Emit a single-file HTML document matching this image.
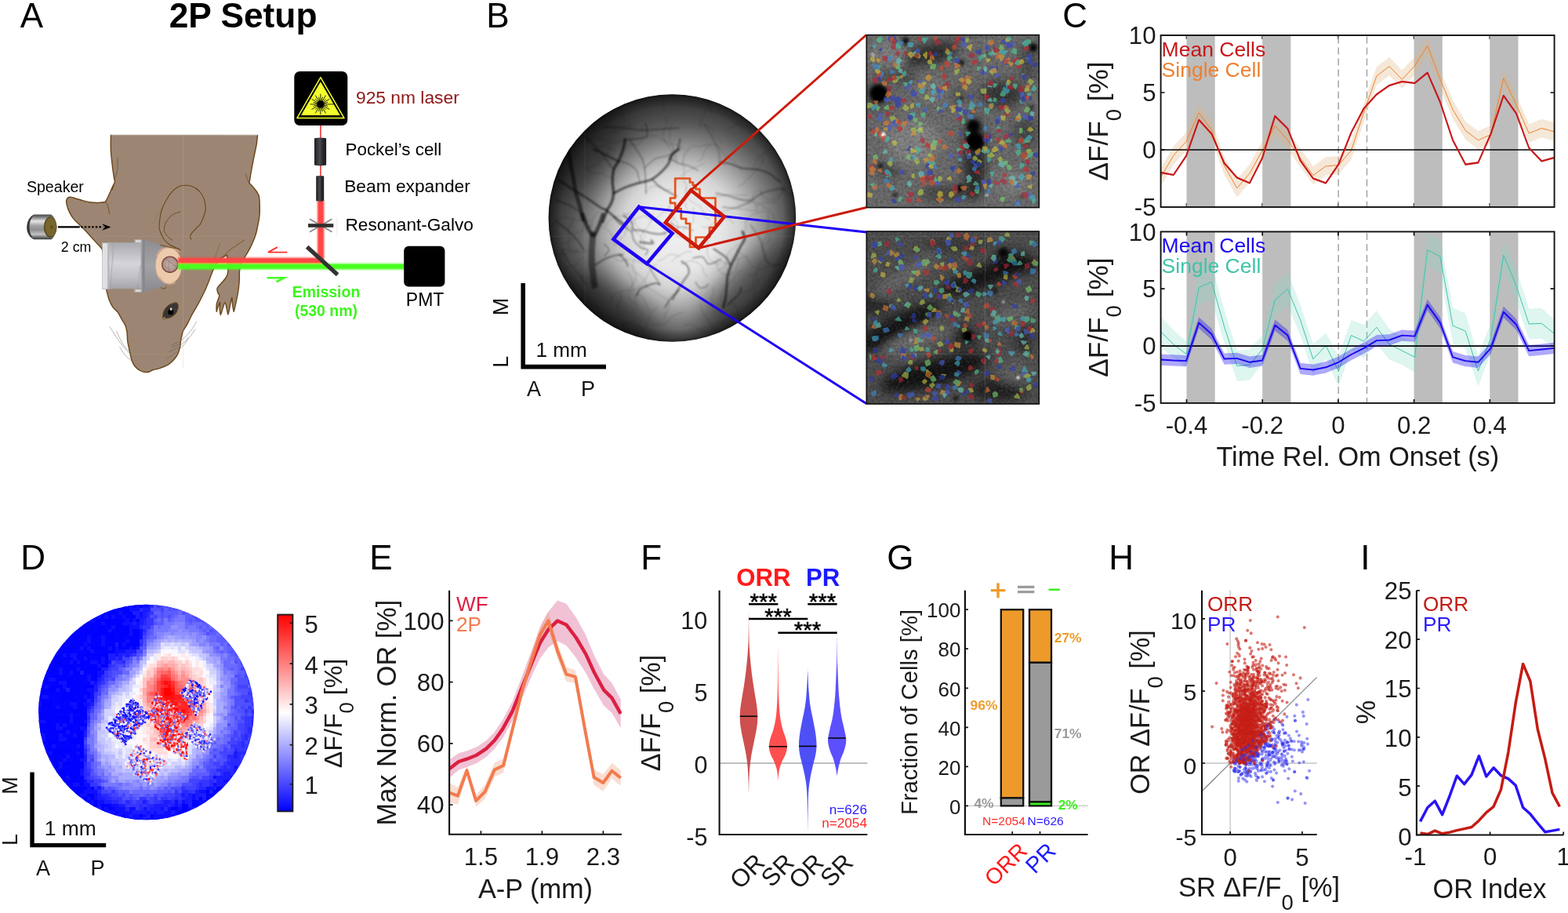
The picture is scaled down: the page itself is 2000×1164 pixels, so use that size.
<!DOCTYPE html>
<html lang="en"><head><meta charset="utf-8"><title>Figure</title>
<style>html,body{margin:0;padding:0;background:#fff}body{width:2000px;height:1164px;overflow:hidden}svg{display:block}text{white-space:pre}</style>
</head><body>
<svg width="2000" height="1164" viewBox="0 0 2000 1164" font-family='"Liberation Sans", sans-serif'>
<defs>
<linearGradient id="gObj" x1="0" y1="0" x2="0" y2="1"><stop offset="0" stop-color="#a9a9ae"/><stop offset="0.45" stop-color="#d4d4da"/><stop offset="0.75" stop-color="#c0c0c6"/><stop offset="1" stop-color="#a4a4a9"/></linearGradient>
<linearGradient id="gObj2" x1="0" y1="0" x2="0" y2="1"><stop offset="0" stop-color="#8e8e92"/><stop offset="0.5" stop-color="#a2a2a7"/><stop offset="1" stop-color="#8a8a8e"/></linearGradient>
<linearGradient id="gCell" x1="0" y1="0" x2="1" y2="0"><stop offset="0" stop-color="#1c1c20"/><stop offset="0.45" stop-color="#4a4a50"/><stop offset="0.7" stop-color="#2a2a2e"/><stop offset="1" stop-color="#18181b"/></linearGradient>
<linearGradient id="gSpk" x1="0" y1="0" x2="0" y2="1"><stop offset="0" stop-color="#444"/><stop offset="0.1" stop-color="#7a7a7a"/><stop offset="0.27" stop-color="#e6e6e6"/><stop offset="0.45" stop-color="#a2a2a2"/><stop offset="0.62" stop-color="#8e8e8e"/><stop offset="0.8" stop-color="#c4c4c4"/><stop offset="0.92" stop-color="#6a6a6a"/><stop offset="1" stop-color="#3a3a3a"/></linearGradient>
<filter id="bl1" x="-20%" y="-20%" width="140%" height="140%"><feGaussianBlur stdDeviation="0.8"/></filter>
<radialGradient id="gBrain" cx="0.5" cy="0.5" r="0.5"><stop offset="0" stop-color="#c2ada5"/><stop offset="0.75" stop-color="#b09890"/><stop offset="1" stop-color="#947870"/></radialGradient>
<clipPath id="cpWF"><circle cx="857.4" cy="278" r="157.8"/></clipPath>
<radialGradient id="gWF" gradientUnits="userSpaceOnUse" cx="868" cy="294" r="176"><stop offset="0" stop-color="#f0f0f0"/><stop offset="0.28" stop-color="#e8e8e8"/><stop offset="0.42" stop-color="#d4d4d4"/><stop offset="0.54" stop-color="#acacac"/><stop offset="0.66" stop-color="#7e7e7e"/><stop offset="0.78" stop-color="#565656"/><stop offset="0.9" stop-color="#3c3c3c"/><stop offset="1" stop-color="#2c2c2c"/></radialGradient>
<radialGradient id="gWFrim" gradientUnits="userSpaceOnUse" cx="857.4" cy="278" r="157.8"><stop offset="0.9" stop-color="#000" stop-opacity="0"/><stop offset="0.975" stop-color="#000" stop-opacity="0.3"/><stop offset="1" stop-color="#000" stop-opacity="0.6"/></radialGradient>
<filter id="blV" x="-10%" y="-10%" width="120%" height="120%"><feGaussianBlur stdDeviation="1.0"/></filter>
<filter id="blBig" x="-60%" y="-60%" width="220%" height="220%"><feGaussianBlur stdDeviation="16"/></filter>
<filter id="nzWF" x="0" y="0" width="100%" height="100%"><feTurbulence type="fractalNoise" baseFrequency="0.11" numOctaves="3" seed="4"/><feColorMatrix type="matrix" values="0 0 0 0 0  0 0 0 0 0  0 0 0 0 0  1.2 0 0 0 -0.42"/></filter>
<filter id="nz2p" x="0" y="0" width="100%" height="100%"><feTurbulence type="fractalNoise" baseFrequency="0.35" numOctaves="2" seed="7"/><feColorMatrix type="matrix" values="0 0 0 0 1  0 0 0 0 1  0 0 0 0 1  1.6 0 0 0 -0.62"/></filter>
<filter id="nz2pd" x="0" y="0" width="100%" height="100%"><feTurbulence type="fractalNoise" baseFrequency="0.3" numOctaves="2" seed="11"/><feColorMatrix type="matrix" values="0 0 0 0 0  0 0 0 0 0  0 0 0 0 0  1.6 0 0 0 -0.62"/></filter>
<filter id="blD" x="-50%" y="-50%" width="200%" height="200%"><feGaussianBlur stdDeviation="2.2"/></filter>
<filter id="blD2" x="-50%" y="-50%" width="200%" height="200%"><feGaussianBlur stdDeviation="7"/></filter>
<clipPath id="cp2p0"><rect x="1105.3" y="44.6" width="220" height="220"/></clipPath>
<clipPath id="cp2p1"><rect x="1105.3" y="295" width="220" height="220"/></clipPath>
<clipPath id="cpC0"><rect x="1480.6" y="45.0" width="502.0" height="219.0"/></clipPath>
<clipPath id="cpC1"><rect x="1480.6" y="295.4" width="502.0" height="218.5"/></clipPath>
<clipPath id="cpD"><circle cx="186.4" cy="908" r="137.3"/></clipPath>
<linearGradient id="gCB" x1="0" y1="1" x2="0" y2="0"><stop offset="0" stop-color="#0000ff"/><stop offset="0.5" stop-color="#ffffff"/><stop offset="1" stop-color="#ff0000"/></linearGradient>
<clipPath id="cpE"><rect x="573.1" y="747.8" width="219.89999999999998" height="316.0"/></clipPath>
</defs>
<text x="25.7" y="35.2" font-size="44" fill="#000">A</text>
<text x="310.1" y="35.1" font-size="44.3" fill="#000" text-anchor="middle" font-weight="bold">2P Setup</text>
<path d="M141.4 172.2 L328.5 172.4L328.5 172.4C328.3 174.3 328 179.1 327.2 184.1C326.3 189 324.7 196.5 323.5 202.1C322.4 207.7 321.5 212.5 320.5 217.7C319.6 223 318.4 230.8 318 233.4L318 233.4C319.1 234.5 322.5 237.8 324.5 240.4C326.5 243 328.9 245.4 330 249C331.2 252.7 331.1 257.8 331.2 262.3C331.4 266.7 331.3 271.3 330.9 275.5C330.5 279.7 329.5 283.9 328.8 287.5C328.1 291.1 327.6 294 326.7 297.2C325.8 300.4 324.6 303.7 323.3 306.8C322 309.9 320.7 312.8 319.1 315.9C317.5 319 315.5 322.2 313.7 325.5C311.8 328.8 309.3 332.4 307.9 335.7C306.5 339 305.9 341.7 305.5 345.3C305.1 348.9 305.5 353.4 305.3 357.4C305 361.4 304.6 365.4 304.1 369.4C303.5 373.4 302.7 377.6 301.9 381.4C301.1 385.2 300.1 389.6 299.5 392.3C298.9 394.9 298.4 396.5 298.2 397.3L298.2 397.3C297.9 395.9 297 391.6 296.6 388.6C296.2 385.7 296.3 380 295.9 379.6C295.5 379.2 294.7 383.5 294.1 386.2C293.5 388.9 292.8 393.4 292.3 395.9C291.7 398.3 291.1 400.1 290.8 400.9L290.8 400.9C290.5 399.5 289.5 394.8 288.9 392.3C288.3 389.7 287.7 385.6 287 385.6C286.2 385.6 285.1 390.2 284.3 392.3C283.6 394.4 283.2 396.7 282.6 398.3C282.1 399.8 281.4 400.9 281.2 401.4L281.2 401.4C281 400.1 280.3 396.1 280.2 393.5C280.2 390.8 281.1 386 280.7 385.6C280.4 385.2 279 389.1 278.2 391.1C277.4 393 276.5 396.3 276.2 397.3L276.2 397.3C276.2 395.7 275.8 390.8 276.4 387.4C277 384.1 279.5 379.6 279.8 377.2C280 374.9 278.3 374.9 277.8 373.2C277.4 371.6 276.6 369.4 277.1 367.6C277.7 365.7 279.4 364.4 281.2 362.2C283 359.9 286.6 356.6 288.2 354C289.8 351.4 290.5 349.6 290.8 346.5C291.2 343.5 290.5 339.3 290.3 335.7C290.1 332.1 289.7 326.9 289.6 325.1L289.6 325.1C288.2 326 283.6 328.1 281.2 330.3C278.8 332.5 276.8 335.7 275.2 338.1C273.6 340.5 273 341.5 271.6 344.7C270.2 347.9 268.6 352.9 266.8 357.4C265 361.9 263 367 260.8 371.8C258.5 376.6 256.1 381.4 253.5 386.2C250.9 391.1 247.6 396.1 245.1 400.7C242.6 405.3 240.4 410.4 238.5 413.9C236.6 417.4 234.9 418.6 233.7 421.7C232.4 424.8 231.6 429.1 230.9 432.6C230.2 436 230.2 439.1 229.6 442.2C229 445.2 228.3 448.2 227.1 450.8C225.8 453.5 224.3 455.8 222.3 458.1C220.3 460.3 218 462.7 215 464.6C212 466.4 207.6 468.2 204.2 469.4C200.8 470.6 196.8 471 194.6 471.8C192.4 472.5 192.6 473.4 191 473.8C189.4 474.3 187.2 474.9 185 474.5C182.8 474.2 179.9 473.1 177.7 471.8C175.5 470.4 173.3 468.6 171.7 466.5C170.1 464.4 169.2 462.5 168.1 459.3C167 456.1 166.1 451.2 165.2 447.2C164.4 443.2 163.3 439 162.8 435.2C162.3 431.4 162.5 427.6 162.1 424.4C161.7 421.2 161.5 419 160.3 416C159.1 412.9 156.6 409.3 154.9 406.3C153.2 403.3 151.9 400.3 150.1 397.9C148.3 395.5 145.9 394.5 144.1 391.9C142.3 389.3 140.6 385.9 139.2 382.3C137.9 378.7 136.6 373.2 135.9 370.2C135.2 367.3 135.2 365.5 135 364.6L135 364.6C134.9 360.5 134.8 347.9 134 340C133.2 332.1 130.9 321.1 130.3 317.4L130.3 317.4C129.3 316.3 126.5 313.3 124.1 310.8C121.8 308.3 119 305.1 116.4 302.3C113.8 299.4 111.2 296.5 108.7 293.8C106.1 291.1 103.4 288.5 100.9 286C98.5 283.6 96 281.7 94 279.1C91.9 276.5 90 273.4 88.6 270.6C87.1 267.7 86.1 264.5 85.5 262.1C84.8 259.6 84.5 257.5 84.7 255.9C84.9 254.2 85.6 252.9 86.6 252.2C87.7 251.4 89.1 251.2 90.9 251.4C92.6 251.6 94.5 252.4 97.1 253.2C99.6 253.9 103.3 255.1 106.3 255.9C109.4 256.7 112.4 257.6 115.6 258C118.9 258.5 122.6 258.4 125.7 258.4C128.8 258.3 132.8 257.7 134.2 257.6L134.2 257.6C134.7 256.7 136.1 254.4 137.3 252C138.4 249.7 139.9 246.3 141.2 243.5C142.4 240.7 144.7 235.3 145 235C145.3 234.7 142.6 242.5 142.9 241.8C143.1 241.1 146.1 232.8 146.7 231L146.7 231C146.5 230.4 146.2 231 145.6 227.4C145 223.8 143.8 215.3 143.1 209.3C142.4 203.3 141.7 197.5 141.4 191.3C141.1 185.1 141.4 175.3 141.4 172.2Z" fill="#9c8673"/>
<path d="M328.5 172.4C328.3 174.3 328 179.1 327.2 184.1C326.3 189 324.7 196.5 323.5 202.1C322.4 207.7 321.5 212.5 320.5 217.7C319.6 223 318.4 230.8 318 233.4L318 233.4C319.1 234.5 322.5 237.8 324.5 240.4C326.5 243 328.9 245.4 330 249C331.2 252.7 331.1 257.8 331.2 262.3C331.4 266.7 331.3 271.3 330.9 275.5C330.5 279.7 329.5 283.9 328.8 287.5C328.1 291.1 327.6 294 326.7 297.2C325.8 300.4 324.6 303.7 323.3 306.8C322 309.9 320.7 312.8 319.1 315.9C317.5 319 315.5 322.2 313.7 325.5C311.8 328.8 309.3 332.4 307.9 335.7C306.5 339 305.9 341.7 305.5 345.3C305.1 348.9 305.5 353.4 305.3 357.4C305 361.4 304.6 365.4 304.1 369.4C303.5 373.4 302.7 377.6 301.9 381.4C301.1 385.2 300.1 389.6 299.5 392.3C298.9 394.9 298.4 396.5 298.2 397.3L298.2 397.3C297.9 395.9 297 391.6 296.6 388.6C296.2 385.7 296.3 380 295.9 379.6C295.5 379.2 294.7 383.5 294.1 386.2C293.5 388.9 292.8 393.4 292.3 395.9C291.7 398.3 291.1 400.1 290.8 400.9L290.8 400.9C290.5 399.5 289.5 394.8 288.9 392.3C288.3 389.7 287.7 385.6 287 385.6C286.2 385.6 285.1 390.2 284.3 392.3C283.6 394.4 283.2 396.7 282.6 398.3C282.1 399.8 281.4 400.9 281.2 401.4L281.2 401.4C281 400.1 280.3 396.1 280.2 393.5C280.2 390.8 281.1 386 280.7 385.6C280.4 385.2 279 389.1 278.2 391.1C277.4 393 276.5 396.3 276.2 397.3L276.2 397.3C276.2 395.7 275.8 390.8 276.4 387.4C277 384.1 279.5 379.6 279.8 377.2C280 374.9 278.3 374.9 277.8 373.2C277.4 371.6 276.6 369.4 277.1 367.6C277.7 365.7 279.4 364.4 281.2 362.2C283 359.9 286.6 356.6 288.2 354C289.8 351.4 290.5 349.6 290.8 346.5C291.2 343.5 290.5 339.3 290.3 335.7C290.1 332.1 289.7 326.9 289.6 325.1L289.6 325.1C288.2 326 283.6 328.1 281.2 330.3C278.8 332.5 276.8 335.7 275.2 338.1C273.6 340.5 273 341.5 271.6 344.7C270.2 347.9 268.6 352.9 266.8 357.4C265 361.9 263 367 260.8 371.8C258.5 376.6 256.1 381.4 253.5 386.2C250.9 391.1 247.6 396.1 245.1 400.7C242.6 405.3 240.4 410.4 238.5 413.9C236.6 417.4 234.9 418.6 233.7 421.7C232.4 424.8 231.6 429.1 230.9 432.6C230.2 436 230.2 439.1 229.6 442.2C229 445.2 228.3 448.2 227.1 450.8C225.8 453.5 224.3 455.8 222.3 458.1C220.3 460.3 218 462.7 215 464.6C212 466.4 207.6 468.2 204.2 469.4C200.8 470.6 196.8 471 194.6 471.8C192.4 472.5 192.6 473.4 191 473.8C189.4 474.3 187.2 474.9 185 474.5C182.8 474.2 179.9 473.1 177.7 471.8C175.5 470.4 173.3 468.6 171.7 466.5C170.1 464.4 169.2 462.5 168.1 459.3C167 456.1 166.1 451.2 165.2 447.2C164.4 443.2 163.3 439 162.8 435.2C162.3 431.4 162.5 427.6 162.1 424.4C161.7 421.2 161.5 419 160.3 416C159.1 412.9 156.6 409.3 154.9 406.3C153.2 403.3 151.9 400.3 150.1 397.9C148.3 395.5 145.9 394.5 144.1 391.9C142.3 389.3 140.6 385.9 139.2 382.3C137.9 378.7 136.6 373.2 135.9 370.2C135.2 367.3 135.2 365.5 135 364.6L135 364.6C134.9 360.5 134.8 347.9 134 340C133.2 332.1 130.9 321.1 130.3 317.4L130.3 317.4C129.3 316.3 126.5 313.3 124.1 310.8C121.8 308.3 119 305.1 116.4 302.3C113.8 299.4 111.2 296.5 108.7 293.8C106.1 291.1 103.4 288.5 100.9 286C98.5 283.6 96 281.7 94 279.1C91.9 276.5 90 273.4 88.6 270.6C87.1 267.7 86.1 264.5 85.5 262.1C84.8 259.6 84.5 257.5 84.7 255.9C84.9 254.2 85.6 252.9 86.6 252.2C87.7 251.4 89.1 251.2 90.9 251.4C92.6 251.6 94.5 252.4 97.1 253.2C99.6 253.9 103.3 255.1 106.3 255.9C109.4 256.7 112.4 257.6 115.6 258C118.9 258.5 122.6 258.4 125.7 258.4C128.8 258.3 132.8 257.7 134.2 257.6L134.2 257.6C134.7 256.7 136.1 254.4 137.3 252C138.4 249.7 139.9 246.3 141.2 243.5C142.4 240.7 144.7 235.3 145 235C145.3 234.7 142.6 242.5 142.9 241.8C143.1 241.1 146.1 232.8 146.7 231L146.7 231C146.5 230.4 146.2 231 145.6 227.4C145 223.8 143.8 215.3 143.1 209.3C142.4 203.3 141.7 197.5 141.4 191.3C141.1 185.1 141.4 175.3 141.4 172.2" fill="none" stroke="#6b4619" stroke-width="1.45" stroke-linejoin="round" stroke-linecap="round"/>
<path d="M141.4 172.2H328.5" stroke="#a8937f" stroke-width="0.8"/>
<path d="M243.9 305C243.7 304.4 242.3 302.8 242.5 301.4C242.7 300 243.5 298.7 245.1 296.6C246.8 294.5 250.5 290.7 252.3 288.8C254.1 286.9 254.3 288.5 255.9 285.1C257.5 281.7 261.2 273.5 262 268.3C262.7 263.1 261.7 258 260.3 253.8C258.9 249.6 256.1 245.7 253.5 243C251 240.3 248.1 238.8 245.1 237.7C242.1 236.6 238.5 236.2 235.5 236.3C232.5 236.4 229.9 236.7 227.1 238.2C224.3 239.7 221.3 242.4 218.6 245.4C216 248.4 213.5 252.4 211.4 256.2C209.3 260.1 207.4 264.3 206.1 268.3C204.9 272.3 204.3 276.7 203.7 280.3C203.2 283.9 202.9 287.5 203 289.9C203.1 292.3 203.2 292.3 204.2 294.8C205.2 297.3 207 302.2 209 305C211 307.8 213.6 309.8 216.2 311.7C218.8 313.5 222.5 314.8 224.7 315.9C226.9 317 228.7 317.9 229.5 318.3" fill="none" stroke="#6b4619" stroke-width="1.1" stroke-linecap="round"/>
<path d="M230.1 270.1C228.8 270.5 224.8 271.1 222.3 272.5C219.7 273.9 217 276.2 215 278.5C213.1 280.8 211.4 283.8 210.5 286.3C209.5 288.8 209.3 291.7 209.4 293.5C209.4 295.4 209.9 295.7 210.8 297.2C211.8 298.7 213.6 301.1 215 302.6C216.5 304.1 218.8 305.6 219.6 306.2" fill="none" stroke="#6b4619" stroke-width="0.9" stroke-linecap="round"/>
<path d="M215 251.4C213.2 254.2 207.5 262.7 204.2 268.3C200.9 273.9 196.7 282.3 195.2 285.1" fill="none" stroke="#8a6a48" stroke-width="0.45"/>
<path d="M134.2 257.6C134.5 257.9 135.5 258.2 136.1 259.4C136.8 260.5 137.5 262.1 138.1 264.4C138.6 266.6 139.3 271.5 139.6 272.9" fill="none" stroke="#6b4619" stroke-width="0.9"/>
<path d="M150.1 200.9C150 203.7 150.3 213.1 149.6 217.7C148.9 222.4 146.6 226.8 146 228.6" fill="none" stroke="#6b4619" stroke-width="0.7"/>
<path d="M313.4 221.6C313.8 222.8 314.7 226.6 315.5 228.6C316.3 230.5 317.6 232.6 318 233.4" fill="none" stroke="#6b4619" stroke-width="0.7"/>
<path d="M312.5 305.6C309.5 307.7 299.6 313.8 294.4 317.9C289.2 322 283.4 328.2 281.2 330.3" fill="none" stroke="#6b4619" stroke-width="0.8"/>
<path d="M281.2 309.2C280.4 311.3 277.8 317.8 276.6 321.3C275.4 324.7 274.4 328.5 274 329.9" fill="none" stroke="#7a5a38" stroke-width="0.6"/>
<path d="M165.1 450.6C163.2 448.4 157.9 443.1 153.7 437.4C149.5 431.7 142.2 419.8 139.8 416.3" fill="none" stroke="#77746c" stroke-width="0.55"/>
<path d="M164.8 448.2C163.3 446.4 158.8 441.8 156.1 437.4C153.3 433 149.6 424.3 148.3 421.7" fill="none" stroke="#77746c" stroke-width="0.55"/>
<path d="M168.1 460.2C166.7 459 162.3 456 159.7 453C157.1 450 153.7 444 152.5 442.2" fill="none" stroke="#77746c" stroke-width="0.55"/>
<path d="M230.1 435C232 433.2 238 428.3 241.5 424.1C245 419.9 249.5 412.1 251.1 409.7" fill="none" stroke="#77746c" stroke-width="0.55"/>
<path d="M230.7 439.8C232.5 438.2 238.4 433.6 241.5 430.2C244.6 426.7 248 421.1 249.3 419.3" fill="none" stroke="#77746c" stroke-width="0.55"/>
<path d="M229.5 444.6C230.5 443.6 233.7 441 235.5 438.6C237.3 436.2 239.5 431.6 240.3 430.2" fill="none" stroke="#77746c" stroke-width="0.55"/>
<path d="M218 440.4 L228.9 435.6" fill="none" stroke="#6a675f" stroke-width="0.7"/>
<path d="M218.6 442.8 L228.3 439.2" fill="none" stroke="#6a675f" stroke-width="0.7"/>
<path d="M215 448.8 L227.7 442.8" fill="none" stroke="#6a675f" stroke-width="0.7"/>
<path d="M212.6 457.2 L225.9 448.8" fill="none" stroke="#6a675f" stroke-width="0.7"/>
<path d="M207.8 406.1C207.3 404.7 207.5 400.3 208.4 397.7C209.3 395.1 211.1 392.4 213.2 390.5C215.3 388.5 218.8 386.8 221.1 386.2C223.3 385.6 225.5 385.7 226.5 386.8C227.5 387.9 227.5 390.7 227.1 392.9C226.7 395.1 225.7 398.1 224.1 400.1C222.5 402.1 219.5 403.9 217.4 404.9C215.3 405.9 213 405.9 211.4 406.1C209.8 406.3 208.3 407.5 207.8 406.1Z" fill="#3b3634" stroke="#7a5218" stroke-width="0.9"/>
<circle cx="217.7" cy="397.9" r="3.6" fill="#000"/>
<ellipse cx="218.2" cy="394.1" rx="1.2" ry="1.9" fill="#e8e8e8"/>
<path d="M207.8 406.1 L209.6 404.3 L211.4 406.1Z" fill="#b8a898"/>
<path d="M233.7 173V470" stroke="#c9b9a6" stroke-width="0.5" opacity="0.6"/>
<path d="M116 301.3H327" stroke="#c9b9a6" stroke-width="0.5" opacity="0.35"/>
<path d="M160 451.3H232" stroke="#c9b9a6" stroke-width="0.5" opacity="0.35"/>
<path d="M183.8 306 L192.2 307.8 L201.8 311.4 L210.2 315.9 L204.2 326.1 L200.8 338.1 L203 350.2 L212.6 362.2 L204.2 366 L194.6 369.4 L183.8 372.2Z" fill="url(#gObj2)"/>
<rect x="144.1" y="309.2" width="35.8" height="58.9" fill="url(#gObj)"/>
<rect x="130.6" y="309.8" width="7" height="58.9" fill="#e0e0e3" stroke="#b0b0b4" stroke-width="0.6"/>
<rect x="137.6" y="309.2" width="6.7" height="59.2" fill="url(#gObj)"/>
<rect x="137.6" y="309.2" width="1.7" height="59.2" fill="#b8b8bd"/>
<rect x="171.1" y="305.6" width="9.6" height="3.6" fill="#d4d4d8"/>
<rect x="171.1" y="368.8" width="9.6" height="3.6" fill="#d4d4d8"/>
<rect x="171.1" y="305.6" width="1.8" height="3.6" fill="#a8a8ac"/>
<rect x="171.1" y="368.8" width="1.8" height="3.6" fill="#a8a8ac"/>
<rect x="179.9" y="305.6" width="4.7" height="66.8" fill="#87878c"/>
<rect x="179.9" y="305.6" width="1.4" height="66.8" fill="#a6a6ab"/>
<line x1="145" y1="310.5" x2="140.5" y2="367.6" stroke="#98989c" stroke-width="0.6"/>
<line x1="179.2" y1="338.1" x2="175.6" y2="367.6" stroke="#98989c" stroke-width="0.6"/>
<ellipse cx="215" cy="338.7" rx="16.8" ry="23.2" fill="#ebcbab" stroke="#c9a184" stroke-width="0.9"/>
<path d="M199.4 326.1C200.2 324.9 202 320.6 204.2 318.9C206.4 317.2 209.6 316.2 212.6 315.9C215.6 315.5 219.4 315.8 222.3 316.7C225.1 317.6 228.3 320.5 229.5 321.3" fill="none" stroke="#d8a890" stroke-width="1.4"/>
<path d="M203 352.6C204 353.8 206.8 358.2 209 359.8C211.2 361.4 213.8 362.1 216.2 362.2C218.6 362.3 222.3 360.7 223.5 360.4" fill="none" stroke="#d8a890" stroke-width="1.4"/>
<circle cx="216.8" cy="337.2" r="10.2" fill="url(#gBrain)" stroke="#7a3c30" stroke-width="1.1"/>
<path d="M211.4 329.7C212.2 330.3 214.6 332 216.2 333.3C217.8 334.6 219.4 336.3 221.1 337.5C222.7 338.7 225.1 340 225.9 340.5" fill="none" stroke="#6a4a40" stroke-width="0.5"/>
<path d="M216.2 333.3C216 334.5 215 338.3 215 340.5C215 342.7 216 345.5 216.2 346.5" fill="none" stroke="#7a5a50" stroke-width="0.4"/>
<path d="M209 338.1C209.6 338.7 211.6 341.3 212.6 341.7C213.6 342.1 214.6 340.7 215 340.5" fill="none" stroke="#8a6a60" stroke-width="0.35"/>
<path d="M204.2 312.3C205.4 312.6 208.8 313.5 211.4 314.1C214 314.7 217 315.3 219.8 315.9C222.7 316.4 226.6 316.7 228.3 317.4C230 318.1 229.8 319.6 230.1 320.1" fill="none" stroke="#6b4619" stroke-width="1.0"/>
<path d="M204.8 366.4C205.5 366.7 207.7 368.3 209 368.2C210.3 368.1 212 366.2 212.6 365.8" fill="none" stroke="#6b4619" stroke-width="0.9"/>
<g filter="url(#bl1)">
<rect x="405" y="256" width="8.2" height="76" fill="#ff4040"/>
<rect x="227" y="328.6" width="186" height="7.2" fill="#ff4040"/>
<rect x="227" y="336.2" width="289" height="7.2" fill="#44ff1c"/>
</g>
<rect x="406.2" y="256" width="5.8" height="74" fill="#ff4646"/>
<rect x="228" y="329.8" width="182" height="4.8" fill="#ff4646"/>
<rect x="228" y="337.2" width="288" height="5.2" fill="#48ff20"/>
<rect x="408.1" y="158" width="1.6" height="100" fill="#f03838"/>
<rect x="375.3" y="91" width="68" height="69" rx="7" fill="#000"/>
<path d="M408.9 98.6L439 150.6H378.8Z" fill="none" stroke="#f2ff2e" stroke-width="1.5" stroke-linejoin="round"/>
<path d="M408.9 104.2L433.8 147H384Z" fill="#f2ff2e"/>
<path d="M408.9 132.9L425.9 132.9M408.9 132.9L418.1 130.4M408.9 132.9L420.3 126.3M408.9 132.9L415.6 126.2M408.9 132.9L415.5 121.5M408.9 132.9L411.4 123.7M408.9 132.9L408.9 119.7M408.9 132.9L406.4 123.7M408.9 132.9L402.3 121.5M408.9 132.9L402.2 126.2M408.9 132.9L397.5 126.3M408.9 132.9L399.7 130.4M408.9 132.9L395.7 132.9M408.9 132.9L399.7 135.4M408.9 132.9L397.5 139.5M408.9 132.9L402.2 139.6M408.9 132.9L402.3 144.3M408.9 132.9L406.4 142.1M408.9 132.9L408.9 146.1M408.9 132.9L411.4 142.1M408.9 132.9L415.5 144.3M408.9 132.9L415.6 139.6M408.9 132.9L420.3 139.5M408.9 132.9L418.1 135.4" stroke="#111" stroke-width="0.9"/>
<circle cx="408.9" cy="132.9" r="4.6" fill="#000"/>
<text x="454" y="132.2" font-size="22.8" fill="#8f1616">925 nm laser</text>
<path d="M401 176.2Q408.5 174.8 416.1 176.2V210.6Q408.5 212.2 401 210.6Z" fill="url(#gCell)"/>
<text x="440.5" y="198.3" font-size="22.4" fill="#000">Pockel’s cell</text>
<path d="M403.2 224.4Q408.2 223.4 413.2 224.4V256.2Q408.2 257 403.2 256.2Z" fill="url(#gCell)"/>
<text x="439.2" y="245" font-size="22.75" fill="#000">Beam expander</text>
<path d="M395 279.2L423.5 295.8M395 295.8L423.5 279.2" stroke="#8a8a8a" stroke-width="1.9"/>
<rect x="393" y="285.2" width="32.3" height="4.6" fill="#2e2e2e"/>
<path d="M429.8 277V301" stroke="#ddd" stroke-width="0.6"/>
<text x="440.5" y="294" font-size="22.6" fill="#000">Resonant-Galvo</text>
<path d="M391.6 314.8L430.6 350.2" stroke="#333" stroke-width="5.2"/>
<rect x="515.2" y="313.8" width="52.2" height="51.8" rx="6" fill="#000"/>
<text x="542.1" y="390.1" font-size="23" fill="#000" text-anchor="middle">PMT</text>
<path d="M366.3 321.6H342L353.8 315.2" fill="none" stroke="#ff3030" stroke-width="1.9"/>
<path d="M340.5 353H367.5L353.4 360.4L351.8 358L357.5 355.4H340.5Z" fill="#40ff20"/>
<text x="416" y="379.2" font-size="19.5" fill="#3df51d" text-anchor="middle" font-weight="bold">Emission</text>
<text x="416" y="402.9" font-size="19.5" fill="#3df51d" text-anchor="middle" font-weight="bold">(530 nm)</text>
<path d="M43.1 273.4L65.3 273.4Q71.8 277.6 72.5 289.4Q71.8 301.2 65.3 305.2L43.1 305.2Q34.2 300.3 34.2 289.4Q34.2 278.6 43.1 273.4Z" fill="url(#gSpk)"/>
<path d="M43.1 273.4Q34.2 278.6 34.2 289.4Q34.2 300.3 43.1 305.2Q37.5 298.4 37.5 289.4Q37.5 280.5 43.1 273.4Z" fill="#1c1c1c" opacity="0.8"/>
<ellipse cx="64.2" cy="289.4" rx="8.3" ry="13.2" fill="#4e431c"/>
<ellipse cx="64.7" cy="289.4" rx="7.3" ry="12.2" fill="#76652c"/>
<ellipse cx="65.8" cy="289.4" rx="1.1" ry="1.9" fill="#3a2c0e"/>
<ellipse cx="66" cy="289.4" rx="0.45" ry="0.8" fill="#c08a30"/>
<text x="33.9" y="245" font-size="19.6" fill="#000">Speaker</text>
<text x="77.8" y="321" font-size="17.8" fill="#000">2 cm</text>
<path d="M73.9 289.4H101.8" stroke="#000" stroke-width="2.3"/>
<path d="M103.2 289.4H131.5" stroke="#000" stroke-width="2.4" stroke-dasharray="2.5 2.15"/>
<path d="M141.6 289.4L130.2 285.2L134 289.4L130.2 293.8Z" fill="#000"/>
<text x="620.2" y="35.2" font-size="44" fill="#000">B</text>
<circle cx="857.4" cy="278" r="157.8" fill="url(#gWF)"/>
<g clip-path="url(#cpWF)">
<g filter="url(#blBig)">
<ellipse cx="968" cy="380" rx="85" ry="50" transform="rotate(-42 968 380)" fill="#000" opacity="0.45"/>
<ellipse cx="740" cy="190" rx="70" ry="45" transform="rotate(-45 740 190)" fill="#000" opacity="0.3"/>
<ellipse cx="775" cy="405" rx="75" ry="40" transform="rotate(38 775 405)" fill="#000" opacity="0.5"/>
</g>
<path d="M920.8 385.1C920.5 383.9 918.8 380.2 919 377.9C919.3 375.5 921.2 373.4 922.2 371.1C923.3 368.8 923.6 366 925.2 364.2C926.8 362.4 929.9 362.2 931.7 360.5C933.5 358.9 934.6 356.4 936.1 354.4C937.5 352.4 938.8 350 940.6 348.4C942.5 346.8 946.1 345.3 947.1 344.7M1001.6 290.8C1000.4 290.9 996.5 290.6 994.1 291.1C991.7 291.7 989.3 292.8 987.3 294.2C985.2 295.5 983 297.3 982 299.5C980.9 301.6 982 304.8 980.9 306.9C979.8 309 976.3 311.1 975.3 311.9M847.4 138.1C847.2 136.9 846.4 133.2 845.9 130.8C845.5 128.3 844.9 125.8 844.8 123.4C844.8 120.9 845.2 118.3 845.8 115.9C846.3 113.5 847.8 110 848.2 108.8M878.5 269.3C877.8 268.3 875.1 265.3 874.4 263C873.7 260.8 874.6 258 874.5 255.5C874.5 253 874.2 250.6 874.2 248.1C874.2 245.6 874.3 241.8 874.4 240.6M799.9 365.1C800.4 366.2 802.5 369.5 803.1 371.9C803.6 374.3 802.3 377.1 803 379.4C803.7 381.7 805.4 383.9 807.1 385.6C808.9 387.3 812.4 388.9 813.5 389.6M795.5 158.8C795.6 157.5 796.8 153.7 796.3 151.3C795.8 149 793.8 147 792.7 144.7C791.7 142.5 790.7 140.2 789.8 137.8C788.9 135.5 788.3 133 787.3 130.7C786.4 128.5 785.2 126.2 783.8 124.1C782.5 122 781 119.8 779 118.4C777 117 774.3 116.7 772 115.7C769.7 114.7 766.3 113.2 765.1 112.6M819.2 419.4C818.3 418.6 815.5 416 813.5 414.6C811.5 413.1 809.4 411.2 807.1 410.7C804.7 410.2 801.8 410.6 799.6 411.6C797.4 412.5 795.9 415.1 793.8 416.3C791.7 417.6 789.2 419.1 786.9 419.1C784.5 419.2 780.9 417.3 779.7 416.9M752.3 280.6C751.1 280.7 747.3 281.2 744.9 281.2C742.4 281.2 739.9 280.9 737.4 280.6C734.9 280.3 732.4 280 730 279.4C727.6 278.8 725.3 277.2 722.9 276.9C720.5 276.7 717.7 277 715.4 277.8C713.1 278.6 711.1 280.3 709.1 281.9C707.2 283.5 706 286.1 703.9 287.2C701.8 288.4 697.7 288.4 696.5 288.7M791.3 373.2C791.4 374.4 792.6 378.3 792.1 380.6C791.7 383 789.2 384.9 788.6 387.2C788 389.6 788.4 392.2 788.4 394.7C788.5 397.2 788.9 401 789 402.2M872.8 302.2C871.6 302.2 867.5 303.1 865.3 302.3C863.1 301.5 860.7 299.6 859.5 297.6C858.2 295.6 858.1 292.8 857.6 290.3C857.2 287.9 856.4 285.2 856.7 282.9C857.1 280.5 859.3 277.1 859.8 276M765.7 283.2C766.3 284.3 767.5 288.2 769.2 289.9C770.9 291.5 774 291.7 775.9 293.3C777.8 294.9 779.4 297 780.5 299.2C781.6 301.4 781.9 304 782.6 306.4C783.3 308.8 784.5 312.4 784.9 313.6M875.2 248.7C875.9 249.8 877.7 253.2 879.4 254.9C881.2 256.7 883.4 258 885.6 259.3C887.7 260.6 890.4 261.1 892.2 262.7C894 264.3 895.2 266.7 896.4 268.9C897.5 271.1 897.7 273.9 899.1 275.9C900.6 277.9 903.9 279.9 904.9 280.7M931.8 382.1C932.5 383.1 934.8 386.1 936.2 388.2C937.6 390.3 939.3 392.2 940.3 394.5C941.3 396.7 940.9 399.7 942.2 401.7C943.6 403.7 946 405.2 948.2 406.2C950.4 407.3 954.3 407.7 955.5 408M927.8 164.4C929 163.9 932.5 162.6 934.8 161.7C937.1 160.8 939.4 159.1 941.8 158.9C944.1 158.6 946.7 159.8 949.1 160.2C951.6 160.6 954.2 161.6 956.6 161.3C959 161 961.2 159.4 963.6 158.7C966 157.9 968.7 158.1 970.9 156.9C973 155.8 974.4 153.2 976.4 151.9C978.5 150.5 982.1 149.2 983.2 148.7M818.1 313.8C818 312.6 817.4 308.8 817.5 306.4C817.5 303.9 817.5 301.2 818.3 298.9C819.2 296.6 821.1 294.7 822.6 292.8C824.2 290.8 826.3 289.2 827.6 287.2C828.9 285.1 829.7 282.6 830.4 280.2C831.2 277.8 832 274.2 832.3 273M995.3 241.4C996.2 242.2 998.9 245.1 1001 246.2C1003.2 247.3 1006 247.2 1008.3 248.1C1010.6 249 1013.1 249.9 1015 251.4C1017 252.9 1019.1 256.1 1020 257.1M903.9 300.6C903.6 301.8 902.4 305.4 902.1 307.8C901.8 310.3 902 312.8 902 315.3C902 317.8 901.6 320.4 902.1 322.8C902.6 325.2 903.5 327.8 905 329.8C906.4 331.7 908.5 333.5 910.7 334.6C912.8 335.8 916.7 336.3 917.9 336.6M766.5 365.7C765.4 365.2 762 363.5 759.8 362.4C757.6 361.3 755.1 360.5 753.1 359C751.1 357.6 750 354.7 747.9 353.6C745.8 352.4 741.8 352.4 740.6 352.2M941.6 237.8C942.8 237.3 946.4 235.9 948.3 234.4C950.1 232.8 951 230.1 952.7 228.3C954.5 226.6 957.1 225.6 958.8 223.8C960.4 222 961.3 219.4 962.9 217.6C964.5 215.7 966.9 214.5 968.6 212.7C970.2 210.8 972.1 208.8 972.8 206.5C973.4 204.2 972.5 200.2 972.5 199M793.5 331.6C794.8 331.4 798.5 330.2 800.9 330.3C803.4 330.4 805.8 331.5 808.2 332.1C810.6 332.7 813.1 333.1 815.5 333.8C817.9 334.5 820.2 335.4 822.6 336.3C824.9 337.2 827.1 339 829.5 339.2C831.9 339.4 835.6 337.8 836.8 337.5M786.8 230.1C785.6 229.7 782.1 228.3 779.8 227.3C777.5 226.3 775.2 225.4 773 224.3C770.7 223.1 768.7 221.1 766.4 220.6C764.1 220.2 761.4 221.7 758.9 221.4C756.5 221.1 753.7 220.4 751.9 218.9C750 217.5 748.5 213.7 747.8 212.6M805.5 344.7C806.6 345.3 810.1 346.8 812.2 348.1C814.2 349.5 816.2 351.2 818 352.9C819.8 354.6 821.7 356.4 822.9 358.6C824 360.7 824.6 364.6 824.9 365.8M962.9 263C964 262.5 967.5 261.1 969.9 260.2C972.2 259.4 974.5 257.9 976.9 257.6C979.3 257.4 981.9 259.2 984.3 258.9C986.6 258.6 989.4 257.4 991.1 255.8C992.8 254.1 993.1 251.2 994.5 249.1C995.9 247 998.5 245.6 999.4 243.4C1000.2 241.2 999.7 237.1 999.8 235.9M839 391.6C838 392.4 834.7 394.4 833.1 396.2C831.4 398.1 830.3 400.4 829.2 402.6C828.1 404.9 827.3 407.3 826.4 409.6C825.5 411.9 824.9 414.4 823.8 416.6C822.7 418.9 821.7 421.5 819.9 423C818.1 424.6 814.8 424.3 812.9 425.8C811 427.3 809.3 430.9 808.6 431.9M753.1 291.4C753.3 290.1 753.8 286.4 754.5 284C755.2 281.6 755.9 279.1 757.2 277C758.4 274.9 760.3 273 762.1 271.4C764 269.7 766 267.9 768.3 267.1C770.5 266.2 774.5 266.4 775.7 266.3M818.4 160.4C818.6 161.6 819.5 165.3 819.8 167.8C820.1 170.3 820.5 172.9 820 175.3C819.5 177.7 818.5 180.4 816.9 182.1C815.3 183.8 812.6 185.3 810.3 185.7C808 186 805.3 183.9 803 184.3C800.6 184.6 798.4 186.4 796.4 187.9C794.4 189.3 791.9 192.2 791 193.1M821.9 364.8C823.1 365.4 826.4 367 828.7 368.1C830.9 369.3 833.2 370.3 835.3 371.7C837.4 373 839.1 374.9 841.2 376.2C843.3 377.6 845.9 378.2 847.8 379.7C849.8 381.2 852 383.1 852.9 385.2C853.9 387.4 854.1 390.5 853.5 392.7C852.8 395 850 396.6 849.1 398.8C848.2 401.1 848.2 405 848 406.3M744.6 328.3C743.5 328.9 740.1 330.6 738.2 332.2C736.3 333.8 735.5 336.7 733.5 338C731.5 339.3 728.5 339 726.2 339.9C723.9 340.8 721.5 341.9 719.6 343.5C717.7 345 716.6 347.7 714.6 349.1C712.7 350.5 709.6 350.4 707.6 351.8C705.6 353.1 704.5 355.8 702.7 357.4C700.8 359 697.5 360.9 696.5 361.6M893.3 388.2C893.7 389.4 894.6 393.1 895.6 395.4C896.5 397.7 897.6 399.9 898.9 402.1C900.1 404.3 901.6 406.3 903.1 408.3C904.6 410.3 906.4 412.1 907.6 414.3C908.9 416.4 910 418.8 910.7 421.1C911.4 423.5 911.9 426 912 428.5C912.2 431 911.7 434.7 911.6 436M823.4 245.4C824.2 244.4 826.5 241.3 828.6 239.9C830.6 238.6 833.2 237.4 835.5 237.2C837.9 237 840.5 238 842.8 238.9C845.1 239.9 847 242.2 849.3 242.7C851.7 243.1 855.5 241.7 856.7 241.5M827.7 277.8C826.5 277.4 822.9 275.4 820.6 275.5C818.2 275.5 815.9 277.4 813.6 278.2C811.2 279.1 808.4 279.2 806.4 280.5C804.5 281.9 803 284.2 801.7 286.3C800.4 288.4 799.5 290.8 798.6 293.1C797.6 295.5 797.4 298.2 796 300.2C794.5 302.1 791 304 790 304.8M819.7 318.1C820.1 316.9 822 313.4 821.9 311C821.9 308.6 820.8 306 819.5 303.9C818.2 301.8 816.2 300.1 814.3 298.5C812.5 296.8 810.3 295.4 808.4 293.8C806.5 292.2 805 290 802.9 288.7C800.8 287.5 797.9 287.4 795.9 286.1C793.8 284.8 791.4 281.7 790.6 280.8M937.3 158C938.4 157.4 942.2 156.1 943.9 154.3C945.5 152.6 946.2 149.9 947.2 147.6C948.2 145.3 948.6 142.6 950 140.6C951.3 138.6 954.6 136.5 955.5 135.6M978.7 269.7C978.9 270.9 979.8 274.6 980 277.1C980.3 279.6 980.4 282.1 980.2 284.6C980.1 287.1 979.4 289.5 979.1 292C978.8 294.5 979.1 297.1 978.4 299.5C977.6 301.8 975.6 303.7 974.6 306C973.6 308.2 972.8 310.7 972.4 313.1C972.1 315.6 972.6 319.4 972.6 320.6M808 343.2C807.4 342.2 805.8 338.6 804.2 336.8C802.5 335 800.2 333.3 798 332.6C795.7 331.9 792.8 333 790.5 332.4C788.1 331.7 785 329.4 783.9 328.8M800.6 346.5C801.3 347.6 803.5 350.6 804.6 352.9C805.6 355.1 806.3 357.6 806.8 360C807.3 362.4 806.7 365.2 807.5 367.5C808.3 369.8 809.8 372.2 811.6 373.8C813.4 375.4 816.6 375.4 818.3 377C820.1 378.6 820.9 381.3 822.1 383.5C823.3 385.7 824.2 388.1 825.4 390.2C826.7 392.4 829 395.4 829.7 396.4M811 158.8C809.7 159 805.8 158.8 803.5 159.5C801.1 160.2 799.1 161.9 796.9 163C794.6 164.2 792.6 165.7 790.2 166.5C787.9 167.3 784 167.5 782.8 167.7M763.9 203.9C763.5 202.7 762.1 199.3 761.1 196.9C760.2 194.6 759.7 192 758.3 190C756.9 188 754 187.1 752.6 185.1C751.2 183.2 750.3 179.3 749.9 178.1M907.2 144.3C907 143 906 139.4 905.8 136.9C905.6 134.4 905.7 131.9 905.9 129.4C906.2 126.9 906.6 124.4 907.3 122C907.9 119.6 909.5 117.3 909.7 114.9C909.8 112.5 908.3 108.8 908 107.6M831.9 341.8C831.2 342.8 828.6 345.6 827.3 347.7C826 349.9 825.3 352.3 824 354.5C822.8 356.6 821.3 358.7 819.7 360.6C818.1 362.6 816.5 364.6 814.5 366.1C812.6 367.5 810.1 368.5 807.8 369.3C805.5 370.2 801.7 370.8 800.5 371.1M933.8 400.8C932.5 401.1 928.7 402.6 926.4 402.2C924.1 401.8 922 399.8 919.9 398.5C917.7 397.2 915.4 396.1 913.6 394.3C911.9 392.6 910.5 390.3 909.4 388.1C908.4 385.9 907.5 383.3 907.5 380.9C907.5 378.4 909.1 376.1 909.6 373.6C910 371.2 910.1 367.4 910.2 366.2M940.2 325.5C940.5 326.7 941.9 330.4 941.8 332.8C941.7 335.2 940.4 337.6 939.6 340C938.7 342.3 938.2 345.1 936.6 346.9C935 348.6 932.3 349.8 929.9 350.3C927.6 350.7 924.6 350.5 922.5 349.5C920.3 348.5 918.4 346.4 916.9 344.5C915.4 342.5 913.8 340.1 913.5 337.8C913.2 335.4 914.8 331.7 915 330.4M849.3 149.1C849.6 150.4 851 154.1 850.9 156.5C850.7 158.9 849.2 161.2 848.3 163.5C847.4 165.9 845.8 168.1 845.6 170.5C845.3 172.9 845.9 175.6 846.7 177.9C847.6 180.2 849.1 182.3 850.5 184.4C851.8 186.5 853.6 188.4 854.9 190.5C856.1 192.7 857.4 194.9 858 197.3C858.6 199.7 858.3 203.6 858.4 204.8M858.4 157.1C857.9 158.2 855.7 161.4 855 163.7C854.3 166.1 854.5 168.7 854.4 171.2C854.2 173.7 853.3 176.4 853.9 178.7C854.6 181 857.3 182.7 858.1 184.9C858.9 187.2 858 190.1 858.7 192.4C859.4 194.8 861.6 196.7 862.3 199C863 201.3 862.9 205.2 863 206.5M806.2 363.3C805.4 364.3 803.6 368 801.6 369.2C799.7 370.5 796.7 370.2 794.3 371C792 371.7 789.7 372.8 787.4 373.9C785.2 375 782.5 376 781.1 377.8C779.6 379.7 779.1 383.8 778.7 384.9M798.8 179.8C797.6 179.8 793.7 179.1 791.3 179.4C788.9 179.8 786.6 181.4 784.2 181.8C781.8 182.2 779.1 182.3 776.7 181.8C774.3 181.3 772.2 179.7 769.9 178.6C767.6 177.6 765.4 175.8 763.1 175.6C760.7 175.4 758.1 176.4 755.7 177.1C753.3 177.9 749.9 179.5 748.8 180M906.3 184C905.1 184.2 901.4 184.7 898.9 185.1C896.5 185.6 894.1 186.6 891.6 186.8C889.1 187 886.5 185.7 884.1 186.2C881.8 186.8 879.5 188.4 877.6 190C875.7 191.5 873.8 193.5 872.8 195.7C871.7 197.9 872.2 200.7 871.6 203.1C871 205.5 869.3 208.9 868.9 210.1M847.4 177C848.1 177.9 850.2 181.1 851.9 182.9C853.7 184.7 856.3 185.7 857.7 187.7C859.2 189.6 860.1 192.2 860.6 194.6C861.2 197 860.5 199.7 861 202.1C861.6 204.5 863.5 207.8 864 209M946.4 372.7C947.7 372.5 951.5 372.3 953.9 371.5C956.2 370.8 958.7 369.8 960.6 368.4C962.6 366.9 964.5 364.9 965.7 362.8C966.9 360.7 967.7 356.9 968.1 355.7M730.8 279.9C730.4 281.1 729 284.6 728 286.9C727 289.2 725.1 291.4 724.9 293.7C724.8 296.1 726.8 298.5 726.9 301C727 303.4 725.5 305.8 725.3 308.3C725.2 310.8 725.4 313.4 726 315.8C726.6 318.1 728.6 321.5 729.1 322.6M874.1 245.2C874.4 243.9 876.2 240.2 876 237.9C875.8 235.5 873.6 233.4 873 231C872.4 228.6 872.3 226.1 872.2 223.6C872.1 221.1 872.5 218.6 872.5 216.1C872.5 213.6 872.2 211.1 872.1 208.6C872 206.1 871.1 203.4 871.8 201.1C872.4 198.8 874.8 197.1 876 194.9C877.2 192.7 878.6 189.2 879.1 188.1M779 187.7C778.3 188.8 776.2 191.8 774.9 194C773.6 196.1 772.6 198.5 771.2 200.5C769.8 202.5 768.2 204.6 766.3 206.2C764.4 207.8 762.1 208.9 759.9 210.1C757.7 211.2 755.3 212 753 213.2C750.8 214.3 747.6 216.2 746.5 216.8M872.6 415.6C873.8 415.2 877.5 413.6 879.9 413.6C882.3 413.7 884.8 414.8 887 415.9C889.2 417 890.8 419.2 893 420.4C895.1 421.7 897.4 423.1 899.8 423.6C902.2 424.1 906 423.3 907.3 423.3M935.2 284.6C934.3 283.7 932.1 280.3 930 279.2C927.9 278 925.1 277.7 922.6 277.8C920.2 277.9 917.5 278.6 915.4 279.8C913.3 281 911.8 283.4 909.9 284.9C907.9 286.4 905.9 288.2 903.6 289C901.3 289.8 897.4 289.5 896.1 289.6M866.5 327.3C865.3 326.8 861.9 324.7 859.6 324.4C857.2 324.1 854.4 324.4 852.1 325.4C849.9 326.3 848.3 328.7 846.2 330C844 331.2 840.4 332.3 839.2 332.7M862.6 297.4C863 296.2 864.9 292.7 865 290.3C865.1 287.9 864.3 285.2 863.3 283C862.2 280.8 860.1 279.1 858.7 277.1C857.3 275 855.6 273 854.8 270.7C854 268.3 854.2 264.4 854.1 263.2M736.3 262.4C737.2 263.2 740.5 265.3 742 267.2C743.5 269.1 744.5 271.6 745.2 274C746 276.4 746.8 279 746.6 281.4C746.4 283.8 744.7 286 743.9 288.4C743.2 290.8 742.9 293.3 742.1 295.7C741.4 298.1 740 301.5 739.5 302.7M948.7 305.4C948.6 304.1 947.5 300.3 948 297.9C948.5 295.6 951.1 293.7 951.6 291.4C952.1 289 950.5 286.2 951 283.9C951.6 281.6 953.4 279.3 955.1 277.6C956.8 275.8 959 274.3 961.2 273.2C963.4 272.1 965.9 271.7 968.3 271C970.7 270.3 974.4 269.3 975.6 269M902.4 353C901.6 352.1 898.8 349.5 897.6 347.3C896.5 345.1 896.9 342 895.6 340.1C894.3 338.1 891.9 336.6 889.7 335.4C887.6 334.2 885.1 332.9 882.7 332.7C880.4 332.5 877.7 333.4 875.4 334.1C873 334.9 869.8 336.8 868.6 337.4M892.1 152.6C893 153.5 895.4 156.4 897.4 157.9C899.4 159.3 902 159.9 904.1 161.2C906.2 162.6 908.5 164.1 909.8 166.1C911.1 168.1 910.6 171.4 911.9 173.3C913.3 175.3 916.2 176 917.9 177.8C919.6 179.6 921.3 183.1 922 184.1M907.6 183.1C908.8 183.4 912.7 183.9 914.8 185.1C916.9 186.4 918.6 188.5 920 190.6C921.4 192.6 921.6 195.6 923.2 197.3C924.8 199 927.7 199.5 929.8 200.9C931.9 202.2 933.9 203.8 935.7 205.5C937.5 207.2 939 209.2 940.8 211C942.6 212.7 945.5 215.1 946.4 216M860 257.7C859 258.4 855.6 260.3 854 262.1C852.4 263.9 851.9 266.9 850.2 268.6C848.5 270.3 845.7 270.9 843.7 272.3C841.7 273.8 840.2 276 838.2 277.4C836.2 278.9 832.8 280.5 831.7 281.2M872.2 398C871 398.3 867.3 399.2 864.9 400C862.6 400.9 860.2 401.9 858.2 403.3C856.1 404.7 854.7 406.8 852.7 408.4C850.8 410 848.9 411.9 846.6 412.8C844.4 413.7 841.7 413.9 839.2 414C836.8 414 833 413.3 831.8 413.2M772.1 288.7C772.8 287.7 774.6 284.3 776.3 282.5C778 280.7 780.2 279.2 782.4 278.1C784.6 276.9 787 275.9 789.4 275.5C791.8 275 794.7 276 796.9 275.3C799.2 274.5 802 271.7 803.1 270.9M976 323.6C975.8 324.9 975.9 328.9 974.8 331C973.6 333.1 970.6 334 969.2 336C967.8 338 967.2 340.6 966.5 343C965.7 345.4 965.5 348 964.8 350.3C964 352.7 962.4 354.8 961.8 357.2C961.2 359.6 961 362.2 961.2 364.7C961.4 367.2 962.9 369.5 963 372C963.1 374.4 961.9 378.1 961.7 379.4M759.1 194C760 193.2 762.4 190.1 764.5 188.8C766.6 187.5 769.3 186.4 771.6 186.5C774 186.5 776.3 188.2 778.6 189.1C781 189.9 784.5 191.2 785.7 191.7M825.2 175.5C826.4 175 829.8 173 832.2 172.8C834.6 172.7 837.3 173.6 839.5 174.6C841.7 175.6 843.6 177.5 845.6 179C847.6 180.4 849.4 182.7 851.6 183.5C853.9 184.2 856.7 183.2 859.1 183.6C861.6 184 864.1 184.7 866.3 185.9C868.4 187 871.2 189.7 872.2 190.5M882.6 321.1C881.3 321.1 877.4 320.4 875.1 321C872.7 321.5 870.7 323.5 868.6 324.7C866.4 325.9 864 326.8 862 328.3C860 329.8 857.6 332.8 856.7 333.6M738.1 320.1C736.9 320 733.1 319.8 730.7 319.5C728.2 319.2 725.7 318.3 723.3 318.3C720.8 318.2 717.9 318.2 715.8 319.4C713.8 320.5 712.4 323 710.8 324.9C709.3 326.9 708.3 329.4 706.6 331.1C704.8 332.8 702.5 334.4 700.2 335.1C697.9 335.8 693.9 335.2 692.7 335.3M718.4 310.7C719.6 310.3 723.5 309.9 725.6 308.7C727.7 307.5 729.4 305.4 731 303.5C732.6 301.6 733.3 298.7 735.1 297.2C737 295.7 739.9 295.6 742.1 294.5C744.3 293.3 746.2 291.5 748.4 290.3C750.5 289.2 754.1 287.9 755.3 287.4M890.4 206.1C891.4 205.3 894.9 203.2 896.1 201.2C897.4 199.2 896.8 196.1 897.8 193.9C898.8 191.7 900.5 189.6 902.2 187.9C904 186.1 907.1 184 908.1 183.2M826.6 277.1C827.8 277.5 831.4 278.4 833.8 279.2C836.2 280 838.8 280.5 840.8 281.9C842.8 283.2 844.7 285.3 845.8 287.5C846.9 289.7 847.2 292.3 847.5 294.8C847.9 297.3 847.3 300 848 302.3C848.7 304.6 851.2 307.7 851.8 308.8M860.6 231.3C861.6 230.6 865 228.8 866.9 227.2C868.8 225.7 870.1 223.3 872 221.8C874 220.3 876.5 219.6 878.6 218.2C880.7 216.8 882.4 214.7 884.6 213.6C886.8 212.5 889.5 212.7 891.8 211.8C894.1 210.9 897.2 208.6 898.3 208M884.7 264.7C884.7 265.9 884.4 269.7 884.5 272.2C884.5 274.7 885.4 277.3 884.9 279.7C884.4 282 883.2 284.8 881.5 286.4C879.8 288 876.5 287.8 874.6 289.4C872.8 290.9 871.2 294.6 870.6 295.7M997.5 246.3C996.5 247.1 993.8 249.6 991.7 251C989.7 252.4 987.5 254.3 985.2 254.8C982.9 255.2 980 254.6 977.8 253.6C975.6 252.6 973.3 250.9 972 248.9C970.6 246.9 970.1 242.9 969.7 241.7M966.6 342.3C965.4 341.9 961.5 341.1 959.6 339.7C957.7 338.2 956.4 335.8 955.1 333.7C953.8 331.6 953.4 328.6 951.7 327C949.9 325.4 946.8 325.4 944.8 324C942.7 322.7 940.3 319.6 939.5 318.7M965.3 269.8C965.3 268.5 966 264.5 965.3 262.3C964.6 260 961.7 258.4 961 256.1C960.4 253.8 960.4 250.8 961.2 248.6C962 246.4 965.1 243.7 965.9 242.7M751.6 319.4C750.4 319.8 747 321.6 744.6 321.9C742.1 322.3 739.6 321.6 737.1 321.5C734.6 321.4 732 320.9 729.6 321.2C727.1 321.5 724.8 322.8 722.4 323.4C720 324 717.5 324.6 715 324.9C712.6 325.1 709.8 325.7 707.5 324.9C705.3 324.1 703.8 321.5 701.6 320.3C699.4 319.1 695.8 318 694.6 317.5M908.1 253C909.3 252.5 912.6 250.5 914.9 249.9C917.3 249.3 920 249.8 922.4 249.5C924.9 249.2 927.3 248 929.8 248C932.2 247.9 934.7 248.9 937.2 249C939.7 249.1 942.2 248.7 944.7 248.6C947.2 248.5 950.9 248.4 952.2 248.4M959.3 214.6C960.1 213.6 962.7 210.8 963.9 208.6C965.1 206.4 965.1 203.6 966.5 201.6C967.8 199.5 970 198 972 196.5C974 195 976.4 194 978.5 192.8C980.7 191.5 982.6 189.7 984.9 188.8C987.2 187.9 989.8 187.6 992.2 187.4C994.7 187.3 998.5 187.9 999.7 188M810.4 385.9C810.2 384.6 810.2 380.8 809.4 378.4C808.6 376.1 806.2 374.3 805.7 371.9C805.1 369.6 805.2 366.7 805.9 364.4C806.6 362.1 809.1 360.4 809.9 358.1C810.7 355.8 811.2 353.1 811 350.6C810.8 348.2 809.4 345.9 808.7 343.5C808 341.1 806.7 338.6 806.8 336.2C807 333.8 809.2 330.4 809.7 329.3M931.2 403.5C931.8 404.6 933.7 407.9 934.9 410.1C936.1 412.3 936.8 414.8 938.2 416.8C939.7 418.8 941.7 420.6 943.7 421.9C945.8 423.3 948.7 423.5 950.6 425C952.5 426.5 953.8 428.8 955.1 431C956.4 433.1 957.4 435.4 958.3 437.7C959.1 440.1 959.9 443.8 960.2 445M918 332C919.1 332.5 922.3 334.9 924.6 335.5C927 336.1 929.9 336.4 932.1 335.7C934.4 335 935.9 332.2 938.1 331.1C940.3 330 942.9 329.8 945.3 329.1C947.7 328.4 951.3 327.4 952.5 327.1M893 163.8C893 162.5 892.4 158.6 893 156.3C893.6 153.9 895.6 151.9 896.6 149.7C897.6 147.4 898.1 144.9 899.2 142.6C900.2 140.3 902.1 138.4 902.8 136.1C903.5 133.7 903.7 131 903.3 128.6C903 126.2 901.2 124 900.7 121.6C900.1 119.2 900.2 115.3 900.1 114.1M952.4 258.9C953.7 258.8 957.4 258.3 959.9 258.4C962.4 258.4 965.1 258.3 967.3 259.2C969.6 260 971.4 262 973.5 263.4C975.6 264.8 977.7 266.1 979.7 267.6C981.7 269.2 984.1 270.5 985.4 272.6C986.7 274.6 987.3 278.5 987.6 279.7M941.4 311C940.5 311.9 937.7 314.5 935.9 316.2C934 317.8 931.8 319.2 930.3 321.2C928.8 323.1 927.3 325.4 926.6 327.7C926 330 927.1 332.9 926.4 335.2C925.6 337.5 924 339.8 922.2 341.4C920.4 343.1 916.7 344.3 915.5 344.9M954.1 351.3C955.3 351.1 959.2 350.8 961.4 349.8C963.6 348.8 965.3 346.6 967.3 345.2C969.4 343.8 971.5 342.3 973.8 341.4C976.1 340.5 978.6 340 981.1 339.7C983.6 339.5 987.3 339.9 988.6 339.9M983.9 352.2C985 351.6 988.2 349.7 990.5 348.6C992.7 347.5 995.4 347.1 997.4 345.7C999.3 344.2 1000.3 341.2 1002.3 340C1004.4 338.9 1007.3 339.2 1009.7 338.5C1012 337.8 1014.5 337 1016.6 335.8C1018.8 334.6 1020.4 332.3 1022.6 331.2C1024.8 330.2 1028.7 329.7 1029.9 329.4M914.3 271.3C915.5 271.1 919.2 270.5 921.7 269.9C924.1 269.3 926.5 268.7 928.9 267.9C931.2 267 933.4 265.1 935.8 264.9C938.1 264.7 940.6 266.4 943.1 266.7C945.5 267 948.1 266.5 950.5 266.9C953 267.2 955.3 268.7 957.8 268.8C960.2 269 964 267.9 965.2 267.7M794.1 272.4C795.4 272.5 799.4 272 801.6 272.9C803.8 273.8 805.8 275.9 807.2 277.8C808.7 279.8 809.1 282.5 810.4 284.7C811.6 286.8 813.3 288.7 814.9 290.6C816.6 292.5 818.8 293.9 820.3 295.8C821.8 297.8 823.2 301.4 823.7 302.5" fill="none" stroke="#000" stroke-width="0.9" opacity="0.22" stroke-linecap="round" filter="url(#blV)"/>
<g filter="url(#blV)" fill="none" stroke="#050505" stroke-linecap="round" stroke-linejoin="round">
<path d="M724.9 190.9C725.4 193.4 726.3 199.2 727.4 205.6C728.5 211.9 730.3 222.1 731.5 228.9C732.7 235.7 733.5 241.1 734.7 246.4C736 251.8 737.6 255.5 739.1 261C740.6 266.6 742.8 276.9 743.5 280" stroke-width="4.8" opacity="0.52"/>
<path d="M797.2 177.8C796.8 180 796 186.3 794.6 190.9C793.2 195.6 790.7 201.4 788.8 205.6C786.8 209.7 784.2 211.4 782.9 215.8C781.7 220.2 781.2 226.7 781.2 231.8C781.1 237 782.8 242.1 782.6 246.4C782.4 250.8 781.4 254.5 780 258.1C778.6 261.8 776 264.2 774.2 268.4C772.3 272.5 769.7 280.5 768.8 283" stroke-width="3.6" opacity="0.57"/>
<path d="M782.6 246.4C785.1 245.2 791.9 241.3 797.2 239.1C802.6 237 809.2 235 814.8 233.3C820.4 231.6 826.2 231.1 830.8 228.9C835.5 226.7 838.9 223.6 842.5 220.2C846.2 216.7 850.3 212.4 852.7 208.5C855.2 204.6 854.9 199.8 857.1 196.8C859.3 193.7 864.4 191.3 865.9 190.2" stroke-width="3.1" opacity="0.52"/>
<path d="M714 230.4C716.9 232.3 725.4 238.2 731.5 242.1C737.6 246 744.9 250.1 750.5 253.7C756.1 257.4 761.2 261.5 765.1 264C769 266.4 770.9 266.4 773.9 268.4C776.8 270.3 779 272.7 782.6 275.7C786.3 278.6 793.6 284.2 795.8 285.9" stroke-width="3" opacity="0.47"/>
<path d="M757.8 190.2C760 191.3 765.8 194.2 770.9 196.8C776.1 199.3 785.6 204.1 788.5 205.6" stroke-width="2.8" opacity="0.44"/>
<path d="M770.9 161.7C775.3 162 789 162.5 797.2 163.2C805.5 163.9 813.3 165.9 820.6 166.1C827.9 166.4 833.5 165.1 841 164.7C848.6 164.2 861.7 163.4 865.9 163.2" stroke-width="1.9" opacity="0.32"/>
<path d="M823.5 157.4C823.8 158.8 825.3 163.2 825.3 166.1C825.3 169 827.2 172.9 823.5 174.9C819.8 176.8 807.5 177.3 803.1 177.8C798.7 178.3 798.2 177.8 797.2 177.8" stroke-width="1.9" opacity="0.32"/>
<path d="M832.3 228.9C833.7 230.4 837.2 234.8 841 237.7C844.9 240.6 852 244.4 855.7 246.4C859.3 248.5 861.7 249.5 863 250.1" stroke-width="2.2" opacity="0.36"/>
<path d="M803.1 177.8C804.5 180 809.2 186.8 811.8 190.9C814.5 195.1 817.4 198.7 819.1 202.6C820.8 206.5 821.3 209.4 822.1 214.3C822.8 219.2 823.2 226.5 823.5 231.8C823.8 237.2 823.8 244 823.8 246.4" stroke-width="1.6" opacity="0.32"/>
<path d="M746.1 173.4C747.8 175.1 752.7 179.7 756.3 183.6C760 187.5 764.6 192.6 768 196.8C771.4 200.9 774.4 205.3 776.8 208.5C779.2 211.6 781.7 214.6 782.6 215.8" stroke-width="1.8" opacity="0.32"/>
<path d="M709.6 255.2C712 256.2 719.3 258.6 724.2 261C729.1 263.5 734.9 265.8 738.8 269.8C742.7 273.8 746.1 282.5 747.6 285" stroke-width="2" opacity="0.32"/>
<path d="M822.1 214.3C824.3 212.4 831.1 205.1 835.2 202.6C839.3 200.2 843.5 200.7 846.9 199.7C850.3 198.7 854.2 197.3 855.7 196.8" stroke-width="1.6" opacity="0.28"/>
<path d="M788.5 205.6C790.4 206 796.3 206.5 800.2 208.5C804.1 210.4 809.2 213.1 811.8 217.2C814.5 221.4 815.5 230.6 816.2 233.3" stroke-width="1.6" opacity="0.28"/>
<path d="M743.2 273.5C744 275.7 745.9 282.3 747.9 286.7C749.9 291.1 754 297.9 755.2 300.1" stroke-width="5" opacity="0.57"/>
<path d="M768.8 273.5C768 276 765.7 283.7 763.9 288.1C762.2 292.6 759.1 298.1 758.1 300.1" stroke-width="4.8" opacity="0.57"/>
<path d="M756.3 299.1C756.1 302.4 755.1 312.6 754.9 318.8C754.6 325 754.6 331 754.9 336.3C755.2 341.7 756.1 346.3 756.6 350.9C757.2 355.6 757.8 361.9 758.1 364.1" stroke-width="8" opacity="0.47"/>
<path d="M709.6 282.3C712 284.2 719.6 289.8 724.2 294C728.8 298.1 733.9 303 737.4 307.1C740.8 311.3 743.4 316.9 744.7 318.8" stroke-width="2.1" opacity="0.32"/>
<path d="M759.3 337.8C761.2 336.6 767.1 332.4 770.9 330.5C774.8 328.6 778.7 327.1 782.6 326.1C786.5 325.1 792.4 324.9 794.3 324.7" stroke-width="2.5" opacity="0.36"/>
<path d="M800.9 339.3C800.3 338 799.3 334.4 797.5 332C795.7 329.5 791.4 325.9 790.2 324.7" stroke-width="2.1" opacity="0.36"/>
<path d="M795.8 275C797.5 276.5 804.1 280.8 806 283.8C807.9 286.7 805.3 290.8 807.5 292.5C809.6 294.2 815.5 293.3 819.1 294C822.8 294.7 825.7 296.2 829.4 296.9C833 297.6 837.6 298.4 841 298.4C844.5 298.4 848.4 297.2 849.8 296.9" stroke-width="2.4" opacity="0.36"/>
<path d="M816.2 308.6C817.9 308.8 823.6 309.8 826.4 310.1C829.2 310.3 832.3 310.7 833 310.1C833.7 309.4 831.2 307 830.8 306.4" stroke-width="2.8" opacity="0.40"/>
<path d="M806 295.4C806.5 297.4 807 303.7 808.9 307.1C810.9 310.5 814.8 313.9 817.7 315.9C820.6 317.8 825.5 317.4 826.4 318.8C827.4 320.3 824 323.7 823.5 324.7" stroke-width="2" opacity="0.32"/>
<path d="M811.8 377.2C812.6 375.8 814.1 370.7 816.5 368.5C818.9 366.3 823.3 365.3 826.4 364.1C829.6 362.9 832.7 361.4 835.2 361.2C837.8 360.9 840.7 362.4 841.8 362.6" stroke-width="2.4" opacity="0.36"/>
<path d="M848.4 391.8C849.6 389.9 852.7 383.8 855.7 380.2C858.6 376.5 864.2 371.6 865.9 369.9" stroke-width="2.2" opacity="0.32"/>
<path d="M770.9 311.5C771.9 312.7 776.8 316.4 776.8 318.8C776.8 321.2 771.9 324.9 770.9 326.1" stroke-width="1.8" opacity="0.28"/>
<path d="M782.6 275C783.6 276.5 786 281.3 788.5 283.8C790.9 286.2 794.3 287.7 797.2 289.6C800.2 291.6 804.5 294.5 806 295.4" stroke-width="1.9" opacity="0.32"/>
<path d="M716.9 318.8C718.6 321.7 723.5 331 727.1 336.3C730.8 341.7 735.4 346.6 738.8 350.9C742.2 355.3 746.1 360.7 747.6 362.6" stroke-width="1.9" opacity="0.24"/>
<path d="M826.4 336.3C827.4 338.3 830.3 344.6 832.3 348C834.2 351.4 836.7 354.4 838.1 356.8C839.6 359.2 840.6 361.7 841 362.6" stroke-width="1.8" opacity="0.28"/>
<path d="M917.8 207C920 207.3 926.3 207.3 930.9 208.5C935.6 209.7 940.2 213.1 945.6 214.3C950.9 215.5 957.5 214.8 963.1 215.8C968.7 216.7 973.8 217.5 979.1 220.2C984.5 222.8 992.5 229.9 995.2 231.8" stroke-width="2" opacity="0.40"/>
<path d="M867.4 177.8C866.9 180 865.6 187.8 864.1 190.9C862.5 194.1 859.7 194.8 857.9 196.8C856.2 198.7 854.3 201.7 853.5 202.6" stroke-width="2.5" opacity="0.36"/>
<path d="M913.4 246.4C915.9 246.9 923.2 248.1 928 249.4C932.9 250.6 937.8 252.8 942.6 253.7C947.5 254.7 952.4 256.4 957.2 255.2C962.1 254 965.8 248.9 971.8 246.4C977.9 244 988.8 241.3 993.7 240.6C998.7 239.9 1000.4 241.8 1001.8 242.1" stroke-width="1.9" opacity="0.32"/>
<path d="M855 202.6C856.9 203.6 862.8 207 866.7 208.5C870.6 209.9 874.5 209.9 878.4 211.4C882.3 212.9 888.1 216.3 890.1 217.2" stroke-width="1.8" opacity="0.28"/>
<path d="M922.2 264C924.6 264.2 932.4 265.9 936.8 265.4C941.2 264.9 944.6 262.8 948.5 261C952.4 259.3 958.2 256.2 960.2 255.2" stroke-width="1.8" opacity="0.28"/>
<path d="M898.8 158.8C900.3 161.2 904.7 168.1 907.6 173.4C910.5 178.8 914.6 185.3 916.3 190.9C918 196.5 917.6 204.3 917.8 207" stroke-width="1.5" opacity="0.24"/>
<path d="M947 295.4C947.5 296.9 950.4 301 949.9 304.2C949.5 307.4 946.3 310.8 944.4 314.4C942.5 318.1 940.5 322.2 938.5 326.1C936.6 330 934.4 333.7 932.7 337.8C931 341.9 929.3 346.3 928.3 350.9C927.3 355.6 927.3 360.7 926.9 365.6C926.4 370.4 926.1 375.8 925.4 380.2C924.7 384.5 923 389.9 922.5 391.8" stroke-width="3.2" opacity="0.52"/>
<path d="M910.5 317.4C912 318.3 916.5 321.2 919.3 323.2C922 325.1 924.9 326.6 926.9 329C928.9 331.5 930.5 336.3 931.2 337.8" stroke-width="2.4" opacity="0.40"/>
<path d="M945.6 367C945.1 368.2 944.8 371.6 942.9 374.3C941 377 936.6 380.6 934.2 383.1C931.7 385.5 929.3 387.9 928.3 388.9" stroke-width="2.2" opacity="0.36"/>
<path d="M869.6 333.4C870.8 334.4 875.4 336.8 876.9 339.3C878.4 341.7 879.3 345.1 878.7 348C878 350.9 875 353.4 872.8 356.8C870.6 360.2 868 364.3 865.5 368.5C863 372.6 859.2 379.4 857.9 381.6" stroke-width="2.5" opacity="0.36"/>
<path d="M884.2 329C886.2 328.8 892.7 326.4 895.9 327.6C899.1 328.8 900.7 335.1 903.2 336.3C905.7 337.6 908.1 335.9 910.8 334.9C913.5 333.9 917.8 331.2 919.3 330.5" stroke-width="1.9" opacity="0.32"/>
<path d="M887.1 359.7C888.1 360.9 890.8 366 893 367C895.2 368 898.6 366.3 900.3 365.6C902 364.8 902.7 363.1 903.2 362.6" stroke-width="1.8" opacity="0.28"/>
<path d="M957.2 286.7C959.2 289.6 966 298.1 968.9 304.2C971.8 310.3 972.8 317.8 974.8 323.2C976.7 328.6 977.2 333.9 980.6 336.3C984 338.8 992.8 337.6 995.2 337.8" stroke-width="1.6" opacity="0.28"/>
<path d="M855 283.8C856.5 284.7 860.8 288.6 863.8 289.6C866.7 290.6 869.1 288.9 872.5 289.6C875.9 290.3 882.3 293.3 884.2 294" stroke-width="1.8" opacity="0.24"/>
</g>
<circle cx="857.4" cy="278" r="157.8" fill="url(#gWFrim)"/>
<path d="M700 301.2H1015M746 120V436" stroke="#fff" stroke-width="0.5" opacity="0.12"/>
</g>
<path d="M861.2 227.5 L880 227.5 L880 232.5 L883.8 232.5 L883.8 236.2 L887.5 236.2 L887.5 241.2 L892.5 241.2 L892.5 252.5 L912.5 252.5 L912.5 290 L905 290 L905 302.5 L887.5 302.5 L887.5 315 L880 315 L880 285 L875 285 L875 278.8 L868.8 278.8 L868.8 266.2 L861.2 266.2 L861.2 258.8 L855 258.8 L855 252.5 L861.2 252.5Z" fill="none" stroke="#e4521c" stroke-width="2.7" stroke-linejoin="round"/>
<path d="M815 263.8 L857.5 297.5 L825 336.2 L782.5 305Z" fill="none" stroke="#1f00f5" stroke-width="4.6" stroke-linejoin="miter"/>
<path d="M815 263.8L1105 296M825 336.2L1105 514.5" fill="none" stroke="#1f00f5" stroke-width="3.0"/>
<path d="M881.2 242.5 L923.8 276.2 L891.2 316.2 L848.8 283.8Z" fill="none" stroke="#cc1b0c" stroke-width="4.6" stroke-linejoin="miter"/>
<path d="M881.2 242.5L1105 44.5M891.2 316.2L1105 264.5" fill="none" stroke="#cc1b0c" stroke-width="3.0"/>
<path d="M667.2 361V467.6H773" fill="none" stroke="#000" stroke-width="5.6"/>
<text x="716.2" y="455" font-size="26.2" fill="#111" text-anchor="middle">1 mm</text>
<text x="648" y="391" font-size="27" fill="#111" text-anchor="middle" transform="rotate(-90 648 391)">M</text>
<text x="648" y="461.2" font-size="27" fill="#111" text-anchor="middle" transform="rotate(-90 648 461.2)">L</text>
<text x="681" y="505" font-size="27" fill="#111" text-anchor="middle">A</text>
<text x="750" y="505" font-size="27" fill="#111" text-anchor="middle">P</text>
<rect x="1105.3" y="44.6" width="220" height="220" fill="#6a6a6a"/>
<g clip-path="url(#cp2p0)">
<g filter="url(#blD2)">
<ellipse cx="1187.4" cy="68.7" rx="36.5" ry="12.9" transform="rotate(-14 1187.4 68.7)" fill="#000" opacity="0.6"/>
<ellipse cx="1277.6" cy="120.2" rx="27.9" ry="17.2" transform="rotate(0 1277.6 120.2)" fill="#000" opacity="0.5"/>
<ellipse cx="1243.2" cy="201.8" rx="15" ry="53.7" transform="rotate(0 1243.2 201.8)" fill="#000" opacity="0.62"/>
<ellipse cx="1144.4" cy="94.4" rx="27.9" ry="9.7" transform="rotate(20 1144.4 94.4)" fill="#000" opacity="0.35"/>
<ellipse cx="1307.7" cy="169.6" rx="15" ry="21.5" transform="rotate(0 1307.7 169.6)" fill="#000" opacity="0.35"/>
<ellipse cx="1208.9" cy="246.9" rx="36.5" ry="9.7" transform="rotate(0 1208.9 246.9)" fill="#000" opacity="0.4"/>
<ellipse cx="1133.7" cy="216.9" rx="15" ry="9.7" transform="rotate(0 1133.7 216.9)" fill="#000" opacity="0.35"/>
<ellipse cx="1312" cy="79.4" rx="12.9" ry="25.8" transform="rotate(0 1312 79.4)" fill="#000" opacity="0.3"/>
<ellipse cx="1116.5" cy="122.4" rx="19.3" ry="19.3" transform="rotate(0 1116.5 122.4)" fill="#000" opacity="0.3"/>
<ellipse cx="1217.5" cy="120.2" rx="19.3" ry="8.6" transform="rotate(10 1217.5 120.2)" fill="#000" opacity="0.25"/>
<ellipse cx="1165.9" cy="180.3" rx="34.4" ry="27.9" transform="rotate(0 1165.9 180.3)" fill="#fff" opacity="0.16"/>
<ellipse cx="1131.5" cy="68.7" rx="19.3" ry="15" transform="rotate(0 1131.5 68.7)" fill="#fff" opacity="0.14"/>
<ellipse cx="1290.5" cy="234" rx="21.5" ry="17.2" transform="rotate(0 1290.5 234)" fill="#fff" opacity="0.12"/>
<ellipse cx="1191.7" cy="115.9" rx="21.5" ry="12.9" transform="rotate(0 1191.7 115.9)" fill="#fff" opacity="0.1"/>
</g>
<rect x="1105.3" y="44.6" width="220" height="220" filter="url(#nz2p)" opacity="0.13"/>
<rect x="1105.3" y="44.6" width="220" height="220" filter="url(#nz2pd)" opacity="0.3"/>
<g filter="url(#blD)">
<circle cx="1120.8" cy="119.1" r="11.6" fill="#000" opacity="1.0"/>
<circle cx="1155.2" cy="52.1" r="4.5" fill="#000" opacity="0.9"/>
<circle cx="1318" cy="60.5" r="5.2" fill="#000" opacity="0.95"/>
<circle cx="1241.5" cy="161" r="8.2" fill="#000" opacity="0.95"/>
<circle cx="1243.7" cy="180.3" r="11.2" fill="#000" opacity="1.0"/>
<circle cx="1226.5" cy="79.8" r="3.4" fill="#000" opacity="0.9"/>
<circle cx="1224.3" cy="240.1" r="4.5" fill="#000" opacity="0.9"/>
<circle cx="1123" cy="211.5" r="3.2" fill="#000" opacity="0.8"/>
<circle cx="1141.6" cy="248.4" r="2.8" fill="#000" opacity="0.8"/>
<circle cx="1315.2" cy="137.4" r="3.2" fill="#000" opacity="0.7"/>
<circle cx="1225.6" cy="125.6" r="2.4" fill="#000" opacity="0.8"/>
<circle cx="1180.9" cy="115.5" r="1.5" fill="#000" opacity="0.8"/>
<circle cx="1302.3" cy="251.2" r="1.9" fill="#000" opacity="0.7"/>
<circle cx="1260.4" cy="68.7" r="1.9" fill="#000" opacity="0.6"/>
<circle cx="1111.1" cy="165.3" r="1.7" fill="#000" opacity="0.7"/>
</g>
<circle cx="1126.2" cy="171.8" r="3.4" fill="#fff" opacity="0.9" filter="url(#bl1)"/>
<circle cx="1224.3" cy="135.7" r="1.7" fill="#fff" opacity="0.9" filter="url(#bl1)"/>
<circle cx="1173.9" cy="164.2" r="2.1" fill="#fff" opacity="0.5" filter="url(#bl1)"/>
<circle cx="1258.7" cy="249.1" r="2.1" fill="#fff" opacity="0.6" filter="url(#bl1)"/>
<circle cx="1113.3" cy="69.7" r="2.6" fill="#fff" opacity="0.4" filter="url(#bl1)"/>
</g>
<g clip-path="url(#cp2p0)" stroke-linejoin="round" stroke-width="2.2" opacity="0.64">
<path d="M1289.1 215.7L1285.7 215.5L1285.3 211.8L1286.8 211L1289.2 212.4ZM1301.1 164.2L1303.4 164.2L1303.6 168.4L1300.8 169.2ZM1309.4 136.8L1313.3 138.3L1310.5 142.7L1306.9 141.4ZM1284.7 206.2L1284.2 209.1L1280.5 209.9L1281 206.2ZM1114.4 199.5L1117.8 197.6L1118.8 202.2L1115.3 203.5ZM1307.8 202.1L1306.6 200.6L1307.3 198.1L1310.8 198.7L1310.2 202.4ZM1280.9 252.2L1280.8 253.8L1279.1 256.6L1276.4 254.8L1277 252.5ZM1165.1 153.4L1167.1 151.1L1169.7 151.9L1167.8 155.3ZM1309.6 181L1308.3 179.7L1308.9 176.8L1312.3 175.7L1313.1 180.1ZM1175.5 157.7L1173.4 160.6L1171.8 158.3L1173.2 155.8ZM1197.9 141.4L1195.5 139.5L1196.3 136.6L1200.5 138.9ZM1119.5 140.4L1117.7 136.3L1121.5 136.7ZM1223.8 144.4L1224.2 139.8L1227 140.5L1226.5 146.1ZM1157.9 197.4L1160.6 199.9L1159.4 203.2L1156.6 201.3ZM1278.4 63.1L1274.9 62.5L1276.1 58.7L1278.3 58.6L1279.7 61.8ZM1189.9 182.8L1190.7 179.7L1194.5 180.4L1192.3 184.3ZM1261.3 175.9L1264.8 178.3L1262.5 181L1259.6 178.3ZM1133.3 138.4L1130.6 139.2L1128.5 137.1L1131.2 135.3L1132.2 135.2ZM1191.9 86.9L1187.6 87.1L1187 84.3L1190.2 82.3L1193.2 82.7ZM1205.8 98.6L1203 100.4L1201.6 97.4L1204.2 95.9ZM1146.6 87.2L1143.5 87.1L1143.1 84L1147 83.7ZM1194.6 183.3L1191.1 187.6L1187.5 184Z" fill="#78d070" stroke="#78d070"/>
<path d="M1234.1 201.7L1233.8 197.3L1237.1 195.5L1238.3 201.1ZM1287.8 55.3L1293.9 54.5L1291.2 58.7ZM1304.9 118.1L1306.1 121.6L1304.3 124.1L1301.9 123L1302.1 118.7ZM1307.7 146.3L1310.3 150.7L1308.1 152L1304.6 148.2ZM1195.4 123.4L1198.2 120.8L1199.1 124.8ZM1301.8 145L1301.9 149.5L1298.4 150.7L1297.4 145.6ZM1125.8 97.6L1122.9 99.1L1121.6 96.5L1125 95.4ZM1179 141.5L1178.4 138.4L1180.6 137.8L1181.9 141.6ZM1225.3 148.1L1223.5 150.1L1220.8 150L1221.3 148L1223.2 145.8ZM1297.9 239L1294.8 236.7L1295.3 233.3L1299.2 236.3ZM1254.7 230.1L1256 232.7L1253.3 234.1L1252.7 230.5ZM1167 66.3L1170.9 62.2L1172.9 67ZM1174 108.1L1172 104.2L1176.1 103.3ZM1270.1 97L1270.7 93.9L1274.4 94.8L1272.4 98.4ZM1245.8 197.5L1244.1 194.4L1247.9 191.9L1249.5 196.4ZM1119.2 151.7L1119.9 150L1124.4 149.1L1124.7 151.4L1123.5 154ZM1299.4 261L1296.7 259.5L1296.4 257.2L1298.5 256.2L1301 257.6ZM1312.5 251.2L1310.9 246.4L1314.8 247.6L1315.5 250.3ZM1246.6 212.7L1243.6 213.3L1243.2 209.7L1246.2 209.5L1247.2 211.2ZM1142 160.7L1138.9 159.3L1138.9 156.9L1142.1 155.9L1143.8 158ZM1228.3 59.7L1226.7 54.8L1230.1 54.6L1232.6 58.6ZM1222.1 198.1L1221.1 194.1L1223.9 194.4L1225.6 198ZM1122.4 149.2L1121 145L1125.1 145ZM1211.9 196L1215 198.6L1212.7 201.7L1210.6 199.2ZM1192.7 231.9L1196.4 229.7L1199 232.8L1196.6 236ZM1130.7 162.3L1132 160.1L1137 161.1L1136.6 164.2L1132.8 165.2ZM1180.8 222L1176 221.8L1179 218.4ZM1128.2 128.6L1128.6 124.4L1133.6 126.4L1131.4 128.9ZM1160.8 109.2L1159.5 112.7L1155.5 113.3L1155.6 109.8L1157.1 107.8ZM1274.6 153.1L1270.7 150L1276.8 148.9Z" fill="#4860d4" stroke="#4860d4"/>
<path d="M1264.7 138L1262.6 136.6L1262.4 133.2L1266.3 132.2L1266.6 134.8ZM1305.5 209.2L1305.6 211.8L1301.7 213.5L1301.6 208.9ZM1154.9 91.4L1155.1 95.5L1152 96.9L1151.4 92.8ZM1177.9 116.9L1175.7 118.9L1173 116.1L1173.8 114.4L1176.7 114ZM1307 178.4L1307 181.6L1303.5 182.2L1302.1 179ZM1136.2 224L1131 225L1130.3 221.9L1135.4 220.9ZM1313.4 121.6L1310.7 122L1311.2 119.3L1314.3 119.3ZM1260.2 205.8L1260.4 201L1263.9 203.7ZM1263.9 56.2L1260 55.2L1262.1 51.6ZM1320.3 256.7L1318 259.1L1316.7 255.9L1320 253.9ZM1191.3 231.3L1188.1 231.3L1189.3 229.1L1190.2 227.2L1192.5 230.1ZM1257.4 143.2L1255.8 138.8L1261.5 138.7L1260.3 144.7ZM1240 139.2L1236.2 138.6L1238.5 133.7L1241.8 136.2ZM1237.1 169.1L1233.5 172.6L1232.4 168.5ZM1173 189.7L1173.6 191.8L1170.2 195.1L1168.4 192.2L1168.9 188ZM1261.7 193.4L1259.3 195.3L1256.4 191.2L1260.2 190.3ZM1274.8 64.8L1278.1 64.9L1280.9 67.7L1277.9 70.9L1274.8 69.3ZM1179.5 54.2L1175.7 49.4L1182.4 48.6ZM1263.3 66.9L1264.7 70.1L1260.8 69.1ZM1147.4 57.5L1148.7 61.2L1144 60.7L1144.1 55.5ZM1132.7 179.2L1129.5 179.3L1129.1 174.8L1134.4 175.4ZM1172.1 168.6L1169.3 166.6L1173.3 163.5L1174.2 166.8ZM1284.4 48.8L1288.1 47.2L1289.2 49.7L1286.8 51ZM1267.4 220.2L1265.5 224.5L1263.8 219.9ZM1301.1 128.7L1304.4 127L1305.5 129.7L1302.7 131.4ZM1250.3 76.5L1248.7 73.3L1251.8 73.2ZM1311.9 54L1310.2 58.1L1307.4 58.5L1304.3 55L1308.8 51.7ZM1316.5 114.1L1318.9 109.7L1321.1 112.3L1319.4 115.6ZM1272.1 163.5L1273.1 161.3L1275.4 163.3L1274.4 166.3ZM1164.4 150.1L1161.1 148.6L1161.3 145L1166.5 144.3L1167.3 146.6ZM1151 159.3L1151.3 163L1147.4 161.8Z" fill="#48c0ac" stroke="#48c0ac"/>
<path d="M1286 143.2L1287.6 145.9L1283.4 147.1L1282.5 143.5ZM1181.9 182.2L1185.5 184.5L1185.3 188.1L1180.6 186.8ZM1242.6 247L1239.9 249.6L1237.7 246.9L1239.2 244.8ZM1114.3 215.4L1109.1 215.5L1110.1 212L1114.1 211.9ZM1173.8 52.2L1171.3 48.6L1175.1 48.2ZM1299 78.2L1294.2 80.5L1292.6 76.4L1298.4 74.7ZM1243.4 219.6L1248.1 218L1248.5 221.1ZM1111.4 149.3L1109 150.2L1107.9 148.5L1109.1 145.9L1110.3 146.8ZM1309.5 183.6L1309.9 187.3L1306.1 187.2ZM1245 76.8L1245.9 78.5L1243.9 81L1240.9 81.3L1240.9 77.7ZM1204.3 94L1206.7 97.3L1204.3 100.7L1201.6 97.9ZM1134 219.5L1133.6 223.4L1129.8 223L1128.2 219.4ZM1271.4 177L1273.7 176.1L1275.5 178.6L1272.9 180.7ZM1162.1 253.9L1160.5 257.7L1156.1 254.7ZM1299.9 86.2L1296.4 85.2L1299.6 81.3L1301.9 84ZM1228.7 179.3L1233.6 181.7L1229.4 184.5ZM1308.7 59.9L1312 60.8L1309.3 63.8L1306.7 62.3ZM1153.3 139.9L1153.2 136.9L1157 135.2L1157.1 139.5ZM1280.6 224.9L1279.9 222.4L1281.9 221.2L1283.2 223.7ZM1110.5 214.5L1109.9 210.6L1112.5 211.9ZM1112.8 134.8L1117.6 135.7L1113.6 137.7ZM1225.1 186.6L1228.1 186.9L1229.7 190.4L1225.7 190.6ZM1306.2 216.1L1307.4 213.4L1310.7 214.4L1311.5 217.2L1309.8 218.8ZM1135.3 137.2L1137.2 135.4L1140.1 137.6L1136.9 140.1ZM1221 46.9L1224.8 47.8L1224.1 51.1L1221.5 51.1L1218.9 49.8ZM1274.3 233.6L1270.5 235.1L1268.7 231.2ZM1187.7 70.8L1184.7 69.2L1186 65.9L1188.4 68.1ZM1147.4 161.6L1149.1 161.6L1150.8 164.4L1147.4 167.1L1144.8 163.7Z" fill="#c82a2e" stroke="#c82a2e"/>
<path d="M1292.7 107.9L1296.8 108.2L1295.1 112.5L1292.6 110.4ZM1226.2 191.3L1224.6 194.3L1222.8 194.5L1221.1 191.1L1222.6 189.3ZM1147.6 252.1L1150 252.8L1148.3 256.1L1146.1 255.2ZM1116.8 85.1L1122.4 84.7L1119 90ZM1280.5 122.2L1276.3 121.1L1278.5 116.5L1282.6 118.7ZM1256.9 71.7L1253.6 73.5L1252.1 71.1L1256.5 69.2ZM1193 226.6L1194.8 229.7L1193.1 231.6L1189.5 229.6ZM1174.9 145.9L1178.6 144.1L1179.7 145.3L1179 148.8L1176.8 148.5ZM1146.3 100.3L1143.5 102.4L1141.7 98.8L1145.1 97.7ZM1247.5 235.1L1242.4 235.1L1244.3 232ZM1233.9 232.3L1235.5 228.7L1238.3 230.4ZM1222.4 76.1L1219.6 77.5L1220.4 73.4ZM1154.9 109.3L1152.9 105.8L1157 105.9ZM1267.1 106.8L1271.3 107.6L1268.3 111ZM1314 51.6L1313.9 54.7L1311 54.8L1310.8 50.7ZM1298.9 196.3L1297.4 192L1301.1 192L1301.7 194.9ZM1187.9 205.9L1189.7 205.2L1192.5 208.5L1189.5 210.6L1187.4 209.6ZM1188.8 222.6L1184.9 222.6L1187.2 218.3ZM1295.8 68.4L1290.1 66.5L1292.8 62.4L1296.1 63.2ZM1299.6 82.4L1295.1 81.3L1296.5 79.1L1298.3 76.8L1301.2 79.8ZM1270.4 128.9L1267.4 128.6L1268.1 125.2L1270.2 126.2ZM1125.6 49.8L1123.6 51.8L1120.9 50.2L1120.1 48.3L1123.8 47.7ZM1227.1 154.2L1228.8 151.9L1230.4 155.9L1227.8 157.2ZM1247.3 89.2L1247.3 85.9L1250.4 86ZM1209.5 76.9L1208.4 74.2L1211.3 71.1L1213.9 73.5ZM1245 241.4L1248.2 241.2L1247.6 245.8L1245.3 245.8L1243.7 243ZM1120.2 48.7L1123.2 50.6L1123.7 53.5L1120.7 53.3L1118.6 51.3ZM1289.2 180.5L1283 180.7L1285.4 175.8ZM1114.5 233.6L1114.6 237.3L1111.1 235.6ZM1311.8 198L1314.4 192.8L1317.2 195.4L1314.6 200.1ZM1299.6 192.8L1300.8 195.6L1298.3 197.4L1296.2 193.7Z" fill="#54c894" stroke="#54c894"/>
<path d="M1116.2 134.1L1116.4 137.9L1112.9 139.6L1111.9 134.9ZM1134.3 205.7L1136 200.8L1138.5 205.1ZM1173.2 135.1L1171.2 135.7L1169.4 134.3L1168.9 132.6L1172.8 132.5ZM1313.6 253L1314.1 250.1L1317.1 249.3L1319.2 250.1L1318.7 254.1ZM1229.4 253.4L1227.4 252.7L1228.4 249.4L1231.6 250.7ZM1192.5 115.1L1193.5 117.9L1189.3 119.7L1188.7 116.5ZM1158.4 54.8L1163.8 55.1L1163 59.4L1159.3 58.9ZM1162.7 103L1162.3 106.7L1159.3 105.1ZM1183.7 205.2L1185.7 204.5L1187.5 206.5L1187.7 208.2L1184.3 208.2ZM1283.7 106.7L1286.1 106.6L1288 109L1287.1 111.6L1284.4 111ZM1223.5 132.5L1221.8 129.4L1223.9 127.4L1225.2 128.7L1226.2 131.6ZM1285.1 118.2L1280 116.6L1280.4 112.1L1286.9 114.5ZM1298.6 189.4L1296.2 184.7L1300.2 183.6L1301.6 189.2ZM1133.5 222.1L1130.7 221.7L1129.2 217.9L1131.6 217.1L1133.8 218.4ZM1179.8 114.5L1175.8 115.3L1175.9 111.3L1179.1 112ZM1113.5 58.2L1116.2 57.5L1115.7 61.5ZM1243.2 134.8L1239.7 135.6L1237.5 133.3L1239.6 129.7ZM1169.3 202.6L1165.9 203.6L1164.5 198.7L1167.3 199.2ZM1118.9 133.5L1118 137.1L1115.1 136.7L1114.9 134.5ZM1309.4 176.1L1312.8 172.7L1315.8 175.1L1311.8 178.8ZM1280.7 68.9L1278.5 65.3L1284.9 65.2ZM1223.2 202.3L1225.6 202.3L1226.5 203.8L1225.3 205.1L1223 203.7ZM1302.9 222.6L1306.6 225.4L1302.6 229L1300 226.7ZM1136.1 236.7L1138.1 236.9L1140.6 240L1136.5 242.2L1135.4 239.5Z" fill="#44b4cc" stroke="#44b4cc"/>
<path d="M1244.9 239.7L1245.8 237.4L1247.7 237.8L1248.5 239.5L1247.1 241.4ZM1243.6 217.5L1240.7 216.1L1241.6 213.9L1244.7 215ZM1239.1 146.2L1241.5 150.6L1236.6 151L1235 147.3ZM1133.5 72.9L1137.4 72.3L1136.5 75.9L1133.5 76.6ZM1127 93.9L1124.6 97.1L1121.3 95.3L1120.9 91.6L1124.7 91.5ZM1295 261.1L1298.8 257.5L1300.2 261.3ZM1121 86.1L1117.4 87.9L1114.9 86.7L1114.2 82.7L1119.1 82.6ZM1210.2 69.8L1210.6 67L1214.1 67L1212.5 70.3ZM1147.6 52.6L1151.7 54L1149.6 56.5L1147.7 55.8ZM1202.6 116.2L1203 119.5L1200.8 119.3L1199 117.4L1200.5 115ZM1259.3 246.5L1259.8 241.3L1262.7 244.6ZM1213.7 79.2L1210.2 80.9L1211.1 77.8ZM1313.9 72.6L1312 75.2L1309.4 73.7L1312.8 71ZM1128 230.3L1130.4 228L1133.9 231L1130.4 232.8ZM1203.8 136.4L1203 134L1205.5 131.6L1208.1 133.4L1207.5 136ZM1137.9 90L1140.6 92.3L1137 93.4L1135.8 91ZM1255.9 161L1259.4 162.6L1257.9 166.3L1255 165ZM1247.9 132.1L1250.8 131.2L1253.3 133.5L1249.8 135.1ZM1194.7 214.4L1189.5 213.4L1193.4 210.6Z" fill="#3c8cd4" stroke="#3c8cd4"/>
<path d="M1242.3 208.7L1239.8 207.8L1239.2 205.7L1241 204.2L1243.6 204.3ZM1223.3 169.7L1225.8 169.1L1225.1 172.2ZM1139 46.8L1137.7 51.1L1135.3 51.6L1133.3 49.7L1135.8 46.3ZM1162.1 116.5L1166.4 116.1L1169.2 119.8L1167.9 122.1L1163 122.2ZM1257.4 57.6L1260.7 59.4L1261.6 62.7L1257.3 62.3ZM1236.5 125L1236.5 121.9L1240.9 121.6L1240.1 125.6ZM1276.5 191.9L1274.7 188L1279.2 188.7ZM1265.7 84.7L1266.7 88.3L1263.6 86.2ZM1315.4 70L1314.2 73.3L1310.7 72.9L1312.7 69.7ZM1222.1 79.2L1219.5 80.4L1218 77.4L1219.1 75L1222.3 74.9ZM1200.3 117.5L1196.5 117.1L1196.2 112.7L1198.7 112.6L1201.1 114.2ZM1229.2 140.5L1234.4 140.6L1232.6 145.6L1228.4 143.3ZM1115.5 162L1117.7 162.5L1117.5 165.3L1115.4 164.9ZM1224.2 253L1224.6 256.3L1221.7 257L1219.8 254.7L1220.9 252ZM1255.5 88.8L1257.6 93.1L1253.3 94.5L1251.4 92.5ZM1277.7 126.6L1280.5 126.2L1281.3 129.9L1277.1 130.2ZM1278.4 52.6L1281.6 51.3L1283.9 52.9L1283.3 54.6L1280.7 54.9ZM1184.4 223.4L1183.2 219.4L1186.6 220.7ZM1282.9 75.3L1284.9 77.8L1284.5 82.1L1281.3 80.7L1278.9 76.9ZM1152.8 218L1151.4 220.7L1149.7 221.4L1147.9 218.7L1150 217.4ZM1134.9 125.5L1139.4 121.8L1141.1 127.5L1137.9 127.7ZM1316.3 79.1L1314.3 82L1311.8 79L1313.3 75.7L1315.6 75.7ZM1257.8 180.4L1258.1 177.1L1259.4 175.8L1262.6 178.7L1261.3 181.5ZM1141.2 156L1140.5 152.6L1144.4 151.4L1144.5 155ZM1290.1 59.1L1285.5 60.6L1283.9 56.1L1288.3 55ZM1199.1 139.5L1201.7 142.3L1198 142.8Z" fill="#3846c8" stroke="#3846c8"/>
<path d="M1173.8 225.2L1172.3 220.8L1174.3 219L1177.4 220.6L1177.6 224.7ZM1257.1 90.6L1254.9 87.3L1256.8 86L1258.6 88ZM1315.6 146.7L1314.6 144.2L1316 142.7L1318.1 144.2L1317.9 147ZM1199.1 257.8L1198.9 253.9L1202.8 255.2ZM1261.2 107.3L1264.8 110.2L1260.8 110ZM1233.2 195.6L1232.6 193.9L1235.2 191.7L1237.1 193.9L1237.3 197.3ZM1291.7 230.8L1287.8 226L1292.1 224.5L1294.1 227.3ZM1233.1 183.4L1235.9 186L1234.5 188.6L1231.1 187.7L1229.2 184.6ZM1299.8 78.4L1304.3 77.1L1302.9 81.3ZM1131.4 194.6L1127 194.6L1129.4 191.4ZM1160.2 237.1L1157.7 234.4L1160 231.3L1162.3 234.6ZM1267.8 69.7L1265.6 66.9L1266.1 65L1269.2 64L1270.8 67.4ZM1150 88.9L1149.7 92.5L1146.5 90.8L1148 88.1ZM1291.5 234L1292 230.8L1297.2 232L1294.8 235.7ZM1253.8 189.9L1256.3 189.8L1257.6 192.2L1255.7 194.6L1252.6 192.9ZM1301.7 152L1299.5 154.6L1297.2 152.2L1298.9 150.2ZM1117.4 169.4L1118 172.4L1115.8 172.9L1114.4 168.9ZM1277 205.6L1280.8 207.7L1279.4 212.8L1274.2 210.3ZM1304.4 95L1307.9 97.1L1305.1 99.3ZM1190.7 107.2L1192.6 109.9L1191.3 112.9L1188.6 111.7L1188.1 108.9ZM1168.3 69.8L1164.6 70.8L1165 67.3L1167.8 66.5ZM1234.9 229.2L1233.4 225.8L1236 223.8L1238.8 227.3ZM1186.3 126.8L1187.8 125.2L1191.2 125.1L1191.4 127.4L1188.9 129.5ZM1143.3 79L1146 74.6L1149.4 76.7L1146.4 82.2ZM1261.5 235.8L1265.6 235.5L1263.8 238.6ZM1260.1 126.2L1263.4 125.5L1264.6 128.5L1261.5 128.4Z" fill="#68d0c4" stroke="#68d0c4"/>
<path d="M1109.4 216L1112.4 212.7L1116.5 216.1L1114 218ZM1275.8 69.2L1277.2 72.2L1273.8 73.8L1270.8 73.5L1272.5 68.4ZM1156.8 155.1L1153.5 161.3L1151.4 156.9ZM1117.6 208.9L1113.3 206.1L1116.7 203ZM1125.3 105.2L1127.7 104.2L1130.1 105.1L1130.2 108.6L1127.2 108.5ZM1119.9 217.2L1123.6 215.6L1123.8 219.1ZM1282.8 188L1280.4 186.8L1280.9 183.6L1282.7 184.1L1284.4 186.8ZM1219.2 86.8L1218.5 81.1L1224.6 83.8ZM1232.9 101.4L1233.4 96.9L1238.2 99.2ZM1292.4 232.9L1291 235.1L1288.4 230.7L1290.6 229.7ZM1308.9 111L1309.7 109L1313.5 109.1L1311.5 112.5ZM1285.7 137.2L1284.7 139.9L1281.4 139.2L1280.3 136.6L1282.7 134.7ZM1260.8 54.5L1265.2 51.5L1267.5 54.3L1263.8 56.8ZM1210.9 249.5L1211.7 246L1214.8 246.6L1215.3 249.9ZM1188.3 205.7L1185.6 202.1L1190.5 198.1L1191.7 202ZM1296.2 149L1300.3 149.4L1299.9 152.3L1296.1 153.2ZM1140.6 84.3L1140.4 81L1144.1 82.3ZM1117.3 240.7L1113.1 239.5L1117.3 236.5ZM1120.3 165.8L1118.7 167.6L1117.3 165.2L1117.6 162.6L1119.7 163.6ZM1243.1 143L1239.9 142.7L1241.2 140ZM1222.9 220.3L1220.5 218.5L1223.2 215.5L1226 217.9ZM1179.1 229.2L1175.6 229.9L1174.3 226.9L1177.4 224.6L1181.6 226.1ZM1129.9 121.3L1133.2 115.9L1136.3 119.4L1132.3 123.5ZM1186.8 74.7L1187.3 71.9L1190 71.4L1191.2 75.4ZM1111 218L1114.3 219.1L1113.9 222.7L1110.3 221.7ZM1199.5 257.5L1194.6 254L1198.9 252.2L1202 253.9ZM1211.1 65.9L1207.9 66.9L1206.6 64.3L1208.2 62.3ZM1117.7 132.6L1115.4 129.3L1119.1 129.3ZM1205.9 189.2L1202.6 188.7L1202.8 185.5L1205.4 185.1L1207.2 187.6ZM1127.5 157.1L1130.3 154.4L1133.1 156.4L1131.9 159.2L1129.5 159.3ZM1283.6 80.2L1282.4 76.3L1287.5 74.5L1287.2 79.8ZM1131.4 234.8L1134.5 234.4L1136 238L1132.4 238.5ZM1231.3 241.6L1228.9 241.9L1225.9 238.9L1228.3 238.1L1232.5 238.7ZM1143.1 155.8L1143.7 151.5L1147.5 156ZM1232.2 100.3L1234.5 102.7L1232.5 104.6L1229.9 102.2Z" fill="#e07a30" stroke="#e07a30"/>
<path d="M1180.6 126.4L1179.9 124.4L1181.6 121.1L1183.8 122.5L1184.6 125.2ZM1257.2 118.3L1252.8 118.4L1251.4 114.4L1257.3 113.9ZM1185.4 196.1L1187.5 197L1186.6 199.9L1183.7 198.5ZM1234.3 53L1229.8 52.2L1231.4 49.1L1235.1 50.1ZM1175.2 167.4L1170.5 165.5L1175.6 163ZM1109.7 131.8L1112.7 133.5L1110.9 136.2L1106.7 137L1106.8 132.6ZM1283.9 49.1L1286.8 51.7L1283.2 52.7ZM1247.2 206.9L1248.6 204.1L1251.4 205.9L1248.9 208.7ZM1163.3 166.5L1162.9 164.5L1166.5 163.6L1168.2 165.9L1166.5 168.3ZM1140.3 99.2L1143.7 101.4L1144.2 103.8L1140.2 105L1138.7 103.1ZM1139 148.7L1141.8 151L1137.3 153.4L1135.9 149.9ZM1259.8 198.6L1264.4 195L1267.7 198.6L1264.5 200.4ZM1282.2 140.6L1283.7 138.5L1288.1 141.7L1285.1 144.1ZM1176.8 242.6L1177.1 246.4L1173 248.6L1171.2 247.1L1173.4 241.9ZM1209.2 64.7L1211.1 67L1209.4 69.4L1206.4 66.8ZM1151.9 138.1L1154.5 134.2L1158.9 138.1L1155.8 140.5ZM1318 104L1314.8 107.1L1311.9 104.3L1313.6 101.4ZM1163.9 225.9L1163.3 223.7L1165.5 221.8L1166.3 226.1ZM1311 194.6L1310 192.4L1311.8 190.9L1314.7 191.4L1313.4 194.1ZM1132.7 209L1132.9 207.1L1136.9 206L1137.5 209.3L1135.8 211ZM1192.7 190.1L1188.6 190.5L1187.8 186.6L1192.2 185.7ZM1303.9 78.1L1303.8 80.6L1301 80.4L1301.3 78.1ZM1170 70.6L1171.4 68.9L1173.4 71L1173 73.4L1169.6 72.8ZM1201.4 227.7L1199.2 230.8L1197.1 229.5L1198.1 225.3L1199.7 226.1ZM1243.4 199.3L1245.8 201.8L1246.2 203.5L1243.1 203.6L1241.3 201.9ZM1177 165.6L1176.5 168.1L1172.7 168.1L1172.7 165L1173.6 164.1ZM1169.3 208.9L1166.9 205.2L1169.6 202.2L1172.2 206.6ZM1273.8 202.6L1276.3 200.4L1278.3 203.5L1275 205.2ZM1218.4 90.4L1222.9 88.7L1222.4 91.9L1218.7 94.2ZM1266 89.1L1266.1 94.1L1262.6 91.2Z" fill="#b0c84c" stroke="#b0c84c"/>
<path d="M1319.3 84.9L1318.7 82.3L1322.5 80.8L1322 83.3ZM1139 257.9L1137.8 255.2L1140.7 254.4L1142.8 258.1ZM1145.6 130.2L1142 129.9L1142.2 124.9L1147 124.1L1149.1 126.8ZM1271.5 89.5L1268.6 86.3L1271.7 85.2ZM1312.1 148.7L1316.8 149.2L1316.6 152.1L1312.5 153.6ZM1161.9 147.4L1163.7 149.6L1161 153L1158.1 150.5L1159.6 147.3ZM1224 135.9L1226.7 138.4L1225 141.7L1220.3 141.1L1220.8 137.6ZM1322.9 199.4L1319 198.8L1318.8 196.3L1323.2 195.1ZM1245.9 67.4L1246.1 65.3L1250 63.9L1250.3 66.3L1249 68.6ZM1314.7 123.4L1314.6 126.6L1312.5 126.8L1311.2 124.2ZM1194.8 70.3L1192.1 70.6L1192.3 67.7L1194.7 67.3ZM1306.3 128.6L1304 129.4L1303.6 125.9L1306.1 123.4L1308.7 126.3ZM1117.1 100L1121.6 98.1L1122.7 103.3ZM1217.9 212.1L1215.3 218L1212.2 214ZM1184.3 218.1L1187 216.8L1189.8 221.6L1185.8 222.3ZM1317.9 223L1315.9 222.6L1315.9 219.5L1318.2 219.1L1320.1 221.6ZM1305.5 100.8L1304.2 96.5L1307.9 95.9L1308.3 99.5ZM1273.3 152.5L1275 155.5L1272.4 157.5L1270.8 156.4L1270.2 153.5ZM1160.4 186.6L1162.2 191.5L1157.3 191.5ZM1229.8 52.7L1225.5 49.5L1230.5 49ZM1257.7 175.5L1259.3 179.1L1257.2 179.8L1254.8 179.6L1254.4 176.1ZM1259.7 176.2L1260.1 172.8L1263.2 171.7L1263.3 176.3ZM1286.5 170.7L1291.4 171.4L1287 174.4ZM1121.8 63.5L1124.1 61.7L1123.9 64.8ZM1250.6 209.2L1248.6 211.8L1246.1 208.4L1247.9 207.2ZM1143.1 135.8L1142.9 131.1L1147.4 128.5L1148.7 133.3L1145.7 135.9ZM1262.9 229.7L1263.5 233.3L1262.4 234.8L1258.9 234.6L1259.6 229.8ZM1143.4 52.6L1139.4 51.4L1140.4 46.5ZM1181.2 212.5L1183.6 209.2L1186.2 211.9L1183.7 214.6Z" fill="#2c3cb4" stroke="#2c3cb4"/>
<path d="M1186.1 235.4L1185.9 231.3L1188 229.6L1192.1 232.4L1189.4 235.7ZM1308.7 124.8L1310.5 122.3L1312.1 124.1L1310.5 125.9ZM1128.3 173.8L1128.3 176.3L1126.6 179L1125 177.5L1124.3 174.6ZM1211.7 81L1209.7 84.9L1206.3 84.1L1205 79.6L1208.6 78.4ZM1180.4 233L1179.8 235.7L1177.1 235.7L1177.2 233.3ZM1171 252.7L1174.3 256.1L1169.2 256ZM1119.6 169.7L1121.2 167.4L1124.2 170L1122.1 173.6ZM1282.3 76.7L1285.6 77.1L1284.2 80L1281.1 80.1ZM1303.8 196L1309.1 195.4L1309.2 199.3L1306.7 201.7L1303.6 200.9ZM1145.5 158.5L1146.2 154L1148.7 154.8L1148.8 158.3ZM1216 169.4L1214 173.3L1209.8 170.7L1210.9 167.8ZM1140.5 96.2L1142.9 100.3L1138.8 101.4L1138 97.6ZM1192.8 51.2L1191.1 50.6L1192.2 46.4L1195.3 48.9ZM1299.6 180.9L1301 176.7L1304.4 176.6L1304.4 181.6ZM1174.3 227.5L1177.9 227L1179.4 229.8L1175 230.9ZM1136.8 52L1135.9 48.9L1139.3 47.4L1139.3 49.9ZM1199.7 89.6L1199.4 86.1L1202 84.4L1202.6 87.3ZM1113.1 164.9L1115.8 166L1114.6 170.8L1111 168.9ZM1218.6 57.8L1219.4 61.2L1216.2 62.8L1214.7 59ZM1269.1 63.1L1271.8 62.2L1272.5 66.4L1270 66.8L1267.2 64.9ZM1171.6 70.8L1170.1 72.7L1166.8 72L1168.9 68.6ZM1228.2 108.9L1227.9 106.8L1229.8 105.3L1232.5 106.5L1230.8 109.1ZM1118.3 92.7L1122 91.7L1123.7 94.8L1120.2 97.1ZM1198.1 182.2L1197.9 179.2L1199.9 178.4L1201.1 180L1200 182.1ZM1220.8 241.5L1218.5 246.9L1216.1 241.1ZM1201.7 113.4L1198.8 113.3L1198.6 110.9L1201.1 110.3Z" fill="#d44830" stroke="#d44830"/>
<path d="M1268.6 60.9L1274.4 64L1268.9 65.5ZM1186.2 228.1L1188.6 224.8L1191.3 223.8L1190.7 228.3L1188.4 228.9ZM1132 102.7L1133.5 98.8L1138 102.1ZM1290.6 109.1L1291.5 112.2L1289.4 113.3L1285.7 112.2L1286.4 109.8ZM1179.9 226.6L1183.5 223.8L1186.7 228.2L1181.9 230.3ZM1141.7 51L1141.3 55.6L1138.2 54.9L1138.1 51.7ZM1119.4 101.6L1118.2 104.9L1114.1 104.3L1113.9 100.8L1118.2 98.8ZM1281.4 234L1276.6 230.9L1279 227.8L1283.3 231.3ZM1126.6 71.8L1131.6 73.2L1130 77.7L1126.5 76.1ZM1204.5 108.5L1208.1 104.7L1210.8 108.4L1208.2 111.3ZM1260.2 107.7L1263 103.5L1266.7 106L1264.2 108.4ZM1304.1 116.2L1299.1 115.5L1301.8 110.9L1305.1 111.1ZM1261.2 125.3L1258.3 125.6L1256.7 124.9L1256.7 121.6L1260.8 121.9ZM1227 195.1L1224.5 197.1L1222.9 194L1225.7 192.3ZM1237.3 67.6L1242.8 70L1241.3 72.5L1236.6 72.6ZM1155.2 129.3L1151.2 129.9L1150.3 127.1L1154.6 126.2ZM1159.5 245.2L1164.3 246.5L1164 249.7L1160.5 250.9L1158.9 247.2ZM1289.1 100.7L1289.6 98.1L1292.5 100.1L1290.8 102.2ZM1276 165.5L1276.4 167.7L1273.3 168.2L1271.7 167.5L1273.2 165ZM1233.2 192.4L1236.7 191.3L1237.1 194.4L1233.9 195.7ZM1256.5 172.9L1260.5 172.4L1260.5 175.6L1256.5 176.1ZM1215.8 238.8L1217.4 236.1L1221 238.7L1220.5 241.5L1217.6 241.8ZM1176 176.1L1178.6 177.7L1176.9 181.7L1173.9 178.8ZM1308.7 252.6L1304.9 250L1304.2 246.5L1308.4 246.2L1311.1 248.5ZM1132.6 115.2L1132.2 112.1L1135.8 110.9L1134.8 115.7ZM1141.1 57.9L1141.3 62.2L1137 61L1137.7 58.2ZM1143.5 69.6L1144.7 65.5L1146.7 68.7ZM1281.9 176.3L1280.2 173.6L1282.4 171.9L1286.1 172.2L1285 176.7ZM1226.1 153.6L1220.5 152.1L1225.3 148.3ZM1155.6 70.6L1154.1 66L1158.6 69ZM1132 148.2L1129.9 146.7L1131.3 143.5L1134.7 143.8ZM1220.3 56.1L1217.6 55.1L1219.4 51.9L1221.4 52.8ZM1199.1 55.2L1195.4 56.3L1193.1 52.4L1197.1 51.9ZM1278.6 138.8L1275.4 139.7L1274.8 134.8L1280.1 135.1ZM1310.7 208.8L1308.8 207L1308.4 204.8L1311.2 203.6L1312.7 207.4Z" fill="#b42636" stroke="#b42636"/>
<path d="M1120.1 78.8L1118.8 76.6L1119.2 75L1121.9 75.8L1122.5 77.2ZM1128 165.8L1127.9 163.5L1131 163L1131.2 165.1ZM1212.2 136.4L1217.8 134.8L1214.8 139.3ZM1258 234.7L1256.7 240.2L1254.5 235.7ZM1184.4 102.4L1180.8 99.7L1183.9 96L1187.8 98.2ZM1288.9 83.8L1287.5 79.9L1291.4 81.4ZM1150.2 99.3L1146.9 98.3L1150.4 96.8ZM1276.7 77.1L1275 71.1L1279.8 71.2L1279.1 75.6ZM1172.5 106.7L1175.6 108.1L1171.8 110.2ZM1268 92.1L1265.4 89.1L1269.6 87.3L1270.7 91.9ZM1233.5 110.9L1232.6 114.1L1229.7 112.7L1228 110.7L1231.1 108.9ZM1203 112.3L1206.7 110L1206.9 114.9ZM1225.7 103.5L1224.1 101.7L1226.7 99.9L1228.2 100.6L1228.1 104ZM1177.7 110.9L1175.7 112.8L1172.9 110.8L1174.4 107.4ZM1245.5 196.2L1244.8 192.9L1249.4 189.9L1249.8 193.4ZM1182.2 202.1L1184.1 203.8L1180.7 206.1L1178.7 203.2ZM1311.2 228.2L1309.1 224.3L1312.1 223.5L1315.2 223.6L1313.7 227ZM1165.6 166.8L1168.4 171.5L1162.7 171.7ZM1265.2 133.8L1266 135.5L1264.6 137.7L1262.3 135.6L1262.9 133.4Z" fill="#dca038" stroke="#dca038"/>
<path d="M1311.8 238L1315.6 236.3L1314.9 239.9ZM1279.3 184.1L1274.8 182.3L1278.5 179.2L1280.9 181.8ZM1258.1 187.7L1258.9 191.5L1255.4 191.1L1254.1 187.7ZM1286 102.2L1288.1 103.8L1286.9 107.2L1284.9 107L1285 104ZM1176.8 105.6L1180.3 105.4L1178.6 108.8ZM1314.8 166.9L1311.3 165.5L1313.8 162.8L1317.3 165.4ZM1238.5 104.1L1235.8 106.8L1233.3 105.4L1233.9 101.5L1237 102.3ZM1312.2 115L1307.9 116.2L1308 112.9L1310.7 111.7ZM1115 75.9L1114.1 78L1110.8 75.8L1111.3 73.6L1114.2 73.3ZM1220.1 121.4L1220 118.8L1224.2 118.9L1223.8 121.3ZM1262.6 76.3L1259.7 78.9L1258.3 75.5ZM1301.2 80.1L1301.6 77.3L1304.3 76.3L1305.2 79.6ZM1143.3 182.1L1142.1 184.6L1139.8 183.9L1138.6 180.9L1142 180.1ZM1162.5 137.6L1161.5 134.4L1164.6 132.5L1164.9 135.9ZM1122 91.3L1119.6 93.2L1116.8 89.8L1120.1 89.1ZM1168.8 192.2L1163 194.2L1161.9 189.5ZM1272.6 190.3L1269.4 192.8L1265.3 192.4L1268.9 187.4ZM1158.6 68.6L1161.5 66.6L1165 69.8L1162 73.1ZM1212.7 251.1L1211.3 249.2L1211.5 245.7L1214.7 244.9L1216.1 247.7ZM1181.9 66.8L1181.4 74L1178 70.1ZM1196.4 248.3L1197.7 244.6L1201.4 245.3L1201.8 249.3L1197.8 251.1ZM1277.7 151.7L1277.3 148.4L1281.6 148.7L1280.6 152.9ZM1212.1 225.8L1212.9 229.2L1208.7 227.4ZM1239.3 57.2L1237.5 63.8L1234 59.7ZM1188.3 210L1189.5 213.6L1186.9 214.2L1185.2 211.8ZM1110.7 250.6L1106.1 250.7L1107.6 246L1112.1 248.3ZM1214.6 143.4L1214.7 138L1218.2 140.4ZM1300.2 145.5L1301.6 150.1L1297.2 149.2ZM1185 76.9L1187.6 77.3L1188 80.7L1185.5 81.2L1183.8 79.4Z" fill="#d0c43c" stroke="#d0c43c"/>
</g>
<path d="M1256.6 44.6v220" stroke="#fff" stroke-width="0.5" opacity="0.25"/>
<rect x="1105.3" y="44.6" width="220" height="220" fill="none" stroke="#0c0c0c" stroke-width="1.6"/>
<rect x="1105.3" y="295" width="220" height="220" fill="#4c4c4c"/>
<g clip-path="url(#cp2p1)">
<g filter="url(#blD2)">
<ellipse cx="1144.4" cy="417.5" rx="62.3" ry="15" transform="rotate(-28 1144.4 417.5)" fill="#000" opacity="0.75"/>
<ellipse cx="1256.1" cy="353" rx="62.3" ry="14" transform="rotate(-20 1256.1 353)" fill="#000" opacity="0.75"/>
<ellipse cx="1191.7" cy="475.4" rx="70.9" ry="17.2" transform="rotate(-15 1191.7 475.4)" fill="#000" opacity="0.78"/>
<ellipse cx="1294.8" cy="333.7" rx="30.1" ry="12.9" transform="rotate(10 1294.8 333.7)" fill="#000" opacity="0.6"/>
<ellipse cx="1273.3" cy="496.9" rx="36.5" ry="15" transform="rotate(0 1273.3 496.9)" fill="#000" opacity="0.6"/>
<ellipse cx="1116.5" cy="387.4" rx="21.5" ry="12.9" transform="rotate(0 1116.5 387.4)" fill="#000" opacity="0.5"/>
<ellipse cx="1305.5" cy="430.3" rx="10.7" ry="25.8" transform="rotate(0 1305.5 430.3)" fill="#000" opacity="0.4"/>
<ellipse cx="1230.3" cy="430.3" rx="19.3" ry="15" transform="rotate(0 1230.3 430.3)" fill="#000" opacity="0.45"/>
<ellipse cx="1219.6" cy="312.2" rx="43" ry="8.6" transform="rotate(0 1219.6 312.2)" fill="#000" opacity="0.3"/>
<ellipse cx="1170.2" cy="434.6" rx="43" ry="8.6" transform="rotate(-22 1170.2 434.6)" fill="#fff" opacity="0.2"/>
<ellipse cx="1155.2" cy="350.9" rx="43" ry="9.7" transform="rotate(-30 1155.2 350.9)" fill="#fff" opacity="0.16"/>
<ellipse cx="1290.5" cy="400.3" rx="27.9" ry="10.7" transform="rotate(-20 1290.5 400.3)" fill="#fff" opacity="0.14"/>
<ellipse cx="1294.8" cy="473.3" rx="19.3" ry="15" transform="rotate(0 1294.8 473.3)" fill="#fff" opacity="0.1"/>
</g>
<rect x="1105.3" y="295" width="220" height="220" filter="url(#nz2p)" opacity="0.13"/>
<rect x="1105.3" y="295" width="220" height="220" filter="url(#nz2pd)" opacity="0.3"/>
<g filter="url(#blD)">
<circle cx="1234.2" cy="428.2" r="6.7" fill="#000" opacity="1.0"/>
<circle cx="1279.7" cy="321.9" r="6.4" fill="#000" opacity="0.85"/>
<circle cx="1219.2" cy="507.7" r="3.2" fill="#000" opacity="0.8"/>
<circle cx="1269" cy="371.3" r="3.2" fill="#000" opacity="0.7"/>
<circle cx="1142.3" cy="344.4" r="1.7" fill="#000" opacity="0.7"/>
<circle cx="1165.9" cy="319.7" r="1.5" fill="#000" opacity="0.7"/>
<circle cx="1112.2" cy="397.1" r="1.9" fill="#000" opacity="0.6"/>
</g>
<circle cx="1298.6" cy="481.5" r="2.1" fill="#fff" opacity="0.9" filter="url(#bl1)"/>
<circle cx="1279.7" cy="384.8" r="2.1" fill="#fff" opacity="0.5" filter="url(#bl1)"/>
<circle cx="1161.6" cy="433.6" r="2.1" fill="#fff" opacity="0.4" filter="url(#bl1)"/>
<circle cx="1176.6" cy="434.6" r="1.7" fill="#fff" opacity="0.4" filter="url(#bl1)"/>
</g>
<g clip-path="url(#cp2p1)" stroke-linejoin="round" stroke-width="2.2" opacity="0.6">
<path d="M1185.3 499.5L1180.7 498L1182.7 494.2L1187.1 496.3ZM1183.9 455.5L1182.3 450.9L1185 449.2L1187.1 453.6ZM1263.7 432.6L1264.5 435.5L1260.3 433.7ZM1230.1 412.9L1233.6 415.6L1229.9 417.4ZM1270.9 481.2L1274.1 483.1L1272.9 485.6L1270.2 483.8ZM1303.6 496.6L1305.5 498L1303.5 501.2L1300.8 498.9ZM1188.5 431.4L1192.5 429.9L1191 434.5ZM1202.9 339L1204.2 343.6L1198.4 342.9L1198.5 338.5ZM1245.3 302L1244 307.6L1239.4 304.7ZM1255.6 463.2L1252.2 460.4L1257 458.7ZM1239.1 402L1236.2 405.9L1234.1 402.7L1236.8 399.7ZM1205.5 401.6L1210.4 401.8L1208.6 404.9ZM1298 351.5L1295.5 355L1292.2 352L1296.5 348.5ZM1260.3 387.2L1261 392L1255.8 392.1L1257 387.5ZM1273.9 363.9L1271.8 362.3L1274.3 360L1276.1 362.8ZM1234.5 328.8L1233 332.4L1227.7 329.1L1230.1 325.9L1234.6 326ZM1254.8 414.2L1252.7 413L1253.5 410.9L1255.7 410.9L1257 412.1Z" fill="#d44830" stroke="#d44830"/>
<path d="M1223.7 490.6L1220.2 491.6L1220.3 488.2L1222.4 485.7L1225.1 487.4ZM1118.1 332.6L1115.5 336.4L1113 332.8L1115.2 330.5ZM1260 308.2L1260.5 303.9L1263.5 303.2L1265.6 306.6ZM1184.6 504.6L1182.4 508.9L1180.6 505.6ZM1199.9 501.8L1201.1 498L1206.1 499.6L1203.8 502ZM1211.6 335.6L1214.2 336.8L1213.5 339.8L1211.6 341.8L1209.9 337.8ZM1221 349.7L1224.2 348.6L1225 353L1222.7 353.4ZM1201 357.1L1199.9 351.2L1203.6 353.8ZM1192.1 339.7L1194 337L1196.9 339.7L1194.9 342.4ZM1218.3 440.7L1218.2 437.1L1224.3 437.9L1223.7 443.1ZM1292.7 331.1L1290.3 330.9L1289.9 328.5L1292.1 327.9L1293.9 329.4ZM1207.5 379.8L1204 380L1201.7 379.2L1203.4 376L1206.4 376.1ZM1169.4 507.9L1172.6 508.3L1170.2 510.7ZM1270.2 408.5L1269.9 404.3L1272.6 405ZM1319.6 331.4L1321.4 335L1319.9 336.9L1316.7 335.4ZM1146.9 503.9L1150.3 503.5L1150.9 507.9L1147.9 509.3ZM1264.3 478.8L1268.1 479.4L1267.7 483.5L1264.4 482.6ZM1143.8 322.5L1147 323.9L1142.9 327.6L1140.9 324.9ZM1173 348.6L1170.2 351.6L1167.9 348.5L1171.8 345ZM1235.1 405.3L1235 408.8L1231.5 407.7L1231.5 404.2ZM1167.2 438L1167.2 433L1169.9 430.9L1170.9 436.5ZM1136.5 325L1134.2 322.6L1136.9 319.5L1139.9 322.8ZM1110.7 377.5L1111.3 374.4L1114 375.2L1114.9 376.7L1113.8 379.7ZM1183.9 371.9L1179.4 369.3L1184.6 368.5Z" fill="#dca038" stroke="#dca038"/>
<path d="M1133 374.2L1131.4 371.8L1134.1 368.2L1136.8 372.9ZM1265.4 397.4L1262.5 394.3L1266.1 391.6L1268.3 395ZM1199.7 447.2L1196.7 450.5L1194.9 448.9L1197.1 445.2ZM1147.5 487.1L1147.7 481.5L1150.1 481.6L1151.2 484.9ZM1134 309.1L1133 314.2L1130.3 313.1L1128.4 309.5L1131.3 308.4ZM1213.5 404.6L1216.9 406.2L1215.8 410.2L1212.4 407.8ZM1308.6 342.5L1307.8 337.4L1311.6 336.3L1312.5 339.3ZM1179.1 509.7L1175.1 506.6L1181.1 506.8ZM1251.7 459.1L1253.4 457.5L1256.3 458.9L1254.1 461.1ZM1230.3 354.6L1234.6 357.6L1231.7 360.6L1229.3 359.9ZM1235.9 506L1237.9 503.5L1241.5 505.5L1241.1 507.8L1238.6 508.1ZM1236.8 490.6L1239.5 489.2L1241.7 491.1L1239.2 494ZM1282.2 341.7L1281.2 337.7L1284.3 336.8L1286.3 338.4ZM1125.5 453.7L1127.9 455.3L1125.1 458.4L1123.1 456.5ZM1291.9 428L1287.8 426.6L1288.1 423.1L1292.7 423.4ZM1250.6 413.8L1250.4 416.3L1247.3 416.3L1245.9 413.4L1248.8 412.5ZM1234.1 333.3L1238.3 330.7L1239.5 336.7L1235.6 337.9ZM1272.7 453.6L1271.7 451.1L1273.6 450.7L1275.8 452.4ZM1199 379.3L1195.9 379.6L1195.8 375.7L1197.8 375.3ZM1237.7 311.6L1242.1 310.9L1241.3 315.7ZM1208.1 363.8L1211.1 365L1210.7 367.9L1208.3 367.2ZM1225.1 298.5L1222.5 301.4L1220.1 301.2L1220.5 297.5ZM1256.6 321L1254.2 322.5L1251 319.6L1251.7 317.1L1255.9 318.1ZM1268.3 343.6L1270.4 341.5L1272.3 343.8L1269.1 345.4ZM1239.6 431.2L1240.5 426.4L1243 427.9L1241.9 432.3ZM1230.7 314.3L1233.9 314.4L1235 317.6L1230.9 317.4Z" fill="#b42636" stroke="#b42636"/>
<path d="M1205.6 478.2L1204.3 480.9L1201.5 481.3L1201.4 477.7ZM1254.5 444.8L1258 446.1L1257.3 448.4L1253.8 446.8ZM1306.8 473.5L1309.2 473.3L1309.5 476.1L1307.3 477.4L1305.5 476.6ZM1177.5 487.6L1177.3 486L1179.5 484L1181.7 485.9L1179.9 488.4ZM1187.7 476.3L1181.4 478.5L1182.2 471.8ZM1191.1 393.3L1193.5 394L1193.5 396.4L1189.2 396.8ZM1240.7 499L1236 499.9L1235.6 495.9L1239.4 495.6ZM1241.7 315.4L1240.7 317.8L1237.3 317.2L1238.9 314.2ZM1127.6 352.7L1124.2 351.9L1124.4 347.7L1127.8 348.5L1128.6 351.3ZM1214.3 439.7L1213.2 444L1210.9 440.8ZM1183.3 335L1181 338.4L1176.8 334.5L1178.4 331.6ZM1177.7 410.4L1180.6 407.8L1183.5 409.3L1179.8 412.8ZM1130.6 338.5L1131.5 334.9L1134.5 336L1133 338.8ZM1217.7 340.8L1219 342.8L1216.9 345.3L1215 342.6ZM1165.5 317.8L1167.6 315L1169.8 315.1L1169.5 318.1L1168.3 320ZM1317.2 419L1319.6 421.5L1317 425.6L1314.1 423L1314.9 420.6ZM1215.3 447.3L1212.6 447.6L1211.8 445.4L1215.2 443.7ZM1291 330.1L1286.3 330.8L1287.3 327.7ZM1214.4 380.7L1216.6 382.9L1214.9 386.3L1212.2 384.6ZM1207.6 305.5L1209.6 302.3L1212.6 304.4L1209.2 307.9ZM1280.9 354.7L1281.4 350.9L1284.5 351.3L1283.9 355.5Z" fill="#d0c43c" stroke="#d0c43c"/>
<path d="M1234.7 435.9L1232 437.8L1231.8 434.7ZM1155.2 420L1156.5 417.1L1158.7 419.7ZM1117.2 341.9L1118.9 344.2L1117 346.6L1114.5 345ZM1161.4 445.4L1164.6 445.1L1165.2 447.3L1162.2 448ZM1181.8 443.6L1184.7 443.8L1184.8 447.4L1181.3 447.3ZM1290.5 330.8L1295.2 331.4L1296 333.9L1292.5 336L1290 333.8ZM1148.7 408.6L1143 407.6L1146 404.5ZM1271.3 445.9L1274.4 444.3L1273.8 449.4ZM1200 327.4L1198.6 329.2L1194.4 326.7L1198 324.1ZM1222.9 414.7L1223.1 417.1L1220 415.5ZM1146.4 304.9L1143.8 307.2L1142.6 303.4ZM1287.8 333.6L1285 331.4L1288.4 327.9L1290.5 332.3ZM1233.3 347.5L1239 348L1238.7 351.8L1236.5 354.5L1233.1 352.7ZM1162.4 443.4L1165.2 446.5L1163.3 447.5L1160.9 445.1ZM1165.5 420L1168.9 420.8L1169.3 424L1166.5 423.6ZM1278.5 302.5L1281.3 305.1L1278 308.3L1275.2 305.8L1275.2 302.6Z" fill="#48c0ac" stroke="#48c0ac"/>
<path d="M1246.7 471.8L1247.9 474.3L1244.5 476.6L1243.7 474ZM1313.8 311.3L1314.5 307.4L1318.3 308.4L1317.4 311.1ZM1300.7 333.1L1303.3 336.5L1297.5 337.5ZM1305.1 406.6L1311.2 404.1L1312.5 407.5L1308.6 410.8ZM1295.6 414.6L1299.1 416.8L1298.2 418.3L1295.3 418.6ZM1307.3 452.3L1312.1 448.7L1311.3 454.5ZM1316.1 406.1L1319.9 408.5L1319 410.7L1315.4 410.2ZM1179.4 334.7L1178.1 338.1L1174.7 336L1176.1 333.5ZM1109.7 452.7L1112.8 455.4L1110.6 457.8ZM1192.2 361.7L1192.1 358.5L1195.8 358.3L1197.5 360.3L1194.9 362.3ZM1247.1 428.4L1250.6 428.9L1248.7 431.8ZM1291.8 326.6L1289.2 327.7L1287 324.7L1290.7 323.9ZM1174.1 433.5L1172.1 435.7L1170 433.3L1171.3 430.9ZM1124.3 312.2L1120.3 313.3L1117.9 310.1L1122.8 308.8ZM1214.7 365.7L1213.8 362.9L1216.9 359.8L1219.7 365.7ZM1255.5 425.2L1258 425.9L1258.3 428.4L1255.9 429.2ZM1272.7 457.5L1276.1 455.7L1278.6 460.1L1277.1 461.6L1272.7 462ZM1287.5 332.5L1287.7 329.6L1289.4 329.4L1290.7 332.5ZM1245.4 376L1245.8 372.6L1251.2 374.5L1248.8 377.9ZM1271.3 403.9L1274.4 403L1276 406.1L1274.2 409.8L1270.9 407.1ZM1222.1 403.6L1219.7 401.5L1221.4 399.6L1224.7 401.5ZM1203.5 371.5L1200.9 373.1L1198.4 371.5L1199.4 368.8L1202.6 367.7Z" fill="#54c894" stroke="#54c894"/>
<path d="M1216.1 340.6L1214.4 336.4L1219 335.2L1220 340ZM1154.9 450.6L1154.3 453.9L1150.2 456.2L1150.2 450.6ZM1231.7 302.2L1229.7 300.1L1232.8 297.5L1235.5 301.1ZM1189.7 305.4L1191.5 307.7L1190.8 309.9L1187.7 309.7L1187.7 306.7ZM1197.4 401.2L1194.4 397.3L1198.2 396.2L1199.7 398L1200.6 400.8ZM1274.2 436.7L1276.3 439.8L1273 439.8ZM1186.6 475.7L1185.5 481.3L1182.3 479.3L1182.3 476.1ZM1259.2 494.2L1261.9 497.9L1258.2 499.8ZM1131.4 395.7L1126.7 393.9L1128.3 389.7L1132.6 391.8ZM1112.7 417.5L1113.6 414.3L1117.2 414.1L1116.7 418.1ZM1318.1 454.5L1316.3 457.3L1314.4 452.7ZM1290.9 412.4L1293.4 409.3L1297 411.5L1295 414.4ZM1258.9 415L1260 417.8L1257.7 419.5L1256.7 416.3ZM1231.1 300.9L1235 302.5L1233.5 305.5L1230.7 304.3ZM1234.7 393.8L1235.8 399L1231.6 398.4Z" fill="#e07a30" stroke="#e07a30"/>
<path d="M1303.1 412.1L1304.8 409.8L1306.9 412.4L1305.6 415.2L1303 415.4ZM1192.7 311.3L1189.1 313.5L1186.9 310.1L1189.1 306.7ZM1319 382L1317.9 386.1L1315.4 385.8L1317 381.7ZM1178.9 345.7L1180.9 344.7L1184.3 346L1183.3 349.8L1179.6 349.3ZM1212.4 444.3L1209.7 441.4L1212.9 438.4L1216.7 442.1ZM1112.5 458.5L1112.7 452.7L1118.3 456.6ZM1237.2 471.4L1235.8 470.4L1236.5 466.7L1239.5 467.5L1240.5 470.1ZM1275 444L1276 449.3L1271.2 448.3ZM1154 508L1150.7 507.9L1150.4 505.6L1154 506.1ZM1236.9 446L1240.6 445.5L1240.3 449.2L1236.4 449.4ZM1179.1 416.3L1182.7 417L1180.6 421.2L1177.8 419.6ZM1167.9 469.1L1169.8 467.7L1170.5 470.5L1168.4 471ZM1310.3 421.9L1311.9 417.3L1315.1 417L1313.2 422.2ZM1298.5 361.6L1296.2 365L1294.5 363.4L1294.2 360.3L1296.3 360.1ZM1161.1 455.6L1163.6 452.1L1166.7 455.2L1164 458.1ZM1208.5 341.2L1207.2 343.6L1203.5 342.5L1204.3 339.2L1207 339.7ZM1118.1 473.7L1122.3 472.6L1124.4 475.9L1119.2 477.6ZM1272.6 462.3L1268.9 460.3L1272.3 457.6Z" fill="#c82a2e" stroke="#c82a2e"/>
<path d="M1144.6 479.6L1139.1 483L1136.8 479.7L1139.9 477.1L1142.4 476.2ZM1317.9 428.8L1318.6 430.8L1316.1 431.1L1314.4 429L1316.7 427.5ZM1235.5 370.4L1241 368.8L1239.4 374.2ZM1318.2 424.6L1318.1 430.2L1314.1 426.4ZM1271.6 334.7L1267.1 335L1268.4 330.8L1271.7 331.9ZM1167.6 404.1L1162.9 405.2L1164.2 400.7L1166.8 400.1ZM1235.6 327.4L1233.1 327.1L1233.7 324.8L1234.7 323.8L1237.3 326.8ZM1199 482.6L1198.4 479.8L1201.4 478.8L1204.7 480L1202.3 483ZM1108.8 482.2L1113.9 480.9L1113.4 484.2L1110.9 485.9ZM1213.3 385.8L1213.1 382.5L1215.5 381.7L1216.2 384.2ZM1148.5 448.8L1149.7 443.5L1155.2 445L1154.1 449.9ZM1272 467.6L1275.3 465.6L1277 468.3L1275.6 470.1ZM1214.1 334.7L1210.4 333.7L1212.5 329.6L1215.5 332ZM1148.6 323.7L1153.4 326.4L1147.4 328.4ZM1254.9 475.9L1258.3 473.5L1261.4 474.5L1259.2 478.9ZM1196 370.8L1191.6 372.8L1191.6 367.8ZM1116.1 409L1112.9 406L1116.5 405.8ZM1169.4 369.2L1166 369.3L1165.8 366.2L1170.2 365ZM1144.3 505.7L1140.7 503.8L1143.8 502L1146.4 503.8ZM1294.5 471.9L1290.3 472.5L1289.2 470L1292.7 467.2ZM1299 351.6L1295.1 350.1L1298.2 348.3ZM1164.3 409.4L1165.1 406L1168.5 410.1ZM1296.1 392.3L1292.1 391.9L1292 388.8L1296.7 389.2ZM1118.3 446.6L1117.4 449L1114.5 447.8L1114.7 444.4L1117.1 444.8ZM1230.6 502.6L1228.8 504.3L1227 501.9L1228.8 500.7ZM1124.9 459.4L1122.8 463.1L1118 461L1121.2 457ZM1323.2 492.1L1319.7 492.3L1319 489.3L1321.8 488.4ZM1158.5 365.2L1162.1 362.2L1161 368.2ZM1213.5 405.3L1212.3 403.1L1213.9 401.6L1215.6 403.4Z" fill="#2c3cb4" stroke="#2c3cb4"/>
<path d="M1154.4 474.8L1158 476.8L1157.2 481.9L1151 479ZM1223.8 371.6L1219.8 371.2L1221.4 366.4L1224 367.6ZM1159.8 359.1L1161.8 354.3L1165 355.6L1163 359.6ZM1249.1 335.6L1251.2 340.3L1246.4 338.8ZM1200.9 421.1L1199.3 418.6L1200.7 416.1L1202.8 416.7L1202.9 419.5ZM1232.5 421.1L1228.4 422.8L1227.9 419.4L1231.5 418.6ZM1311.9 444.4L1307.5 444L1310 440.2ZM1252.4 307.2L1251.6 310.3L1249.3 310L1248.4 307.6L1249.6 306.7ZM1180.8 509.4L1179.1 510.1L1177.6 508.5L1179.3 506.5ZM1123.3 335.3L1120.6 332.2L1124.8 331.3ZM1175 387.9L1173.6 386.1L1175.9 383L1178.3 383.3L1178.7 386.1ZM1117.1 397.6L1120.8 396.3L1119.8 400.3ZM1203.3 335L1202.6 339L1200 336.3ZM1314.3 490.8L1314.7 495.7L1310.9 497L1309.9 493.3ZM1206.7 376.6L1211.5 374.5L1212.9 378.3L1210 379.5ZM1186.4 490.8L1189.5 488.9L1191.8 490.7L1188.4 493.9ZM1308.4 476.2L1313.8 478.6L1310.7 482L1305.9 479.4ZM1198.2 441.3L1196.3 437.7L1199.4 435.9L1202.5 439.5ZM1146.2 380.9L1148.3 383.3L1144.5 383.6ZM1159.1 461.9L1160.4 460L1162.7 459.9L1163.2 463.3L1160.1 463.7ZM1112.9 323.7L1116.3 323.7L1116.8 326.7L1111.8 328.5ZM1172.1 443.9L1176.7 443.4L1178 446L1174.3 447ZM1284.8 297.4L1286.8 298.4L1286.4 300.6L1282.3 299.8ZM1216.9 319.4L1213.7 316L1218.7 315.1L1220.3 318.5ZM1297.6 502.3L1300.1 507.5L1294.3 506.4Z" fill="#b0c84c" stroke="#b0c84c"/>
<path d="M1188.2 484.5L1187.3 481.5L1190.3 479.3L1193.5 484.4L1190.3 486.4ZM1194.8 450.9L1191.6 449L1195 446.6ZM1285.1 405.7L1290.6 403.7L1291 406.8L1287.1 409ZM1217.1 397.4L1218.9 397.5L1221.6 400.7L1218.3 402L1216.2 400.4ZM1315.3 370.2L1311.2 372.1L1309 368.2L1313.3 365.1ZM1322.4 338.1L1318.6 337.5L1317.9 335.1L1320.7 333.3L1323.6 334.9ZM1186.6 395.1L1183.3 392.6L1186.5 389.1L1188.9 392ZM1172.3 319.4L1169.3 320.7L1167.2 317.5L1171.4 317ZM1150.6 333.1L1149 335.5L1146.1 334L1147.2 331.2ZM1168.9 345.8L1166.2 349.1L1163.3 346.3ZM1182 335.5L1180 335.1L1180.6 331.8L1183.7 331.4L1185 334.4ZM1301 495.9L1303.9 495.4L1302.6 499.3ZM1184.6 398.9L1186 401.2L1184 402.7L1181.7 401.8L1181.4 400ZM1135.9 391.8L1135 389.5L1137.4 388.1L1140.3 390.6L1138 392.4ZM1180.4 460.9L1185 459.3L1186.5 463.7L1181.9 466.2ZM1267.8 505.8L1266.8 501.8L1269 499.8L1271.8 501.5L1271.8 504.5ZM1168.4 447.3L1166.4 442.5L1170.9 440.2L1171.8 445.6ZM1161.1 387.9L1158.5 392.3L1156.2 388.6L1158.7 386.1ZM1147.3 336.9L1147.7 334.4L1150.5 334.1L1151.7 337.4L1149.8 337.9ZM1223 486L1221.4 490.9L1216.8 487.7L1219.1 484.4Z" fill="#78d070" stroke="#78d070"/>
<path d="M1261.6 508.9L1264.7 509.6L1263.7 513.2L1259.6 510.8ZM1285.9 424.4L1281.9 421L1286.9 417.6ZM1136.4 392.2L1138 388.8L1142.4 391.6L1141 394.9ZM1196 489.9L1199.7 490.6L1198.1 494.5L1194.2 493.2ZM1146.5 341.3L1149.1 337.9L1153.2 339.1L1151.1 344.5ZM1297.4 417.3L1300.9 417.7L1299.2 421.7L1296.4 421.4ZM1211.5 312L1207.9 312.5L1206.5 306.8L1212.1 306.3ZM1190.8 499.4L1195.1 500.3L1193.5 503.4L1190.5 502.4ZM1174.3 336.2L1174.1 339L1171.5 341L1168.7 337.5L1172.6 333.9ZM1297.2 359.2L1299.2 356.5L1302.1 357.5L1302 361.6ZM1224 477L1221.3 475.8L1221.8 472.9L1225.3 475.1ZM1175.5 426.3L1178.3 425.6L1179.6 428.2L1177.2 429.8ZM1306.9 419.9L1312.4 423.2L1307.7 425.8ZM1201.9 465.2L1198.3 462.8L1200.4 460.7L1203.5 460.1L1203.7 462.9ZM1162.3 502.8L1162.6 505.3L1158.5 506.3L1157.6 502.3L1159.4 501.1ZM1243.9 304.5L1242 308.6L1238.7 309.1L1238.9 303.4ZM1130 324.6L1133.6 319.7L1134.4 324.4ZM1230.2 390.5L1229.4 387.3L1233.5 385.4L1235.7 389.9ZM1226.2 370.4L1222.4 369.9L1224 366.6ZM1216.4 366.7L1213 364.2L1214.1 362.5L1216.4 361.2L1217.9 363.9ZM1163.6 499.9L1166.2 502.7L1162.5 505.4L1161.9 502ZM1186.7 403.6L1183.4 402.9L1183.7 399.5L1187.6 399ZM1211.2 500.3L1208.8 502.8L1206.1 501.4L1207.3 498L1209.8 498.4ZM1186.2 424.7L1187.3 429L1182.8 429.9L1182.1 425.9ZM1198.4 398.9L1199.7 403.7L1196.3 406L1194.6 403.3L1195.1 398.4ZM1215.4 301.2L1211.8 302.6L1211.7 298.4L1214.5 298.5ZM1304.2 473.3L1307.3 471.3L1308.8 475.4L1304.6 478Z" fill="#4860d4" stroke="#4860d4"/>
<path d="M1199.3 318.5L1199.9 322.1L1195.6 321.9L1197.1 317.1ZM1216.3 411.5L1219 411.6L1220.9 413.9L1219.7 415.4L1216.3 415.1ZM1133.7 421.8L1128.3 423.2L1127 419.5L1132.2 418.4ZM1319.7 308.8L1322.2 311.7L1319.2 314.1L1316.8 310.5ZM1119.7 428.6L1120 432.3L1117.3 434L1114 430.8ZM1261 371.5L1265.7 372.6L1264.4 377L1260.3 374.3ZM1255.6 425.2L1260.8 426.5L1259.8 431.3L1256.9 430.4ZM1283.7 346.9L1285.2 348L1282.3 349.7L1280.8 348.9L1280.6 346.2ZM1213.8 381.1L1211.6 383.6L1208.8 381.7L1210.7 378.3ZM1223.3 459L1219.3 457.7L1221.5 454.3L1225.6 456.4ZM1117.1 502.3L1115.8 503.6L1112.8 503.9L1112.4 500.7L1116 498.3ZM1296.1 336.7L1293.4 337.7L1292.6 334.4L1295.4 333.9ZM1226.8 382.7L1226.6 385.7L1223.5 383.9L1224.6 381.5ZM1294.6 317.8L1296.4 321L1292.4 323.3L1290.8 319.4ZM1145.6 426.4L1151.1 426.4L1147.9 429.6ZM1294.6 426.5L1296.3 424.7L1299.4 426.4L1296.1 428.2ZM1320.4 344L1319.5 348L1314.9 348.3L1315.4 343.2ZM1220.6 493.7L1218 496.1L1215.3 494.5L1217.5 492.2Z" fill="#3c8cd4" stroke="#3c8cd4"/>
<path d="M1303.4 322.3L1305.9 321.4L1306.2 324.9L1303 325.4ZM1261.3 457L1258.7 454.3L1262.5 454.2ZM1266.9 396.1L1270 397.5L1267.8 403.1L1264.7 401.3ZM1222.3 496L1225.1 494.7L1228.3 495.8L1227.2 499.8L1223.8 498.8ZM1309 382.6L1307.4 379.6L1308.8 377.8L1311.4 378.9L1310.5 382.1ZM1303 425.1L1305.1 428.5L1302.3 430.4L1301 427.9ZM1118.7 417.3L1118.2 413.9L1121.4 411.9L1122.9 416.2ZM1145.9 343.8L1142.2 340.4L1145.5 340ZM1305.6 451.8L1308.9 447.9L1310.4 451.9L1308.4 453.3ZM1308.8 436L1305.9 438.7L1303 435ZM1316.3 474.7L1321.5 475L1318.1 478.2ZM1175.8 368L1173.1 370.1L1171.3 367.6L1173.7 365.5L1176.5 365.6ZM1205.4 502.4L1206.8 503.5L1204.7 506.3L1203.1 503.9L1203.4 502.2ZM1154.1 389.3L1157.6 385.4L1157.2 390.6ZM1231 378.2L1229.2 374.4L1232.6 372.7L1235.9 375.1ZM1265.9 364L1263.2 367.7L1261 364.1ZM1258.4 435.6L1256.7 433.1L1259.9 432.1L1260.7 435.8ZM1230.2 393.8L1229.4 397.6L1226 396.8L1227.4 393.3ZM1268 332.4L1264.8 329.5L1266.2 325.5L1269.3 325.9L1269.9 329.3ZM1272.9 446.5L1274.1 448.3L1271.7 450.3L1270.8 447.4Z" fill="#68d0c4" stroke="#68d0c4"/>
<path d="M1287.1 448.8L1293.7 448.8L1290.3 452.8ZM1134.6 448.1L1135.4 444.5L1139.1 446.4ZM1231.7 345.4L1233.2 349.2L1230.1 350L1229.5 346.8ZM1306.6 468.3L1309.4 472.6L1304.2 472.9ZM1180.2 471L1178.8 472.8L1175.6 471.9L1175 468.9L1179 468.4ZM1220.5 348.1L1216.4 346.9L1218.5 344.3L1221.1 346ZM1242 360L1239.7 357.9L1241.6 355.8L1244.2 357.5L1243.4 360.6ZM1276.9 408.7L1276.4 405.8L1282.2 404.6L1281 409.5ZM1218.8 475.4L1222.5 476.8L1221.7 479.4L1219.4 478.9L1217.8 477.6ZM1272.3 411.2L1268.3 412.9L1267.2 410.3L1269.7 407.5ZM1188.6 377.1L1187.3 378.8L1185.2 377.1L1187.4 374.2ZM1165.4 450.8L1168.3 452.7L1167.7 455L1165.8 454.8L1164.8 453.2ZM1229.3 325.1L1227.1 322.4L1232.2 321.4L1232.1 324.8ZM1114.1 434L1112.8 430.3L1115.6 429L1118.3 431L1116.1 434.1ZM1128.7 467.2L1125.8 465.7L1126.7 463.3L1128.8 464L1130.9 466.1ZM1157.2 365.5L1155.3 363.4L1158.1 362.2ZM1273.5 426.3L1275.1 423.3L1277.4 427.1ZM1222.3 465.8L1218.4 463.1L1221.3 460.7L1223.6 462.4ZM1310.1 485.6L1310.5 482.2L1314.2 482.1L1314.6 484.2L1312.9 486.7ZM1270.3 418.7L1267.8 420.3L1267.5 417.3ZM1117.5 409.1L1118.6 412.4L1115.6 414.8L1115 411.8ZM1158.2 474.4L1156.3 471.9L1159.6 468.9L1161.5 471.7ZM1267.9 312.3L1268 308.8L1271.3 308.8ZM1303.8 407.8L1302.4 405.7L1304.4 404.1L1307.3 404.6L1306.5 408ZM1254 376.8L1254.8 372.8L1258.1 375Z" fill="#44b4cc" stroke="#44b4cc"/>
<path d="M1232.8 500.2L1234.4 497.2L1236.4 499.8ZM1276.1 308L1276.3 310.2L1274.3 311.3L1272.5 308.5ZM1115.1 308.7L1119.1 311L1116.7 314.7L1113.8 315.1L1112.6 312ZM1150.6 458.9L1151.3 453.8L1155.4 457.5ZM1279.4 357.8L1283.2 361L1279 363ZM1189.4 507.8L1194.4 505.5L1196.2 509.6L1192.6 510.1ZM1166.1 326.5L1169.4 327.3L1167.6 330.5ZM1205.6 437.2L1207.6 433.1L1210.5 434.9L1210 437.4ZM1162.9 456.2L1163 453.4L1165.5 451.6L1166.8 455ZM1196.6 378.5L1197.6 376L1201.4 377.3L1200.6 379.9ZM1142.8 328.6L1147.1 329.5L1144.3 332.1ZM1147.7 308.5L1151.3 313.1L1146.2 312.4ZM1181.8 375L1183 378.8L1180.2 379.5L1177.8 375.2ZM1125.5 328.7L1125.9 331.9L1123.5 332.8L1121.4 330.7L1123.6 328.6ZM1204.6 360.1L1209.9 357.4L1210 361.7L1207.8 363.1ZM1197.5 323L1194.1 318L1199.1 320ZM1212 493.6L1207.2 495.6L1207.4 491.2L1209.6 490.6Z" fill="#3846c8" stroke="#3846c8"/>
</g>
<path d="M1256.6 295v220" stroke="#fff" stroke-width="0.5" opacity="0.25"/>
<path d="M1105.3 301.3h220M1105.3 451.3h220" stroke="#fff" stroke-width="0.5" opacity="0.18"/>
<rect x="1105.3" y="295" width="220" height="220" fill="none" stroke="#0c0c0c" stroke-width="1.6"/>
<text x="1355.2" y="35.2" font-size="44" fill="#000">C</text>
<path d="M1480.6 118h5M1982.6 118h-5M1480.6 191h5M1982.6 191h-5M1513.5 264.0v-5M1513.5 45.0v5M1610.2 264.0v-5M1610.2 45.0v5M1706.9 264.0v-5M1706.9 45.0v5M1803.6 264.0v-5M1803.6 45.0v5M1900.3 264.0v-5M1900.3 45.0v5" stroke="#111" stroke-width="1.7"/>
<rect x="1513.5" y="45.0" width="36.2" height="219" fill="#bdbdbd"/>
<rect x="1610.2" y="45.0" width="36.2" height="219" fill="#bdbdbd"/>
<rect x="1803.6" y="45.0" width="36.2" height="219" fill="#bdbdbd"/>
<rect x="1900.3" y="45.0" width="36.2" height="219" fill="#bdbdbd"/>
<path d="M1707.2 45.0V264.0" stroke="#a4a4a4" stroke-width="1.5" stroke-dasharray="9 5" stroke-dashoffset="-1.5"/>
<path d="M1743.5 45.0V264.0" stroke="#a4a4a4" stroke-width="1.5" stroke-dasharray="9 5" stroke-dashoffset="-1.5"/>
<g clip-path="url(#cpC0)">
<path d="M1480.6 214.2 L1496.8 186.6 L1513 168.7 L1529.2 132 L1545.4 154.1 L1561.6 199.6 L1577.8 228.2 L1594 209.3 L1610.1 180.1 L1626.3 148.5 L1642.5 167.1 L1658.7 189.8 L1674.9 211.9 L1691.1 200.2 L1707.3 198.9 L1723.5 180.1 L1739.7 131.3 L1755.9 85.2 L1772.1 72.8 L1788.3 89.7 L1804.5 72.2 L1820.7 46.8 L1836.9 89.1 L1853.1 128.1 L1869.2 154.7 L1885.4 167.1 L1901.6 159.9 L1917.8 87.8 L1934 121.6 L1950.2 158.3 L1966.4 151.8 L1982.6 156.3 L1982.6 179.7 L1966.4 175.2 L1950.2 181.7 L1934 145 L1917.8 111.2 L1901.6 183.3 L1885.4 190.5 L1869.2 178.1 L1853.1 151.5 L1836.9 112.5 L1820.7 70.2 L1804.5 95.6 L1788.3 113.1 L1772.1 96.2 L1755.9 108.6 L1739.7 154.7 L1723.5 203.5 L1707.3 222.3 L1691.1 223.6 L1674.9 235.3 L1658.7 213.2 L1642.5 190.5 L1626.3 171.9 L1610.1 203.5 L1594 232.7 L1577.8 251.6 L1561.6 223 L1545.4 177.5 L1529.2 155.4 L1513 192.1 L1496.8 210 L1480.6 237.6Z" fill="#deb27d" opacity="0.3"/>
<path d="M1480.6 225.9 L1496.8 198.3 L1513 180.4 L1529.2 143.7 L1545.4 165.8 L1561.6 211.3 L1577.8 239.9 L1594 221 L1610.1 191.8 L1626.3 160.2 L1642.5 178.8 L1658.7 201.5 L1674.9 223.6 L1691.1 211.9 L1707.3 210.6 L1723.5 191.8 L1739.7 143 L1755.9 96.9 L1772.1 84.5 L1788.3 101.4 L1804.5 83.9 L1820.7 58.5 L1836.9 100.8 L1853.1 139.8 L1869.2 166.4 L1885.4 178.8 L1901.6 171.6 L1917.8 99.5 L1934 133.3 L1950.2 170 L1966.4 163.5 L1982.6 168" fill="none" stroke="#ee8030" stroke-width="1.0" stroke-linejoin="round"/>
<path d="M1480.6 191H1982.6" stroke="#000" stroke-width="1.6"/>
<path d="M1480.6 218.7 L1496.8 221.7 L1513 197.6 L1529.2 151.5 L1545.4 169.3 L1561.6 206.7 L1577.8 225.2 L1594 232.1 L1610.1 200.2 L1626.3 146.6 L1642.5 162.8 L1658.7 203.5 L1674.9 226.2 L1691.1 232.1 L1707.3 208.3 L1723.5 167.7 L1739.7 136.8 L1755.9 119 L1772.1 107.6 L1788.3 102.7 L1804.5 104.7 L1820.7 91.3 L1836.9 128.7 L1853.1 177.5 L1869.2 208.3 L1885.4 206.1 L1901.6 169.3 L1917.8 120.6 L1934 143.3 L1950.2 187.2 L1966.4 204.1 L1982.6 199.6 L1982.6 202.2 L1966.4 206.7 L1950.2 189.8 L1934 145.9 L1917.8 123.2 L1901.6 171.9 L1885.4 208.7 L1869.2 210.9 L1853.1 180.1 L1836.9 131.3 L1820.7 93.9 L1804.5 107.3 L1788.3 105.3 L1772.1 110.2 L1755.9 121.6 L1739.7 139.4 L1723.5 170.3 L1707.3 210.9 L1691.1 234.7 L1674.9 228.8 L1658.7 206.1 L1642.5 165.4 L1626.3 149.2 L1610.1 202.8 L1594 234.7 L1577.8 227.8 L1561.6 209.3 L1545.4 171.9 L1529.2 154.1 L1513 200.2 L1496.8 224.3 L1480.6 221.3Z" fill="#c8161a" opacity="0.35"/>
<path d="M1480.6 220 L1496.8 223 L1513 198.9 L1529.2 152.8 L1545.4 170.6 L1561.6 208 L1577.8 226.5 L1594 233.4 L1610.1 201.5 L1626.3 147.9 L1642.5 164.1 L1658.7 204.8 L1674.9 227.5 L1691.1 233.4 L1707.3 209.6 L1723.5 169 L1739.7 138.1 L1755.9 120.3 L1772.1 108.9 L1788.3 104 L1804.5 106 L1820.7 92.6 L1836.9 130 L1853.1 178.8 L1869.2 209.6 L1885.4 207.4 L1901.6 170.6 L1917.8 121.9 L1934 144.6 L1950.2 188.5 L1966.4 205.4 L1982.6 200.9" fill="none" stroke="#c8161a" stroke-width="2.1" stroke-linejoin="round"/>
</g>
<rect x="1480.6" y="45.0" width="502" height="219" fill="none" stroke="#111" stroke-width="1.9"/>
<text x="1474.5" y="56.2" font-size="31.2" fill="#1a1a1a" text-anchor="end">10</text>
<text x="1474.5" y="129.2" font-size="31.2" fill="#1a1a1a" text-anchor="end">5</text>
<text x="1474.5" y="202.2" font-size="31.2" fill="#1a1a1a" text-anchor="end">0</text>
<text x="1474.5" y="275.2" font-size="31.2" fill="#1a1a1a" text-anchor="end">-5</text>
<text transform="translate(1412.6 154.5) rotate(-90)" font-size="35.2" text-anchor="middle" fill="#1a1a1a">ΔF/F<tspan font-size="27.5" dy="17">0</tspan><tspan dy="-17"> [%]</tspan></text>
<text x="1481.6" y="71.6" font-size="26.5" fill="#c8161a">Mean Cells</text>
<text x="1481.6" y="97.8" font-size="26.5" fill="#ee8030">Single Cell</text>
<rect x="1513.5" y="295.4" width="36.2" height="218.5" fill="#bdbdbd"/>
<rect x="1610.2" y="295.4" width="36.2" height="218.5" fill="#bdbdbd"/>
<rect x="1803.6" y="295.4" width="36.2" height="218.5" fill="#bdbdbd"/>
<rect x="1900.3" y="295.4" width="36.2" height="218.5" fill="#bdbdbd"/>
<path d="M1707.2 295.4V513.9" stroke="#a4a4a4" stroke-width="1.5" stroke-dasharray="9 5" stroke-dashoffset="-1.5"/>
<path d="M1743.5 295.4V513.9" stroke="#a4a4a4" stroke-width="1.5" stroke-dasharray="9 5" stroke-dashoffset="-1.5"/>
<g clip-path="url(#cpC1)">
<path d="M1480.6 403.3 L1496.8 421.1 L1513 435.1 L1529.2 343.8 L1545.4 336.6 L1561.6 395.1 L1577.8 447.1 L1594 445.5 L1610.1 427.6 L1626.3 361 L1642.5 347.4 L1658.7 388.6 L1674.9 438.4 L1691.1 424.4 L1707.3 453.6 L1723.5 408.1 L1739.7 414 L1755.9 396.1 L1772.1 419.5 L1788.3 429.3 L1804.5 435.8 L1820.7 297.6 L1836.9 305.8 L1853.1 392.5 L1869.2 399.4 L1885.4 453.6 L1901.6 411.4 L1917.8 305.8 L1934 343.1 L1950.2 393.5 L1966.4 392.9 L1982.6 407.5 L1982.6 443.2 L1966.4 431.9 L1950.2 432.5 L1934 385.4 L1917.8 344.8 L1901.6 450.4 L1885.4 492.6 L1869.2 444.9 L1853.1 438 L1836.9 348 L1820.7 339.9 L1804.5 474.8 L1788.3 465 L1772.1 458.5 L1755.9 438.4 L1739.7 456.2 L1723.5 447.1 L1707.3 492.6 L1691.1 456.9 L1674.9 477.4 L1658.7 427.6 L1642.5 389.6 L1626.3 403.3 L1610.1 463.4 L1594 484.5 L1577.8 486.1 L1561.6 437.4 L1545.4 382.1 L1529.2 389.3 L1513 467.6 L1496.8 456.9 L1480.6 442.3Z" fill="#7fd8c6" opacity="0.26"/>
<path d="M1480.6 422.8 L1496.8 439 L1513 451.4 L1529.2 366.5 L1545.4 359.4 L1561.6 416.3 L1577.8 466.6 L1594 465 L1610.1 445.5 L1626.3 382.1 L1642.5 368.5 L1658.7 408.1 L1674.9 457.9 L1691.1 440.6 L1707.3 473.1 L1723.5 427.6 L1739.7 435.1 L1755.9 417.2 L1772.1 439 L1788.3 447.1 L1804.5 455.3 L1820.7 318.8 L1836.9 326.9 L1853.1 415.3 L1869.2 422.1 L1885.4 473.1 L1901.6 430.9 L1917.8 325.3 L1934 364.3 L1950.2 413 L1966.4 412.4 L1982.6 425.4" fill="none" stroke="#3fc4a8" stroke-width="1.0" stroke-linejoin="round"/>
<path d="M1480.6 441.1H1982.6" stroke="#000" stroke-width="1.6"/>
<path d="M1480.6 451.4 L1496.8 452.3 L1513 453 L1529.2 404.2 L1545.4 418.9 L1561.6 450.4 L1577.8 449.7 L1594 454.6 L1610.1 452.3 L1626.3 407.5 L1642.5 420.5 L1658.7 462.7 L1674.9 464.4 L1691.1 461.1 L1707.3 454.6 L1723.5 444.9 L1739.7 436.7 L1755.9 427 L1772.1 426.3 L1788.3 420.5 L1804.5 421.5 L1820.7 381.5 L1836.9 404.2 L1853.1 448.1 L1869.2 453 L1885.4 454.6 L1901.6 436.7 L1917.8 390.6 L1934 406.5 L1950.2 440 L1966.4 438.4 L1982.6 436.7 L1982.6 451 L1966.4 452.7 L1950.2 454.3 L1934 420.8 L1917.8 404.9 L1901.6 451 L1885.4 468.9 L1869.2 467.3 L1853.1 462.4 L1836.9 418.5 L1820.7 395.8 L1804.5 435.8 L1788.3 434.8 L1772.1 440.6 L1755.9 441.3 L1739.7 451 L1723.5 459.2 L1707.3 468.9 L1691.1 475.4 L1674.9 478.7 L1658.7 477 L1642.5 434.8 L1626.3 421.8 L1610.1 466.6 L1594 468.9 L1577.8 464 L1561.6 464.7 L1545.4 433.2 L1529.2 418.5 L1513 467.3 L1496.8 466.6 L1480.6 465.7Z" fill="#1a08f0" opacity="0.35"/>
<path d="M1480.6 458.5 L1496.8 459.5 L1513 460.1 L1529.2 411.4 L1545.4 426 L1561.6 457.5 L1577.8 456.9 L1594 461.8 L1610.1 459.5 L1626.3 414.6 L1642.5 427.6 L1658.7 469.9 L1674.9 471.5 L1691.1 468.3 L1707.3 461.8 L1723.5 452 L1739.7 443.9 L1755.9 434.1 L1772.1 433.5 L1788.3 427.6 L1804.5 428.6 L1820.7 388.6 L1836.9 411.4 L1853.1 455.3 L1869.2 460.1 L1885.4 461.8 L1901.6 443.9 L1917.8 397.7 L1934 413.7 L1950.2 447.1 L1966.4 445.5 L1982.6 443.9" fill="none" stroke="#1a08f0" stroke-width="1.9" stroke-linejoin="round"/>
</g>
<rect x="1480.6" y="295.4" width="502" height="218.5" fill="none" stroke="#111" stroke-width="1.9"/>
<path d="M1480.6 368.2h5M1982.6 368.2h-5M1480.6 441.1h5M1982.6 441.1h-5M1513.5 513.9v-5M1513.5 295.4v5M1610.2 513.9v-5M1610.2 295.4v5M1706.9 513.9v-5M1706.9 295.4v5M1803.6 513.9v-5M1803.6 295.4v5M1900.3 513.9v-5M1900.3 295.4v5" stroke="#111" stroke-width="1.7"/>
<text x="1474.5" y="306.6" font-size="31.2" fill="#1a1a1a" text-anchor="end">10</text>
<text x="1474.5" y="379.4" font-size="31.2" fill="#1a1a1a" text-anchor="end">5</text>
<text x="1474.5" y="452.3" font-size="31.2" fill="#1a1a1a" text-anchor="end">0</text>
<text x="1474.5" y="525.1" font-size="31.2" fill="#1a1a1a" text-anchor="end">-5</text>
<text transform="translate(1412.6 404.6) rotate(-90)" font-size="35.2" text-anchor="middle" fill="#1a1a1a">ΔF/F<tspan font-size="27.5" dy="17">0</tspan><tspan dy="-17"> [%]</tspan></text>
<text x="1481.6" y="322" font-size="26.5" fill="#1a08f0">Mean Cells</text>
<text x="1481.6" y="348.2" font-size="26.5" fill="#3fc4a8">Single Cell</text>
<text x="1513.5" y="552.8" font-size="31.2" fill="#1a1a1a" text-anchor="middle">-0.4</text>
<text x="1610.2" y="552.8" font-size="31.2" fill="#1a1a1a" text-anchor="middle">-0.2</text>
<text x="1706.9" y="552.8" font-size="31.2" fill="#1a1a1a" text-anchor="middle">0</text>
<text x="1803.6" y="552.8" font-size="31.2" fill="#1a1a1a" text-anchor="middle">0.2</text>
<text x="1900.3" y="552.8" font-size="31.2" fill="#1a1a1a" text-anchor="middle">0.4</text>
<text x="1731.8" y="593.6" font-size="34.3" fill="#1a1a1a" text-anchor="middle">Time Rel. Om Onset (s)</text>
<text x="26.2" y="726" font-size="44" fill="#000">D</text>
<circle cx="186.4" cy="908" r="137.3" fill="#0000ff"/>
<g clip-path="url(#cpD)" shape-rendering="crispEdges">
<path d="M48.5 770.3h4.8v4.8h-4.8zM66.3 770.3h9.2v4.8h-9.2zM79.7 770.3h13.7v4.8h-13.7zM97.6 770.3h9.2v4.8h-9.2zM110.9 770.3h4.8v4.8h-4.8zM133.2 770.3h18.1v4.8h-18.1zM155.5 770.3h9.2v4.8h-9.2zM168.9 770.3h4.8v4.8h-4.8zM177.8 770.3h4.8v4.8h-4.8zM53 774.8h9.2v4.8h-9.2zM75.3 774.8h4.8v4.8h-4.8zM84.2 774.8h4.8v4.8h-4.8zM97.6 774.8h22.6v4.8h-22.6zM137.7 774.8h27.1v4.8h-27.1zM48.5 779.2h9.2v4.8h-9.2zM66.3 779.2h4.8v4.8h-4.8zM88.6 779.2h4.8v4.8h-4.8zM102 779.2h18.1v4.8h-18.1zM128.8 779.2h13.7v4.8h-13.7zM146.6 779.2h4.8v4.8h-4.8zM155.5 779.2h13.7v4.8h-13.7zM53 783.7h13.7v4.8h-13.7zM79.7 783.7h18.1v4.8h-18.1zM106.5 783.7h9.2v4.8h-9.2zM146.6 783.7h9.2v4.8h-9.2zM160 783.7h13.7v4.8h-13.7zM48.5 788.1h9.2v4.8h-9.2zM75.3 788.1h22.6v4.8h-22.6zM102 788.1h9.2v4.8h-9.2zM119.9 788.1h4.8v4.8h-4.8zM128.8 788.1h4.8v4.8h-4.8zM142.2 788.1h4.8v4.8h-4.8zM151.1 788.1h4.8v4.8h-4.8zM164.5 788.1h4.8v4.8h-4.8zM173.4 788.1h4.8v4.8h-4.8zM57.4 792.6h18.1v4.8h-18.1zM79.7 792.6h4.8v4.8h-4.8zM88.6 792.6h4.8v4.8h-4.8zM97.6 792.6h9.2v4.8h-9.2zM115.4 792.6h13.7v4.8h-13.7zM133.2 792.6h4.8v4.8h-4.8zM146.6 792.6h4.8v4.8h-4.8zM48.5 797.1h9.2v4.8h-9.2zM79.7 797.1h4.8v4.8h-4.8zM88.6 797.1h9.2v4.8h-9.2zM106.5 797.1h9.2v4.8h-9.2zM119.9 797.1h4.8v4.8h-4.8zM133.2 797.1h9.2v4.8h-9.2zM155.5 797.1h9.2v4.8h-9.2zM70.8 801.5h4.8v4.8h-4.8zM84.2 801.5h4.8v4.8h-4.8zM93.1 801.5h4.8v4.8h-4.8zM102 801.5h9.2v4.8h-9.2zM119.9 801.5h4.8v4.8h-4.8zM133.2 801.5h4.8v4.8h-4.8zM142.2 801.5h4.8v4.8h-4.8zM151.1 801.5h9.2v4.8h-9.2zM168.9 801.5h9.2v4.8h-9.2zM48.5 806h4.8v4.8h-4.8zM61.9 806h4.8v4.8h-4.8zM70.8 806h4.8v4.8h-4.8zM79.7 806h27.1v4.8h-27.1zM110.9 806h9.2v4.8h-9.2zM137.7 806h4.8v4.8h-4.8zM146.6 806h4.8v4.8h-4.8zM168.9 806h9.2v4.8h-9.2zM53 810.4h4.8v4.8h-4.8zM61.9 810.4h22.6v4.8h-22.6zM88.6 810.4h4.8v4.8h-4.8zM102 810.4h9.2v4.8h-9.2zM115.4 810.4h4.8v4.8h-4.8zM124.3 810.4h4.8v4.8h-4.8zM133.2 810.4h4.8v4.8h-4.8zM146.6 810.4h4.8v4.8h-4.8zM155.5 810.4h18.1v4.8h-18.1zM48.5 814.9h13.7v4.8h-13.7zM66.3 814.9h9.2v4.8h-9.2zM84.2 814.9h27.1v4.8h-27.1zM115.4 814.9h13.7v4.8h-13.7zM133.2 814.9h9.2v4.8h-9.2zM146.6 814.9h9.2v4.8h-9.2zM164.5 814.9h13.7v4.8h-13.7zM53 819.4h4.8v4.8h-4.8zM75.3 819.4h22.6v4.8h-22.6zM102 819.4h4.8v4.8h-4.8zM110.9 819.4h18.1v4.8h-18.1zM133.2 819.4h13.7v4.8h-13.7zM151.1 819.4h4.8v4.8h-4.8zM164.5 819.4h4.8v4.8h-4.8zM173.4 819.4h4.8v4.8h-4.8zM48.5 823.8h4.8v4.8h-4.8zM66.3 823.8h36v4.8h-36zM133.2 823.8h4.8v4.8h-4.8zM151.1 823.8h9.2v4.8h-9.2zM168.9 823.8h4.8v4.8h-4.8zM61.9 828.3h27.1v4.8h-27.1zM93.1 828.3h18.1v4.8h-18.1zM119.9 828.3h27.1v4.8h-27.1zM53 832.7h9.2v4.8h-9.2zM66.3 832.7h9.2v4.8h-9.2zM102 832.7h9.2v4.8h-9.2zM124.3 832.7h4.8v4.8h-4.8zM70.8 837.2h13.7v4.8h-13.7zM88.6 837.2h4.8v4.8h-4.8zM97.6 837.2h9.2v4.8h-9.2zM110.9 837.2h13.7v4.8h-13.7zM133.2 837.2h4.8v4.8h-4.8zM48.5 841.7h4.8v4.8h-4.8zM66.3 841.7h4.8v4.8h-4.8zM79.7 841.7h9.2v4.8h-9.2zM106.5 841.7h4.8v4.8h-4.8zM124.3 841.7h4.8v4.8h-4.8zM133.2 841.7h4.8v4.8h-4.8zM48.5 846.1h31.5v4.8h-31.5zM93.1 846.1h9.2v4.8h-9.2zM106.5 846.1h4.8v4.8h-4.8zM115.4 846.1h4.8v4.8h-4.8zM128.8 846.1h9.2v4.8h-9.2zM48.5 850.6h9.2v4.8h-9.2zM61.9 850.6h4.8v4.8h-4.8zM70.8 850.6h4.8v4.8h-4.8zM79.7 850.6h4.8v4.8h-4.8zM88.6 850.6h4.8v4.8h-4.8zM102 850.6h9.2v4.8h-9.2zM119.9 850.6h4.8v4.8h-4.8zM48.5 855h9.2v4.8h-9.2zM66.3 855h9.2v4.8h-9.2zM79.7 855h4.8v4.8h-4.8zM110.9 855h9.2v4.8h-9.2zM48.5 859.5h4.8v4.8h-4.8zM57.4 859.5h9.2v4.8h-9.2zM75.3 859.5h4.8v4.8h-4.8zM84.2 859.5h27.1v4.8h-27.1zM115.4 859.5h4.8v4.8h-4.8zM53 864h9.2v4.8h-9.2zM70.8 864h4.8v4.8h-4.8zM79.7 864h4.8v4.8h-4.8zM93.1 864h4.8v4.8h-4.8zM102 864h9.2v4.8h-9.2zM115.4 864h9.2v4.8h-9.2zM53 868.4h18.1v4.8h-18.1zM97.6 868.4h13.7v4.8h-13.7zM53 872.9h4.8v4.8h-4.8zM61.9 872.9h9.2v4.8h-9.2zM84.2 872.9h22.6v4.8h-22.6zM115.4 872.9h4.8v4.8h-4.8zM48.5 877.3h13.7v4.8h-13.7zM75.3 877.3h9.2v4.8h-9.2zM88.6 877.3h22.6v4.8h-22.6zM53 881.8h18.1v4.8h-18.1zM75.3 881.8h4.8v4.8h-4.8zM84.2 881.8h4.8v4.8h-4.8zM93.1 881.8h4.8v4.8h-4.8zM102 881.8h4.8v4.8h-4.8zM110.9 881.8h4.8v4.8h-4.8zM48.5 886.3h4.8v4.8h-4.8zM61.9 886.3h13.7v4.8h-13.7zM93.1 886.3h13.7v4.8h-13.7zM110.9 886.3h4.8v4.8h-4.8zM53 890.7h9.2v4.8h-9.2zM66.3 890.7h9.2v4.8h-9.2zM79.7 890.7h9.2v4.8h-9.2zM97.6 890.7h13.7v4.8h-13.7zM66.3 895.2h22.6v4.8h-22.6zM97.6 895.2h4.8v4.8h-4.8zM48.5 899.6h4.8v4.8h-4.8zM57.4 899.6h4.8v4.8h-4.8zM66.3 899.6h4.8v4.8h-4.8zM75.3 899.6h9.2v4.8h-9.2zM88.6 899.6h4.8v4.8h-4.8zM97.6 899.6h4.8v4.8h-4.8zM106.5 899.6h4.8v4.8h-4.8zM48.5 904.1h13.7v4.8h-13.7zM84.2 904.1h4.8v4.8h-4.8zM106.5 904.1h4.8v4.8h-4.8zM53 908.6h4.8v4.8h-4.8zM61.9 908.6h18.1v4.8h-18.1zM84.2 908.6h4.8v4.8h-4.8zM93.1 908.6h9.2v4.8h-9.2zM106.5 908.6h4.8v4.8h-4.8zM53 913h18.1v4.8h-18.1zM106.5 913h4.8v4.8h-4.8zM57.4 917.5h13.7v4.8h-13.7zM75.3 917.5h4.8v4.8h-4.8zM97.6 917.5h9.2v4.8h-9.2zM53 921.9h9.2v4.8h-9.2zM66.3 921.9h4.8v4.8h-4.8zM84.2 921.9h4.8v4.8h-4.8zM93.1 921.9h18.1v4.8h-18.1zM48.5 926.4h18.1v4.8h-18.1zM84.2 926.4h13.7v4.8h-13.7zM48.5 930.9h22.6v4.8h-22.6zM79.7 930.9h4.8v4.8h-4.8zM88.6 930.9h13.7v4.8h-13.7zM48.5 935.3h4.8v4.8h-4.8zM57.4 935.3h4.8v4.8h-4.8zM66.3 935.3h9.2v4.8h-9.2zM79.7 935.3h13.7v4.8h-13.7zM102 935.3h4.8v4.8h-4.8zM48.5 939.8h4.8v4.8h-4.8zM57.4 939.8h13.7v4.8h-13.7zM88.6 939.8h4.8v4.8h-4.8zM48.5 944.2h13.7v4.8h-13.7zM70.8 944.2h9.2v4.8h-9.2zM84.2 944.2h4.8v4.8h-4.8zM97.6 944.2h9.2v4.8h-9.2zM61.9 948.7h4.8v4.8h-4.8zM70.8 948.7h27.1v4.8h-27.1zM102 948.7h4.8v4.8h-4.8zM53 953.2h22.6v4.8h-22.6zM88.6 953.2h9.2v4.8h-9.2zM57.4 957.6h4.8v4.8h-4.8zM79.7 957.6h18.1v4.8h-18.1zM53 962.1h18.1v4.8h-18.1zM75.3 962.1h4.8v4.8h-4.8zM88.6 962.1h4.8v4.8h-4.8zM97.6 962.1h4.8v4.8h-4.8zM48.5 966.5h4.8v4.8h-4.8zM57.4 966.5h9.2v4.8h-9.2zM75.3 966.5h4.8v4.8h-4.8zM84.2 966.5h18.1v4.8h-18.1zM57.4 971h4.8v4.8h-4.8zM66.3 971h4.8v4.8h-4.8zM93.1 971h4.8v4.8h-4.8zM102 971h4.8v4.8h-4.8zM48.5 975.5h13.7v4.8h-13.7zM66.3 975.5h4.8v4.8h-4.8zM79.7 975.5h27.1v4.8h-27.1zM48.5 979.9h9.2v4.8h-9.2zM75.3 979.9h4.8v4.8h-4.8zM93.1 979.9h4.8v4.8h-4.8zM53 984.4h9.2v4.8h-9.2zM70.8 984.4h4.8v4.8h-4.8zM84.2 984.4h4.8v4.8h-4.8zM93.1 984.4h9.2v4.8h-9.2zM57.4 988.8h18.1v4.8h-18.1zM79.7 988.8h4.8v4.8h-4.8zM88.6 988.8h4.8v4.8h-4.8zM97.6 988.8h9.2v4.8h-9.2zM57.4 993.3h18.1v4.8h-18.1zM79.7 993.3h27.1v4.8h-27.1zM302.7 993.3h4.8v4.8h-4.8zM311.6 993.3h9.2v4.8h-9.2zM48.5 997.8h4.8v4.8h-4.8zM61.9 997.8h9.2v4.8h-9.2zM75.3 997.8h4.8v4.8h-4.8zM84.2 997.8h9.2v4.8h-9.2zM293.8 997.8h4.8v4.8h-4.8zM302.7 997.8h13.7v4.8h-13.7zM320.6 997.8h4.8v4.8h-4.8zM57.4 1002.2h4.8v4.8h-4.8zM66.3 1002.2h13.7v4.8h-13.7zM88.6 1002.2h18.1v4.8h-18.1zM115.4 1002.2h4.8v4.8h-4.8zM276 1002.2h9.2v4.8h-9.2zM289.3 1002.2h4.8v4.8h-4.8zM298.3 1002.2h9.2v4.8h-9.2zM311.6 1002.2h4.8v4.8h-4.8zM320.6 1002.2h9.2v4.8h-9.2zM53 1006.7h22.6v4.8h-22.6zM79.7 1006.7h4.8v4.8h-4.8zM88.6 1006.7h13.7v4.8h-13.7zM262.6 1006.7h4.8v4.8h-4.8zM271.5 1006.7h4.8v4.8h-4.8zM280.4 1006.7h9.2v4.8h-9.2zM293.8 1006.7h4.8v4.8h-4.8zM302.7 1006.7h4.8v4.8h-4.8zM311.6 1006.7h4.8v4.8h-4.8zM48.5 1011.1h27.1v4.8h-27.1zM93.1 1011.1h9.2v4.8h-9.2zM110.9 1011.1h4.8v4.8h-4.8zM262.6 1011.1h13.7v4.8h-13.7zM284.9 1011.1h9.2v4.8h-9.2zM298.3 1011.1h4.8v4.8h-4.8zM307.2 1011.1h18.1v4.8h-18.1zM48.5 1015.6h4.8v4.8h-4.8zM61.9 1015.6h4.8v4.8h-4.8zM75.3 1015.6h4.8v4.8h-4.8zM97.6 1015.6h4.8v4.8h-4.8zM115.4 1015.6h4.8v4.8h-4.8zM253.7 1015.6h4.8v4.8h-4.8zM271.5 1015.6h4.8v4.8h-4.8zM280.4 1015.6h13.7v4.8h-13.7zM298.3 1015.6h22.6v4.8h-22.6zM325 1015.6h4.8v4.8h-4.8zM66.3 1020.1h9.2v4.8h-9.2zM79.7 1020.1h18.1v4.8h-18.1zM102 1020.1h9.2v4.8h-9.2zM119.9 1020.1h4.8v4.8h-4.8zM244.7 1020.1h9.2v4.8h-9.2zM267 1020.1h4.8v4.8h-4.8zM276 1020.1h18.1v4.8h-18.1zM302.7 1020.1h13.7v4.8h-13.7zM320.6 1020.1h9.2v4.8h-9.2zM61.9 1024.5h9.2v4.8h-9.2zM84.2 1024.5h4.8v4.8h-4.8zM93.1 1024.5h4.8v4.8h-4.8zM110.9 1024.5h13.7v4.8h-13.7zM133.2 1024.5h9.2v4.8h-9.2zM231.4 1024.5h9.2v4.8h-9.2zM249.2 1024.5h4.8v4.8h-4.8zM258.1 1024.5h4.8v4.8h-4.8zM267 1024.5h9.2v4.8h-9.2zM302.7 1024.5h9.2v4.8h-9.2zM57.4 1029h9.2v4.8h-9.2zM70.8 1029h18.1v4.8h-18.1zM106.5 1029h13.7v4.8h-13.7zM128.8 1029h4.8v4.8h-4.8zM218 1029h9.2v4.8h-9.2zM231.4 1029h9.2v4.8h-9.2zM249.2 1029h9.2v4.8h-9.2zM262.6 1029h9.2v4.8h-9.2zM293.8 1029h9.2v4.8h-9.2zM316.1 1029h4.8v4.8h-4.8zM325 1029h4.8v4.8h-4.8zM48.5 1033.4h13.7v4.8h-13.7zM66.3 1033.4h49.4v4.8h-49.4zM124.3 1033.4h4.8v4.8h-4.8zM133.2 1033.4h4.8v4.8h-4.8zM146.6 1033.4h4.8v4.8h-4.8zM226.9 1033.4h18.1v4.8h-18.1zM249.2 1033.4h4.8v4.8h-4.8zM262.6 1033.4h4.8v4.8h-4.8zM276 1033.4h4.8v4.8h-4.8zM302.7 1033.4h18.1v4.8h-18.1zM53 1037.9h18.1v4.8h-18.1zM75.3 1037.9h4.8v4.8h-4.8zM93.1 1037.9h4.8v4.8h-4.8zM102 1037.9h4.8v4.8h-4.8zM115.4 1037.9h9.2v4.8h-9.2zM142.2 1037.9h4.8v4.8h-4.8zM155.5 1037.9h4.8v4.8h-4.8zM177.8 1037.9h4.8v4.8h-4.8zM191.2 1037.9h4.8v4.8h-4.8zM231.4 1037.9h18.1v4.8h-18.1zM258.1 1037.9h9.2v4.8h-9.2zM280.4 1037.9h18.1v4.8h-18.1zM311.6 1037.9h9.2v4.8h-9.2zM66.3 1042.4h22.6v4.8h-22.6zM97.6 1042.4h4.8v4.8h-4.8zM115.4 1042.4h4.8v4.8h-4.8zM124.3 1042.4h4.8v4.8h-4.8zM142.2 1042.4h9.2v4.8h-9.2zM155.5 1042.4h4.8v4.8h-4.8zM164.5 1042.4h4.8v4.8h-4.8zM173.4 1042.4h4.8v4.8h-4.8zM191.2 1042.4h18.1v4.8h-18.1zM213.5 1042.4h13.7v4.8h-13.7zM235.8 1042.4h9.2v4.8h-9.2zM253.7 1042.4h4.8v4.8h-4.8zM284.9 1042.4h9.2v4.8h-9.2zM307.2 1042.4h13.7v4.8h-13.7zM325 1042.4h4.8v4.8h-4.8zM48.5 1046.8h4.8v4.8h-4.8zM57.4 1046.8h13.7v4.8h-13.7zM75.3 1046.8h4.8v4.8h-4.8zM84.2 1046.8h4.8v4.8h-4.8zM93.1 1046.8h9.2v4.8h-9.2zM119.9 1046.8h13.7v4.8h-13.7zM142.2 1046.8h22.6v4.8h-22.6zM204.6 1046.8h4.8v4.8h-4.8zM218 1046.8h4.8v4.8h-4.8zM231.4 1046.8h9.2v4.8h-9.2zM244.7 1046.8h9.2v4.8h-9.2zM258.1 1046.8h4.8v4.8h-4.8zM267 1046.8h22.6v4.8h-22.6zM293.8 1046.8h4.8v4.8h-4.8zM302.7 1046.8h4.8v4.8h-4.8zM311.6 1046.8h4.8v4.8h-4.8z" fill="#0202ff"/>
<path d="M53 770.3h4.8v4.8h-4.8zM61.9 770.3h4.8v4.8h-4.8zM75.3 770.3h4.8v4.8h-4.8zM93.1 770.3h4.8v4.8h-4.8zM164.5 770.3h4.8v4.8h-4.8zM173.4 770.3h4.8v4.8h-4.8zM182.3 770.3h9.2v4.8h-9.2zM61.9 774.8h4.8v4.8h-4.8zM70.8 774.8h4.8v4.8h-4.8zM93.1 774.8h4.8v4.8h-4.8zM124.3 774.8h4.8v4.8h-4.8zM164.5 774.8h13.7v4.8h-13.7zM70.8 779.2h4.8v4.8h-4.8zM97.6 779.2h4.8v4.8h-4.8zM151.1 779.2h4.8v4.8h-4.8zM177.8 779.2h4.8v4.8h-4.8zM48.5 783.7h4.8v4.8h-4.8zM115.4 783.7h4.8v4.8h-4.8zM124.3 783.7h4.8v4.8h-4.8zM133.2 783.7h4.8v4.8h-4.8zM142.2 783.7h4.8v4.8h-4.8zM155.5 783.7h4.8v4.8h-4.8zM177.8 783.7h4.8v4.8h-4.8zM61.9 788.1h4.8v4.8h-4.8zM115.4 788.1h4.8v4.8h-4.8zM160 788.1h4.8v4.8h-4.8zM168.9 788.1h4.8v4.8h-4.8zM53 792.6h4.8v4.8h-4.8zM128.8 792.6h4.8v4.8h-4.8zM155.5 792.6h13.7v4.8h-13.7zM173.4 792.6h4.8v4.8h-4.8zM61.9 797.1h9.2v4.8h-9.2zM142.2 797.1h4.8v4.8h-4.8zM164.5 797.1h13.7v4.8h-13.7zM57.4 801.5h4.8v4.8h-4.8zM75.3 801.5h9.2v4.8h-9.2zM137.7 801.5h4.8v4.8h-4.8zM164.5 801.5h4.8v4.8h-4.8zM177.8 801.5h4.8v4.8h-4.8zM164.5 806h4.8v4.8h-4.8zM177.8 806h4.8v4.8h-4.8zM84.2 810.4h4.8v4.8h-4.8zM110.9 810.4h4.8v4.8h-4.8zM128.8 810.4h4.8v4.8h-4.8zM177.8 810.4h4.8v4.8h-4.8zM110.9 814.9h4.8v4.8h-4.8zM128.8 814.9h4.8v4.8h-4.8zM160 814.9h4.8v4.8h-4.8zM61.9 819.4h4.8v4.8h-4.8zM106.5 819.4h4.8v4.8h-4.8zM128.8 819.4h4.8v4.8h-4.8zM155.5 819.4h4.8v4.8h-4.8zM102 823.8h4.8v4.8h-4.8zM110.9 823.8h4.8v4.8h-4.8zM137.7 823.8h4.8v4.8h-4.8zM146.6 823.8h4.8v4.8h-4.8zM164.5 823.8h4.8v4.8h-4.8zM173.4 823.8h4.8v4.8h-4.8zM48.5 828.3h9.2v4.8h-9.2zM115.4 828.3h4.8v4.8h-4.8zM146.6 828.3h13.7v4.8h-13.7zM79.7 832.7h4.8v4.8h-4.8zM88.6 832.7h9.2v4.8h-9.2zM146.6 832.7h4.8v4.8h-4.8zM48.5 837.2h9.2v4.8h-9.2zM93.1 837.2h4.8v4.8h-4.8zM106.5 837.2h4.8v4.8h-4.8zM128.8 837.2h4.8v4.8h-4.8zM88.6 841.7h4.8v4.8h-4.8zM97.6 841.7h4.8v4.8h-4.8zM115.4 841.7h9.2v4.8h-9.2zM128.8 841.7h4.8v4.8h-4.8zM137.7 841.7h4.8v4.8h-4.8zM124.3 846.1h4.8v4.8h-4.8zM75.3 850.6h4.8v4.8h-4.8zM97.6 850.6h4.8v4.8h-4.8zM75.3 855h4.8v4.8h-4.8zM88.6 855h4.8v4.8h-4.8zM124.3 855h9.2v4.8h-9.2zM53 859.5h4.8v4.8h-4.8zM110.9 859.5h4.8v4.8h-4.8zM124.3 859.5h4.8v4.8h-4.8zM61.9 864h9.2v4.8h-9.2zM110.9 864h4.8v4.8h-4.8zM75.3 868.4h9.2v4.8h-9.2zM119.9 868.4h4.8v4.8h-4.8zM48.5 872.9h4.8v4.8h-4.8zM57.4 872.9h4.8v4.8h-4.8zM79.7 872.9h4.8v4.8h-4.8zM70.8 877.3h4.8v4.8h-4.8zM110.9 877.3h9.2v4.8h-9.2zM115.4 881.8h4.8v4.8h-4.8zM53 886.3h9.2v4.8h-9.2zM106.5 886.3h4.8v4.8h-4.8zM115.4 886.3h4.8v4.8h-4.8zM115.4 890.7h4.8v4.8h-4.8zM48.5 895.2h4.8v4.8h-4.8zM88.6 895.2h9.2v4.8h-9.2zM106.5 895.2h9.2v4.8h-9.2zM70.8 899.6h4.8v4.8h-4.8zM93.1 899.6h4.8v4.8h-4.8zM88.6 908.6h4.8v4.8h-4.8zM88.6 913h4.8v4.8h-4.8zM48.5 917.5h9.2v4.8h-9.2zM88.6 917.5h4.8v4.8h-4.8zM106.5 917.5h4.8v4.8h-4.8zM70.8 921.9h4.8v4.8h-4.8zM79.7 921.9h4.8v4.8h-4.8zM70.8 926.4h9.2v4.8h-9.2zM102 926.4h9.2v4.8h-9.2zM84.2 930.9h4.8v4.8h-4.8zM53 935.3h4.8v4.8h-4.8zM75.3 935.3h4.8v4.8h-4.8zM93.1 935.3h4.8v4.8h-4.8zM53 939.8h4.8v4.8h-4.8zM75.3 939.8h9.2v4.8h-9.2zM53 948.7h4.8v4.8h-4.8zM66.3 948.7h4.8v4.8h-4.8zM97.6 948.7h4.8v4.8h-4.8zM48.5 953.2h4.8v4.8h-4.8zM61.9 957.6h4.8v4.8h-4.8zM97.6 957.6h4.8v4.8h-4.8zM48.5 962.1h4.8v4.8h-4.8zM84.2 962.1h4.8v4.8h-4.8zM79.7 966.5h4.8v4.8h-4.8zM102 966.5h4.8v4.8h-4.8zM48.5 971h4.8v4.8h-4.8zM75.3 971h4.8v4.8h-4.8zM320.6 971h4.8v4.8h-4.8zM75.3 975.5h4.8v4.8h-4.8zM298.3 975.5h4.8v4.8h-4.8zM307.2 975.5h4.8v4.8h-4.8zM66.3 979.9h4.8v4.8h-4.8zM102 979.9h4.8v4.8h-4.8zM307.2 979.9h4.8v4.8h-4.8zM325 979.9h4.8v4.8h-4.8zM48.5 984.4h4.8v4.8h-4.8zM66.3 984.4h4.8v4.8h-4.8zM102 984.4h4.8v4.8h-4.8zM307.2 984.4h4.8v4.8h-4.8zM316.1 984.4h4.8v4.8h-4.8zM325 984.4h4.8v4.8h-4.8zM53 988.8h4.8v4.8h-4.8zM84.2 988.8h4.8v4.8h-4.8zM271.5 988.8h4.8v4.8h-4.8zM293.8 988.8h4.8v4.8h-4.8zM307.2 988.8h9.2v4.8h-9.2zM325 988.8h4.8v4.8h-4.8zM106.5 993.3h4.8v4.8h-4.8zM284.9 993.3h18.1v4.8h-18.1zM307.2 993.3h4.8v4.8h-4.8zM320.6 993.3h9.2v4.8h-9.2zM53 997.8h9.2v4.8h-9.2zM93.1 997.8h9.2v4.8h-9.2zM106.5 997.8h9.2v4.8h-9.2zM271.5 997.8h4.8v4.8h-4.8zM289.3 997.8h4.8v4.8h-4.8zM316.1 997.8h4.8v4.8h-4.8zM325 997.8h4.8v4.8h-4.8zM53 1002.2h4.8v4.8h-4.8zM84.2 1002.2h4.8v4.8h-4.8zM110.9 1002.2h4.8v4.8h-4.8zM262.6 1002.2h9.2v4.8h-9.2zM284.9 1002.2h4.8v4.8h-4.8zM316.1 1002.2h4.8v4.8h-4.8zM75.3 1006.7h4.8v4.8h-4.8zM106.5 1006.7h18.1v4.8h-18.1zM253.7 1006.7h9.2v4.8h-9.2zM307.2 1006.7h4.8v4.8h-4.8zM325 1006.7h4.8v4.8h-4.8zM79.7 1011.1h4.8v4.8h-4.8zM88.6 1011.1h4.8v4.8h-4.8zM102 1011.1h9.2v4.8h-9.2zM119.9 1011.1h4.8v4.8h-4.8zM244.7 1011.1h4.8v4.8h-4.8zM276 1011.1h9.2v4.8h-9.2zM293.8 1011.1h4.8v4.8h-4.8zM53 1015.6h9.2v4.8h-9.2zM70.8 1015.6h4.8v4.8h-4.8zM84.2 1015.6h4.8v4.8h-4.8zM110.9 1015.6h4.8v4.8h-4.8zM119.9 1015.6h4.8v4.8h-4.8zM244.7 1015.6h4.8v4.8h-4.8zM267 1015.6h4.8v4.8h-4.8zM57.4 1020.1h4.8v4.8h-4.8zM97.6 1020.1h4.8v4.8h-4.8zM115.4 1020.1h4.8v4.8h-4.8zM124.3 1020.1h9.2v4.8h-9.2zM222.4 1020.1h4.8v4.8h-4.8zM231.4 1020.1h4.8v4.8h-4.8zM253.7 1020.1h9.2v4.8h-9.2zM271.5 1020.1h4.8v4.8h-4.8zM70.8 1024.5h9.2v4.8h-9.2zM124.3 1024.5h4.8v4.8h-4.8zM142.2 1024.5h9.2v4.8h-9.2zM222.4 1024.5h4.8v4.8h-4.8zM253.7 1024.5h4.8v4.8h-4.8zM316.1 1024.5h9.2v4.8h-9.2zM53 1029h4.8v4.8h-4.8zM97.6 1029h4.8v4.8h-4.8zM133.2 1029h4.8v4.8h-4.8zM146.6 1029h13.7v4.8h-13.7zM164.5 1029h9.2v4.8h-9.2zM182.3 1029h4.8v4.8h-4.8zM204.6 1029h4.8v4.8h-4.8zM213.5 1029h4.8v4.8h-4.8zM226.9 1029h4.8v4.8h-4.8zM240.3 1029h4.8v4.8h-4.8zM307.2 1029h4.8v4.8h-4.8zM61.9 1033.4h4.8v4.8h-4.8zM115.4 1033.4h9.2v4.8h-9.2zM128.8 1033.4h4.8v4.8h-4.8zM137.7 1033.4h9.2v4.8h-9.2zM151.1 1033.4h18.1v4.8h-18.1zM186.8 1033.4h4.8v4.8h-4.8zM195.7 1033.4h4.8v4.8h-4.8zM209.1 1033.4h9.2v4.8h-9.2zM222.4 1033.4h4.8v4.8h-4.8zM258.1 1033.4h4.8v4.8h-4.8zM289.3 1033.4h4.8v4.8h-4.8zM325 1033.4h4.8v4.8h-4.8zM48.5 1037.9h4.8v4.8h-4.8zM128.8 1037.9h4.8v4.8h-4.8zM146.6 1037.9h9.2v4.8h-9.2zM160 1037.9h4.8v4.8h-4.8zM168.9 1037.9h9.2v4.8h-9.2zM182.3 1037.9h4.8v4.8h-4.8zM195.7 1037.9h27.1v4.8h-27.1zM226.9 1037.9h4.8v4.8h-4.8zM249.2 1037.9h4.8v4.8h-4.8zM276 1037.9h4.8v4.8h-4.8zM302.7 1037.9h4.8v4.8h-4.8zM48.5 1042.4h13.7v4.8h-13.7zM102 1042.4h4.8v4.8h-4.8zM151.1 1042.4h4.8v4.8h-4.8zM168.9 1042.4h4.8v4.8h-4.8zM177.8 1042.4h4.8v4.8h-4.8zM186.8 1042.4h4.8v4.8h-4.8zM231.4 1042.4h4.8v4.8h-4.8zM244.7 1042.4h9.2v4.8h-9.2zM267 1042.4h4.8v4.8h-4.8zM298.3 1042.4h4.8v4.8h-4.8zM320.6 1042.4h4.8v4.8h-4.8zM53 1046.8h4.8v4.8h-4.8zM88.6 1046.8h4.8v4.8h-4.8zM168.9 1046.8h9.2v4.8h-9.2zM182.3 1046.8h9.2v4.8h-9.2zM195.7 1046.8h9.2v4.8h-9.2zM213.5 1046.8h4.8v4.8h-4.8zM253.7 1046.8h4.8v4.8h-4.8zM262.6 1046.8h4.8v4.8h-4.8zM316.1 1046.8h4.8v4.8h-4.8zM325 1046.8h4.8v4.8h-4.8z" fill="#0f0fff"/>
<path d="M191.2 770.3h4.8v4.8h-4.8zM262.6 770.3h13.7v4.8h-13.7zM289.3 770.3h9.2v4.8h-9.2zM311.6 770.3h13.7v4.8h-13.7zM177.8 774.8h4.8v4.8h-4.8zM276 774.8h4.8v4.8h-4.8zM293.8 774.8h36v4.8h-36zM186.8 779.2h4.8v4.8h-4.8zM289.3 779.2h4.8v4.8h-4.8zM186.8 783.7h4.8v4.8h-4.8zM182.3 788.1h4.8v4.8h-4.8zM182.3 792.6h4.8v4.8h-4.8zM280.4 792.6h4.8v4.8h-4.8zM177.8 797.1h4.8v4.8h-4.8zM182.3 801.5h4.8v4.8h-4.8zM320.6 801.5h4.8v4.8h-4.8zM320.6 806h4.8v4.8h-4.8zM177.8 819.4h4.8v4.8h-4.8zM316.1 828.3h4.8v4.8h-4.8zM155.5 832.7h4.8v4.8h-4.8zM164.5 832.7h4.8v4.8h-4.8zM146.6 837.2h4.8v4.8h-4.8zM155.5 841.7h4.8v4.8h-4.8zM137.7 846.1h4.8v4.8h-4.8zM128.8 859.5h4.8v4.8h-4.8zM128.8 864h4.8v4.8h-4.8zM124.3 868.4h4.8v4.8h-4.8zM110.9 904.1h4.8v4.8h-4.8zM320.6 904.1h9.2v4.8h-9.2zM110.9 913h4.8v4.8h-4.8zM320.6 913h4.8v4.8h-4.8zM320.6 921.9h9.2v4.8h-9.2zM316.1 926.4h4.8v4.8h-4.8zM325 926.4h4.8v4.8h-4.8zM316.1 930.9h13.7v4.8h-13.7zM311.6 935.3h4.8v4.8h-4.8zM320.6 935.3h9.2v4.8h-9.2zM311.6 939.8h4.8v4.8h-4.8zM307.2 944.2h4.8v4.8h-4.8zM325 944.2h4.8v4.8h-4.8zM307.2 948.7h4.8v4.8h-4.8zM320.6 948.7h4.8v4.8h-4.8zM106.5 953.2h4.8v4.8h-4.8zM298.3 953.2h4.8v4.8h-4.8zM316.1 953.2h4.8v4.8h-4.8zM325 953.2h4.8v4.8h-4.8zM106.5 957.6h4.8v4.8h-4.8zM302.7 957.6h13.7v4.8h-13.7zM289.3 962.1h9.2v4.8h-9.2zM302.7 962.1h4.8v4.8h-4.8zM320.6 962.1h9.2v4.8h-9.2zM293.8 966.5h13.7v4.8h-13.7zM106.5 971h4.8v4.8h-4.8zM289.3 971h22.6v4.8h-22.6zM106.5 975.5h4.8v4.8h-4.8zM284.9 975.5h4.8v4.8h-4.8zM293.8 975.5h4.8v4.8h-4.8zM302.7 975.5h4.8v4.8h-4.8zM320.6 975.5h4.8v4.8h-4.8zM106.5 979.9h4.8v4.8h-4.8zM276 979.9h22.6v4.8h-22.6zM316.1 979.9h4.8v4.8h-4.8zM106.5 984.4h9.2v4.8h-9.2zM280.4 984.4h4.8v4.8h-4.8zM293.8 984.4h4.8v4.8h-4.8zM320.6 984.4h4.8v4.8h-4.8zM106.5 988.8h4.8v4.8h-4.8zM110.9 993.3h9.2v4.8h-9.2zM267 993.3h4.8v4.8h-4.8zM253.7 997.8h4.8v4.8h-4.8zM267 997.8h4.8v4.8h-4.8zM119.9 1002.2h4.8v4.8h-4.8zM253.7 1002.2h9.2v4.8h-9.2zM124.3 1006.7h4.8v4.8h-4.8zM231.4 1006.7h9.2v4.8h-9.2zM128.8 1011.1h9.2v4.8h-9.2zM235.8 1011.1h4.8v4.8h-4.8zM133.2 1015.6h9.2v4.8h-9.2zM222.4 1015.6h4.8v4.8h-4.8zM231.4 1015.6h4.8v4.8h-4.8zM142.2 1020.1h9.2v4.8h-9.2zM160 1020.1h4.8v4.8h-4.8zM204.6 1020.1h4.8v4.8h-4.8zM218 1020.1h4.8v4.8h-4.8zM226.9 1020.1h4.8v4.8h-4.8zM177.8 1024.5h4.8v4.8h-4.8zM186.8 1024.5h9.2v4.8h-9.2zM213.5 1024.5h4.8v4.8h-4.8zM160 1029h4.8v4.8h-4.8zM177.8 1029h4.8v4.8h-4.8zM186.8 1029h4.8v4.8h-4.8zM209.1 1029h4.8v4.8h-4.8z" fill="#2929ff"/>
<path d="M195.7 770.3h4.8v4.8h-4.8zM204.6 770.3h13.7v4.8h-13.7zM231.4 770.3h9.2v4.8h-9.2zM258.1 770.3h4.8v4.8h-4.8zM191.2 774.8h13.7v4.8h-13.7zM213.5 774.8h13.7v4.8h-13.7zM235.8 774.8h4.8v4.8h-4.8zM244.7 774.8h4.8v4.8h-4.8zM253.7 774.8h9.2v4.8h-9.2zM204.6 779.2h4.8v4.8h-4.8zM231.4 779.2h4.8v4.8h-4.8zM244.7 779.2h4.8v4.8h-4.8zM253.7 779.2h4.8v4.8h-4.8zM262.6 779.2h4.8v4.8h-4.8zM307.2 779.2h4.8v4.8h-4.8zM191.2 783.7h4.8v4.8h-4.8zM204.6 783.7h4.8v4.8h-4.8zM213.5 783.7h4.8v4.8h-4.8zM244.7 783.7h4.8v4.8h-4.8zM258.1 783.7h9.2v4.8h-9.2zM271.5 783.7h4.8v4.8h-4.8zM311.6 783.7h4.8v4.8h-4.8zM240.3 788.1h4.8v4.8h-4.8zM249.2 788.1h9.2v4.8h-9.2zM267 788.1h9.2v4.8h-9.2zM307.2 788.1h4.8v4.8h-4.8zM195.7 792.6h4.8v4.8h-4.8zM267 792.6h9.2v4.8h-9.2zM289.3 792.6h4.8v4.8h-4.8zM191.2 797.1h4.8v4.8h-4.8zM276 797.1h4.8v4.8h-4.8zM293.8 797.1h13.7v4.8h-13.7zM186.8 801.5h4.8v4.8h-4.8zM267 801.5h4.8v4.8h-4.8zM276 801.5h4.8v4.8h-4.8zM284.9 801.5h13.7v4.8h-13.7zM186.8 806h4.8v4.8h-4.8zM262.6 806h4.8v4.8h-4.8zM280.4 806h13.7v4.8h-13.7zM298.3 806h4.8v4.8h-4.8zM284.9 810.4h18.1v4.8h-18.1zM182.3 814.9h4.8v4.8h-4.8zM293.8 814.9h4.8v4.8h-4.8zM302.7 814.9h4.8v4.8h-4.8zM320.6 814.9h4.8v4.8h-4.8zM182.3 819.4h4.8v4.8h-4.8zM289.3 819.4h18.1v4.8h-18.1zM316.1 819.4h9.2v4.8h-9.2zM177.8 823.8h4.8v4.8h-4.8zM298.3 823.8h4.8v4.8h-4.8zM320.6 823.8h4.8v4.8h-4.8zM293.8 828.3h4.8v4.8h-4.8zM302.7 828.3h9.2v4.8h-9.2zM173.4 832.7h4.8v4.8h-4.8zM298.3 832.7h22.6v4.8h-22.6zM325 832.7h4.8v4.8h-4.8zM164.5 837.2h4.8v4.8h-4.8zM307.2 837.2h9.2v4.8h-9.2zM325 837.2h4.8v4.8h-4.8zM160 841.7h4.8v4.8h-4.8zM298.3 841.7h4.8v4.8h-4.8zM320.6 841.7h9.2v4.8h-9.2zM151.1 846.1h4.8v4.8h-4.8zM307.2 846.1h4.8v4.8h-4.8zM316.1 846.1h4.8v4.8h-4.8zM325 846.1h4.8v4.8h-4.8zM311.6 850.6h4.8v4.8h-4.8zM142.2 855h13.7v4.8h-13.7zM311.6 855h4.8v4.8h-4.8zM320.6 855h9.2v4.8h-9.2zM142.2 859.5h4.8v4.8h-4.8zM298.3 859.5h9.2v4.8h-9.2zM137.7 864h4.8v4.8h-4.8zM302.7 864h13.7v4.8h-13.7zM133.2 868.4h4.8v4.8h-4.8zM302.7 868.4h13.7v4.8h-13.7zM128.8 872.9h4.8v4.8h-4.8zM302.7 877.3h13.7v4.8h-13.7zM307.2 881.8h9.2v4.8h-9.2zM298.3 886.3h9.2v4.8h-9.2zM298.3 890.7h13.7v4.8h-13.7zM320.6 890.7h4.8v4.8h-4.8zM119.9 895.2h4.8v4.8h-4.8zM298.3 895.2h22.6v4.8h-22.6zM298.3 899.6h4.8v4.8h-4.8zM311.6 899.6h4.8v4.8h-4.8zM320.6 899.6h4.8v4.8h-4.8zM302.7 904.1h9.2v4.8h-9.2zM307.2 908.6h4.8v4.8h-4.8zM316.1 908.6h4.8v4.8h-4.8zM298.3 913h4.8v4.8h-4.8zM302.7 917.5h9.2v4.8h-9.2zM289.3 921.9h4.8v4.8h-4.8zM110.9 930.9h4.8v4.8h-4.8zM302.7 930.9h4.8v4.8h-4.8zM293.8 935.3h4.8v4.8h-4.8zM302.7 935.3h4.8v4.8h-4.8zM298.3 939.8h4.8v4.8h-4.8zM284.9 948.7h4.8v4.8h-4.8zM110.9 953.2h4.8v4.8h-4.8zM271.5 953.2h4.8v4.8h-4.8zM289.3 953.2h4.8v4.8h-4.8zM110.9 962.1h9.2v4.8h-9.2zM280.4 962.1h4.8v4.8h-4.8zM267 966.5h4.8v4.8h-4.8zM276 966.5h13.7v4.8h-13.7zM267 971h4.8v4.8h-4.8zM280.4 971h4.8v4.8h-4.8zM262.6 975.5h13.7v4.8h-13.7zM115.4 979.9h4.8v4.8h-4.8zM262.6 979.9h4.8v4.8h-4.8zM115.4 984.4h4.8v4.8h-4.8zM119.9 988.8h4.8v4.8h-4.8zM244.7 988.8h9.2v4.8h-9.2zM128.8 993.3h4.8v4.8h-4.8zM124.3 997.8h4.8v4.8h-4.8zM231.4 997.8h13.7v4.8h-13.7zM137.7 1002.2h4.8v4.8h-4.8zM218 1002.2h13.7v4.8h-13.7zM137.7 1006.7h4.8v4.8h-4.8zM146.6 1006.7h4.8v4.8h-4.8zM213.5 1006.7h4.8v4.8h-4.8zM226.9 1006.7h4.8v4.8h-4.8zM151.1 1011.1h4.8v4.8h-4.8zM164.5 1011.1h4.8v4.8h-4.8zM186.8 1011.1h4.8v4.8h-4.8zM200.1 1011.1h9.2v4.8h-9.2zM155.5 1015.6h9.2v4.8h-9.2zM168.9 1015.6h4.8v4.8h-4.8zM186.8 1015.6h4.8v4.8h-4.8zM200.1 1015.6h4.8v4.8h-4.8z" fill="#5050ff"/>
<path d="M200.1 770.3h4.8v4.8h-4.8zM253.7 770.3h4.8v4.8h-4.8zM307.2 770.3h4.8v4.8h-4.8zM325 770.3h4.8v4.8h-4.8zM267 774.8h9.2v4.8h-9.2zM280.4 774.8h4.8v4.8h-4.8zM289.3 774.8h4.8v4.8h-4.8zM191.2 779.2h4.8v4.8h-4.8zM276 779.2h9.2v4.8h-9.2zM293.8 779.2h13.7v4.8h-13.7zM311.6 779.2h4.8v4.8h-4.8zM276 783.7h4.8v4.8h-4.8zM284.9 783.7h27.1v4.8h-27.1zM316.1 783.7h4.8v4.8h-4.8zM186.8 788.1h9.2v4.8h-9.2zM284.9 788.1h4.8v4.8h-4.8zM302.7 788.1h4.8v4.8h-4.8zM311.6 788.1h4.8v4.8h-4.8zM325 788.1h4.8v4.8h-4.8zM186.8 792.6h9.2v4.8h-9.2zM293.8 792.6h4.8v4.8h-4.8zM302.7 792.6h27.1v4.8h-27.1zM182.3 797.1h9.2v4.8h-9.2zM311.6 797.1h4.8v4.8h-4.8zM320.6 797.1h4.8v4.8h-4.8zM307.2 801.5h4.8v4.8h-4.8zM182.3 806h4.8v4.8h-4.8zM311.6 806h4.8v4.8h-4.8zM307.2 810.4h4.8v4.8h-4.8zM316.1 810.4h4.8v4.8h-4.8zM325 810.4h4.8v4.8h-4.8zM177.8 814.9h4.8v4.8h-4.8zM325 814.9h4.8v4.8h-4.8zM316.1 823.8h4.8v4.8h-4.8zM320.6 828.3h4.8v4.8h-4.8zM168.9 832.7h4.8v4.8h-4.8zM146.6 841.7h9.2v4.8h-9.2zM142.2 846.1h4.8v4.8h-4.8zM137.7 850.6h4.8v4.8h-4.8zM133.2 855h4.8v4.8h-4.8zM133.2 859.5h4.8v4.8h-4.8zM325 859.5h4.8v4.8h-4.8zM316.1 864h13.7v4.8h-13.7zM128.8 868.4h4.8v4.8h-4.8zM124.3 872.9h4.8v4.8h-4.8zM325 872.9h4.8v4.8h-4.8zM119.9 881.8h4.8v4.8h-4.8zM316.1 881.8h4.8v4.8h-4.8zM119.9 886.3h4.8v4.8h-4.8zM320.6 886.3h4.8v4.8h-4.8zM311.6 890.7h4.8v4.8h-4.8zM320.6 895.2h9.2v4.8h-9.2zM115.4 899.6h4.8v4.8h-4.8zM316.1 899.6h4.8v4.8h-4.8zM311.6 904.1h4.8v4.8h-4.8zM110.9 908.6h4.8v4.8h-4.8zM320.6 908.6h4.8v4.8h-4.8zM311.6 913h9.2v4.8h-9.2zM325 913h4.8v4.8h-4.8zM110.9 917.5h4.8v4.8h-4.8zM311.6 917.5h9.2v4.8h-9.2zM311.6 921.9h9.2v4.8h-9.2zM311.6 926.4h4.8v4.8h-4.8zM320.6 926.4h4.8v4.8h-4.8zM311.6 930.9h4.8v4.8h-4.8zM307.2 935.3h4.8v4.8h-4.8zM316.1 935.3h4.8v4.8h-4.8zM106.5 939.8h4.8v4.8h-4.8zM307.2 939.8h4.8v4.8h-4.8zM320.6 939.8h4.8v4.8h-4.8zM302.7 944.2h4.8v4.8h-4.8zM316.1 944.2h9.2v4.8h-9.2zM106.5 948.7h4.8v4.8h-4.8zM293.8 948.7h13.7v4.8h-13.7zM311.6 948.7h4.8v4.8h-4.8zM325 948.7h4.8v4.8h-4.8zM302.7 953.2h13.7v4.8h-13.7zM320.6 953.2h4.8v4.8h-4.8zM320.6 957.6h9.2v4.8h-9.2zM307.2 962.1h4.8v4.8h-4.8zM289.3 966.5h4.8v4.8h-4.8zM307.2 966.5h4.8v4.8h-4.8zM316.1 966.5h4.8v4.8h-4.8zM284.9 971h4.8v4.8h-4.8zM280.4 975.5h4.8v4.8h-4.8zM289.3 975.5h4.8v4.8h-4.8zM110.9 979.9h4.8v4.8h-4.8zM271.5 984.4h4.8v4.8h-4.8zM110.9 988.8h4.8v4.8h-4.8zM267 988.8h4.8v4.8h-4.8zM253.7 993.3h13.7v4.8h-13.7zM271.5 993.3h4.8v4.8h-4.8zM115.4 997.8h9.2v4.8h-9.2zM249.2 997.8h4.8v4.8h-4.8zM258.1 997.8h9.2v4.8h-9.2zM128.8 1002.2h4.8v4.8h-4.8zM231.4 1002.2h4.8v4.8h-4.8zM249.2 1002.2h4.8v4.8h-4.8zM142.2 1006.7h4.8v4.8h-4.8zM222.4 1006.7h4.8v4.8h-4.8zM240.3 1006.7h9.2v4.8h-9.2zM137.7 1011.1h4.8v4.8h-4.8zM222.4 1011.1h9.2v4.8h-9.2zM142.2 1015.6h13.7v4.8h-13.7zM177.8 1015.6h9.2v4.8h-9.2zM195.7 1015.6h4.8v4.8h-4.8zM204.6 1015.6h9.2v4.8h-9.2zM218 1015.6h4.8v4.8h-4.8zM226.9 1015.6h4.8v4.8h-4.8zM151.1 1020.1h4.8v4.8h-4.8zM164.5 1020.1h4.8v4.8h-4.8zM173.4 1020.1h9.2v4.8h-9.2zM186.8 1020.1h4.8v4.8h-4.8zM195.7 1020.1h9.2v4.8h-9.2zM160 1024.5h18.1v4.8h-18.1zM182.3 1024.5h4.8v4.8h-4.8zM173.4 1029h4.8v4.8h-4.8z" fill="#3636ff"/>
<path d="M218 770.3h13.7v4.8h-13.7zM209.1 774.8h4.8v4.8h-4.8zM226.9 774.8h4.8v4.8h-4.8zM195.7 779.2h9.2v4.8h-9.2zM209.1 779.2h18.1v4.8h-18.1zM235.8 779.2h9.2v4.8h-9.2zM200.1 783.7h4.8v4.8h-4.8zM209.1 783.7h4.8v4.8h-4.8zM218 783.7h4.8v4.8h-4.8zM235.8 783.7h9.2v4.8h-9.2zM195.7 788.1h4.8v4.8h-4.8zM204.6 788.1h4.8v4.8h-4.8zM213.5 788.1h4.8v4.8h-4.8zM235.8 788.1h4.8v4.8h-4.8zM244.7 788.1h4.8v4.8h-4.8zM262.6 788.1h4.8v4.8h-4.8zM200.1 792.6h9.2v4.8h-9.2zM240.3 792.6h4.8v4.8h-4.8zM258.1 792.6h9.2v4.8h-9.2zM253.7 797.1h4.8v4.8h-4.8zM262.6 797.1h4.8v4.8h-4.8zM271.5 797.1h4.8v4.8h-4.8zM191.2 801.5h4.8v4.8h-4.8zM258.1 801.5h4.8v4.8h-4.8zM271.5 801.5h4.8v4.8h-4.8zM280.4 801.5h4.8v4.8h-4.8zM191.2 806h4.8v4.8h-4.8zM267 806h9.2v4.8h-9.2zM186.8 810.4h4.8v4.8h-4.8zM276 810.4h9.2v4.8h-9.2zM276 814.9h18.1v4.8h-18.1zM280.4 819.4h4.8v4.8h-4.8zM182.3 823.8h4.8v4.8h-4.8zM276 823.8h4.8v4.8h-4.8zM289.3 823.8h9.2v4.8h-9.2zM302.7 823.8h4.8v4.8h-4.8zM280.4 828.3h4.8v4.8h-4.8zM289.3 828.3h4.8v4.8h-4.8zM298.3 828.3h4.8v4.8h-4.8zM177.8 832.7h4.8v4.8h-4.8zM293.8 832.7h4.8v4.8h-4.8zM320.6 832.7h4.8v4.8h-4.8zM173.4 837.2h4.8v4.8h-4.8zM298.3 837.2h9.2v4.8h-9.2zM320.6 837.2h4.8v4.8h-4.8zM164.5 841.7h4.8v4.8h-4.8zM302.7 841.7h4.8v4.8h-4.8zM160 846.1h4.8v4.8h-4.8zM302.7 846.1h4.8v4.8h-4.8zM311.6 846.1h4.8v4.8h-4.8zM151.1 850.6h4.8v4.8h-4.8zM293.8 850.6h4.8v4.8h-4.8zM302.7 850.6h4.8v4.8h-4.8zM302.7 855h9.2v4.8h-9.2zM146.6 859.5h4.8v4.8h-4.8zM307.2 859.5h4.8v4.8h-4.8zM298.3 868.4h4.8v4.8h-4.8zM133.2 872.9h4.8v4.8h-4.8zM298.3 872.9h4.8v4.8h-4.8zM316.1 872.9h4.8v4.8h-4.8zM128.8 877.3h4.8v4.8h-4.8zM298.3 877.3h4.8v4.8h-4.8zM302.7 881.8h4.8v4.8h-4.8zM124.3 886.3h4.8v4.8h-4.8zM293.8 886.3h4.8v4.8h-4.8zM124.3 890.7h4.8v4.8h-4.8zM119.9 899.6h4.8v4.8h-4.8zM293.8 899.6h4.8v4.8h-4.8zM302.7 899.6h4.8v4.8h-4.8zM298.3 904.1h4.8v4.8h-4.8zM115.4 908.6h4.8v4.8h-4.8zM293.8 908.6h13.7v4.8h-13.7zM115.4 913h4.8v4.8h-4.8zM302.7 913h4.8v4.8h-4.8zM298.3 917.5h4.8v4.8h-4.8zM298.3 921.9h4.8v4.8h-4.8zM110.9 926.4h4.8v4.8h-4.8zM293.8 926.4h9.2v4.8h-9.2zM293.8 930.9h4.8v4.8h-4.8zM110.9 935.3h4.8v4.8h-4.8zM289.3 935.3h4.8v4.8h-4.8zM271.5 944.2h4.8v4.8h-4.8zM110.9 948.7h4.8v4.8h-4.8zM280.4 948.7h4.8v4.8h-4.8zM289.3 948.7h4.8v4.8h-4.8zM276 953.2h9.2v4.8h-9.2zM110.9 957.6h4.8v4.8h-4.8zM267 957.6h13.7v4.8h-13.7zM276 962.1h4.8v4.8h-4.8zM110.9 966.5h4.8v4.8h-4.8zM115.4 971h4.8v4.8h-4.8zM258.1 971h9.2v4.8h-9.2zM115.4 975.5h4.8v4.8h-4.8zM249.2 975.5h4.8v4.8h-4.8zM258.1 975.5h4.8v4.8h-4.8zM119.9 984.4h4.8v4.8h-4.8zM249.2 984.4h18.1v4.8h-18.1zM124.3 988.8h4.8v4.8h-4.8zM240.3 988.8h4.8v4.8h-4.8zM253.7 988.8h4.8v4.8h-4.8zM133.2 993.3h4.8v4.8h-4.8zM133.2 1002.2h4.8v4.8h-4.8zM142.2 1002.2h4.8v4.8h-4.8zM209.1 1002.2h4.8v4.8h-4.8zM151.1 1006.7h13.7v4.8h-13.7zM200.1 1006.7h13.7v4.8h-13.7zM218 1006.7h4.8v4.8h-4.8zM160 1011.1h4.8v4.8h-4.8zM168.9 1011.1h9.2v4.8h-9.2zM182.3 1011.1h4.8v4.8h-4.8zM191.2 1011.1h4.8v4.8h-4.8zM173.4 1015.6h4.8v4.8h-4.8z" fill="#5d5dff"/>
<path d="M240.3 770.3h13.7v4.8h-13.7zM280.4 770.3h4.8v4.8h-4.8zM298.3 770.3h4.8v4.8h-4.8zM204.6 774.8h4.8v4.8h-4.8zM240.3 774.8h4.8v4.8h-4.8zM249.2 774.8h4.8v4.8h-4.8zM262.6 774.8h4.8v4.8h-4.8zM284.9 774.8h4.8v4.8h-4.8zM249.2 779.2h4.8v4.8h-4.8zM258.1 779.2h4.8v4.8h-4.8zM267 779.2h9.2v4.8h-9.2zM284.9 779.2h4.8v4.8h-4.8zM316.1 779.2h4.8v4.8h-4.8zM195.7 783.7h4.8v4.8h-4.8zM249.2 783.7h9.2v4.8h-9.2zM267 783.7h4.8v4.8h-4.8zM280.4 783.7h4.8v4.8h-4.8zM320.6 783.7h9.2v4.8h-9.2zM258.1 788.1h4.8v4.8h-4.8zM276 788.1h9.2v4.8h-9.2zM289.3 788.1h13.7v4.8h-13.7zM316.1 788.1h9.2v4.8h-9.2zM276 792.6h4.8v4.8h-4.8zM284.9 792.6h4.8v4.8h-4.8zM298.3 792.6h4.8v4.8h-4.8zM280.4 797.1h13.7v4.8h-13.7zM307.2 797.1h4.8v4.8h-4.8zM316.1 797.1h4.8v4.8h-4.8zM325 797.1h4.8v4.8h-4.8zM298.3 801.5h9.2v4.8h-9.2zM311.6 801.5h9.2v4.8h-9.2zM325 801.5h4.8v4.8h-4.8zM293.8 806h4.8v4.8h-4.8zM302.7 806h9.2v4.8h-9.2zM316.1 806h4.8v4.8h-4.8zM325 806h4.8v4.8h-4.8zM182.3 810.4h4.8v4.8h-4.8zM302.7 810.4h4.8v4.8h-4.8zM311.6 810.4h4.8v4.8h-4.8zM320.6 810.4h4.8v4.8h-4.8zM298.3 814.9h4.8v4.8h-4.8zM307.2 814.9h13.7v4.8h-13.7zM307.2 819.4h9.2v4.8h-9.2zM325 819.4h4.8v4.8h-4.8zM307.2 823.8h9.2v4.8h-9.2zM325 823.8h4.8v4.8h-4.8zM173.4 828.3h9.2v4.8h-9.2zM311.6 828.3h4.8v4.8h-4.8zM325 828.3h4.8v4.8h-4.8zM155.5 837.2h9.2v4.8h-9.2zM316.1 837.2h4.8v4.8h-4.8zM142.2 841.7h4.8v4.8h-4.8zM307.2 841.7h13.7v4.8h-13.7zM146.6 846.1h4.8v4.8h-4.8zM155.5 846.1h4.8v4.8h-4.8zM320.6 846.1h4.8v4.8h-4.8zM142.2 850.6h9.2v4.8h-9.2zM307.2 850.6h4.8v4.8h-4.8zM316.1 850.6h13.7v4.8h-13.7zM137.7 855h4.8v4.8h-4.8zM316.1 855h4.8v4.8h-4.8zM137.7 859.5h4.8v4.8h-4.8zM311.6 859.5h13.7v4.8h-13.7zM133.2 864h4.8v4.8h-4.8zM142.2 864h4.8v4.8h-4.8zM316.1 868.4h13.7v4.8h-13.7zM302.7 872.9h13.7v4.8h-13.7zM320.6 872.9h4.8v4.8h-4.8zM124.3 877.3h4.8v4.8h-4.8zM316.1 877.3h13.7v4.8h-13.7zM124.3 881.8h4.8v4.8h-4.8zM320.6 881.8h9.2v4.8h-9.2zM307.2 886.3h13.7v4.8h-13.7zM325 886.3h4.8v4.8h-4.8zM119.9 890.7h4.8v4.8h-4.8zM316.1 890.7h4.8v4.8h-4.8zM325 890.7h4.8v4.8h-4.8zM307.2 899.6h4.8v4.8h-4.8zM325 899.6h4.8v4.8h-4.8zM115.4 904.1h4.8v4.8h-4.8zM316.1 904.1h4.8v4.8h-4.8zM311.6 908.6h4.8v4.8h-4.8zM325 908.6h4.8v4.8h-4.8zM307.2 913h4.8v4.8h-4.8zM325 917.5h4.8v4.8h-4.8zM110.9 921.9h4.8v4.8h-4.8zM302.7 921.9h9.2v4.8h-9.2zM302.7 926.4h9.2v4.8h-9.2zM298.3 930.9h4.8v4.8h-4.8zM307.2 930.9h4.8v4.8h-4.8zM298.3 935.3h4.8v4.8h-4.8zM293.8 939.8h4.8v4.8h-4.8zM302.7 939.8h4.8v4.8h-4.8zM316.1 939.8h4.8v4.8h-4.8zM325 939.8h4.8v4.8h-4.8zM106.5 944.2h4.8v4.8h-4.8zM289.3 944.2h13.7v4.8h-13.7zM311.6 944.2h4.8v4.8h-4.8zM316.1 948.7h4.8v4.8h-4.8zM284.9 953.2h4.8v4.8h-4.8zM293.8 953.2h4.8v4.8h-4.8zM280.4 957.6h18.1v4.8h-18.1zM271.5 962.1h4.8v4.8h-4.8zM284.9 962.1h4.8v4.8h-4.8zM115.4 966.5h4.8v4.8h-4.8zM110.9 971h4.8v4.8h-4.8zM271.5 971h9.2v4.8h-9.2zM110.9 975.5h4.8v4.8h-4.8zM276 975.5h4.8v4.8h-4.8zM267 979.9h9.2v4.8h-9.2zM267 984.4h4.8v4.8h-4.8zM276 984.4h4.8v4.8h-4.8zM115.4 988.8h4.8v4.8h-4.8zM258.1 988.8h9.2v4.8h-9.2zM119.9 993.3h9.2v4.8h-9.2zM240.3 993.3h13.7v4.8h-13.7zM244.7 997.8h4.8v4.8h-4.8zM235.8 1002.2h13.7v4.8h-13.7zM128.8 1006.7h9.2v4.8h-9.2zM142.2 1011.1h9.2v4.8h-9.2zM155.5 1011.1h4.8v4.8h-4.8zM195.7 1011.1h4.8v4.8h-4.8zM209.1 1011.1h13.7v4.8h-13.7zM164.5 1015.6h4.8v4.8h-4.8zM191.2 1015.6h4.8v4.8h-4.8zM213.5 1015.6h4.8v4.8h-4.8zM155.5 1020.1h4.8v4.8h-4.8zM168.9 1020.1h4.8v4.8h-4.8zM191.2 1020.1h4.8v4.8h-4.8z" fill="#4343ff"/>
<path d="M276 770.3h4.8v4.8h-4.8zM284.9 770.3h4.8v4.8h-4.8zM302.7 770.3h4.8v4.8h-4.8zM182.3 774.8h9.2v4.8h-9.2zM168.9 779.2h9.2v4.8h-9.2zM182.3 779.2h4.8v4.8h-4.8zM320.6 779.2h9.2v4.8h-9.2zM173.4 783.7h4.8v4.8h-4.8zM182.3 783.7h4.8v4.8h-4.8zM177.8 788.1h4.8v4.8h-4.8zM168.9 792.6h4.8v4.8h-4.8zM177.8 792.6h4.8v4.8h-4.8zM70.8 797.1h4.8v4.8h-4.8zM146.6 819.4h4.8v4.8h-4.8zM160 828.3h13.7v4.8h-13.7zM137.7 832.7h9.2v4.8h-9.2zM151.1 832.7h4.8v4.8h-4.8zM160 832.7h4.8v4.8h-4.8zM57.4 837.2h4.8v4.8h-4.8zM137.7 837.2h9.2v4.8h-9.2zM151.1 837.2h4.8v4.8h-4.8zM128.8 850.6h9.2v4.8h-9.2zM102 855h4.8v4.8h-4.8zM124.3 864h4.8v4.8h-4.8zM115.4 868.4h4.8v4.8h-4.8zM119.9 872.9h4.8v4.8h-4.8zM84.2 877.3h4.8v4.8h-4.8zM119.9 877.3h4.8v4.8h-4.8zM110.9 890.7h4.8v4.8h-4.8zM115.4 895.2h4.8v4.8h-4.8zM110.9 899.6h4.8v4.8h-4.8zM320.6 917.5h4.8v4.8h-4.8zM106.5 930.9h4.8v4.8h-4.8zM106.5 935.3h4.8v4.8h-4.8zM298.3 957.6h4.8v4.8h-4.8zM316.1 957.6h4.8v4.8h-4.8zM106.5 962.1h4.8v4.8h-4.8zM298.3 962.1h4.8v4.8h-4.8zM311.6 962.1h9.2v4.8h-9.2zM106.5 966.5h4.8v4.8h-4.8zM311.6 966.5h4.8v4.8h-4.8zM320.6 966.5h9.2v4.8h-9.2zM311.6 971h9.2v4.8h-9.2zM325 971h4.8v4.8h-4.8zM311.6 975.5h9.2v4.8h-9.2zM325 975.5h4.8v4.8h-4.8zM298.3 979.9h9.2v4.8h-9.2zM311.6 979.9h4.8v4.8h-4.8zM320.6 979.9h4.8v4.8h-4.8zM284.9 984.4h9.2v4.8h-9.2zM298.3 984.4h9.2v4.8h-9.2zM311.6 984.4h4.8v4.8h-4.8zM276 988.8h18.1v4.8h-18.1zM298.3 988.8h9.2v4.8h-9.2zM316.1 988.8h9.2v4.8h-9.2zM276 993.3h9.2v4.8h-9.2zM276 997.8h13.7v4.8h-13.7zM298.3 997.8h4.8v4.8h-4.8zM124.3 1002.2h4.8v4.8h-4.8zM271.5 1002.2h4.8v4.8h-4.8zM249.2 1006.7h4.8v4.8h-4.8zM267 1006.7h4.8v4.8h-4.8zM124.3 1011.1h4.8v4.8h-4.8zM231.4 1011.1h4.8v4.8h-4.8zM240.3 1011.1h4.8v4.8h-4.8zM249.2 1011.1h13.7v4.8h-13.7zM124.3 1015.6h9.2v4.8h-9.2zM235.8 1015.6h9.2v4.8h-9.2zM249.2 1015.6h4.8v4.8h-4.8zM258.1 1015.6h4.8v4.8h-4.8zM133.2 1020.1h9.2v4.8h-9.2zM182.3 1020.1h4.8v4.8h-4.8zM209.1 1020.1h9.2v4.8h-9.2zM235.8 1020.1h9.2v4.8h-9.2zM151.1 1024.5h9.2v4.8h-9.2zM195.7 1024.5h18.1v4.8h-18.1zM218 1024.5h4.8v4.8h-4.8zM226.9 1024.5h4.8v4.8h-4.8zM240.3 1024.5h4.8v4.8h-4.8zM124.3 1029h4.8v4.8h-4.8zM191.2 1029h13.7v4.8h-13.7zM244.7 1029h4.8v4.8h-4.8zM302.7 1029h4.8v4.8h-4.8zM168.9 1033.4h18.1v4.8h-18.1zM191.2 1033.4h4.8v4.8h-4.8zM200.1 1033.4h9.2v4.8h-9.2zM218 1033.4h4.8v4.8h-4.8zM164.5 1037.9h4.8v4.8h-4.8zM186.8 1037.9h4.8v4.8h-4.8zM298.3 1037.9h4.8v4.8h-4.8zM182.3 1042.4h4.8v4.8h-4.8zM209.1 1042.4h4.8v4.8h-4.8zM110.9 1046.8h4.8v4.8h-4.8zM191.2 1046.8h4.8v4.8h-4.8z" fill="#1c1cff"/>
<path d="M231.4 774.8h4.8v4.8h-4.8zM226.9 779.2h4.8v4.8h-4.8zM222.4 783.7h4.8v4.8h-4.8zM200.1 788.1h4.8v4.8h-4.8zM218 788.1h4.8v4.8h-4.8zM235.8 792.6h4.8v4.8h-4.8zM244.7 792.6h13.7v4.8h-13.7zM200.1 797.1h4.8v4.8h-4.8zM235.8 797.1h4.8v4.8h-4.8zM249.2 797.1h4.8v4.8h-4.8zM258.1 797.1h4.8v4.8h-4.8zM267 797.1h4.8v4.8h-4.8zM253.7 801.5h4.8v4.8h-4.8zM262.6 801.5h4.8v4.8h-4.8zM258.1 806h4.8v4.8h-4.8zM276 806h4.8v4.8h-4.8zM191.2 810.4h9.2v4.8h-9.2zM267 810.4h9.2v4.8h-9.2zM267 814.9h9.2v4.8h-9.2zM284.9 819.4h4.8v4.8h-4.8zM271.5 823.8h4.8v4.8h-4.8zM284.9 823.8h4.8v4.8h-4.8zM276 828.3h4.8v4.8h-4.8zM284.9 828.3h4.8v4.8h-4.8zM289.3 832.7h4.8v4.8h-4.8zM289.3 837.2h9.2v4.8h-9.2zM284.9 841.7h9.2v4.8h-9.2zM284.9 846.1h18.1v4.8h-18.1zM155.5 850.6h4.8v4.8h-4.8zM289.3 850.6h4.8v4.8h-4.8zM298.3 850.6h4.8v4.8h-4.8zM155.5 855h9.2v4.8h-9.2zM298.3 855h4.8v4.8h-4.8zM293.8 864h9.2v4.8h-9.2zM137.7 868.4h9.2v4.8h-9.2zM293.8 868.4h4.8v4.8h-4.8zM133.2 877.3h4.8v4.8h-4.8zM128.8 881.8h9.2v4.8h-9.2zM298.3 881.8h4.8v4.8h-4.8zM124.3 895.2h4.8v4.8h-4.8zM124.3 899.6h4.8v4.8h-4.8zM119.9 904.1h4.8v4.8h-4.8zM293.8 904.1h4.8v4.8h-4.8zM119.9 908.6h4.8v4.8h-4.8zM289.3 908.6h4.8v4.8h-4.8zM119.9 913h4.8v4.8h-4.8zM293.8 913h4.8v4.8h-4.8zM115.4 917.5h4.8v4.8h-4.8zM293.8 917.5h4.8v4.8h-4.8zM293.8 921.9h4.8v4.8h-4.8zM289.3 926.4h4.8v4.8h-4.8zM284.9 935.3h4.8v4.8h-4.8zM276 939.8h4.8v4.8h-4.8zM284.9 939.8h9.2v4.8h-9.2zM267 944.2h4.8v4.8h-4.8zM284.9 944.2h4.8v4.8h-4.8zM276 948.7h4.8v4.8h-4.8zM267 953.2h4.8v4.8h-4.8zM115.4 957.6h4.8v4.8h-4.8zM267 962.1h4.8v4.8h-4.8zM262.6 966.5h4.8v4.8h-4.8zM271.5 966.5h4.8v4.8h-4.8zM119.9 971h4.8v4.8h-4.8zM119.9 975.5h4.8v4.8h-4.8zM119.9 979.9h4.8v4.8h-4.8zM244.7 979.9h18.1v4.8h-18.1zM128.8 984.4h4.8v4.8h-4.8zM240.3 984.4h9.2v4.8h-9.2zM128.8 988.8h4.8v4.8h-4.8zM235.8 993.3h4.8v4.8h-4.8zM128.8 997.8h4.8v4.8h-4.8zM151.1 997.8h4.8v4.8h-4.8zM213.5 997.8h4.8v4.8h-4.8zM222.4 997.8h9.2v4.8h-9.2zM146.6 1002.2h4.8v4.8h-4.8zM177.8 1002.2h4.8v4.8h-4.8zM200.1 1002.2h4.8v4.8h-4.8zM213.5 1002.2h4.8v4.8h-4.8zM168.9 1006.7h31.5v4.8h-31.5zM177.8 1011.1h4.8v4.8h-4.8z" fill="#6a6aff"/>
<path d="M226.9 783.7h9.2v4.8h-9.2zM209.1 788.1h4.8v4.8h-4.8zM222.4 788.1h13.7v4.8h-13.7zM209.1 792.6h13.7v4.8h-13.7zM195.7 797.1h4.8v4.8h-4.8zM204.6 797.1h13.7v4.8h-13.7zM240.3 797.1h9.2v4.8h-9.2zM195.7 801.5h18.1v4.8h-18.1zM240.3 801.5h13.7v4.8h-13.7zM195.7 806h4.8v4.8h-4.8zM253.7 806h4.8v4.8h-4.8zM262.6 810.4h4.8v4.8h-4.8zM186.8 814.9h9.2v4.8h-9.2zM262.6 814.9h4.8v4.8h-4.8zM267 819.4h13.7v4.8h-13.7zM182.3 828.3h4.8v4.8h-4.8zM271.5 828.3h4.8v4.8h-4.8zM280.4 832.7h4.8v4.8h-4.8zM168.9 837.2h4.8v4.8h-4.8zM280.4 837.2h9.2v4.8h-9.2zM173.4 841.7h4.8v4.8h-4.8zM293.8 841.7h4.8v4.8h-4.8zM164.5 846.1h4.8v4.8h-4.8zM284.9 850.6h4.8v4.8h-4.8zM284.9 855h4.8v4.8h-4.8zM293.8 855h4.8v4.8h-4.8zM151.1 859.5h4.8v4.8h-4.8zM146.6 864h9.2v4.8h-9.2zM137.7 872.9h4.8v4.8h-4.8zM293.8 872.9h4.8v4.8h-4.8zM289.3 877.3h9.2v4.8h-9.2zM289.3 881.8h9.2v4.8h-9.2zM128.8 886.3h4.8v4.8h-4.8zM289.3 886.3h4.8v4.8h-4.8zM293.8 890.7h4.8v4.8h-4.8zM293.8 895.2h4.8v4.8h-4.8zM124.3 904.1h4.8v4.8h-4.8zM284.9 913h9.2v4.8h-9.2zM289.3 917.5h4.8v4.8h-4.8zM115.4 921.9h4.8v4.8h-4.8zM115.4 926.4h4.8v4.8h-4.8zM284.9 926.4h4.8v4.8h-4.8zM280.4 930.9h4.8v4.8h-4.8zM289.3 930.9h4.8v4.8h-4.8zM115.4 935.3h4.8v4.8h-4.8zM110.9 939.8h9.2v4.8h-9.2zM280.4 939.8h4.8v4.8h-4.8zM110.9 944.2h9.2v4.8h-9.2zM276 944.2h9.2v4.8h-9.2zM115.4 948.7h4.8v4.8h-4.8zM267 948.7h9.2v4.8h-9.2zM115.4 953.2h4.8v4.8h-4.8zM119.9 957.6h4.8v4.8h-4.8zM119.9 962.1h4.8v4.8h-4.8zM262.6 962.1h4.8v4.8h-4.8zM119.9 966.5h4.8v4.8h-4.8zM258.1 966.5h4.8v4.8h-4.8zM124.3 971h4.8v4.8h-4.8zM253.7 971h4.8v4.8h-4.8zM124.3 979.9h9.2v4.8h-9.2zM124.3 984.4h4.8v4.8h-4.8zM133.2 988.8h4.8v4.8h-4.8zM231.4 988.8h9.2v4.8h-9.2zM222.4 993.3h13.7v4.8h-13.7zM133.2 997.8h18.1v4.8h-18.1zM160 997.8h4.8v4.8h-4.8zM218 997.8h4.8v4.8h-4.8zM151.1 1002.2h4.8v4.8h-4.8zM186.8 1002.2h4.8v4.8h-4.8zM204.6 1002.2h4.8v4.8h-4.8zM164.5 1006.7h4.8v4.8h-4.8z" fill="#7777ff"/>
<path d="M222.4 792.6h13.7v4.8h-13.7zM226.9 797.1h9.2v4.8h-9.2zM213.5 801.5h13.7v4.8h-13.7zM231.4 801.5h9.2v4.8h-9.2zM200.1 806h9.2v4.8h-9.2zM218 806h4.8v4.8h-4.8zM240.3 806h4.8v4.8h-4.8zM249.2 806h4.8v4.8h-4.8zM200.1 810.4h4.8v4.8h-4.8zM249.2 810.4h9.2v4.8h-9.2zM249.2 814.9h4.8v4.8h-4.8zM258.1 814.9h4.8v4.8h-4.8zM186.8 819.4h4.8v4.8h-4.8zM253.7 819.4h9.2v4.8h-9.2zM280.4 823.8h4.8v4.8h-4.8zM182.3 832.7h4.8v4.8h-4.8zM276 832.7h4.8v4.8h-4.8zM284.9 832.7h4.8v4.8h-4.8zM177.8 837.2h4.8v4.8h-4.8zM168.9 841.7h4.8v4.8h-4.8zM280.4 841.7h4.8v4.8h-4.8zM168.9 846.1h4.8v4.8h-4.8zM160 850.6h9.2v4.8h-9.2zM289.3 855h4.8v4.8h-4.8zM160 859.5h4.8v4.8h-4.8zM289.3 859.5h9.2v4.8h-9.2zM155.5 864h4.8v4.8h-4.8zM289.3 864h4.8v4.8h-4.8zM146.6 868.4h4.8v4.8h-4.8zM146.6 872.9h4.8v4.8h-4.8zM280.4 872.9h4.8v4.8h-4.8zM133.2 886.3h4.8v4.8h-4.8zM128.8 890.7h4.8v4.8h-4.8zM289.3 890.7h4.8v4.8h-4.8zM128.8 895.2h4.8v4.8h-4.8zM289.3 895.2h4.8v4.8h-4.8zM128.8 899.6h4.8v4.8h-4.8zM284.9 899.6h9.2v4.8h-9.2zM289.3 904.1h4.8v4.8h-4.8zM119.9 917.5h4.8v4.8h-4.8zM115.4 930.9h4.8v4.8h-4.8zM284.9 930.9h4.8v4.8h-4.8zM276 935.3h9.2v4.8h-9.2zM119.9 953.2h4.8v4.8h-4.8zM258.1 962.1h4.8v4.8h-4.8zM253.7 966.5h4.8v4.8h-4.8zM124.3 975.5h4.8v4.8h-4.8zM244.7 975.5h4.8v4.8h-4.8zM253.7 975.5h4.8v4.8h-4.8zM137.7 984.4h4.8v4.8h-4.8zM137.7 988.8h4.8v4.8h-4.8zM226.9 988.8h4.8v4.8h-4.8zM137.7 993.3h4.8v4.8h-4.8zM146.6 993.3h4.8v4.8h-4.8zM173.4 993.3h4.8v4.8h-4.8zM213.5 993.3h9.2v4.8h-9.2zM155.5 997.8h4.8v4.8h-4.8zM164.5 997.8h4.8v4.8h-4.8zM177.8 997.8h4.8v4.8h-4.8zM186.8 997.8h9.2v4.8h-9.2zM204.6 997.8h9.2v4.8h-9.2zM155.5 1002.2h22.6v4.8h-22.6zM182.3 1002.2h4.8v4.8h-4.8zM195.7 1002.2h4.8v4.8h-4.8z" fill="#8484ff"/>
<path d="M218 797.1h9.2v4.8h-9.2zM226.9 801.5h4.8v4.8h-4.8zM209.1 806h9.2v4.8h-9.2zM222.4 806h18.1v4.8h-18.1zM244.7 806h4.8v4.8h-4.8zM204.6 810.4h4.8v4.8h-4.8zM231.4 810.4h4.8v4.8h-4.8zM240.3 810.4h9.2v4.8h-9.2zM258.1 810.4h4.8v4.8h-4.8zM195.7 814.9h4.8v4.8h-4.8zM253.7 814.9h4.8v4.8h-4.8zM191.2 819.4h4.8v4.8h-4.8zM262.6 819.4h4.8v4.8h-4.8zM267 823.8h4.8v4.8h-4.8zM262.6 828.3h9.2v4.8h-9.2zM267 832.7h9.2v4.8h-9.2zM173.4 846.1h4.8v4.8h-4.8zM280.4 846.1h4.8v4.8h-4.8zM280.4 850.6h4.8v4.8h-4.8zM155.5 859.5h4.8v4.8h-4.8zM284.9 859.5h4.8v4.8h-4.8zM160 864h4.8v4.8h-4.8zM280.4 864h9.2v4.8h-9.2zM151.1 868.4h4.8v4.8h-4.8zM284.9 868.4h9.2v4.8h-9.2zM142.2 872.9h4.8v4.8h-4.8zM289.3 872.9h4.8v4.8h-4.8zM137.7 877.3h9.2v4.8h-9.2zM284.9 886.3h4.8v4.8h-4.8zM284.9 890.7h4.8v4.8h-4.8zM124.3 908.6h4.8v4.8h-4.8zM280.4 908.6h4.8v4.8h-4.8zM124.3 913h4.8v4.8h-4.8zM124.3 917.5h4.8v4.8h-4.8zM284.9 917.5h4.8v4.8h-4.8zM119.9 921.9h4.8v4.8h-4.8zM276 921.9h13.7v4.8h-13.7zM276 926.4h9.2v4.8h-9.2zM119.9 930.9h4.8v4.8h-4.8zM276 930.9h4.8v4.8h-4.8zM119.9 935.3h4.8v4.8h-4.8zM271.5 935.3h4.8v4.8h-4.8zM119.9 939.8h4.8v4.8h-4.8zM271.5 939.8h4.8v4.8h-4.8zM119.9 944.2h4.8v4.8h-4.8zM262.6 953.2h4.8v4.8h-4.8zM258.1 957.6h9.2v4.8h-9.2zM124.3 962.1h4.8v4.8h-4.8zM249.2 962.1h4.8v4.8h-4.8zM249.2 966.5h4.8v4.8h-4.8zM244.7 971h9.2v4.8h-9.2zM128.8 975.5h4.8v4.8h-4.8zM137.7 975.5h4.8v4.8h-4.8zM133.2 979.9h4.8v4.8h-4.8zM240.3 979.9h4.8v4.8h-4.8zM133.2 984.4h4.8v4.8h-4.8zM226.9 984.4h4.8v4.8h-4.8zM235.8 984.4h4.8v4.8h-4.8zM142.2 988.8h9.2v4.8h-9.2zM182.3 988.8h4.8v4.8h-4.8zM213.5 988.8h13.7v4.8h-13.7zM160 993.3h4.8v4.8h-4.8zM168.9 993.3h4.8v4.8h-4.8zM209.1 993.3h4.8v4.8h-4.8zM168.9 997.8h9.2v4.8h-9.2zM200.1 997.8h4.8v4.8h-4.8zM191.2 1002.2h4.8v4.8h-4.8z" fill="#9191ff"/>
<path d="M209.1 810.4h4.8v4.8h-4.8zM222.4 810.4h9.2v4.8h-9.2zM235.8 810.4h4.8v4.8h-4.8zM200.1 814.9h4.8v4.8h-4.8zM244.7 814.9h4.8v4.8h-4.8zM195.7 819.4h4.8v4.8h-4.8zM244.7 819.4h9.2v4.8h-9.2zM186.8 823.8h9.2v4.8h-9.2zM258.1 823.8h9.2v4.8h-9.2zM258.1 828.3h4.8v4.8h-4.8zM271.5 837.2h9.2v4.8h-9.2zM271.5 841.7h4.8v4.8h-4.8zM276 846.1h4.8v4.8h-4.8zM164.5 855h9.2v4.8h-9.2zM280.4 855h4.8v4.8h-4.8zM164.5 859.5h4.8v4.8h-4.8zM280.4 859.5h4.8v4.8h-4.8zM151.1 872.9h4.8v4.8h-4.8zM284.9 872.9h4.8v4.8h-4.8zM146.6 877.3h4.8v4.8h-4.8zM284.9 877.3h4.8v4.8h-4.8zM137.7 881.8h4.8v4.8h-4.8zM280.4 881.8h9.2v4.8h-9.2zM137.7 886.3h4.8v4.8h-4.8zM280.4 886.3h4.8v4.8h-4.8zM133.2 890.7h4.8v4.8h-4.8zM280.4 890.7h4.8v4.8h-4.8zM284.9 895.2h4.8v4.8h-4.8zM128.8 904.1h4.8v4.8h-4.8zM284.9 904.1h4.8v4.8h-4.8zM276 908.6h4.8v4.8h-4.8zM284.9 908.6h4.8v4.8h-4.8zM128.8 913h4.8v4.8h-4.8zM280.4 913h4.8v4.8h-4.8zM280.4 917.5h4.8v4.8h-4.8zM119.9 926.4h4.8v4.8h-4.8zM267 939.8h4.8v4.8h-4.8zM262.6 944.2h4.8v4.8h-4.8zM119.9 948.7h4.8v4.8h-4.8zM262.6 948.7h4.8v4.8h-4.8zM258.1 953.2h4.8v4.8h-4.8zM124.3 957.6h4.8v4.8h-4.8zM253.7 962.1h4.8v4.8h-4.8zM124.3 966.5h4.8v4.8h-4.8zM244.7 966.5h4.8v4.8h-4.8zM133.2 971h4.8v4.8h-4.8zM133.2 975.5h4.8v4.8h-4.8zM240.3 975.5h4.8v4.8h-4.8zM137.7 979.9h9.2v4.8h-9.2zM231.4 979.9h9.2v4.8h-9.2zM151.1 984.4h4.8v4.8h-4.8zM218 984.4h9.2v4.8h-9.2zM231.4 984.4h4.8v4.8h-4.8zM186.8 988.8h4.8v4.8h-4.8zM204.6 988.8h4.8v4.8h-4.8zM142.2 993.3h4.8v4.8h-4.8zM151.1 993.3h9.2v4.8h-9.2zM164.5 993.3h4.8v4.8h-4.8zM177.8 993.3h13.7v4.8h-13.7zM200.1 993.3h9.2v4.8h-9.2zM182.3 997.8h4.8v4.8h-4.8zM195.7 997.8h4.8v4.8h-4.8z" fill="#9e9eff"/>
<path d="M213.5 810.4h9.2v4.8h-9.2zM204.6 814.9h4.8v4.8h-4.8zM213.5 814.9h4.8v4.8h-4.8zM222.4 814.9h4.8v4.8h-4.8zM231.4 814.9h13.7v4.8h-13.7zM200.1 819.4h4.8v4.8h-4.8zM240.3 819.4h4.8v4.8h-4.8zM195.7 823.8h4.8v4.8h-4.8zM253.7 823.8h4.8v4.8h-4.8zM262.6 837.2h9.2v4.8h-9.2zM267 841.7h4.8v4.8h-4.8zM276 841.7h4.8v4.8h-4.8zM271.5 846.1h4.8v4.8h-4.8zM168.9 850.6h9.2v4.8h-9.2zM276 850.6h4.8v4.8h-4.8zM155.5 868.4h9.2v4.8h-9.2zM280.4 868.4h4.8v4.8h-4.8zM280.4 877.3h4.8v4.8h-4.8zM142.2 881.8h4.8v4.8h-4.8zM137.7 890.7h4.8v4.8h-4.8zM276 890.7h4.8v4.8h-4.8zM133.2 895.2h9.2v4.8h-9.2zM276 895.2h9.2v4.8h-9.2zM133.2 899.6h4.8v4.8h-4.8zM276 899.6h9.2v4.8h-9.2zM276 904.1h9.2v4.8h-9.2zM128.8 908.6h4.8v4.8h-4.8zM276 917.5h4.8v4.8h-4.8zM124.3 926.4h4.8v4.8h-4.8zM271.5 926.4h4.8v4.8h-4.8zM271.5 930.9h4.8v4.8h-4.8zM258.1 944.2h4.8v4.8h-4.8zM124.3 948.7h4.8v4.8h-4.8zM249.2 948.7h9.2v4.8h-9.2zM249.2 953.2h4.8v4.8h-4.8zM249.2 957.6h9.2v4.8h-9.2zM128.8 962.1h9.2v4.8h-9.2zM133.2 966.5h4.8v4.8h-4.8zM128.8 971h4.8v4.8h-4.8zM137.7 971h4.8v4.8h-4.8zM240.3 971h4.8v4.8h-4.8zM142.2 975.5h4.8v4.8h-4.8zM151.1 975.5h4.8v4.8h-4.8zM235.8 975.5h4.8v4.8h-4.8zM226.9 979.9h4.8v4.8h-4.8zM142.2 984.4h9.2v4.8h-9.2zM155.5 984.4h13.7v4.8h-13.7zM213.5 984.4h4.8v4.8h-4.8zM151.1 988.8h31.5v4.8h-31.5zM195.7 988.8h9.2v4.8h-9.2zM209.1 988.8h4.8v4.8h-4.8zM191.2 993.3h9.2v4.8h-9.2z" fill="#ababff"/>
<path d="M209.1 814.9h4.8v4.8h-4.8zM218 814.9h4.8v4.8h-4.8zM226.9 814.9h4.8v4.8h-4.8zM200.1 823.8h4.8v4.8h-4.8zM249.2 823.8h4.8v4.8h-4.8zM186.8 828.3h9.2v4.8h-9.2zM262.6 832.7h4.8v4.8h-4.8zM182.3 837.2h4.8v4.8h-4.8zM177.8 841.7h4.8v4.8h-4.8zM262.6 841.7h4.8v4.8h-4.8zM177.8 846.1h4.8v4.8h-4.8zM173.4 855h4.8v4.8h-4.8zM276 855h4.8v4.8h-4.8zM168.9 859.5h4.8v4.8h-4.8zM276 859.5h4.8v4.8h-4.8zM164.5 864h4.8v4.8h-4.8zM276 864h4.8v4.8h-4.8zM155.5 872.9h4.8v4.8h-4.8zM276 872.9h4.8v4.8h-4.8zM151.1 877.3h9.2v4.8h-9.2zM146.6 881.8h4.8v4.8h-4.8zM276 881.8h4.8v4.8h-4.8zM276 886.3h4.8v4.8h-4.8zM137.7 899.6h4.8v4.8h-4.8zM271.5 908.6h4.8v4.8h-4.8zM276 913h4.8v4.8h-4.8zM128.8 917.5h4.8v4.8h-4.8zM124.3 921.9h4.8v4.8h-4.8zM262.6 935.3h9.2v4.8h-9.2zM124.3 944.2h4.8v4.8h-4.8zM253.7 944.2h4.8v4.8h-4.8zM128.8 948.7h4.8v4.8h-4.8zM258.1 948.7h4.8v4.8h-4.8zM124.3 953.2h9.2v4.8h-9.2zM244.7 953.2h4.8v4.8h-4.8zM253.7 953.2h4.8v4.8h-4.8zM128.8 957.6h4.8v4.8h-4.8zM244.7 957.6h4.8v4.8h-4.8zM137.7 962.1h9.2v4.8h-9.2zM244.7 962.1h4.8v4.8h-4.8zM128.8 966.5h4.8v4.8h-4.8zM137.7 966.5h4.8v4.8h-4.8zM240.3 966.5h4.8v4.8h-4.8zM146.6 971h4.8v4.8h-4.8zM146.6 975.5h4.8v4.8h-4.8zM222.4 975.5h9.2v4.8h-9.2zM146.6 979.9h9.2v4.8h-9.2zM160 979.9h4.8v4.8h-4.8zM177.8 979.9h4.8v4.8h-4.8zM209.1 979.9h4.8v4.8h-4.8zM218 979.9h9.2v4.8h-9.2zM173.4 984.4h4.8v4.8h-4.8zM191.2 984.4h4.8v4.8h-4.8zM204.6 984.4h4.8v4.8h-4.8zM191.2 988.8h4.8v4.8h-4.8z" fill="#b8b8ff"/>
<path d="M204.6 819.4h4.8v4.8h-4.8zM218 819.4h4.8v4.8h-4.8zM204.6 823.8h4.8v4.8h-4.8zM218 823.8h4.8v4.8h-4.8zM226.9 828.3h9.2v4.8h-9.2zM244.7 832.7h9.2v4.8h-9.2zM253.7 837.2h4.8v4.8h-4.8zM182.3 846.1h4.8v4.8h-4.8zM262.6 850.6h4.8v4.8h-4.8zM177.8 855h4.8v4.8h-4.8zM173.4 859.5h4.8v4.8h-4.8zM267 859.5h9.2v4.8h-9.2zM168.9 864h4.8v4.8h-4.8zM271.5 864h4.8v4.8h-4.8zM155.5 881.8h4.8v4.8h-4.8zM151.1 886.3h4.8v4.8h-4.8zM160 886.3h4.8v4.8h-4.8zM151.1 890.7h4.8v4.8h-4.8zM151.1 895.2h4.8v4.8h-4.8zM142.2 899.6h4.8v4.8h-4.8zM271.5 899.6h4.8v4.8h-4.8zM142.2 904.1h4.8v4.8h-4.8zM142.2 913h4.8v4.8h-4.8zM142.2 917.5h4.8v4.8h-4.8zM133.2 921.9h4.8v4.8h-4.8zM142.2 921.9h4.8v4.8h-4.8zM133.2 926.4h4.8v4.8h-4.8zM142.2 926.4h4.8v4.8h-4.8zM267 926.4h4.8v4.8h-4.8zM258.1 930.9h4.8v4.8h-4.8zM258.1 935.3h4.8v4.8h-4.8zM133.2 939.8h4.8v4.8h-4.8zM249.2 939.8h9.2v4.8h-9.2zM142.2 944.2h4.8v4.8h-4.8zM142.2 948.7h4.8v4.8h-4.8zM155.5 948.7h4.8v4.8h-4.8zM240.3 948.7h4.8v4.8h-4.8zM142.2 953.2h9.2v4.8h-9.2zM160 953.2h9.2v4.8h-9.2zM240.3 953.2h4.8v4.8h-4.8zM146.6 957.6h4.8v4.8h-4.8zM160 957.6h9.2v4.8h-9.2zM240.3 957.6h4.8v4.8h-4.8zM146.6 962.1h4.8v4.8h-4.8zM164.5 962.1h4.8v4.8h-4.8zM160 966.5h4.8v4.8h-4.8zM168.9 966.5h4.8v4.8h-4.8zM186.8 966.5h13.7v4.8h-13.7zM213.5 966.5h4.8v4.8h-4.8zM173.4 971h4.8v4.8h-4.8zM186.8 971h4.8v4.8h-4.8zM195.7 971h9.2v4.8h-9.2zM209.1 971h4.8v4.8h-4.8zM231.4 971h4.8v4.8h-4.8zM168.9 975.5h4.8v4.8h-4.8zM195.7 975.5h9.2v4.8h-9.2z" fill="#dfdfff"/>
<path d="M209.1 819.4h9.2v4.8h-9.2zM222.4 819.4h9.2v4.8h-9.2zM235.8 819.4h4.8v4.8h-4.8zM226.9 823.8h4.8v4.8h-4.8zM235.8 823.8h4.8v4.8h-4.8zM200.1 828.3h4.8v4.8h-4.8zM240.3 828.3h4.8v4.8h-4.8zM186.8 832.7h9.2v4.8h-9.2zM186.8 837.2h4.8v4.8h-4.8zM262.6 846.1h9.2v4.8h-9.2zM267 850.6h4.8v4.8h-4.8zM267 855h9.2v4.8h-9.2zM164.5 868.4h9.2v4.8h-9.2zM164.5 872.9h4.8v4.8h-4.8zM271.5 872.9h4.8v4.8h-4.8zM164.5 877.3h4.8v4.8h-4.8zM271.5 877.3h4.8v4.8h-4.8zM160 881.8h4.8v4.8h-4.8zM146.6 886.3h4.8v4.8h-4.8zM142.2 890.7h9.2v4.8h-9.2zM271.5 890.7h4.8v4.8h-4.8zM142.2 895.2h4.8v4.8h-4.8zM271.5 895.2h4.8v4.8h-4.8zM133.2 904.1h9.2v4.8h-9.2zM271.5 904.1h4.8v4.8h-4.8zM133.2 908.6h13.7v4.8h-13.7zM133.2 913h4.8v4.8h-4.8zM271.5 913h4.8v4.8h-4.8zM271.5 917.5h4.8v4.8h-4.8zM128.8 921.9h4.8v4.8h-4.8zM137.7 921.9h4.8v4.8h-4.8zM128.8 926.4h4.8v4.8h-4.8zM133.2 930.9h9.2v4.8h-9.2zM262.6 930.9h4.8v4.8h-4.8zM128.8 935.3h9.2v4.8h-9.2zM137.7 939.8h4.8v4.8h-4.8zM133.2 944.2h9.2v4.8h-9.2zM137.7 948.7h4.8v4.8h-4.8zM244.7 948.7h4.8v4.8h-4.8zM133.2 953.2h9.2v4.8h-9.2zM151.1 953.2h4.8v4.8h-4.8zM142.2 957.6h4.8v4.8h-4.8zM151.1 962.1h4.8v4.8h-4.8zM160 962.1h4.8v4.8h-4.8zM151.1 966.5h9.2v4.8h-9.2zM164.5 966.5h4.8v4.8h-4.8zM226.9 966.5h4.8v4.8h-4.8zM235.8 966.5h4.8v4.8h-4.8zM155.5 971h4.8v4.8h-4.8zM164.5 971h9.2v4.8h-9.2zM177.8 971h4.8v4.8h-4.8zM218 971h13.7v4.8h-13.7zM155.5 975.5h9.2v4.8h-9.2zM177.8 975.5h13.7v4.8h-13.7zM204.6 975.5h18.1v4.8h-18.1zM182.3 979.9h4.8v4.8h-4.8zM191.2 979.9h13.7v4.8h-13.7zM186.8 984.4h4.8v4.8h-4.8z" fill="#d2d2ff"/>
<path d="M231.4 819.4h4.8v4.8h-4.8zM240.3 823.8h9.2v4.8h-9.2zM195.7 828.3h4.8v4.8h-4.8zM244.7 828.3h13.7v4.8h-13.7zM253.7 832.7h9.2v4.8h-9.2zM258.1 837.2h4.8v4.8h-4.8zM182.3 841.7h4.8v4.8h-4.8zM177.8 850.6h4.8v4.8h-4.8zM271.5 850.6h4.8v4.8h-4.8zM276 868.4h4.8v4.8h-4.8zM160 872.9h4.8v4.8h-4.8zM160 877.3h4.8v4.8h-4.8zM276 877.3h4.8v4.8h-4.8zM151.1 881.8h4.8v4.8h-4.8zM271.5 881.8h4.8v4.8h-4.8zM142.2 886.3h4.8v4.8h-4.8zM271.5 886.3h4.8v4.8h-4.8zM133.2 917.5h4.8v4.8h-4.8zM271.5 921.9h4.8v4.8h-4.8zM124.3 930.9h9.2v4.8h-9.2zM267 930.9h4.8v4.8h-4.8zM124.3 935.3h4.8v4.8h-4.8zM124.3 939.8h9.2v4.8h-9.2zM258.1 939.8h9.2v4.8h-9.2zM128.8 944.2h4.8v4.8h-4.8zM244.7 944.2h9.2v4.8h-9.2zM133.2 948.7h4.8v4.8h-4.8zM133.2 957.6h9.2v4.8h-9.2zM151.1 957.6h4.8v4.8h-4.8zM240.3 962.1h4.8v4.8h-4.8zM142.2 966.5h9.2v4.8h-9.2zM142.2 971h4.8v4.8h-4.8zM151.1 971h4.8v4.8h-4.8zM160 971h4.8v4.8h-4.8zM235.8 971h4.8v4.8h-4.8zM164.5 975.5h4.8v4.8h-4.8zM173.4 975.5h4.8v4.8h-4.8zM231.4 975.5h4.8v4.8h-4.8zM155.5 979.9h4.8v4.8h-4.8zM164.5 979.9h13.7v4.8h-13.7zM186.8 979.9h4.8v4.8h-4.8zM204.6 979.9h4.8v4.8h-4.8zM213.5 979.9h4.8v4.8h-4.8zM168.9 984.4h4.8v4.8h-4.8zM177.8 984.4h9.2v4.8h-9.2zM195.7 984.4h9.2v4.8h-9.2zM209.1 984.4h4.8v4.8h-4.8z" fill="#c5c5ff"/>
<path d="M209.1 823.8h9.2v4.8h-9.2zM222.4 823.8h4.8v4.8h-4.8zM231.4 823.8h4.8v4.8h-4.8zM235.8 828.3h4.8v4.8h-4.8zM195.7 832.7h4.8v4.8h-4.8zM240.3 832.7h4.8v4.8h-4.8zM195.7 837.2h4.8v4.8h-4.8zM249.2 837.2h4.8v4.8h-4.8zM258.1 841.7h4.8v4.8h-4.8zM258.1 846.1h4.8v4.8h-4.8zM262.6 859.5h4.8v4.8h-4.8zM267 864h4.8v4.8h-4.8zM267 868.4h9.2v4.8h-9.2zM168.9 872.9h9.2v4.8h-9.2zM164.5 881.8h9.2v4.8h-9.2zM155.5 886.3h4.8v4.8h-4.8zM164.5 886.3h4.8v4.8h-4.8zM155.5 890.7h4.8v4.8h-4.8zM164.5 890.7h4.8v4.8h-4.8zM146.6 895.2h4.8v4.8h-4.8zM160 895.2h9.2v4.8h-9.2zM267 895.2h4.8v4.8h-4.8zM146.6 899.6h9.2v4.8h-9.2zM164.5 899.6h4.8v4.8h-4.8zM137.7 913h4.8v4.8h-4.8zM137.7 917.5h4.8v4.8h-4.8zM146.6 921.9h4.8v4.8h-4.8zM267 921.9h4.8v4.8h-4.8zM137.7 926.4h4.8v4.8h-4.8zM146.6 926.4h9.2v4.8h-9.2zM262.6 926.4h4.8v4.8h-4.8zM142.2 930.9h9.2v4.8h-9.2zM160 930.9h9.2v4.8h-9.2zM142.2 935.3h18.1v4.8h-18.1zM253.7 935.3h4.8v4.8h-4.8zM142.2 939.8h9.2v4.8h-9.2zM160 939.8h4.8v4.8h-4.8zM168.9 939.8h4.8v4.8h-4.8zM244.7 939.8h4.8v4.8h-4.8zM146.6 944.2h13.7v4.8h-13.7zM151.1 948.7h4.8v4.8h-4.8zM160 948.7h9.2v4.8h-9.2zM235.8 948.7h4.8v4.8h-4.8zM155.5 953.2h4.8v4.8h-4.8zM168.9 953.2h4.8v4.8h-4.8zM235.8 953.2h4.8v4.8h-4.8zM155.5 957.6h4.8v4.8h-4.8zM235.8 957.6h4.8v4.8h-4.8zM155.5 962.1h4.8v4.8h-4.8zM168.9 962.1h4.8v4.8h-4.8zM186.8 962.1h4.8v4.8h-4.8zM200.1 962.1h4.8v4.8h-4.8zM226.9 962.1h13.7v4.8h-13.7zM173.4 966.5h4.8v4.8h-4.8zM182.3 966.5h4.8v4.8h-4.8zM200.1 966.5h13.7v4.8h-13.7zM218 966.5h9.2v4.8h-9.2zM231.4 966.5h4.8v4.8h-4.8zM182.3 971h4.8v4.8h-4.8zM191.2 971h4.8v4.8h-4.8zM204.6 971h4.8v4.8h-4.8zM213.5 971h4.8v4.8h-4.8zM191.2 975.5h4.8v4.8h-4.8z" fill="#ececff"/>
<path d="M204.6 828.3h4.8v4.8h-4.8zM204.6 832.7h4.8v4.8h-4.8zM218 832.7h13.7v4.8h-13.7zM235.8 832.7h4.8v4.8h-4.8zM226.9 837.2h9.2v4.8h-9.2zM186.8 841.7h4.8v4.8h-4.8zM253.7 846.1h4.8v4.8h-4.8zM182.3 850.6h4.8v4.8h-4.8zM258.1 855h4.8v4.8h-4.8zM258.1 859.5h4.8v4.8h-4.8zM177.8 864h4.8v4.8h-4.8zM262.6 864h4.8v4.8h-4.8zM173.4 868.4h4.8v4.8h-4.8zM262.6 868.4h4.8v4.8h-4.8zM262.6 872.9h9.2v4.8h-9.2zM173.4 881.8h4.8v4.8h-4.8zM168.9 886.3h4.8v4.8h-4.8zM262.6 886.3h9.2v4.8h-9.2zM267 890.7h4.8v4.8h-4.8zM155.5 895.2h4.8v4.8h-4.8zM168.9 895.2h9.2v4.8h-9.2zM168.9 899.6h9.2v4.8h-9.2zM151.1 904.1h4.8v4.8h-4.8zM160 904.1h4.8v4.8h-4.8zM146.6 908.6h13.7v4.8h-13.7zM164.5 908.6h4.8v4.8h-4.8zM164.5 913h9.2v4.8h-9.2zM262.6 913h4.8v4.8h-4.8zM146.6 917.5h4.8v4.8h-4.8zM177.8 917.5h4.8v4.8h-4.8zM155.5 921.9h4.8v4.8h-4.8zM164.5 921.9h4.8v4.8h-4.8zM173.4 921.9h4.8v4.8h-4.8zM164.5 926.4h13.7v4.8h-13.7zM258.1 926.4h4.8v4.8h-4.8zM173.4 930.9h4.8v4.8h-4.8zM160 935.3h9.2v4.8h-9.2zM151.1 939.8h4.8v4.8h-4.8zM173.4 939.8h9.2v4.8h-9.2zM164.5 944.2h4.8v4.8h-4.8zM177.8 944.2h4.8v4.8h-4.8zM235.8 944.2h4.8v4.8h-4.8zM173.4 948.7h13.7v4.8h-13.7zM222.4 948.7h4.8v4.8h-4.8zM177.8 953.2h9.2v4.8h-9.2zM222.4 953.2h13.7v4.8h-13.7zM186.8 957.6h9.2v4.8h-9.2zM213.5 957.6h4.8v4.8h-4.8zM191.2 962.1h4.8v4.8h-4.8zM204.6 962.1h4.8v4.8h-4.8zM222.4 962.1h4.8v4.8h-4.8z" fill="#fff7f7"/>
<path d="M209.1 828.3h18.1v4.8h-18.1zM191.2 837.2h4.8v4.8h-4.8zM240.3 837.2h9.2v4.8h-9.2zM191.2 841.7h4.8v4.8h-4.8zM244.7 841.7h4.8v4.8h-4.8zM253.7 841.7h4.8v4.8h-4.8zM244.7 846.1h4.8v4.8h-4.8zM258.1 850.6h4.8v4.8h-4.8zM262.6 855h4.8v4.8h-4.8zM177.8 859.5h4.8v4.8h-4.8zM173.4 864h4.8v4.8h-4.8zM168.9 877.3h9.2v4.8h-9.2zM262.6 881.8h9.2v4.8h-9.2zM160 890.7h4.8v4.8h-4.8zM168.9 890.7h4.8v4.8h-4.8zM155.5 899.6h9.2v4.8h-9.2zM146.6 904.1h4.8v4.8h-4.8zM168.9 904.1h4.8v4.8h-4.8zM160 908.6h4.8v4.8h-4.8zM267 908.6h4.8v4.8h-4.8zM146.6 913h18.1v4.8h-18.1zM267 913h4.8v4.8h-4.8zM155.5 917.5h18.1v4.8h-18.1zM262.6 917.5h9.2v4.8h-9.2zM151.1 921.9h4.8v4.8h-4.8zM168.9 921.9h4.8v4.8h-4.8zM258.1 921.9h9.2v4.8h-9.2zM155.5 926.4h9.2v4.8h-9.2zM177.8 926.4h4.8v4.8h-4.8zM151.1 930.9h9.2v4.8h-9.2zM177.8 930.9h4.8v4.8h-4.8zM137.7 935.3h4.8v4.8h-4.8zM173.4 935.3h13.7v4.8h-13.7zM244.7 935.3h9.2v4.8h-9.2zM155.5 939.8h4.8v4.8h-4.8zM164.5 939.8h4.8v4.8h-4.8zM240.3 939.8h4.8v4.8h-4.8zM160 944.2h4.8v4.8h-4.8zM168.9 944.2h9.2v4.8h-9.2zM240.3 944.2h4.8v4.8h-4.8zM146.6 948.7h4.8v4.8h-4.8zM168.9 948.7h4.8v4.8h-4.8zM231.4 948.7h4.8v4.8h-4.8zM173.4 953.2h4.8v4.8h-4.8zM168.9 957.6h13.7v4.8h-13.7zM222.4 957.6h13.7v4.8h-13.7zM173.4 962.1h13.7v4.8h-13.7zM213.5 962.1h9.2v4.8h-9.2zM177.8 966.5h4.8v4.8h-4.8z" fill="#f9f9ff"/>
<path d="M200.1 832.7h4.8v4.8h-4.8zM209.1 832.7h4.8v4.8h-4.8zM231.4 832.7h4.8v4.8h-4.8zM200.1 837.2h4.8v4.8h-4.8zM235.8 837.2h4.8v4.8h-4.8zM195.7 841.7h4.8v4.8h-4.8zM231.4 841.7h4.8v4.8h-4.8zM240.3 841.7h4.8v4.8h-4.8zM249.2 841.7h4.8v4.8h-4.8zM186.8 846.1h4.8v4.8h-4.8zM249.2 846.1h4.8v4.8h-4.8zM253.7 850.6h4.8v4.8h-4.8zM182.3 855h4.8v4.8h-4.8zM249.2 855h4.8v4.8h-4.8zM177.8 868.4h4.8v4.8h-4.8zM177.8 872.9h4.8v4.8h-4.8zM262.6 877.3h9.2v4.8h-9.2zM177.8 881.8h4.8v4.8h-4.8zM173.4 886.3h4.8v4.8h-4.8zM173.4 890.7h9.2v4.8h-9.2zM262.6 890.7h4.8v4.8h-4.8zM177.8 895.2h4.8v4.8h-4.8zM267 899.6h4.8v4.8h-4.8zM155.5 904.1h4.8v4.8h-4.8zM164.5 904.1h4.8v4.8h-4.8zM173.4 904.1h4.8v4.8h-4.8zM267 904.1h4.8v4.8h-4.8zM168.9 908.6h9.2v4.8h-9.2zM262.6 908.6h4.8v4.8h-4.8zM173.4 913h4.8v4.8h-4.8zM182.3 913h4.8v4.8h-4.8zM151.1 917.5h4.8v4.8h-4.8zM173.4 917.5h4.8v4.8h-4.8zM182.3 917.5h9.2v4.8h-9.2zM160 921.9h4.8v4.8h-4.8zM182.3 921.9h4.8v4.8h-4.8zM182.3 926.4h9.2v4.8h-9.2zM168.9 930.9h4.8v4.8h-4.8zM182.3 930.9h4.8v4.8h-4.8zM249.2 930.9h9.2v4.8h-9.2zM168.9 935.3h4.8v4.8h-4.8zM186.8 935.3h4.8v4.8h-4.8zM240.3 935.3h4.8v4.8h-4.8zM186.8 939.8h4.8v4.8h-4.8zM235.8 939.8h4.8v4.8h-4.8zM182.3 944.2h9.2v4.8h-9.2zM226.9 944.2h9.2v4.8h-9.2zM186.8 948.7h4.8v4.8h-4.8zM226.9 948.7h4.8v4.8h-4.8zM186.8 953.2h4.8v4.8h-4.8zM209.1 953.2h13.7v4.8h-13.7zM182.3 957.6h4.8v4.8h-4.8zM195.7 957.6h4.8v4.8h-4.8zM218 957.6h4.8v4.8h-4.8zM195.7 962.1h4.8v4.8h-4.8zM209.1 962.1h4.8v4.8h-4.8z" fill="#ffeaea"/>
<path d="M213.5 832.7h4.8v4.8h-4.8zM213.5 837.2h4.8v4.8h-4.8zM222.4 837.2h4.8v4.8h-4.8zM191.2 846.1h9.2v4.8h-9.2zM240.3 846.1h4.8v4.8h-4.8zM186.8 850.6h4.8v4.8h-4.8zM244.7 850.6h9.2v4.8h-9.2zM244.7 855h4.8v4.8h-4.8zM253.7 855h4.8v4.8h-4.8zM182.3 859.5h4.8v4.8h-4.8zM249.2 859.5h9.2v4.8h-9.2zM258.1 864h4.8v4.8h-4.8zM258.1 868.4h4.8v4.8h-4.8zM258.1 872.9h4.8v4.8h-4.8zM258.1 881.8h4.8v4.8h-4.8zM262.6 895.2h4.8v4.8h-4.8zM177.8 899.6h4.8v4.8h-4.8zM262.6 899.6h4.8v4.8h-4.8zM258.1 913h4.8v4.8h-4.8zM177.8 921.9h4.8v4.8h-4.8zM191.2 921.9h4.8v4.8h-4.8zM253.7 926.4h4.8v4.8h-4.8zM186.8 930.9h9.2v4.8h-9.2zM244.7 930.9h4.8v4.8h-4.8zM235.8 935.3h4.8v4.8h-4.8zM182.3 939.8h4.8v4.8h-4.8zM226.9 939.8h9.2v4.8h-9.2zM191.2 953.2h18.1v4.8h-18.1zM200.1 957.6h13.7v4.8h-13.7z" fill="#ffdddd"/>
<path d="M204.6 837.2h9.2v4.8h-9.2zM218 837.2h4.8v4.8h-4.8zM222.4 841.7h9.2v4.8h-9.2zM235.8 841.7h4.8v4.8h-4.8zM226.9 846.1h4.8v4.8h-4.8zM235.8 846.1h4.8v4.8h-4.8zM191.2 850.6h4.8v4.8h-4.8zM240.3 850.6h4.8v4.8h-4.8zM191.2 855h4.8v4.8h-4.8zM244.7 859.5h4.8v4.8h-4.8zM244.7 864h9.2v4.8h-9.2zM249.2 868.4h9.2v4.8h-9.2zM253.7 872.9h4.8v4.8h-4.8zM177.8 877.3h4.8v4.8h-4.8zM177.8 886.3h4.8v4.8h-4.8zM258.1 886.3h4.8v4.8h-4.8zM258.1 890.7h4.8v4.8h-4.8zM182.3 899.6h4.8v4.8h-4.8zM177.8 904.1h9.2v4.8h-9.2zM262.6 904.1h4.8v4.8h-4.8zM177.8 908.6h9.2v4.8h-9.2zM177.8 913h4.8v4.8h-4.8zM191.2 913h4.8v4.8h-4.8zM258.1 917.5h4.8v4.8h-4.8zM186.8 921.9h4.8v4.8h-4.8zM195.7 921.9h4.8v4.8h-4.8zM253.7 921.9h4.8v4.8h-4.8zM191.2 926.4h4.8v4.8h-4.8zM244.7 926.4h4.8v4.8h-4.8zM240.3 930.9h4.8v4.8h-4.8zM191.2 935.3h13.7v4.8h-13.7zM213.5 939.8h4.8v4.8h-4.8zM222.4 939.8h4.8v4.8h-4.8zM191.2 944.2h27.1v4.8h-27.1zM222.4 944.2h4.8v4.8h-4.8zM191.2 948.7h9.2v4.8h-9.2zM204.6 948.7h13.7v4.8h-13.7z" fill="#ffd0d0"/>
<path d="M200.1 841.7h4.8v4.8h-4.8zM209.1 841.7h4.8v4.8h-4.8zM231.4 846.1h4.8v4.8h-4.8zM226.9 850.6h4.8v4.8h-4.8zM235.8 850.6h4.8v4.8h-4.8zM186.8 855h4.8v4.8h-4.8zM240.3 855h4.8v4.8h-4.8zM186.8 859.5h9.2v4.8h-9.2zM240.3 859.5h4.8v4.8h-4.8zM182.3 864h4.8v4.8h-4.8zM253.7 864h4.8v4.8h-4.8zM182.3 868.4h4.8v4.8h-4.8zM182.3 872.9h4.8v4.8h-4.8zM249.2 872.9h4.8v4.8h-4.8zM253.7 877.3h9.2v4.8h-9.2zM182.3 895.2h4.8v4.8h-4.8zM186.8 908.6h4.8v4.8h-4.8zM258.1 908.6h4.8v4.8h-4.8zM186.8 913h4.8v4.8h-4.8zM191.2 917.5h4.8v4.8h-4.8zM253.7 917.5h4.8v4.8h-4.8zM249.2 921.9h4.8v4.8h-4.8zM195.7 926.4h9.2v4.8h-9.2zM213.5 926.4h4.8v4.8h-4.8zM249.2 926.4h4.8v4.8h-4.8zM195.7 930.9h4.8v4.8h-4.8zM209.1 935.3h4.8v4.8h-4.8zM222.4 935.3h9.2v4.8h-9.2zM191.2 939.8h4.8v4.8h-4.8zM204.6 939.8h9.2v4.8h-9.2zM218 939.8h4.8v4.8h-4.8zM200.1 948.7h4.8v4.8h-4.8zM218 948.7h4.8v4.8h-4.8z" fill="#ffc3c3"/>
<path d="M204.6 841.7h4.8v4.8h-4.8zM213.5 841.7h9.2v4.8h-9.2zM200.1 846.1h4.8v4.8h-4.8zM222.4 846.1h4.8v4.8h-4.8zM195.7 850.6h4.8v4.8h-4.8zM222.4 850.6h4.8v4.8h-4.8zM231.4 850.6h4.8v4.8h-4.8zM226.9 855h4.8v4.8h-4.8zM235.8 855h4.8v4.8h-4.8zM186.8 864h4.8v4.8h-4.8zM240.3 868.4h9.2v4.8h-9.2zM249.2 877.3h4.8v4.8h-4.8zM249.2 881.8h9.2v4.8h-9.2zM182.3 886.3h4.8v4.8h-4.8zM253.7 886.3h4.8v4.8h-4.8zM182.3 890.7h4.8v4.8h-4.8zM258.1 895.2h4.8v4.8h-4.8zM186.8 899.6h4.8v4.8h-4.8zM258.1 899.6h4.8v4.8h-4.8zM186.8 904.1h4.8v4.8h-4.8zM195.7 913h4.8v4.8h-4.8zM253.7 913h4.8v4.8h-4.8zM195.7 917.5h4.8v4.8h-4.8zM200.1 921.9h9.2v4.8h-9.2zM244.7 921.9h4.8v4.8h-4.8zM204.6 926.4h9.2v4.8h-9.2zM200.1 930.9h13.7v4.8h-13.7zM218 930.9h4.8v4.8h-4.8zM231.4 930.9h9.2v4.8h-9.2zM204.6 935.3h4.8v4.8h-4.8zM213.5 935.3h4.8v4.8h-4.8zM231.4 935.3h4.8v4.8h-4.8zM195.7 939.8h9.2v4.8h-9.2zM218 944.2h4.8v4.8h-4.8z" fill="#ffb6b6"/>
<path d="M204.6 846.1h4.8v4.8h-4.8zM213.5 846.1h9.2v4.8h-9.2zM195.7 855h4.8v4.8h-4.8zM226.9 859.5h4.8v4.8h-4.8zM235.8 859.5h4.8v4.8h-4.8zM240.3 864h4.8v4.8h-4.8zM244.7 872.9h4.8v4.8h-4.8zM182.3 877.3h4.8v4.8h-4.8zM182.3 881.8h4.8v4.8h-4.8zM249.2 886.3h4.8v4.8h-4.8zM191.2 899.6h4.8v4.8h-4.8zM253.7 899.6h4.8v4.8h-4.8zM191.2 904.1h4.8v4.8h-4.8zM258.1 904.1h4.8v4.8h-4.8zM191.2 908.6h13.7v4.8h-13.7zM200.1 913h4.8v4.8h-4.8zM249.2 917.5h4.8v4.8h-4.8zM235.8 926.4h9.2v4.8h-9.2zM213.5 930.9h4.8v4.8h-4.8zM222.4 930.9h9.2v4.8h-9.2zM218 935.3h4.8v4.8h-4.8z" fill="#ffa9a9"/>
<path d="M209.1 846.1h4.8v4.8h-4.8zM218 850.6h4.8v4.8h-4.8zM222.4 855h4.8v4.8h-4.8zM231.4 855h4.8v4.8h-4.8zM191.2 864h4.8v4.8h-4.8zM226.9 864h4.8v4.8h-4.8zM191.2 868.4h4.8v4.8h-4.8zM244.7 877.3h4.8v4.8h-4.8zM244.7 881.8h4.8v4.8h-4.8zM249.2 890.7h9.2v4.8h-9.2zM186.8 895.2h9.2v4.8h-9.2zM249.2 895.2h9.2v4.8h-9.2zM195.7 899.6h4.8v4.8h-4.8zM195.7 904.1h4.8v4.8h-4.8zM253.7 908.6h4.8v4.8h-4.8zM200.1 917.5h9.2v4.8h-9.2zM244.7 917.5h4.8v4.8h-4.8zM209.1 921.9h13.7v4.8h-13.7zM240.3 921.9h4.8v4.8h-4.8zM218 926.4h9.2v4.8h-9.2zM231.4 926.4h4.8v4.8h-4.8z" fill="#ff9c9c"/>
<path d="M200.1 850.6h4.8v4.8h-4.8zM209.1 850.6h4.8v4.8h-4.8zM195.7 859.5h4.8v4.8h-4.8zM231.4 859.5h4.8v4.8h-4.8zM231.4 864h9.2v4.8h-9.2zM186.8 868.4h4.8v4.8h-4.8zM235.8 868.4h4.8v4.8h-4.8zM186.8 872.9h4.8v4.8h-4.8zM240.3 872.9h4.8v4.8h-4.8zM186.8 877.3h4.8v4.8h-4.8zM191.2 890.7h4.8v4.8h-4.8zM244.7 890.7h4.8v4.8h-4.8zM249.2 899.6h4.8v4.8h-4.8zM200.1 904.1h4.8v4.8h-4.8zM253.7 904.1h4.8v4.8h-4.8zM204.6 908.6h4.8v4.8h-4.8zM249.2 913h4.8v4.8h-4.8zM209.1 917.5h4.8v4.8h-4.8zM231.4 921.9h4.8v4.8h-4.8zM226.9 926.4h4.8v4.8h-4.8z" fill="#ff8f8f"/>
<path d="M204.6 850.6h4.8v4.8h-4.8zM218 855h4.8v4.8h-4.8zM222.4 859.5h4.8v4.8h-4.8zM195.7 864h4.8v4.8h-4.8zM222.4 864h4.8v4.8h-4.8zM231.4 868.4h4.8v4.8h-4.8zM191.2 872.9h4.8v4.8h-4.8zM235.8 872.9h4.8v4.8h-4.8zM191.2 877.3h4.8v4.8h-4.8zM240.3 877.3h4.8v4.8h-4.8zM186.8 886.3h9.2v4.8h-9.2zM244.7 886.3h4.8v4.8h-4.8zM186.8 890.7h4.8v4.8h-4.8zM195.7 895.2h4.8v4.8h-4.8zM249.2 908.6h4.8v4.8h-4.8zM204.6 913h4.8v4.8h-4.8zM240.3 913h4.8v4.8h-4.8zM213.5 917.5h4.8v4.8h-4.8zM240.3 917.5h4.8v4.8h-4.8zM226.9 921.9h4.8v4.8h-4.8zM235.8 921.9h4.8v4.8h-4.8z" fill="#ff8282"/>
<path d="M213.5 850.6h4.8v4.8h-4.8zM200.1 855h4.8v4.8h-4.8zM200.1 859.5h4.8v4.8h-4.8zM218 859.5h4.8v4.8h-4.8zM195.7 868.4h4.8v4.8h-4.8zM226.9 868.4h4.8v4.8h-4.8zM231.4 872.9h4.8v4.8h-4.8zM235.8 877.3h4.8v4.8h-4.8zM186.8 881.8h4.8v4.8h-4.8zM240.3 881.8h4.8v4.8h-4.8zM240.3 886.3h4.8v4.8h-4.8zM195.7 890.7h4.8v4.8h-4.8zM244.7 895.2h4.8v4.8h-4.8zM200.1 899.6h4.8v4.8h-4.8zM249.2 904.1h4.8v4.8h-4.8zM244.7 908.6h4.8v4.8h-4.8zM209.1 913h9.2v4.8h-9.2zM244.7 913h4.8v4.8h-4.8zM235.8 917.5h4.8v4.8h-4.8zM222.4 921.9h4.8v4.8h-4.8z" fill="#ff7575"/>
<path d="M204.6 855h9.2v4.8h-9.2zM218 864h4.8v4.8h-4.8zM195.7 872.9h4.8v4.8h-4.8zM226.9 872.9h4.8v4.8h-4.8zM195.7 877.3h4.8v4.8h-4.8zM235.8 881.8h4.8v4.8h-4.8zM195.7 886.3h4.8v4.8h-4.8zM200.1 895.2h4.8v4.8h-4.8zM244.7 899.6h4.8v4.8h-4.8zM204.6 904.1h4.8v4.8h-4.8zM244.7 904.1h4.8v4.8h-4.8zM209.1 908.6h9.2v4.8h-9.2zM218 913h9.2v4.8h-9.2zM218 917.5h18.1v4.8h-18.1z" fill="#ff6868"/>
<path d="M213.5 855h4.8v4.8h-4.8zM200.1 864h4.8v4.8h-4.8zM222.4 868.4h4.8v4.8h-4.8zM222.4 872.9h4.8v4.8h-4.8zM226.9 877.3h9.2v4.8h-9.2zM191.2 881.8h4.8v4.8h-4.8zM240.3 890.7h4.8v4.8h-4.8zM240.3 895.2h4.8v4.8h-4.8zM204.6 899.6h4.8v4.8h-4.8zM226.9 913h9.2v4.8h-9.2z" fill="#ff5b5b"/>
<path d="M204.6 859.5h9.2v4.8h-9.2zM200.1 868.4h4.8v4.8h-4.8zM200.1 872.9h4.8v4.8h-4.8zM200.1 877.3h4.8v4.8h-4.8zM222.4 881.8h9.2v4.8h-9.2zM200.1 886.3h4.8v4.8h-4.8zM204.6 890.7h4.8v4.8h-4.8zM235.8 890.7h4.8v4.8h-4.8zM204.6 895.2h4.8v4.8h-4.8zM226.9 895.2h4.8v4.8h-4.8zM209.1 899.6h4.8v4.8h-4.8zM218 899.6h9.2v4.8h-9.2zM240.3 899.6h4.8v4.8h-4.8zM218 904.1h4.8v4.8h-4.8zM240.3 904.1h4.8v4.8h-4.8zM218 908.6h4.8v4.8h-4.8z" fill="#ff4141"/>
<path d="M213.5 859.5h4.8v4.8h-4.8zM222.4 877.3h4.8v4.8h-4.8zM195.7 881.8h4.8v4.8h-4.8zM235.8 886.3h4.8v4.8h-4.8zM200.1 890.7h4.8v4.8h-4.8zM209.1 904.1h9.2v4.8h-9.2zM240.3 908.6h4.8v4.8h-4.8zM235.8 913h4.8v4.8h-4.8z" fill="#ff4e4e"/>
<path d="M204.6 864h13.7v4.8h-13.7zM218 868.4h4.8v4.8h-4.8zM204.6 872.9h4.8v4.8h-4.8zM200.1 881.8h4.8v4.8h-4.8zM231.4 881.8h4.8v4.8h-4.8zM231.4 886.3h4.8v4.8h-4.8zM209.1 895.2h4.8v4.8h-4.8zM222.4 904.1h9.2v4.8h-9.2zM222.4 908.6h4.8v4.8h-4.8zM231.4 908.6h9.2v4.8h-9.2z" fill="#ff3434"/>
<path d="M204.6 868.4h4.8v4.8h-4.8zM209.1 872.9h4.8v4.8h-4.8zM218 872.9h4.8v4.8h-4.8zM222.4 890.7h13.7v4.8h-13.7zM213.5 895.2h9.2v4.8h-9.2zM231.4 895.2h9.2v4.8h-9.2zM213.5 899.6h4.8v4.8h-4.8zM226.9 899.6h13.7v4.8h-13.7zM235.8 904.1h4.8v4.8h-4.8zM226.9 908.6h4.8v4.8h-4.8z" fill="#ff2727"/>
<path d="M209.1 868.4h4.8v4.8h-4.8zM213.5 872.9h4.8v4.8h-4.8zM218 881.8h4.8v4.8h-4.8zM209.1 886.3h13.7v4.8h-13.7zM231.4 904.1h4.8v4.8h-4.8z" fill="#ff0d0d"/>
<path d="M213.5 868.4h4.8v4.8h-4.8zM204.6 877.3h4.8v4.8h-4.8zM218 877.3h4.8v4.8h-4.8zM204.6 881.8h4.8v4.8h-4.8zM204.6 886.3h4.8v4.8h-4.8zM222.4 886.3h9.2v4.8h-9.2zM209.1 890.7h13.7v4.8h-13.7zM222.4 895.2h4.8v4.8h-4.8z" fill="#ff1a1a"/>
<path d="M209.1 877.3h9.2v4.8h-9.2zM209.1 881.8h9.2v4.8h-9.2z" fill="#ff0000"/>
</g>
<g stroke-linecap="round" fill="none" stroke-width="2.8">
<path d="M217.5 899.5h0M232.4 910.2h0M223.6 913h0M225.9 912.6h0M198.2 985.4h0M221.9 904.4h0M252.3 933h0M219.1 914h0M216.5 937.3h0M246.6 940.4h0M246.2 877.5h0M204 901.7h0M270.8 942.1h0M211 940.1h0M245.9 872.9h0M182 956.2h0M183.1 958.9h0M190.9 961.5h0M187.7 989.4h0M191 906.9h0" stroke="#ffabab"/>
<path d="M242.1 869.1h0M236.8 888.7h0M167.1 904.6h0M199.3 967.3h0M257.8 880.1h0M185.4 981.4h0M233.5 939.2h0M268.4 949.3h0M246.5 933.3h0M148.4 918.1h0M199.6 977.3h0M174.1 914.7h0M152.7 911.6h0M179 922.1h0M270.5 946.8h0M169.1 915.6h0M154.2 936h0M236 876.1h0M162.5 918.6h0M256.4 930.2h0M156.9 925.9h0M255.8 954.7h0M238.3 935.8h0M166.2 911.4h0M242.3 937.3h0M172.7 908.3h0M172.9 914.5h0M172.7 924.2h0M259.2 956h0M244.6 925h0M154.2 939.9h0M182.7 980.2h0M138.9 930.8h0M171 905.3h0M179.3 973.4h0M257.6 938.5h0M184.4 912.4h0M165.3 905.4h0M152.4 935.4h0M253.2 895.9h0M168.8 914.1h0M157.9 921.1h0M169.7 976.3h0M148.3 929.5h0M164.5 941.9h0M238.2 963.9h0M243.1 869.8h0M169.3 894.7h0M178.6 905h0M170.9 973.1h0M153.4 923h0M244.3 941.9h0M155.1 919.2h0M181.9 986.2h0M192.2 989.4h0M250.7 891.7h0M175.6 898.2h0M151.2 910.2h0M254.4 881.2h0M169.1 931.5h0M270.7 944.9h0M258.7 935.3h0M185.1 913.8h0M253.3 931.6h0M159.2 906.6h0M185.9 910.5h0M177 921.2h0M189.9 967.3h0M238.8 886.1h0M165.6 903.1h0M235.9 882.8h0M259.9 958.1h0M173.3 907.1h0M264.1 889.9h0M176.4 911.6h0M186.3 908.9h0M239.1 875.5h0M149.3 927.9h0M169.6 927.8h0M175.3 927.6h0M155.7 918.5h0M145.8 924.8h0M252.8 951.1h0" stroke="#2e2eff"/>
<path d="M160.8 945.1h0M177.5 909.4h0M190.4 912.9h0M153.6 940.8h0M239.1 934.5h0M159 944.2h0M179 913.7h0M167 917.3h0M173.3 899h0M177.3 919.3h0M148.7 914.5h0M141.1 932.1h0M245.6 888.7h0M189.8 912.8h0M146.8 921.2h0M154 907.6h0M150.9 931.9h0M150.4 928.9h0M236.3 880.3h0M180.2 990.1h0M167.7 915.5h0M171.7 909h0M166.6 897.6h0M140.9 930.2h0M157.2 936.9h0M154.8 919.5h0M144.5 933h0M173 918.1h0M150.8 940.8h0M146.6 932.8h0" stroke="#0000ff"/>
<path d="M155.7 924.2h0M254.4 890.1h0M193.8 970.3h0M247.8 902.5h0M165.9 973.4h0M264.1 933.4h0M253 945.4h0M155 920.8h0M247.8 890.4h0M177.1 950h0M170 918.2h0M228.9 940h0M217.1 898.6h0M243.5 884.6h0M151.4 917.8h0M183.5 976.4h0M238.8 876.6h0M182 977.6h0M200.4 979h0M223.4 930.7h0M215.2 929.9h0M238.4 879.1h0M168 914.1h0M227.2 938.8h0M183.4 991.5h0M258.6 888.2h0M250.5 951.3h0M226.6 931.9h0M251.4 876.4h0M245.6 938h0M169.9 965.6h0M189.8 912.3h0M227.1 944.5h0M178 979.5h0M159.8 911h0M185.6 995.1h0M213.7 920.2h0M237.1 883.4h0M205.6 932.8h0M245.5 904.4h0M252.3 888.8h0M194 974.5h0M258.5 934h0M147.5 925.7h0M197.4 982.2h0M207.6 907.6h0M206.8 916.3h0M251.5 911.8h0M196.1 914.4h0M261.5 884.1h0M215.1 944.6h0M184.8 978.7h0M193.6 976.2h0M185.5 912.1h0M171.1 918.7h0M177.9 919h0M269.3 939.1h0M217.2 914.8h0M165 905.5h0M193.4 977.2h0M168.2 962.7h0M250 884.4h0M251.1 880.8h0M207.5 930.9h0M144 932.7h0M195.1 901h0M213 951.8h0M199.4 902.1h0M220.7 927.3h0M176.2 972.1h0M191.4 999.2h0M239 955.2h0M242.1 869.6h0M142.8 929.7h0M186.4 990.8h0M204.6 933.5h0M251.8 885.2h0M262 886.7h0M256 891.6h0M238.2 958.8h0M198.9 893.5h0M223.7 932.6h0M191.5 970.6h0M184.4 980.6h0M202.6 968.7h0M225.9 926.6h0M207.5 901.7h0M217.7 909.9h0M205.5 929.7h0M256.3 949h0M237.6 890.9h0M210.9 908.8h0M191.7 905h0M249.2 871.4h0M163.5 978.7h0M201.6 984.9h0M145.2 936.8h0M189.9 990.7h0M218.9 957h0M242.6 867.2h0M195.2 896.8h0M208.5 928.8h0M183 920.7h0M156.5 910.3h0" stroke="#ffffff"/>
<path d="M209.1 899.5h0M205.4 930.9h0M206.2 948.6h0M174 973.5h0M225.3 902.9h0M188.7 913.2h0M207.3 910.9h0M205.5 977.4h0M211.6 972.6h0M203.6 968.3h0M180.7 919.3h0M175 968h0M214.2 937.8h0M196.9 891.7h0M173.7 952.1h0M215.9 917.7h0M229.1 916h0M211 922.6h0M209.6 929.1h0M235.1 959.3h0M192.3 909.3h0M165.8 969.9h0M205.4 935.7h0M231.6 950.5h0M222.4 931.6h0M195.7 901.6h0M218.4 943.9h0M209.3 915.8h0M208.5 904h0M195.3 913.8h0M208.1 903.9h0M221.6 918.7h0M229.2 942h0M191.8 984.9h0M206.9 894.7h0M225.5 921.5h0M172.5 906.6h0M233.9 959.3h0M199.4 904.2h0M213.3 908.5h0M221.2 930.3h0M208.1 893.8h0M210.1 935.5h0M215.1 950.7h0M216.6 921.2h0M216.4 931.4h0M233.7 938.5h0M197.3 915.9h0M216.7 946.2h0M203.3 904.2h0M205.7 936.2h0M200.8 912h0M207.1 896.8h0M226 910.1h0M201.3 886.2h0M209.1 908.8h0M222.1 932.2h0M220.8 916h0M235.5 967.1h0M222.9 930.9h0M209.1 970h0M206.3 904.7h0M155.5 920.2h0M198.2 925.4h0M227 927.1h0M202.9 920.9h0M201.4 928.2h0M205.1 935.6h0M223.1 934.1h0M205.9 947.6h0M251.5 911.1h0M196 901.8h0" stroke="#ff2e2e"/>
<path d="M203.5 974.5h0M245.5 877.1h0M254.9 881.2h0M169.5 931.6h0M164.2 921.2h0M159.9 911.3h0M192.6 980.3h0M149.8 931.3h0M178.3 906.4h0M158 905.9h0M184.7 974.8h0M155.1 920.5h0M249.9 943.2h0M244.1 890.8h0M167.5 940.6h0M204.2 907.5h0M252 950h0M145.7 917.6h0M161.9 913.6h0M233.8 879.3h0M174.6 921.2h0M147.4 922.3h0M259.8 887.5h0M161.1 913.1h0M157.6 918.3h0M161.3 919h0M183.9 911.8h0M155.4 909.6h0M172.5 902.1h0M175.5 973.9h0M167.9 935.4h0M169.7 913.7h0M258.9 896h0M148.5 938.5h0M172.5 901.6h0M170.5 896.2h0M261 945.4h0M158.8 913.7h0M151.3 939.9h0M175.5 897.7h0M163.1 927.9h0M164.1 912h0M172.1 914.2h0M157.3 913.6h0M260.9 887.2h0M190.3 993.2h0M162.8 939.8h0M157.7 912.2h0M168.8 930.2h0M157 944.8h0M141.2 932.8h0M161.6 898.1h0M253.6 884.9h0M252.8 896.2h0M150.3 913.8h0M149.3 937.8h0M244.3 880.5h0M148.2 935.3h0M254.3 873.5h0M168.3 926.1h0M157.8 903.5h0M241.9 868h0M266.7 951.5h0M164.5 917.9h0M159.5 908.7h0M255 930.5h0M160.1 925.5h0M156.7 914h0M262.8 890.9h0M243.4 881.6h0M255.3 878.4h0M154.9 931.4h0M159.1 911.8h0M158.8 930h0M154 914h0M180.3 906.1h0M163.4 921.8h0M238.5 875h0M238.8 891.6h0M267.8 936.6h0" stroke="#0505ff"/>
<path d="M197.2 895.4h0M203.1 938h0M205.9 935.5h0M187.8 912.9h0M203 898.7h0M217 956.3h0M210 911h0M192.2 901.2h0M193.3 974.5h0M194.2 909.3h0M221.1 935.5h0M149.7 934h0M217.5 902.1h0M208.4 925.6h0M193.2 920.4h0M248.6 921.9h0M229.6 936.9h0M220.3 941.6h0M233.6 964.4h0M207.7 933.9h0M238 949.2h0M226.4 936.3h0M203.6 975.3h0M215.7 947.7h0M191.3 914.5h0M216.3 925.6h0M194.1 899.7h0M253 947.7h0M202.4 916.7h0M236.6 875.6h0M197.5 986.7h0M226.4 946.2h0M196.2 970.2h0M199.6 886.2h0" stroke="#ff8282"/>
<path d="M250.2 932.4h0M159.1 913.2h0M158.8 935.9h0M208.4 974.7h0M257.6 876.9h0M244.5 926.8h0M180.5 957.1h0M228.5 938.5h0M253 887.7h0M257.9 898.3h0M257.7 889h0M187.8 983h0M187.5 978.4h0M173.5 978.6h0M189.2 991.2h0M252.2 902.5h0M178 978.1h0M183.5 905.1h0M218.7 945.9h0M229.3 958.3h0M201.3 899.7h0M203.4 928h0M245.2 942.6h0M234.7 885.1h0M233.1 945.6h0M160.4 933.4h0M209 969.6h0M215.2 933.7h0M169.5 902.4h0M192.5 908.7h0M202.6 887.7h0M163.1 932.1h0M189.2 972.7h0M255.4 890.2h0M246.7 939.6h0M159.1 939.6h0M244.7 934.3h0M226.4 941.6h0M195.6 905.1h0M201 895.1h0M173.4 953.6h0M206.9 947.8h0M262.5 883.6h0M259.2 935.2h0M185.2 990.4h0" stroke="#ffd5d5"/>
<path d="M264.6 882.6h0M206 936.1h0M252.5 925.6h0M183.6 984.6h0M251.5 926.7h0M190.4 908h0M269.7 948.6h0M244.8 899.3h0M261 953.1h0M217.8 920.9h0M148.1 931.1h0M251.4 875.8h0M188.9 969.5h0M222.2 933.3h0M181 922h0M230.9 883.9h0M244.7 929h0M140.9 928.3h0M222.1 911.3h0M234.9 951.9h0M200.8 920.9h0M162.3 926.7h0M243 936.2h0M144.7 930.6h0M170.5 926.1h0M228.5 914.1h0M210.5 903.5h0M248.5 947.9h0M175.6 977.8h0M220.5 925.1h0M141.8 929.8h0M237.5 959.5h0M219.1 916.9h0M166.1 916.9h0M176.8 973.6h0M229.5 957.8h0M161.6 943.5h0M257.3 939.6h0M204.8 972.4h0M257 929.3h0M249.1 944.3h0M226.2 958.4h0M245.2 887.5h0M174.8 922.7h0M224.5 958.5h0M229.8 944.1h0M203.2 906.9h0M218.3 936.7h0M196.4 912.3h0M209.3 970.6h0M215.6 936.6h0M167.6 926.2h0M215 948.2h0M252.1 939.5h0M241.5 929.3h0M150.6 916.6h0M147.1 938.5h0M250 941.5h0M244.8 943.6h0M247.8 923h0M214.3 934h0M180.2 981h0M199.2 963.3h0M164.7 965.9h0M241.4 935.2h0" stroke="#8282ff"/>
<path d="M162.8 977h0M212.4 928.4h0M239.3 937.5h0M231.5 935.6h0M217 934.5h0M211.3 932.3h0M191.2 966.6h0M172.2 910.7h0M232.9 916.6h0M222 937.9h0M259.3 932.6h0M201 979h0M178.8 973.9h0M194.4 982.5h0M216.6 935.4h0M165.1 972.5h0M211.4 937.3h0M258.6 954.3h0M214.3 917.1h0M222.9 937.6h0M172.6 961.6h0M169 968.4h0M219.2 939.9h0M172.4 977.5h0M218 941.1h0M209.5 924.1h0M235.8 940.3h0M234.3 919.7h0M208 926.7h0M182.1 985.8h0M210.6 909.3h0M178.9 955.1h0M215.3 929h0M215.8 926.7h0M186.9 969.7h0M196 918.8h0M202 884.5h0" stroke="#ff5858"/>
<path d="M217.8 915.8h0M225.8 904.5h0M231.1 918.5h0M214.9 953.7h0M226.9 919.1h0M196.6 903.3h0M213.9 935.2h0M201.5 923.6h0M196.5 978.1h0M210.9 937.6h0M195.2 908h0M242.8 902h0M237.7 958.6h0M198.7 893.6h0M199.5 918.5h0M212.4 909.7h0M226.7 919.9h0M198.4 927h0M208.1 937.5h0M198.6 919h0M189.8 993.4h0M197.4 917h0M238.1 967.6h0M237.6 915.3h0M218.2 920h0M190.6 912.6h0M200.2 922.2h0M210 923.8h0M198.5 923.8h0M205.9 914.5h0M225.6 906.7h0M184.6 979h0M211.6 903.2h0M211.5 951.9h0M208.8 942.6h0M214.2 924.6h0M212.1 928.5h0M220.5 937.4h0M209.1 930.2h0M219.1 934.4h0M234.8 939.5h0M210.3 900.9h0M198.9 908h0M207.3 900.9h0M197 965.1h0M208.8 907.2h0M213.8 932.9h0M208.4 905.4h0M189.8 907.7h0M215.9 917.9h0M219 906.2h0M218.7 905.8h0M209.2 930.7h0M215.3 896.6h0M195.4 921h0M211.7 893.2h0M194.9 917h0M223.3 936.5h0M224.4 933.6h0M196.1 916.2h0M205.4 929.6h0" stroke="#ff0505"/>
<path d="M237.4 953.9h0M223.4 927h0M204.2 947.7h0M199.1 898.7h0M207.7 933.6h0M234.8 918.7h0M228.6 945.7h0M210.4 943.5h0M232.6 960.2h0M215.3 955.8h0M212.7 924.4h0M218.5 938.8h0M229.5 936.8h0M205.2 943.8h0M203.3 911.8h0M199 915.6h0M201.4 919.2h0M201.7 893h0" stroke="#ff0000"/>
<path d="M226.5 923.3h0M210.6 971.7h0M173.4 954.9h0M169.3 973h0M248.2 938.7h0M265.1 885.9h0M259.2 940.9h0M175 903.3h0M257.7 931h0M207.5 972.2h0M145.3 933.2h0M166.4 973.8h0M221.9 928.9h0M235.8 876.3h0M185 977.8h0M202 973.3h0M235.2 884.9h0M183.8 981.8h0M259.9 931.2h0M192.6 906h0M172 916.3h0M220.2 939.4h0M258.9 880.1h0M204.5 973.1h0M166.8 937.8h0M266.2 952.5h0M147.8 933h0M245 887.4h0M246.8 932.7h0M211.4 907.6h0M189.2 986.9h0M184.8 989.7h0M268.4 943h0M245.7 878.2h0M214.1 947.4h0M208.2 948.9h0M242.3 933.8h0M222.2 903.9h0M181.7 902.5h0M192.7 975.2h0M252.7 884.8h0M259.4 878.2h0M179.1 991.2h0M205.5 933.5h0M190.4 964.5h0M180.8 984.4h0M160.8 916.9h0M197 975.2h0M167.5 970.1h0M180.9 905.4h0M231 934.4h0M261.2 938h0M207.8 974h0M236.5 938.3h0" stroke="#ababff"/>
<path d="M148.5 939.5h0M208 947.8h0M273.4 942.4h0M242 890.1h0M215.8 908h0M167.8 967.5h0M267.3 943.8h0M262.5 880.8h0M163.4 910.9h0M185.5 993.7h0M244.2 933.9h0M214.4 910.2h0M202.1 977.7h0M243.6 940.2h0M173.9 896.6h0M175.6 956.1h0M186.3 994.3h0M249.3 904.5h0M255.7 942.8h0M249.7 922.9h0M241.9 884.6h0M158.1 924.9h0M188.9 972.4h0M170.5 975.7h0M188 991.1h0M250.5 934.7h0M236.3 892.3h0M221.4 908.2h0M199.5 966.4h0M225.6 908.7h0M202.5 909.1h0M233.2 917.4h0M186.4 909.2h0M166.7 907.9h0M194.4 966.6h0M176.9 920.8h0M215 900.3h0M181.7 976.8h0M185.8 969.8h0M209.7 937.8h0M189 973.2h0M201 980.1h0M203.7 973.1h0M179.2 923.2h0M257 932.9h0" stroke="#d5d5ff"/>
<path d="M174 925.9h0M177.2 908.9h0M255.5 939h0M255.6 947h0M212.4 940.6h0M170.9 893.1h0M171.7 905.7h0M153.4 926.4h0M207.4 906.2h0M199.2 890.8h0M218.8 926.3h0M161.2 940.1h0M176.4 898.7h0M184.7 964h0M260.6 940.8h0M162.7 905.7h0M233.5 946h0M180.1 977.5h0M260.4 946.7h0M167.4 972h0M200.4 967.8h0M152.7 941.7h0M196 895.5h0M155.4 945.5h0M252.3 888.6h0M235.5 963.6h0M163.4 909.3h0M231.3 884.4h0M258.4 939.7h0M183.2 955.3h0M177.8 903.3h0M264.2 941.5h0M187.6 983.9h0M261 935h0M178.1 969.3h0M256.9 882.8h0M256.6 933.3h0M218.6 909.6h0M197.6 920h0M153.3 942.2h0M151 913.3h0M199.1 886.5h0M188 976.2h0M170.3 909.9h0M242.8 935h0M270.8 947.4h0M204.2 947.8h0M173.2 986.5h0M215.4 936.4h0M240.3 935.6h0M161.7 918.1h0M261 932.6h0M243.4 869.8h0M186.5 911.1h0M220 939.7h0M169.4 906.2h0M155.5 904.9h0M245.8 897.6h0M191.1 978.3h0M157.9 915.1h0M152.6 911.7h0M163 942.4h0M230.2 908.7h0M177 923.4h0M194.4 985.4h0M252.8 882.1h0M252.1 895h0M211.1 949.2h0M155.7 917.8h0M217.2 897h0M191.5 912.1h0M253.4 954h0" stroke="#5858ff"/>
<path d="M201.1 892.3h0M170.5 957.3h0M225.7 949.3h0M198 907.6h0M237.3 956.4h0M221.2 903.1h0M195.5 900.3h0M215.2 894.1h0M166.7 923.4h0M201.1 907.8h0M232.9 939.4h0M238.9 956.8h0M220.6 910.5h0M188.3 966.6h0M202.5 914.8h0M176.7 972.2h0M222.3 915.3h0M193.3 903.4h0M191.6 995.7h0M267.3 950.5h0M198.8 979.3h0M211.7 907.7h0M204.2 946.9h0M219.6 933h0M232 936.3h0M215.4 906h0M218 920.4h0M229.6 961.3h0M216.2 935h0M218.3 940.5h0M171.8 907.6h0M209.8 942h0M215.3 898.9h0M210.1 938.6h0M203.6 895.7h0M187.1 976.9h0M260.2 959.4h0M213.4 916.9h0M231.2 964h0M204.8 916.5h0M261.9 947.6h0M209.2 974.5h0" stroke="#ff8282"/>
<path d="M146.6 926.1h0M251.3 885.4h0M140.1 929.7h0M169.8 929.9h0M178.3 910.7h0M151.7 915.2h0M256.2 900.2h0M187.7 967.7h0M149.6 940.4h0M251 886.9h0M147.5 931.2h0M185.1 921h0M147.9 925.9h0M259.9 945h0M175.8 921.5h0M216.5 935h0M160.3 907.7h0M157.4 943.4h0M169.6 898.7h0M244.6 868.8h0M174.4 928.9h0M161.5 912h0M167.1 900.3h0M233.2 940.6h0M256.1 929.9h0M165.5 940.4h0M144 930h0M166.2 913.7h0M150.5 934.8h0M254.7 946.2h0M237.3 877.3h0M252.8 903.1h0M164.2 938.9h0M176.8 914.8h0M257.9 896.5h0M138.9 923h0M142.2 928.4h0M162.2 931.9h0M186.5 993.7h0M176.8 908.7h0M182.4 906.6h0M159.9 915.5h0M236.6 878.4h0M184.2 914.1h0M170.7 921.1h0M165 915.7h0M172.1 915h0M192.9 966.3h0M153.6 916.4h0M201.9 921.2h0M189.5 913.4h0M167.1 904h0M190.7 998.2h0M257.1 902.6h0M195.3 991.8h0M261.7 936.6h0M247.7 903.6h0M157.3 933.5h0M147.6 936.6h0M244.1 895.3h0M180.9 913h0M149.5 923.5h0M256.4 952h0M249.7 908.1h0M175.3 959.7h0M161.7 900.6h0M264.2 952.1h0M172.2 929.1h0M148.9 938.5h0" stroke="#2e2eff"/>
<path d="M140.1 932.2h0M166.9 928.4h0M175.6 897h0M161.7 928.9h0M156.6 903.6h0M169.9 904.8h0M240.6 890.8h0M158 912.9h0M167.9 933.7h0M250.6 883.7h0M244.6 883.7h0M153.9 927.3h0M173.5 913.1h0M149.8 932.7h0M165.7 902.5h0M176.7 920.4h0" stroke="#0000ff"/>
<path d="M203.2 973.2h0M238.3 955.6h0M209.9 894.7h0M218.9 918.2h0M217.1 940.9h0M222.6 957.5h0M208.2 927.7h0M201.8 976.8h0M202 929.3h0M233.4 916.3h0M207.5 905.8h0M226.9 916.8h0M199.1 923.5h0M208.7 945h0M197.8 911.3h0M219.9 905.3h0M214 944.7h0M207.5 933.2h0M155.8 917.5h0M213 935.6h0M206.9 938.7h0M202.6 897.8h0M192 915.5h0M211.2 896.3h0M211.7 951.9h0M230.9 920.1h0M224.6 942.3h0M216.3 924.2h0M206.3 910.7h0M219.5 907.4h0M186.8 967.8h0M211.8 927.9h0M262.2 936.9h0M216.7 944.9h0M211.4 941.2h0M241.5 868.4h0M217.1 934h0M196.1 898.8h0M227.9 914.8h0M207.7 937.4h0M207.1 938.2h0M199 965.2h0M197.2 910.8h0M221.9 955h0M201.3 917.4h0M207.7 911.5h0M207 921.8h0M149.3 911.5h0M208.4 936.8h0M221.7 914.5h0M216.2 909.3h0M223.9 928.3h0M204.2 920.5h0M204.4 934.3h0M194.5 981.3h0M204.5 891.9h0M208.6 936.3h0M214.5 916.2h0M167.7 974.3h0M195.7 904.1h0M225.4 932.5h0M193.7 914.9h0M238.2 961.3h0M192.3 981.6h0M230.4 955.9h0M210.5 939.6h0M222 916.4h0M228.9 912.3h0M231.6 941.9h0M208 924.8h0M202 898h0M218.6 927.9h0M205 972.9h0M206.1 910h0M200.1 884.7h0M218.8 939.7h0M174.6 911h0M156.4 943.7h0M209.6 924.4h0M204 890.5h0M222.8 942.2h0M246.8 868.2h0" stroke="#ff2e2e"/>
<path d="M208.2 936.5h0M171.6 929.4h0M201.1 910.1h0M214.5 937.9h0M215.7 922.1h0M250.1 899.4h0M207.5 904.1h0M214.6 944h0M229.3 942h0M232.4 921.1h0M223.1 908.1h0M222.2 905.7h0M206.7 920.9h0M211.9 925.1h0M208.2 892.9h0M196.1 910.5h0M205.4 925.4h0M216.8 937.4h0M201 904.8h0M226 948.4h0M213.6 911.2h0M219.1 918.5h0M247.1 907.5h0M206.4 914.9h0M205.3 932.9h0M211 895.2h0M215.3 928h0M215 913.7h0M213.6 940.1h0M217 930.4h0M230.7 920.5h0M212.9 936.9h0M201.7 901.2h0M208.2 899.6h0M175.7 950.2h0M214.4 900.2h0M201.3 929.4h0M175.9 987.5h0M214 932.1h0M186.3 970.3h0M214.4 916.7h0M199.5 909.8h0M204.9 905.1h0M222.1 936.9h0M208.5 930.6h0M214.7 945.5h0M221.8 934.8h0M214.6 905.9h0M199.7 927.3h0M170.4 978.6h0M188.3 911.5h0M230.8 939.7h0M227.8 907.8h0M214.5 954.2h0M220.6 940.7h0M154.7 917.9h0M222.1 903.4h0M209.3 898.3h0" stroke="#ff0505"/>
<path d="M267.5 947.9h0M206.3 937.6h0M209.5 908h0M188.3 975h0M172.1 968.9h0M207.3 919.7h0M186.5 970.6h0M155.3 921.9h0M240.5 888.1h0M174 930.7h0M201.9 980.9h0M196.3 978.3h0M258.1 931.8h0M207.1 947.7h0M199.4 924.3h0M221.1 924.7h0M222.3 934.8h0M170.3 896.5h0M215.7 900.7h0M240.3 881.7h0M167.1 968.7h0M163.4 975.5h0M205.8 888.6h0M193.3 976.5h0M243.1 891.3h0M201.3 925.9h0M185.6 995.6h0M259.9 890h0M178.1 983.6h0M174.3 971.3h0M246.9 938.7h0M232 957.5h0M169.3 935.7h0M204.9 896.8h0M222.5 918.9h0M200.8 883.6h0M180.5 901.5h0M239.9 882.4h0M242.5 941.4h0M193.7 974.9h0M212.1 918.5h0M173.6 959.9h0M191.4 904.4h0M256.6 942.2h0M209 913.7h0M235.5 914.3h0M246.8 923h0M181.4 966.1h0M217.4 908.3h0" stroke="#ffd5d5"/>
<path d="M177.1 982.4h0M159 907.3h0M208.3 973h0M239.1 956.5h0M254.3 954h0M184.7 971.6h0M230.7 883.5h0M183.1 959.9h0M195.2 990.6h0M217.1 930.6h0M194.8 988.5h0M184.5 965.9h0M246.2 886.4h0M211.4 972.4h0M260.7 948.1h0M246 940.9h0M224.6 918h0M198.1 909.3h0M169.1 938.9h0M182.7 973.4h0M175.1 950.2h0M258.9 947.1h0M202 976h0M260.9 889.1h0M202.3 898h0M170.5 917.8h0M178 904.1h0M209.2 969.5h0M145.7 930.1h0M182.3 919.6h0M254.9 874.3h0M235.8 958.8h0M260 891.7h0M197.9 965.4h0M195.4 978.2h0M181.4 959.1h0M181 969.8h0M187.9 983.8h0M250.6 937.6h0M218.9 909.8h0M175.8 976.1h0M255.6 934.7h0M206.3 950h0M235.1 888.5h0M243.2 883.4h0M244.4 902.4h0M240.1 876.1h0M196.8 915.1h0M175.1 901.1h0M176.2 982.3h0M173.2 984h0M181.4 957.8h0M239.3 951.1h0M266.5 938.6h0M247.9 880.7h0M261.2 941.2h0M150.1 917.8h0M221.5 934.5h0M257.6 938.7h0M176.7 978.5h0M189.4 965h0M192.1 916.9h0" stroke="#d5d5ff"/>
<path d="M175 975.8h0M227.1 931.7h0M166.9 970.8h0M189.6 914.8h0M223.8 951h0M218.4 937.2h0M231.1 922h0M209.4 925.9h0M203.4 920.7h0M198.8 972.2h0M207.8 930.8h0M225.7 923h0M172.9 928.5h0M216 936.8h0M228.8 928h0M259.5 929.3h0M203 939.4h0M211.5 905.8h0M234 934.6h0M230.8 947.4h0M165.8 893.7h0M225.6 959.6h0M211.7 901.9h0M240 941.9h0M219 923.3h0M178.3 901.6h0M201.4 902.3h0" stroke="#ffabab"/>
<path d="M196.2 919.5h0M222.2 925.9h0M222 958.2h0M218.3 938.8h0M168.4 975.8h0M196.5 900.3h0M206.8 931.3h0M204.1 895.6h0M210.8 907.7h0M207.6 945.3h0M232.7 959h0M198.2 925.3h0M197.9 897.6h0M212 917.4h0M238.5 947.5h0M225 928.3h0M216.9 946.6h0M222.3 931.6h0M194.5 895.9h0M211.7 938.4h0" stroke="#ff0000"/>
<path d="M178.8 969.5h0M214 921.2h0M269.6 941.9h0M212.3 933.8h0M251 938.4h0M249.8 939.8h0M252.9 899h0M148.6 930.5h0M255.9 930.7h0M180.9 901.6h0M247.9 936.8h0M155.3 920h0M248.5 894.6h0M182.1 909h0M240.7 885.2h0M222.7 919.5h0M268.3 948.6h0M209.5 923.7h0M172 935.6h0M243.6 890.3h0M259 937.9h0M245.1 886.7h0M170.6 980.5h0M187.7 965.4h0M243.1 890.3h0M248.7 923.4h0M189.3 966.5h0M185.9 913.6h0M241.7 877.2h0M210.5 933.8h0M260.3 879h0M260.3 949.9h0M250.2 937.5h0M246 931.1h0M244.5 937h0M259.4 929.2h0M241.3 870.9h0M263 955.7h0M202.7 973.6h0M270.9 942.5h0M248 869h0M228 955.8h0M256.2 883.9h0M206.2 911.8h0M247.1 945.7h0M186.3 985.5h0M258.8 954.2h0M209 950.9h0M250.6 926h0M191.1 958.6h0M206.7 977.2h0M250 898h0M200.8 972.7h0M176.4 928.4h0M259.9 891.4h0M245.1 872.7h0M226.9 955.2h0M201.5 918.5h0M202.3 947.7h0M238.8 872.3h0M177.9 917.7h0M167.3 972.9h0M262.6 889.9h0M172.5 973.1h0M242.9 939.1h0M267.1 942.1h0M194.2 976.7h0M162.1 917.8h0M215.5 908.1h0M168.9 927.1h0M236.4 877.6h0M265.3 935.9h0" stroke="#8282ff"/>
<path d="M186.6 913h0M265.2 939.9h0M224.6 939.7h0M255.2 936.7h0M249.8 894.5h0M246 904.2h0M207.3 918.3h0M242.1 878.8h0M266.2 937.4h0M170 972h0M174.6 960.2h0M210 917.2h0M258.5 956.1h0M189.2 963.8h0M196.3 919.1h0M205.3 968.7h0M172.6 911.9h0M168.9 983.4h0M221.3 918.3h0M254.5 926.5h0M155.9 906.7h0M203.3 982.5h0M264.9 879h0M248.5 900.9h0M194.9 919.3h0M245.7 937.6h0M244.6 896.1h0M195.4 993.5h0M199.4 987.7h0M261.1 877.6h0M207.1 969.2h0M230.4 962h0M171.7 916.7h0M177.8 985.6h0M229.6 906.2h0M171.4 972h0M267.4 945.5h0M250.4 949.2h0M169.3 891.2h0M217.9 934.9h0M174.5 952.9h0M254 936.6h0M238.1 877.4h0M196.7 893.8h0M250 908.6h0M233.9 888.9h0" stroke="#ababff"/>
<path d="M228.1 925.8h0M212.7 924.6h0M197.5 903.1h0M220.9 936.9h0M231.1 942.1h0M206.2 930.5h0M250.6 928.3h0M195.7 913.5h0M208.4 939.4h0M210.1 901.3h0M227.3 912h0M192.6 917.7h0M202.3 941.3h0M205.5 899.9h0M221.3 916h0M185.2 987.2h0M181 962.2h0M207.1 933h0M226.5 909.9h0M199.9 986h0M200.1 977.7h0M199.5 920.2h0M181.3 987.9h0M206.5 933.4h0M207.6 930.2h0M170.3 903.5h0M216.8 945.3h0M202.6 948.2h0M211.6 927.4h0M251.7 931.4h0M224.6 937.4h0M215.2 935.6h0M205.4 934.5h0M211.7 928.9h0M231.4 948.9h0M180.1 957.9h0M223.4 914.3h0M205.2 897.3h0M172.9 902.8h0M244 931h0M226.7 949.8h0M225.8 954.8h0M234.5 962.8h0M249.5 874.1h0M206.8 936.7h0M238.5 894.4h0M179.6 951.4h0M221.8 947.4h0M188.6 986h0M211.4 924.9h0M210.8 924.1h0M226.3 902.5h0" stroke="#ff5858"/>
<path d="M224.2 950.6h0M251.8 910.8h0M180 910.2h0M254.8 896h0M188 976.7h0M251.9 882h0M177 925.5h0M240.7 897.2h0M258.2 947.8h0M251.6 933.1h0M165.5 932.1h0M251 879.8h0M183.7 988.1h0M236.5 936.1h0M189.6 958.6h0M248.2 946.5h0M230.1 952.9h0M156.9 924.8h0M247.5 938.8h0M257.2 928.1h0M167.5 895.5h0M253.1 937.3h0M202.2 979h0M212.1 925.7h0M263.9 942.4h0M160.4 972.3h0M249.9 906.8h0M186.2 973h0M214.2 894.3h0M163.5 970.4h0M190 970.2h0M249 908.8h0M173.6 962.7h0M208.2 921.4h0M164.6 912.4h0M179.9 967.1h0M194.5 921.5h0M251.8 948.9h0M246.1 891.6h0M266.7 949.5h0M202.3 974.3h0M178.8 986h0M197.5 896.9h0M235.2 883.9h0M239.4 873.5h0M169.9 927.3h0M228.6 924.2h0M192.5 989h0M225.3 933h0M251 943h0M186.5 966.2h0M243.6 885.5h0M179.6 919.9h0M250.5 940.9h0M208.4 907.6h0M263.4 940h0M240.6 935.2h0M241.4 869.2h0M248 921.2h0M183.3 909.7h0M204.3 928.8h0M198.7 978.3h0M214.5 894.9h0M175.5 973.2h0M226.7 943.1h0M210.6 941h0M177.3 950h0M205.5 936.9h0M260 885.9h0M189 977.6h0M265.2 935.3h0M143.7 934.6h0M218 917.4h0M183.6 958.9h0M174.7 926.6h0M165.6 915.8h0M151.3 939.9h0M173.5 927.6h0M266.1 944h0M197.7 963.8h0M203.6 978.2h0M198.7 888.8h0M179.5 975h0M177.5 973h0M175.9 968.6h0M238.4 966.6h0M231.4 919.8h0M220.1 932.2h0M242.6 929.3h0M143.1 930.8h0" stroke="#ffffff"/>
<path d="M227.4 951.9h0M190.5 914.7h0M163.1 918.3h0M232.2 916.2h0M222 925.3h0M219.9 942.3h0M196.2 992.9h0M144.1 923.4h0M218.3 937.5h0M248.9 881.6h0M155.6 915.8h0M171.2 977.6h0M238.1 884.3h0M149.8 939.1h0M210.6 905.8h0M160 940h0M228.9 911.7h0M170.3 980.8h0M171.2 974.7h0M157.7 929.9h0M145.4 916.9h0M243.4 928h0M249.1 891.2h0M185.6 964.7h0M173.8 896.5h0M157.2 943h0M233.8 882.1h0M153.3 910.9h0M266.8 885h0M174.7 984h0M168.7 916.9h0M180.8 984.5h0M157.8 913.6h0M258.7 895.9h0M206.4 928.1h0M265.5 948.3h0M169.8 934.4h0M198.1 892.2h0M167.5 969.3h0M244.9 897.8h0M203.6 923.9h0M172 932.3h0M217.8 940.6h0M247.6 898.2h0M169.3 963.7h0M158.1 917.5h0M266.9 938.4h0M256.8 937.8h0M145.6 936.1h0M252.5 950.3h0M208.8 938.7h0M174.5 977.2h0M254.9 887.2h0M212.6 912.4h0M162.1 924.2h0M254.6 874.5h0M154.2 929.4h0M172 917h0M186.3 957.6h0M166.3 938.6h0M232.8 913.8h0M256.8 931h0M260.6 937.5h0M244.9 878.6h0M265.7 951.9h0M238.1 939h0M172.2 898.2h0M209.1 913.8h0M264.8 944.3h0M157.6 931.6h0M155.9 913.5h0M219.6 941.5h0" stroke="#5858ff"/>
<path d="M164 898.2h0M257.2 948h0M171.2 928.4h0M249.8 911.6h0M170 897h0M177.5 915.5h0M269 949.3h0M157.2 911.8h0M249.9 934.1h0M248.2 885.6h0M145.2 924.6h0M178.8 909.3h0M188.7 913.3h0M173 896h0M142.7 921.3h0M249.7 886.1h0M245.3 873.9h0M161.6 928.1h0M250.3 871h0M160.4 913h0M234.9 881.1h0M166.3 896.1h0M189.3 983.8h0M248.9 890.2h0M242.8 939.4h0M242.3 941.6h0M171.8 974.7h0M251.6 871.7h0M251.5 907h0M160.6 941.6h0M235.2 879.7h0M152.3 931.8h0M172.6 910.6h0M259 885.6h0M165.2 912.7h0M178.4 906.1h0M256.5 899.7h0M242.5 888.1h0M157.4 902.8h0M251.3 887.8h0M187.3 915.6h0M259.3 955.7h0M260 935.4h0M167.6 905h0M140.2 921.9h0M168.1 929.9h0M151 926h0M155.6 926.9h0M155.8 925.4h0M165.8 895.5h0M242.8 886.9h0M238.4 889.5h0M150.5 912.2h0M151.4 927h0M175.5 907.9h0M155.4 910.5h0M171.5 903.4h0M259.2 894.2h0M165.8 901.6h0M236.9 877.3h0M246.8 887.6h0M180.1 905.7h0M176.4 967.4h0" stroke="#0505ff"/>
<path d="M219.9 940.9h0M167.1 962.4h0M218.8 935.3h0M223 950.3h0M213.7 913.6h0M147.5 935h0M208.5 891.3h0M230.4 917.8h0M173.7 966.5h0M212.2 906.1h0M200.8 915.3h0M211.2 947.5h0M223 948h0M217.5 927h0M231.1 952.7h0M228.1 922h0M217.4 944.5h0M200.8 922h0M175.4 967.3h0M172.4 928.6h0M201.5 923.5h0M211.2 938.7h0M235.8 913.4h0M205.2 906.2h0M167.2 905.8h0M208.7 908.5h0M232.5 935.8h0M198.9 896.7h0M206.9 894h0M197.4 913.6h0M205 929.7h0M209.1 945.2h0M207.9 924.7h0M201.7 919.2h0M198.4 906.9h0M218.9 951.8h0M227.7 906.3h0M189.5 983.9h0M215.4 926.4h0M175.3 913.4h0M231.8 920.4h0M177 925.9h0M221.2 940h0M193.7 917.8h0M178.6 910.2h0M202.9 914h0M223.9 932h0M210.8 941.3h0M191.9 910.5h0M193.6 915.7h0M178.3 961.9h0M222.1 912.7h0M213.7 894.9h0M227.6 923.6h0M200.5 918.8h0M208.5 903.5h0M212.7 926.6h0M236 950h0M227 943.9h0M217.7 935.3h0M163.3 973.8h0M193.9 911.9h0M212.3 940.7h0M212.3 925.3h0M235.1 913.6h0M230.3 905.7h0M206.3 924.7h0M213.2 954.7h0M212.8 938.4h0M196.5 911.3h0" stroke="#ff2e2e"/>
<path d="M241.4 885.5h0M207.4 913.8h0M174.4 963.8h0M185.8 974.7h0M217.6 942.7h0M165.5 932.5h0M161.1 927h0M249.1 926.6h0M229.3 958.2h0M202.2 977.2h0M208.7 903h0M217.3 897.6h0M230.9 914.8h0M221.5 906.4h0M205.3 901.2h0M212.6 914.7h0M226.6 957.8h0M249.7 944.6h0M219.5 935.8h0M233.1 943.1h0M196.4 919.3h0M200.2 915.3h0M226.3 922h0M228.3 960h0" stroke="#ffabab"/>
<path d="M182.7 918.7h0M163.5 939.6h0M175.8 901.3h0M167.2 893.1h0M173.8 924h0M144 934.3h0M263.3 891.3h0M165.6 917.2h0M157.9 908.2h0M150.7 939.3h0M250 907.1h0M166.2 895.4h0M181.3 922.5h0M165.1 900.8h0M151.6 935.9h0M189.4 914.2h0M136.1 927.8h0M164.2 916h0M250.2 934.2h0M252.1 874.7h0M247.9 886.3h0M151.3 916.2h0M156.4 942.6h0M166.9 904.7h0M167.2 934.6h0M151.7 936.8h0M172.4 902.5h0M143.7 934.1h0M160.2 948.9h0M176.5 924.1h0M254.1 873.9h0" stroke="#0000ff"/>
<path d="M150.4 937.3h0M182.3 920.7h0M246 880.3h0M169.9 919.8h0M168.8 901.6h0M168.4 896.8h0M183 971.5h0M174.9 966h0M172 908.1h0M268.9 881.9h0M188.8 916.3h0M259.8 882.7h0M242.1 900.4h0M180.5 923h0M166.6 905.7h0M186.8 909.6h0M171.1 924.8h0M171.3 914.9h0M166.8 919h0M239.6 884h0M162.3 938.6h0M147.1 918.9h0M147.4 933.6h0M173.5 918.3h0M186.6 909.6h0M181.6 913.6h0M173.3 907.3h0M210.5 942.2h0M259 885.2h0M154.5 906.9h0M158.6 926.2h0M153.2 922.8h0M175.2 920.2h0M247.1 939.8h0M153.6 907.2h0M185.8 907.9h0M161.3 915.4h0M149.7 934.4h0M170 913.3h0M154 929.6h0M177.4 922.9h0M194.5 966.3h0M250.6 896.2h0M153.3 926.6h0M165.1 909.3h0M257.6 879.7h0M191.4 978h0M237.5 882.2h0M162 898.1h0M143.6 924.6h0M175.4 906.4h0M247.9 892h0M139.8 922.7h0M248.4 897.5h0M149 936.4h0M166.6 902.6h0M158.3 938.9h0M258.9 887h0M240.2 878.2h0M166.5 911.3h0M191.7 959.4h0M242.5 881.9h0M155.4 940.9h0" stroke="#0505ff"/>
<path d="M211.5 949.4h0M218 943.2h0M219 898.9h0M197.8 889.2h0M227.4 943.7h0M200.6 890.8h0M215.8 904.9h0M187.3 968h0M224.4 903.8h0M199.9 892.3h0M214.8 930.2h0M212 937.5h0M183.7 968.3h0M217.4 930.4h0M235.8 947.1h0M206.7 907h0M206.5 896.1h0M214.7 909.7h0M212.1 942.5h0M235.8 950.6h0M217.7 917.5h0M216.4 943.7h0M238.4 948.1h0M221.8 936.8h0M212.5 916.4h0M213.9 915.1h0M192.5 995.1h0M225.7 932.7h0M219.4 950.5h0M221.3 950.9h0M211.9 933.9h0M201.4 947.5h0M201.9 906.1h0M217.8 944.6h0M237.5 951.8h0M217.6 942.8h0M211 900.2h0M237.1 939.3h0M205.7 890.5h0M213.4 914.9h0M221.6 902.4h0M205.7 915.7h0M217.3 920.4h0M238.8 950.1h0M230.9 962.6h0M236.1 916.8h0M208.6 936.5h0M212.7 929.1h0M216.4 930.9h0M213.1 910.2h0M210.3 931.1h0M211.9 939.6h0M227.9 936.2h0M213.8 929.8h0M150.3 935h0M249.4 881.1h0M215.3 933.5h0M212.8 931h0M266.7 885h0M215.3 895.3h0M212 926.9h0M194.5 896.8h0M226.5 903.5h0M218.5 898.9h0M213.9 925.5h0M217.9 927.7h0M216.5 933.4h0M229.8 914.9h0M200.8 919.1h0M188.9 908.5h0M217.9 946.8h0M233.5 952.1h0M201.1 920.4h0M175.3 967.9h0" stroke="#ff0505"/>
<path d="M238.9 938.2h0M154 923.3h0M175.4 981h0M169.5 968.9h0M179.5 967h0M154.2 939.6h0M205.6 935.7h0M217.2 898h0M240.4 941.1h0M263.1 944.2h0M238 881.8h0M231.3 932.5h0M242.5 934.6h0M250.4 905.5h0M236.1 935h0M255.5 927.5h0M229.3 912.5h0M258.8 932.3h0M244 942.8h0M248.6 923h0M233 882.3h0M185.2 972.8h0M198.7 964.4h0M225.5 913.7h0M256.1 881.1h0M187.6 912.3h0M169.3 960.5h0M196.8 968.8h0M181.5 990.3h0M261 959h0M207.3 970.9h0M212.1 953.4h0M157.6 914.5h0M265.2 944.7h0M235 963.1h0M168.8 932.4h0M258.1 943.9h0M184.1 963.7h0M214.2 939.4h0M242 884h0M199 984.2h0" stroke="#ababff"/>
<path d="M181.1 973.7h0M170.9 900.4h0M198 912.8h0M179.4 906.1h0M195.8 963h0M203.9 910.3h0M250.4 905.9h0M206.4 978.3h0M253.8 951.2h0M196.7 978.3h0M224.1 957.4h0M268.5 944.7h0M253.2 878.6h0M203.7 899.8h0M218.9 928h0M238.7 888.2h0M188.9 982.7h0M194.9 979.9h0M250.1 885.1h0M252.3 941.3h0M269.8 945h0M173.6 977.8h0M255.1 934.9h0M208 921.7h0M223.4 934.7h0M206.9 911.8h0M237.9 873.5h0M247.6 927.5h0M195.1 989.3h0M259 881.9h0M219.4 956.7h0M174.2 977.8h0M160.5 920.9h0M196.9 963.5h0M192.9 965.4h0M202.2 979.1h0M217 927.7h0M236 885.1h0M180.6 919.9h0M160.8 974.5h0M192.1 986.6h0M249.1 934.3h0M210.3 894.8h0M255.6 942h0M253.2 935.4h0M150.8 912.5h0M165.4 970.6h0M220.5 929.6h0M179.5 967.5h0M244.8 944.5h0M156 909.2h0M238.1 890.5h0M176.4 968.1h0M248.8 886.4h0M173.8 955.2h0M154.9 928h0M252.7 907.6h0M205.7 975.2h0M205.2 898.7h0M230.4 926h0M171.5 973.6h0M202.1 941.3h0M243.4 934.8h0M253.1 940.1h0M237.2 882.9h0M259.9 897.9h0M154.1 923.4h0M268.9 939.6h0M267 952.4h0M203.7 976.4h0M221.3 900.5h0M249.8 903.6h0M170.1 918.2h0M174.8 909h0M208.8 936.3h0M244.3 887.2h0M259 935.9h0M192.3 994.9h0M196.1 987.2h0M265.3 887h0M240 932.8h0M155.7 905.2h0M216.3 934.7h0M191.7 998.5h0" stroke="#ffffff"/>
<path d="M261.5 937.1h0M232.5 933.2h0M200.8 903h0M177 983.8h0M212.1 921.4h0M221 935.1h0M193.2 915.6h0M211.8 907.6h0M201.2 977.8h0M205.9 916h0M260.6 933.8h0M207.3 907.8h0M257.5 949.7h0M207.8 893.8h0M215.8 953.4h0M233.8 915.3h0M215.8 944.6h0M241.4 891.4h0M192.2 915.3h0M231 945.4h0M176.7 966h0M222.1 922.2h0M200.9 924.3h0M198.4 923.1h0M222.8 930.3h0M200.3 916.5h0M252.9 942.2h0M212.5 941.2h0M263.8 945.2h0M220.1 916h0M267.8 942.5h0M200.5 918.2h0M259.7 898h0M254.2 931.9h0" stroke="#ff8282"/>
<path d="M200 884h0M212.9 952.9h0M212.9 927.7h0M213.8 929.8h0M216 954h0M214.3 942.6h0M216.3 921.5h0M209.2 936.4h0M209.2 920.1h0M220.9 937.1h0M218 899.8h0M219.7 932.3h0M212.7 935.7h0M225.5 956h0M225.3 927.4h0M199 896.1h0M237.5 935.2h0M221.6 931.1h0M206.5 910.7h0M200.1 903.9h0M202.7 897.6h0M209.3 931.4h0M238.4 913.4h0M201.3 897h0M225.7 913.7h0" stroke="#ff0000"/>
<path d="M233.8 887h0M204.9 968.3h0M236 886.3h0M197.3 895.2h0M222.6 940.3h0M240.1 877.5h0M209.7 899.7h0M229.8 924.7h0M201.2 944.8h0M177.8 916h0M178.1 967h0M259.3 957.7h0M154.2 912h0M201.9 967.7h0M189.7 978.2h0M202.2 898.2h0M179.7 954.5h0M263 951.1h0M181.7 960.3h0M196.8 992.2h0M198.1 888.8h0M233.1 965.7h0M204.4 935.4h0M170.7 965h0M178.9 953h0M181.6 914.2h0M202.4 966.5h0M263.5 934.4h0M256.6 941.5h0M171.7 898.9h0M252.8 929.3h0M184.7 965.4h0M214.7 939.6h0M167.9 909.2h0M238 875.7h0M148 931.9h0M247.4 938.5h0M262.8 889.2h0M164.4 977.2h0" stroke="#ffd5d5"/>
<path d="M180.7 916h0M155.3 908.3h0M165.4 968h0M172.7 920.5h0M258.9 948.6h0M260.2 952.4h0M178.3 953.3h0M201.2 920.9h0M232.8 914.1h0M240.7 891.1h0M176 917.3h0M179.2 901.6h0M245.6 904.9h0M178.1 925.1h0M245.3 901.4h0M227.3 930.3h0M186.9 989.3h0M194.4 907.3h0M178.3 912.6h0M270 940.4h0M197.3 905.1h0M227.5 910h0M255.3 936.7h0M217.8 944.7h0M247.5 881.4h0M176.6 919.9h0M214.4 923h0M214.1 922.3h0M252 924.9h0M263.9 878.5h0M168 897.2h0M204.3 914h0M220.4 934h0M167.4 901.1h0M160.9 925.4h0M207.3 912.3h0M249.2 942.6h0M229.8 961.3h0M176 968h0M204.6 893.6h0M170.2 927.1h0M223.5 959.9h0M271.6 946.4h0M248.5 887.1h0M182 909.3h0M252.4 904.7h0M168.8 900.1h0M200.8 892h0M257.8 955.6h0M155 917.6h0M247.2 900.7h0M260.6 948h0M255.1 886.6h0M249.9 885.6h0M206.1 937.5h0M208.7 941.3h0M258.2 947.9h0M211.9 929.3h0M215.8 912.8h0M170.6 978.2h0M155.1 914h0M175.8 928.1h0M182.5 973.7h0M262.3 949.5h0M166.2 896.9h0M152.4 936.3h0" stroke="#8282ff"/>
<path d="M240.8 895.8h0M250.1 948.9h0M172.6 899h0M220 932.2h0M243.1 899.7h0M243.6 895.8h0M249.6 886.1h0M141.9 924h0M206.8 902.6h0M197.9 913.4h0M173.7 968.2h0M217.4 928.7h0M256.2 875.4h0M206.5 896.3h0M252.2 883.2h0M244.5 930.4h0M245.3 946.1h0M247.1 900.8h0M229.5 943.4h0M238.3 936.8h0M221.7 921.7h0M178.3 955.2h0M238 890.1h0M148.3 922.9h0M234.6 914.2h0M209.4 936.3h0M162.3 940.9h0M209 970.3h0M162.2 915.3h0M263.2 947.5h0M234.8 940.4h0M257.5 945h0M254.2 905.4h0M207 919.7h0M184.7 916.2h0M137.1 929.2h0M151.1 923.3h0M177.9 955.3h0M149 919h0M198.6 893.7h0M166.9 971.4h0M240.6 930.4h0M203.7 968h0M179.4 916.9h0M197 909.1h0M246.9 900.6h0M253.6 942.7h0M239.5 883.3h0M179 990.7h0M199.8 906.8h0M251.4 942.9h0M247.5 926.6h0M267.1 946.6h0M184 984.6h0M187 912.9h0M219.1 930.5h0M162.7 917.1h0M164.8 905.9h0M180.9 922.1h0M242.2 880.1h0M163.7 922.5h0M239.2 940.9h0M245.6 932.4h0M174.5 927.6h0M269.6 943.2h0M255.6 882.1h0M164.8 912.8h0M245.2 897.3h0M244.6 893.8h0M169 895.2h0M264.8 953.3h0M212 925.6h0M182.5 913.9h0M227.4 956.5h0M261.1 885.5h0M144.3 928.3h0M140.7 930.5h0M248.6 936h0M193.5 906.1h0M203.9 976.4h0M207.5 919.8h0" stroke="#5858ff"/>
<path d="M157.6 914h0M159.2 940.7h0M232.2 883.1h0M245.8 888.9h0M172.9 922.8h0M166.4 899.1h0M165 906.4h0M249.5 869.8h0M144.7 928.3h0M187 993.6h0M152.7 928.5h0M183.3 970.6h0M183.4 993.1h0M254.5 927.4h0M173.3 920h0M178.8 906.7h0M159 946.7h0M183.2 913.4h0M247.8 895.1h0M183.7 960.3h0M212.6 903.8h0M160.5 916.4h0M157.9 945h0M168.8 906.1h0M174.9 970.1h0M260.5 947.2h0M242.6 867.8h0M198.2 985.4h0M249.2 944h0M233.7 887.4h0M153 917.8h0M168.4 901h0M158.6 928.3h0M238.6 934.3h0M255.7 877.1h0M253 876.2h0M168.9 916.7h0M160.6 925.7h0M165.2 904.7h0M255.5 885.9h0M208.7 898.2h0M180 985.2h0M180.6 978.2h0M177 953.2h0M244.6 888.4h0M244.6 897.8h0M261.9 949.3h0M253.4 936.8h0M179.3 960.8h0M172.5 935.2h0M182.5 919h0M165 933h0M177.6 924.7h0M155.5 928h0M166.1 938.7h0M245.4 872.7h0M173.8 913.7h0M201.8 980.8h0M196.9 977.1h0M251.7 930.9h0M248.8 926.6h0M159.8 937.9h0M154.1 907.1h0" stroke="#2e2eff"/>
<path d="M202.5 920.5h0M204 904.1h0M215.6 909.1h0M246.6 899.9h0M223.4 932.1h0M260.4 876.1h0M176.8 924.5h0M215.8 911.3h0M152.6 919.9h0M149.9 939.9h0M215.1 919.2h0M209 895.2h0M158.5 917.5h0M210.9 931.1h0M181.8 969.2h0M218.2 925.1h0M237 892.1h0M214 903.9h0M226.8 912.3h0M200.9 976.3h0M236.3 951.2h0M171.1 927.3h0M206.3 900.7h0M257.4 888.2h0M216.7 896.1h0M207.9 931.1h0M174.9 910.1h0M175.9 963.6h0M211.8 904.2h0M178.1 952.9h0M216.7 940.5h0M199.3 988h0M185.3 976.7h0M147.6 935.9h0M250.1 898.5h0M166.1 933.2h0M191.5 971.1h0M244.5 897.7h0M214.5 940.7h0M244.5 877.3h0M204 931h0M174.1 921h0M195.4 980.9h0M209.2 970.5h0M204.4 898.9h0M243.3 878.1h0M232.8 920h0M184.7 972.2h0M163.7 926.3h0M185.2 973h0M209.6 938.7h0M220 923.2h0M221.8 933.1h0M205 935.8h0M185.4 984.4h0" stroke="#ff5858"/>
<path d="M149.3 927.5h0M150.8 930.2h0M205.6 970.2h0M262 950h0M262.8 884.6h0M171 963.8h0M257.7 955.3h0M250.1 926.1h0M256.9 932.7h0M256.7 895.1h0M197.9 969.7h0M206.7 972.8h0M245.2 940.2h0M248.2 930.8h0M236.7 913h0M181 963h0M174.4 978.1h0M219.3 946.1h0M252.9 924.1h0M163.6 973.6h0M183.6 987.4h0M234.6 940.9h0M162.2 973.6h0M258.2 885.4h0M222 955.6h0M256.1 880h0M268.4 949.6h0M181.8 992.4h0M215.5 902h0M190 908.1h0M237.9 947.1h0M195.8 900.3h0M258.4 928.2h0M195.2 915.7h0M228.7 916.2h0M167.5 931.3h0M253.9 931.3h0M151.3 930.8h0M254.4 889.9h0M237.6 884.3h0M245.4 888h0M184.9 988.5h0M154.3 944.3h0M196.3 897.7h0M204 975.6h0M184.8 918.2h0M160.4 907.3h0M196.9 988.8h0M244.3 940.5h0M220.6 926.4h0M206.6 970.8h0M198 964.5h0M187.1 911.8h0M196.7 988.1h0M202.7 898h0M200.4 899.3h0M267.2 941.7h0M251.8 898.6h0M239.6 941.1h0M262.2 954.6h0M208.5 908.1h0M250.8 947.8h0M147.8 934.1h0M188 917.1h0M172.3 906h0M257.5 955.2h0M168.3 924.5h0M229 938.4h0M169.3 974.6h0M192.6 985.1h0" stroke="#d5d5ff"/>
</g>
<rect x="354.2" y="783.6" width="19.2" height="250.8" fill="url(#gCB)" stroke="#1c1c1c" stroke-width="1.9"/>
<text x="388.6" y="806.6" font-size="31.2" fill="#1a1a1a">5</text>
<text x="388.6" y="858.5" font-size="31.2" fill="#1a1a1a">4</text>
<text x="388.6" y="910.3" font-size="31.2" fill="#1a1a1a">3</text>
<text x="388.6" y="962" font-size="31.2" fill="#1a1a1a">2</text>
<text x="388.6" y="1012.2" font-size="31.2" fill="#1a1a1a">1</text>
<path d="M373.4 794.2h-3.8M373.4 846.1h-3.8M373.4 897.9h-3.8M373.4 949.6h-3.8M373.4 999.8h-3.8" stroke="#1c1c1c" stroke-width="1.6"/>
<text transform="translate(436 909.5) rotate(-90)" font-size="32.2" text-anchor="middle" fill="#1a1a1a">ΔF/F<tspan font-size="25.5" dy="14.5">0</tspan><tspan dy="-14.5"> [%]</tspan></text>
<path d="M41 984.5V1077.6H135.2" fill="none" stroke="#000" stroke-width="5.4"/>
<text x="89.8" y="1065.2" font-size="26.4" fill="#111" text-anchor="middle">1 mm</text>
<text x="21.8" y="1001.5" font-size="27" fill="#111" text-anchor="middle" transform="rotate(-90 21.8 1001.5)">M</text>
<text x="21.8" y="1070.5" font-size="27" fill="#111" text-anchor="middle" transform="rotate(-90 21.8 1070.5)">L</text>
<text x="55" y="1115.6" font-size="27" fill="#111" text-anchor="middle">A</text>
<text x="124.6" y="1115.6" font-size="27" fill="#111" text-anchor="middle">P</text>
<text x="471.2" y="726" font-size="44" fill="#000">E</text>
<g clip-path="url(#cpE)">
<path d="M573.1 968.5 L585.1 960.2 L595.5 957.3 L608 952.3 L620.4 944 L630.8 933.2 L641.2 917.8 L653.7 894.1 L666.2 861.3 L678.7 827.6 L689 799.3 L699.4 779.8 L711.1 765.6 L722.3 769.8 L734.8 787.3 L747.2 809.7 L757.6 835.1 L770.1 859.6 L780.5 870.8 L791.7 891.6 L791.7 928.2 L780.5 909.1 L770.1 899.5 L757.6 878.3 L747.2 857.9 L734.8 838.8 L722.3 823 L711.1 817.2 L699.4 825.5 L689 839.2 L678.7 860.8 L666.2 889.5 L653.7 919 L641.2 941.1 L630.8 954.8 L620.4 964.8 L608 973.1 L595.5 978.1 L585.1 981.8 L573.1 991.8Z" fill="#d4457f" opacity="0.33"/>
<path d="M573.1 998 L583.9 1003.9 L595.5 976.4 L607.1 1013.4 L618.4 1000.5 L630.8 972.3 L642.1 966.9 L653.7 922 L666.2 872.1 L677.8 833 L689 798.1 L699.4 779.8 L711.1 819.7 L722.3 850.4 L733.9 854.6 L746 922 L757.6 981 L769.3 987.2 L780.5 972.7 L791.7 981.8 L791.7 1001.8 L780.5 992.6 L769.3 1008.8 L757.6 1000.9 L746 936.9 L733.9 871.2 L722.3 868.7 L711.1 839.6 L699.4 803.1 L689 819.7 L677.8 851.3 L666.2 887 L653.7 936.9 L642.1 985.1 L630.8 990.6 L618.4 1018.8 L607.1 1028.4 L595.5 988.1 L583.9 1025.5 L573.1 1023Z" fill="#f0906a" opacity="0.3"/>
<path d="M573.1 980.2 L585.1 971 L595.5 967.7 L608 962.7 L620.4 954.4 L630.8 944 L641.2 929.4 L653.7 906.6 L666.2 875.4 L678.7 844.2 L689 819.3 L699.4 802.6 L711.1 791.4 L722.3 796.4 L734.8 813 L747.2 833.8 L757.6 856.7 L770.1 879.6 L780.5 889.9 L791.7 909.9" fill="none" stroke="#dc1f42" stroke-width="4.4" stroke-linejoin="round"/>
<path d="M573.1 1010.5 L583.9 1014.7 L595.5 982.2 L607.1 1020.9 L618.4 1009.7 L630.8 981.4 L642.1 976 L653.7 929.4 L666.2 879.6 L677.8 842.1 L689 808.9 L699.4 791.4 L711.1 829.7 L722.3 859.6 L733.9 862.9 L746 929.4 L757.6 991 L769.3 998 L780.5 982.7 L791.7 991.8" fill="none" stroke="#f27b4e" stroke-width="4.0" stroke-linejoin="round"/>
</g>
<path d="M573.1 752.8V1063.8H793" fill="none" stroke="#111" stroke-width="2.1"/>
<text x="566.5" y="802.6" font-size="31.2" fill="#1a1a1a" text-anchor="end">100</text>
<text x="566.5" y="880.8" font-size="31.2" fill="#1a1a1a" text-anchor="end">80</text>
<text x="566.5" y="959" font-size="31.2" fill="#1a1a1a" text-anchor="end">60</text>
<text x="566.5" y="1037.2" font-size="31.2" fill="#1a1a1a" text-anchor="end">40</text>
<text x="613.4" y="1103.2" font-size="31.2" fill="#1a1a1a" text-anchor="middle">1.5</text>
<text x="691.4" y="1103.2" font-size="31.2" fill="#1a1a1a" text-anchor="middle">1.9</text>
<text x="769.4" y="1103.2" font-size="31.2" fill="#1a1a1a" text-anchor="middle">2.3</text>
<path d="M573.1 791.4h4.5M573.1 869.6h4.5M573.1 947.8h4.5M573.1 1026h4.5M613.4 1063.8v-4.5M691.4 1063.8v-4.5M769.4 1063.8v-4.5" stroke="#111" stroke-width="1.7"/>
<text x="683" y="1144.5" font-size="34.3" fill="#1a1a1a" text-anchor="middle">A-P (mm)</text>
<text transform="translate(505 908.5) rotate(-90)" font-size="34.3" text-anchor="middle" fill="#1a1a1a">Max Norm. OR [%]</text>
<text x="582" y="779" font-size="26.2" fill="#dc1f42">WF</text>
<text x="582" y="805" font-size="26.2" fill="#f27b4e">2P</text>
<text x="817.2" y="726" font-size="44" fill="#000">F</text>
<path d="M917.6 973H1106.3" stroke="#aaa" stroke-width="1.3"/>
<path d="M955 775.6C955 780.4 954.9 796.4 954.8 804.7C954.6 813 954.6 818.5 954.2 825.5C953.8 832.4 953.2 839.3 952.5 846.3C951.8 853.2 951 860.1 950 867C949.1 874 947.7 881.6 946.7 887.8C945.7 894 944.7 899.6 944.2 904.4C943.7 909.3 943.7 912.8 943.8 916.9C943.9 921.1 944.3 924.5 945.1 929.4C945.8 934.2 947.3 940.5 948.4 946C949.5 951.5 950.8 957.1 951.7 962.6C952.6 968.2 953.3 973.7 953.8 979.3C954.3 984.8 954.4 990.3 954.6 995.9C954.8 1001.4 955 1009.7 955 1012.5C955.1 1015.3 955 1015.3 955 1012.5C955.1 1009.7 955.2 1001.4 955.4 995.9C955.7 990.3 955.8 984.8 956.3 979.3C956.8 973.7 957.5 968.2 958.4 962.6C959.3 957.1 960.6 951.5 961.7 946C962.8 940.5 964.2 934.2 965 929.4C965.8 924.5 966.1 921.1 966.3 916.9C966.4 912.8 966.3 909.3 965.8 904.4C965.4 899.6 964.3 894 963.3 887.8C962.4 881.6 961 874 960 867C959 860.1 958.2 853.2 957.5 846.3C956.8 839.3 956.2 832.4 955.9 825.5C955.5 818.5 955.4 813 955.3 804.7C955.1 796.4 955.1 780.4 955 775.6C955 770.7 955.1 770.7 955 775.6Z" fill="#c83c3c" opacity="0.9"/>
<path d="M943.9 913.2H966.1" stroke="#000" stroke-width="1.5"/>
<path d="M992.4 821.3C992.4 828.2 992.3 851.8 992.1 862.9C992 874 992 879.5 991.6 887.8C991.2 896.1 990.8 905.8 989.9 912.8C989.1 919.7 987.9 924.5 986.6 929.4C985.4 934.2 983.4 938 982.5 941.8C981.5 945.7 980.7 948.8 980.8 952.2C980.9 955.7 982.2 959.5 983.3 962.6C984.4 965.7 986.3 968.2 987.4 970.9C988.6 973.7 989.6 976.5 990.4 979.3C991.1 982 991.5 984.8 991.8 987.6C992.2 990.3 992.3 994.5 992.4 995.9C992.5 997.3 992.3 997.3 992.4 995.9C992.5 994.5 992.7 990.3 993.1 987.6C993.4 984.8 993.8 982 994.5 979.3C995.2 976.5 996.2 973.7 997.4 970.9C998.6 968.2 1000.5 965.7 1001.6 962.6C1002.7 959.5 1003.9 955.7 1004.1 952.2C1004.2 948.8 1003.4 945.7 1002.4 941.8C1001.4 938 999.5 934.2 998.3 929.4C997 924.5 995.8 919.7 994.9 912.8C994.1 905.8 993.6 896.1 993.3 887.8C992.9 879.5 992.9 874 992.7 862.9C992.6 851.8 992.5 828.2 992.4 821.3C992.4 814.4 992.5 814.4 992.4 821.3Z" fill="#ff3c3c" opacity="0.9"/>
<path d="M980.9 951.8H1004" stroke="#000" stroke-width="1.5"/>
<path d="M1030.3 854.6C1030 858.7 1029.6 871.9 1029 879.5C1028.5 887.1 1028 893.4 1026.9 900.3C1025.9 907.2 1024 914.8 1022.8 921.1C1021.6 927.3 1020.5 932.8 1019.9 937.7C1019.2 942.5 1019 946 1019 950.2C1019.1 954.3 1019.4 957.8 1020.3 962.6C1021.2 967.5 1023.2 973.7 1024.4 979.3C1025.7 984.8 1026.9 990.3 1027.8 995.9C1028.6 1001.4 1029.1 1005.6 1029.4 1012.5C1029.8 1019.4 1029.8 1029.1 1030 1037.4C1030.1 1045.8 1030.2 1058.2 1030.3 1062.4C1030.3 1066.5 1030.2 1066.5 1030.3 1062.4C1030.3 1058.2 1030.4 1045.8 1030.5 1037.4C1030.7 1029.1 1030.7 1019.4 1031.1 1012.5C1031.5 1005.6 1031.9 1001.4 1032.8 995.9C1033.6 990.3 1034.8 984.8 1036.1 979.3C1037.3 973.7 1039.3 967.5 1040.2 962.6C1041.1 957.8 1041.4 954.3 1041.5 950.2C1041.5 946 1041.3 942.5 1040.6 937.7C1040 932.8 1038.9 927.3 1037.7 921.1C1036.6 914.8 1034.6 907.2 1033.6 900.3C1032.5 893.4 1032.1 887.1 1031.5 879.5C1031 871.9 1030.5 858.7 1030.3 854.6C1030 850.4 1030.5 850.4 1030.3 854.6Z" fill="#3c3cf5" opacity="0.9"/>
<path d="M1019.2 951.4H1041.4" stroke="#000" stroke-width="1.5"/>
<path d="M1067.7 804.7C1067.6 810.2 1067.5 829.6 1067.4 837.9C1067.2 846.3 1067.2 846.3 1066.8 854.6C1066.5 862.9 1065.9 878.1 1065.2 887.8C1064.4 897.5 1063.4 905.8 1062.3 912.8C1061.2 919.7 1059.6 924.2 1058.5 929.4C1057.5 934.6 1056 939.4 1056 943.9C1056 948.4 1057.4 952.6 1058.5 956.4C1059.6 960.2 1061.4 963 1062.7 966.8C1063.9 970.6 1065.2 975.4 1066 979.3C1066.8 983.1 1067.4 987.9 1067.7 989.6C1067.9 991.4 1067.4 991.4 1067.7 989.6C1067.9 987.9 1068.5 983.1 1069.3 979.3C1070.2 975.4 1071.4 970.6 1072.7 966.8C1073.9 963 1075.7 960.2 1076.8 956.4C1077.9 952.6 1079.3 948.4 1079.3 943.9C1079.3 939.4 1077.8 934.6 1076.8 929.4C1075.8 924.2 1074.2 919.7 1073.1 912.8C1072 905.8 1070.9 897.5 1070.2 887.8C1069.4 878.1 1068.9 862.9 1068.5 854.6C1068.1 846.3 1068.1 846.3 1068 837.9C1067.8 829.6 1067.7 810.2 1067.7 804.7C1067.6 799.1 1067.7 799.1 1067.7 804.7Z" fill="#4a3cff" opacity="0.9"/>
<path d="M1056.5 941H1078.8" stroke="#000" stroke-width="1.5"/>
<path d="M917.6 752.7V1064H1106.3" fill="none" stroke="#111" stroke-width="2.1"/>
<text x="902.4" y="801.5" font-size="30.6" fill="#1a1a1a" text-anchor="end">10</text>
<text x="902.4" y="894" font-size="30.6" fill="#1a1a1a" text-anchor="end">5</text>
<text x="902.4" y="985.9" font-size="30.6" fill="#1a1a1a" text-anchor="end">0</text>
<text x="902.4" y="1078.4" font-size="30.6" fill="#1a1a1a" text-anchor="end">-5</text>
<text transform="translate(842 909) rotate(-90)" font-size="34.3" text-anchor="middle" fill="#1a1a1a">ΔF/F<tspan font-size="27.5" dy="17">0</tspan><tspan dy="-17"> [%]</tspan></text>
<path d="M955 770.2H992.4" stroke="#000" stroke-width="2.5"/>
<text x="973.7" y="776.8" font-size="29.5" fill="#000" text-anchor="middle" stroke="#000" stroke-width="0.5">***</text>
<path d="M1030.3 770.2H1067.7" stroke="#000" stroke-width="2.5"/>
<text x="1049" y="776.8" font-size="29.5" fill="#000" text-anchor="middle" stroke="#000" stroke-width="0.5">***</text>
<path d="M955 788.9H1030.3" stroke="#000" stroke-width="2.5"/>
<text x="992.6" y="795.5" font-size="29.5" fill="#000" text-anchor="middle" stroke="#000" stroke-width="0.5">***</text>
<path d="M992.4 806.8H1067.7" stroke="#000" stroke-width="2.5"/>
<text x="1030" y="813.4" font-size="29.5" fill="#000" text-anchor="middle" stroke="#000" stroke-width="0.5">***</text>
<text x="973.9" y="746.6" font-size="31.2" fill="#ff1a1a" text-anchor="middle" font-weight="bold">ORR</text>
<text x="1049.6" y="746.6" font-size="31.2" fill="#1a1aff" text-anchor="middle" font-weight="bold">PR</text>
<text x="1106" y="1037.5" font-size="17.2" fill="#2a1aff" text-anchor="end">n=626</text>
<text x="1106" y="1054.5" font-size="17.2" fill="#ff2a2a" text-anchor="end">n=2054</text>
<text transform="translate(977.4 1101.6) rotate(-45)" font-size="31.5" text-anchor="end" fill="#1a1a1a">OR</text>
<text transform="translate(1014.8 1101.6) rotate(-45)" font-size="31.5" text-anchor="end" fill="#1a1a1a">SR</text>
<text transform="translate(1052.7 1101.6) rotate(-45)" font-size="31.5" text-anchor="end" fill="#1a1a1a">OR</text>
<text transform="translate(1090.1 1101.6) rotate(-45)" font-size="31.5" text-anchor="end" fill="#1a1a1a">SR</text>
<text x="1131.2" y="726" font-size="44" fill="#000">G</text>
<path d="M1230.9 1027.4H1387.6" stroke="#c8c8c8" stroke-width="1.2"/>
<rect x="1276.8" y="777.2" width="28.4" height="240.2" fill="#ee9a2a" stroke="#111" stroke-width="2.3"/>
<rect x="1276.8" y="1017.4" width="28.4" height="10" fill="#9a9a9a" stroke="#111" stroke-width="2.3"/>
<rect x="1313" y="777.2" width="28" height="67.6" fill="#ee9a2a" stroke="#111" stroke-width="2.3"/>
<rect x="1313" y="844.8" width="28" height="177.6" fill="#9a9a9a" stroke="#111" stroke-width="2.3"/>
<rect x="1313" y="1022.4" width="28" height="5" fill="#3cf020" stroke="#111" stroke-width="2.3"/>
<path d="M1230.9 752.7V1064H1387.6" fill="none" stroke="#111" stroke-width="2.2"/>
<text x="1225.3" y="787.4" font-size="25.9" fill="#1a1a1a" text-anchor="end">100</text>
<text x="1225.3" y="837.4" font-size="25.9" fill="#1a1a1a" text-anchor="end">80</text>
<text x="1225.3" y="887.5" font-size="25.9" fill="#1a1a1a" text-anchor="end">60</text>
<text x="1225.3" y="937.5" font-size="25.9" fill="#1a1a1a" text-anchor="end">40</text>
<text x="1225.3" y="987.6" font-size="25.9" fill="#1a1a1a" text-anchor="end">20</text>
<text x="1225.3" y="1037.6" font-size="25.9" fill="#1a1a1a" text-anchor="end">0</text>
<path d="M1230.9 777.2h4M1230.9 827.2h4M1230.9 877.3h4M1230.9 927.3h4M1230.9 977.4h4M1230.9 1027.4h4M1291.2 1064v-4M1326.5 1064v-4" stroke="#111" stroke-width="1.7"/>
<text transform="translate(1169.8 908) rotate(-90)" font-size="29.3" text-anchor="middle" fill="#1a1a1a">Fraction of Cells [%]</text>
<text x="1273" y="765" font-size="37" fill="#ee9a2a" text-anchor="middle" stroke="#ee9a2a" stroke-width="0.5">+</text>
<text transform="translate(1308.7 751.9) scale(1.02 0.6)" x="0" y="13.5" font-size="40" font-weight="bold" text-anchor="middle" fill="#9a9a9a" stroke="#9a9a9a" stroke-width="0.9">=</text>
<text transform="translate(1344.6 752) scale(1 0.55)" x="0" y="14.4" font-size="58" text-anchor="middle" fill="#3cf020">-</text>
<text x="1362.2" y="818.5" font-size="17.4" fill="#ee9a2a" text-anchor="middle" font-weight="bold">27%</text>
<text x="1255" y="904.6" font-size="17.4" fill="#ee9a2a" text-anchor="middle" font-weight="bold">96%</text>
<text x="1362.2" y="941" font-size="17.4" fill="#9a9a9a" text-anchor="middle" font-weight="bold">71%</text>
<text x="1255" y="1030.2" font-size="17.4" fill="#9a9a9a" text-anchor="middle" font-weight="bold">4%</text>
<text x="1362.2" y="1031.6" font-size="17.4" fill="#3cf020" text-anchor="middle" font-weight="bold">2%</text>
<text x="1280.4" y="1052" font-size="15.5" fill="#ff2a2a" text-anchor="middle">N=2054</text>
<text x="1333.6" y="1052" font-size="15.5" fill="#2a1aff" text-anchor="middle">N=626</text>
<text transform="translate(1312 1086.6) rotate(-45)" font-size="28.3" text-anchor="end" fill="#ff1a1a">ORR</text>
<text transform="translate(1348.5 1086.8) rotate(-45)" font-size="29" text-anchor="end" fill="#1a1aff">PR</text>
<text x="1414.2" y="726" font-size="44" fill="#000">H</text>
<path d="M1569.1 752.7V1064M1533 973.0H1679.7" stroke="#c4c4c4" stroke-width="1.3"/>
<path d="M1533.3 1008.5L1679.7 863.4" stroke="#888" stroke-width="1.3"/>
<g stroke-linecap="round" fill="none" stroke-width="4.1">
<path d="M1608.3 937.1h0M1582.5 988h0M1615.2 950.2h0M1596.1 957.4h0M1628.5 965.2h0M1594 967h0M1623.1 1002.6h0M1589.3 974.6h0M1668 948.6h0M1601.3 963.1h0M1617 972.7h0M1657.3 972.5h0M1603.2 976.9h0M1631.7 968.8h0M1595.1 983.7h0M1626.7 945.2h0M1573.7 966.7h0M1603.6 980.1h0M1629.6 960.5h0M1616 974.3h0M1614 947.1h0M1614.8 948.2h0M1660.4 948.8h0M1610.1 990.4h0M1635.1 968.9h0M1605.1 950.4h0M1592.2 985.7h0M1604.3 976.1h0M1612.7 953.3h0M1579.7 995.8h0M1637.4 953.2h0M1613.6 927.8h0M1594 973.8h0M1599.8 979.1h0M1631.8 966.4h0M1624.8 954.3h0M1593.5 982.7h0M1579.4 984.3h0M1640.2 956.8h0M1614.7 946h0M1625.9 951.7h0M1620.9 950.3h0M1584 955.9h0M1647.8 964.7h0M1617.4 971.2h0M1594 979.7h0M1581.6 968.1h0M1595.7 990h0M1598.1 970.2h0M1589.7 953.5h0M1579.9 992.1h0M1599.5 969.7h0M1631.9 932.4h0M1639 969.4h0M1597.4 979.9h0M1583.6 964.9h0M1595.5 958.8h0M1603 943.2h0M1659.1 956.2h0M1615.8 958.4h0M1656.9 937.6h0M1635.1 970.2h0M1573.6 972.6h0M1641.6 946.4h0M1613.6 952.1h0M1630.9 934.4h0M1650.9 956.2h0M1614 949.1h0M1609.2 973.8h0M1617.1 929.2h0M1574.6 983.4h0M1632.5 956.6h0M1611.2 935.8h0M1606.6 961.3h0M1647.5 955.6h0M1603.8 917.9h0M1619.1 922.2h0M1576.6 971.7h0M1583.4 966.4h0M1639.1 934h0M1628 966.3h0M1595.8 959.1h0M1588.7 972.5h0M1614.4 980.9h0M1577.1 969h0M1616.7 962.8h0M1614.9 963.1h0M1604.9 964.6h0M1643.7 950.6h0M1579.4 976.4h0M1600.2 975h0M1607.9 974.3h0M1603.6 961.4h0M1598.4 961.3h0M1631.8 920.3h0M1591.8 968.2h0M1635.4 923.2h0M1631.6 937.2h0M1575.6 973.7h0M1609.7 956.9h0M1609.7 967.9h0M1605.3 937.9h0M1601.1 959.2h0M1592.7 974.9h0M1635 946.4h0M1598.6 969.3h0M1587.5 983.9h0M1640.1 967.7h0M1621.2 967.2h0M1602.1 954.1h0M1636.2 948h0M1619 951.4h0M1588.8 953.4h0M1625.8 916.5h0M1643.9 937.7h0M1620.2 969.4h0M1590.8 989.5h0M1612.7 955h0M1588.5 982.4h0M1584 962.7h0M1623 959.2h0M1609.7 961.6h0M1670.1 982.8h0M1617.9 970h0M1586.7 981.3h0M1626.6 957.9h0M1597.9 964h0M1584.1 959.6h0M1608.7 939.7h0M1608.5 982.1h0M1636.4 930.3h0M1627.1 917.8h0M1603.7 976.2h0M1601.8 959.2h0M1666.5 991.2h0M1629.8 1023h0M1651.8 1008.5h0M1661 958.4h0" stroke="#2c2cf0" opacity="0.5"/>
<path d="M1613.2 966.3h0M1582.2 964.3h0M1631.2 970.7h0M1580.7 982.7h0M1594.8 953.1h0M1598.9 951.1h0M1611 941.8h0M1623.3 949.6h0M1592 948.3h0M1635.7 948.2h0M1637.9 935.1h0M1602.8 970.5h0M1623.1 964.6h0M1621 975.7h0M1611.9 941.9h0M1662.4 951.7h0M1594.9 972h0M1585.2 992.6h0M1641.3 970.6h0M1651.3 912.7h0M1591.5 968.2h0M1612.8 932.5h0M1611.7 933.6h0M1598 944.2h0M1613.5 948.1h0M1626.9 942h0M1663.4 953.1h0M1574.8 981.8h0M1617.5 948.1h0M1598.7 950.9h0M1588.8 962.3h0M1638.1 973.5h0M1645.8 941.5h0M1573.6 981.9h0M1615.6 977.5h0M1593.9 947.4h0M1622.6 961.6h0M1622.7 942.5h0M1603.3 954.9h0M1641.4 913.9h0M1615.1 949.4h0M1653.8 898.6h0M1601 985.9h0M1579.6 983.5h0M1584.4 986.2h0M1617.2 933.9h0M1611.1 967h0M1600.9 965.2h0M1593.3 972.6h0M1613.9 967h0M1586.2 966.4h0M1616.1 976.1h0M1661.9 907.9h0M1586.3 951.5h0M1588.6 988.7h0M1591.2 965.9h0M1617.2 972.6h0M1614 926.7h0M1587.1 968.5h0M1667.2 941.8h0M1616.7 934.6h0M1574 971.6h0M1624.9 971.5h0M1585.9 969.3h0M1603 995h0M1575 979.6h0M1617.2 966.4h0M1589.9 972.1h0M1618.5 959h0M1597.4 963.1h0M1609.6 976.4h0M1609.8 978.6h0M1604.8 991.2h0M1598.3 965.6h0M1584.8 965.9h0M1631.7 934h0M1582.8 944.4h0M1610 969.4h0M1636.5 974.6h0M1588.7 979h0M1615.2 929.7h0M1617.2 939.1h0M1630.6 967.6h0M1607.3 933.6h0M1612.1 981.8h0M1592.6 962.4h0M1593.7 964.5h0M1608.5 950.9h0M1592.9 934.7h0M1621.8 992h0M1617.3 951.3h0M1590.3 996.6h0M1601.2 973.9h0M1581.6 978h0M1590.4 965.3h0M1626.7 941.8h0M1612.2 945.2h0M1605.8 947.4h0M1601.4 963.9h0M1600.2 954.3h0M1620.2 950.9h0M1602.7 994.3h0M1586.6 957.3h0M1626 974h0M1625.6 964.2h0M1583.1 962.9h0M1593.7 954.2h0M1619.2 962.4h0M1635.1 965.4h0M1660.2 951h0M1588.3 971.7h0M1626.1 950.3h0M1605.2 963.1h0M1597.5 950.6h0M1651.2 984h0M1630.4 940.3h0M1588.5 969.6h0M1598.3 946.1h0M1627.3 961.8h0M1635.5 962.2h0M1626.3 954h0M1644.5 954.9h0M1616 950.1h0M1660.1 945.9h0M1600.1 953.6h0M1642.4 960.7h0M1636.4 924.7h0M1624.1 932.3h0M1637.9 957.8h0M1623.1 932.7h0M1601.4 961h0M1601.2 970.5h0M1609.1 982h0M1668.4 892h0M1667.4 992.1h0M1642.6 1017.6h0M1659.2 1012.1h0" stroke="#2c2cf0" opacity="0.5"/>
<path d="M1589 985.2h0M1630 958.2h0M1597.9 960.1h0M1654 932.6h0M1603.7 963.8h0M1620.9 950.7h0M1586.9 955h0M1638 947.7h0M1588.4 970.5h0M1627.5 955.4h0M1634.7 961.3h0M1624 994.5h0M1592.1 987.9h0M1587.9 994.3h0M1638.8 963.9h0M1610.2 968.9h0M1636.8 976.7h0M1602.3 989.4h0M1590.9 985.2h0M1599.3 951.6h0M1596.2 975.1h0M1576.2 983.6h0M1605.2 947.6h0M1625.1 929.8h0M1607 934h0M1615.3 985.8h0M1594.1 949.5h0M1613 996.3h0M1619.4 949.5h0M1613.9 958.6h0M1589.7 981.1h0M1626.6 972.6h0M1636.3 949.5h0M1592.2 981.7h0M1637.5 947h0M1602.3 954.1h0M1612.1 937.2h0M1595.9 974.7h0M1580.8 983.1h0M1623.4 959h0M1607.5 972.2h0M1643.7 950.8h0M1634.7 975.6h0M1606.1 937.5h0M1590.9 984.5h0M1601.8 952.6h0M1581.5 967.2h0M1638.9 943.5h0M1603.8 943.7h0M1619.2 975.9h0M1629.3 946.6h0M1638.7 982.7h0M1628.1 985.6h0M1602.2 952.3h0M1608.8 952.4h0M1591.7 986.7h0M1617.1 984.1h0M1610 958.5h0M1594.1 988.2h0M1594.8 967.2h0M1597.2 963.3h0M1639 971.3h0M1631.9 942.3h0M1633.6 943.4h0M1605 982.9h0M1656.7 956.4h0M1639.6 950.9h0M1593.1 965.9h0M1596 958h0M1644.4 980.2h0M1619.3 958.4h0M1648.9 970.5h0M1619 979h0M1643.2 992.6h0M1592.7 950.2h0M1605.8 951.7h0M1621.2 943.2h0M1627 948.7h0M1607.7 954.3h0M1602 988.7h0M1595.8 951.9h0M1647.2 944.7h0M1614 938.8h0M1656.2 945.5h0M1607.4 954.9h0M1597.8 953.7h0M1635.7 950h0M1596.7 966.4h0M1604.3 961.1h0M1609.2 946.1h0M1609.6 943.5h0M1580.7 973h0M1650.7 945.3h0M1585.6 963.6h0M1603.1 977.9h0M1662.8 955.1h0M1610.3 939.6h0M1620.9 983.9h0M1612.1 952.5h0M1619 961.2h0M1625.5 981.5h0M1577.4 980.4h0M1616.7 925.4h0M1640.1 934.8h0M1618.8 962.4h0M1583.9 958.7h0M1640.1 969.9h0M1584.8 968.7h0M1643.1 946.2h0M1625.1 934.2h0M1611.4 958.2h0M1580 965.6h0M1617.4 951h0M1663.3 946.9h0M1583 987.6h0M1601.4 968.3h0M1586.1 963.9h0M1604.7 961.8h0M1624.9 964.6h0M1602.9 976.1h0M1622.1 943.9h0M1592.3 988.1h0M1628.5 937.7h0M1652 918.8h0M1588.8 969.6h0M1574.5 982.3h0M1585 972h0M1666.7 923h0M1620.5 943.2h0M1579.9 966.9h0M1641.5 974.3h0M1623.6 926.7h0M1630.3 939h0M1662.8 912.9h0M1664.7 1024h0M1648.1 1019.4h0M1662.8 971.2h0" stroke="#2c2cf0" opacity="0.5"/>
<path d="M1595 893.1h0M1600.9 908.3h0M1587.8 921.8h0M1590.9 858.5h0M1592.7 955.1h0M1590 859.8h0M1576.8 875.9h0M1578 946.9h0M1603.5 952.7h0M1580.1 906.5h0M1578.8 923.3h0M1582.1 933.1h0M1588.4 943.4h0M1595.2 951.2h0M1590 903.9h0M1586.3 902.8h0M1571.7 951.9h0M1599.6 901h0M1586.2 880h0M1576.3 931.2h0M1584.4 966.3h0M1585.1 899.4h0M1575.4 877.9h0M1595.3 913.5h0M1578.6 965.3h0M1611.7 898.3h0M1598.4 946.2h0M1582.6 905.3h0M1588.8 938.3h0M1602 874.8h0M1569.9 911.8h0M1606 937.7h0M1577.7 954.5h0M1567.1 952.3h0M1591.9 898.7h0M1594.1 865.5h0M1587.2 895.9h0M1601.2 958.5h0M1595.3 906.1h0M1598.6 870.8h0M1596.6 928.7h0M1594.1 928.8h0M1576.5 939.2h0M1580.2 921.6h0M1618.9 858.4h0M1621.6 842h0M1586.1 902.9h0M1569.7 903.4h0M1619.9 937.8h0M1587.1 942.2h0M1593.1 941.5h0M1600.7 911.8h0M1593.9 925h0M1579.1 923.3h0M1565.5 902.4h0M1605.6 932.6h0M1586.4 934h0M1581.4 827.5h0M1595.9 916.7h0M1613.5 857.7h0M1591.1 935.5h0M1580.3 882.3h0M1600.7 926.9h0M1591.5 969.9h0M1569.8 869.8h0M1580.3 934.2h0M1586 926.2h0M1574.9 905.1h0M1607.6 904h0M1583.9 959.1h0M1596.1 877.9h0M1585.1 901.9h0M1591.4 854.4h0M1587.6 939.5h0M1583.1 920.4h0M1574.4 963.8h0M1581.7 869.2h0M1583.9 915.8h0M1596.3 923.6h0M1586.2 947.3h0M1597.6 865.2h0M1589.8 898.7h0M1578.9 948.2h0M1593.2 921.9h0M1592.5 934.6h0M1601.3 935.9h0M1583.1 874.9h0M1582.6 911.4h0M1601.8 911.7h0M1639.1 858h0M1612 936.1h0M1589.9 874.5h0M1589 966.9h0M1623 864.7h0M1575.1 895.5h0M1612.1 930.8h0M1606 917.9h0M1599 905.5h0M1615.4 918.4h0M1602.2 913.3h0M1607.3 843.2h0M1565.5 966.4h0M1588.9 974.4h0M1579.8 820h0M1603.5 891.2h0M1591.2 921.1h0M1595.6 922.6h0M1588.7 911.8h0M1585.7 921h0M1588.7 927.5h0M1579 942h0M1589.7 927.9h0M1601.3 905.8h0M1574.2 935.2h0M1587.4 901.8h0M1593.2 911.7h0M1587 931.7h0M1595.5 933.1h0M1583.1 916.3h0M1620.6 928.3h0M1581 973.1h0M1574.8 883.7h0M1577.1 962.6h0M1579.7 942h0M1574 943h0M1598.4 931.8h0M1623.8 893.2h0M1584.7 884.7h0M1579.6 930.8h0M1583.5 916.9h0M1588.7 861.7h0M1587.8 941.1h0M1623.7 837.2h0M1586.4 955.3h0M1588 926.3h0M1601.5 927.5h0M1591.4 922h0M1573 887.9h0M1585.8 970.6h0M1580.9 916.8h0M1589.3 920.1h0M1583 907.2h0M1609.6 936h0M1575.9 932.1h0M1584.5 861h0M1591.8 933.1h0M1590.6 907.1h0M1601.7 842.1h0M1604.3 874.1h0M1620.9 876.6h0M1581.8 873.7h0M1573 911.8h0M1607.6 871.6h0M1628 951h0M1596.9 917.3h0M1589.1 906.8h0M1609.4 903.9h0M1592.1 850.7h0M1581.8 923h0M1587.3 941.6h0M1573.7 861.3h0M1581.1 922.6h0M1603.3 914h0M1605.2 932.6h0M1595 908.9h0M1591.3 872.9h0M1599.8 891.3h0M1563.7 944.9h0M1586.8 922.8h0M1597.1 869.2h0M1573.8 936.3h0M1577.1 938.6h0M1576 932.4h0M1583.8 898.2h0M1592.4 912.2h0M1580.2 889.3h0M1593.2 918.8h0M1579 961.8h0M1587.6 924.4h0M1589.7 899.4h0M1612 945h0M1609 898.1h0M1587.1 935.2h0M1607.8 909.1h0M1568.5 908.2h0M1602.8 904.2h0M1597.8 939.5h0M1586.9 921.3h0M1588.3 907.1h0M1577.4 926.3h0M1571.6 952h0M1601.9 899.5h0M1588.8 928.6h0M1598.6 886h0M1586.3 948.1h0M1596.9 910h0M1578.7 918.2h0M1585.1 967.3h0M1596.3 865.8h0M1613.2 897.9h0M1583.8 941.1h0M1582.8 898.2h0M1582.5 961.6h0M1575.9 944.2h0M1605.4 897.8h0M1615 902.1h0M1584.4 967.9h0M1590.5 915.9h0M1589.7 918.4h0M1586.6 945.6h0M1581.7 860.8h0M1564.7 933.6h0M1575.2 879.5h0M1600.6 886.1h0M1606.5 856h0M1578.8 875.3h0M1582.4 901.8h0M1595 941.3h0M1576.4 916h0M1611.8 931.1h0M1599.4 943.7h0M1598.8 940.5h0M1590.3 919.6h0M1596 934.8h0M1584.6 885h0M1579 949.6h0M1588.1 912.7h0M1614.3 922.4h0M1595.5 916.8h0M1567.6 909.3h0M1597.9 873.7h0M1598.5 844.8h0M1580.9 907.6h0M1587.7 918.9h0M1595.8 910.8h0M1588.4 891.5h0M1604.1 892.5h0M1595 964.6h0M1582.9 876.8h0M1577.8 952.4h0M1574.7 850.7h0M1577.5 935.8h0M1597.4 939.9h0M1583.5 913.5h0M1616.1 863.7h0M1573.9 891.6h0M1609.8 932.9h0M1614.8 899.8h0M1587.9 906.7h0M1575.1 925.7h0M1590.3 854.1h0M1617.4 864.6h0M1588.2 942.4h0M1606.6 897.9h0M1573.7 943.4h0M1599.7 927.8h0M1583.6 921.6h0M1591.9 914.5h0M1607.8 940.8h0M1567.1 895.1h0M1640 873.3h0M1591.2 879.4h0M1587.3 932.4h0M1579.4 875.7h0M1585.5 923.8h0M1578 907.6h0M1572.6 943.1h0M1586.6 941.9h0M1590.9 958.5h0M1582.3 961h0M1612.3 902.5h0M1605.2 884.1h0M1600 946.2h0M1582.1 948.4h0M1580.6 918.7h0M1589.3 934h0M1590.6 880h0M1584 899.8h0M1589.6 956.2h0M1569.5 963h0M1577.6 905.5h0M1634.7 881.1h0M1598.3 848h0M1620 924.9h0M1604.7 917.4h0M1613.3 902.2h0M1607.7 946h0M1573.1 936.1h0M1604.2 864.2h0M1591.3 900.9h0M1604.4 945.1h0M1578.5 949h0M1581.1 919.9h0M1599.7 909.8h0M1590.3 957.3h0M1577.1 890.8h0M1594.2 957.4h0M1593.2 906.5h0M1627.2 841.4h0M1588.1 893.2h0M1575.6 947.9h0M1613 866.4h0M1606.4 946.8h0M1598.3 903.6h0M1604.2 862.6h0M1590.9 953h0M1563 918.1h0M1600 885h0M1573.6 941.3h0M1605.1 946.6h0M1620.1 908.3h0M1599 925.3h0M1589.4 873.9h0M1618.4 933.5h0M1588.8 917.4h0M1610.9 925.3h0M1619.5 934.9h0M1573.6 964.5h0M1597.1 944.7h0M1583.7 907.1h0M1600.3 911.3h0M1580.2 927.4h0M1578.5 931.3h0M1585.6 884.3h0M1575 965.7h0M1581 917h0M1566.1 919h0M1564.1 903.5h0M1578.1 871.9h0M1590.8 929.6h0M1597.2 919.7h0M1595.4 934.8h0M1591.2 898h0M1589 939.5h0M1585.7 906.9h0M1584.1 932.6h0M1589.6 894.3h0M1597.8 882.3h0M1597.6 919.4h0M1605.4 888.7h0M1571.7 843.3h0M1591.8 901.9h0M1594.8 791h0M1589.3 816.5h0" stroke="#c41c14" opacity="0.6"/>
<path d="M1603.6 925.9h0M1610.5 902.7h0M1595.5 907.4h0M1575.2 937.9h0M1615.2 850.1h0M1591.7 956.7h0M1579.2 919.9h0M1586.6 947.9h0M1586.1 915.6h0M1580.8 935.3h0M1574.6 933.3h0M1581.8 930.2h0M1574.9 903.7h0M1608.8 919.2h0M1586.8 969.5h0M1611.8 900.2h0M1603.4 936.9h0M1593.2 879.4h0M1638.9 880.1h0M1608.5 902.6h0M1580.4 925.5h0M1574.9 907.1h0M1569.4 959h0M1587.8 926.1h0M1599.5 906.7h0M1611.6 881.2h0M1581.1 960.2h0M1617.8 877.3h0M1602.5 950.1h0M1599.7 964.2h0M1594.4 904.6h0M1600.8 941.5h0M1595.2 960.1h0M1591.6 937.1h0M1588.5 911.8h0M1578.9 928h0M1578.1 832.7h0M1576.4 862.7h0M1601.2 933.1h0M1571.8 843.2h0M1608 933.1h0M1592.3 937h0M1565.9 907.4h0M1578.6 956.1h0M1605 908.4h0M1576.5 941.2h0M1608 916.1h0M1599.5 893.9h0M1610.4 899.5h0M1575.6 908.4h0M1579.1 951.4h0M1613.6 904.7h0M1590.8 933.8h0M1587.8 879.1h0M1597 917.6h0M1587.6 920.7h0M1578.4 909.2h0M1580.7 905.4h0M1597.4 921.2h0M1582.4 900.7h0M1582.5 917.8h0M1584.1 892.2h0M1597.3 883.5h0M1595 922.1h0M1589.3 912.2h0M1589.6 886.9h0M1586.9 948h0M1588.5 921h0M1592.7 919.4h0M1586.3 901h0M1592.7 897.8h0M1609.7 869.4h0M1589.6 950.1h0M1567.2 912.8h0M1607.4 949.6h0M1576.5 955.1h0M1586.2 919.5h0M1569.6 956.9h0M1597.6 902.9h0M1583 866.2h0M1597.8 952.1h0M1592.1 932.9h0M1582.2 952.4h0M1568.7 961.7h0M1579.5 960.6h0M1573.8 970.9h0M1588.6 944.4h0M1591.4 924.4h0M1608.3 880.4h0M1603.6 924.9h0M1580.1 960h0M1573.2 945.5h0M1570.5 861.3h0M1605 877h0M1582.8 947.7h0M1602.5 910.2h0M1608.2 888.7h0M1593 919.2h0M1605.4 888.8h0M1595.6 885.4h0M1596.5 897.4h0M1585 917.7h0M1597.6 909.4h0M1576.2 963.6h0M1601 942.6h0M1614.8 925.7h0M1597.3 933.4h0M1600.6 911.9h0M1581.6 912.2h0M1585.3 928.1h0M1581.7 922h0M1594 890.6h0M1587.9 935.8h0M1600.4 950h0M1614.7 940.8h0M1620.7 923.9h0M1586 959.5h0M1568.3 908.1h0M1584.1 931h0M1591.6 937.9h0M1588.2 859.1h0M1589.6 973.3h0M1603.1 896.1h0M1576.6 907.4h0M1583 922.6h0M1595.8 929.7h0M1582.2 914.4h0M1584.5 917.2h0M1577.8 940.3h0M1589.9 930h0M1594.1 904h0M1613.5 925.9h0M1597.5 942.5h0M1580.9 933.1h0M1589.2 930.3h0M1615.3 897.2h0M1596.2 942.8h0M1597.1 947.4h0M1592.7 879.9h0M1595.8 932.7h0M1598 884.9h0M1582.6 951.8h0M1595.5 883.1h0M1604.3 869h0M1613.6 929.4h0M1588.8 854.4h0M1585.8 929.3h0M1588.5 934.8h0M1580.3 915.4h0M1587.6 969.8h0M1604 819.2h0M1580.8 836.2h0M1604.2 890.5h0M1595.8 941.7h0M1577.6 942.2h0M1591.8 937.8h0M1591.7 932h0M1598.4 962.3h0M1592.4 910h0M1590 905h0M1606.3 905.4h0M1587.8 905.3h0M1577.6 937h0M1574.9 918.3h0M1591 908.2h0M1597.7 924h0M1592.4 919.7h0M1587.7 885.2h0M1589.1 912.1h0M1598.7 916.6h0M1590.4 872.4h0M1586.2 902.5h0M1589.9 924.5h0M1596.4 944.8h0M1610.2 827.1h0M1578.4 914.3h0M1585.4 944.5h0M1566.2 967h0M1597.2 898.5h0M1579.9 922.9h0M1605.7 857.6h0M1580.7 894.1h0M1583 917.8h0M1582.1 916.9h0M1599 862.6h0M1587 922.5h0M1616.5 942h0M1593.8 904.7h0M1614 867.8h0M1567.6 901.1h0M1602.1 943.7h0M1597.5 888.5h0M1591.2 910.7h0M1594.7 934.5h0M1583.4 881.2h0M1598.7 893.9h0M1571.6 928.4h0M1579 945.6h0M1582.1 933.8h0M1597.8 943.2h0M1599.1 920.8h0M1607.5 936.7h0M1602.9 900.1h0M1601.4 864.1h0M1568.2 970.9h0M1585.8 937.1h0M1593.3 918.8h0M1605.5 948.2h0M1589.4 917.4h0M1597.5 873.6h0M1605.8 917.3h0M1595.9 869.6h0M1585.2 920.3h0M1581 920.1h0M1578.4 880.1h0M1599 904.7h0M1586.9 911h0M1594.1 951.2h0M1592.2 907.5h0M1577.5 921.9h0M1602.1 897.9h0M1598.7 868.4h0M1606.9 887.9h0M1587.8 958h0M1573.7 945.8h0M1605.4 851.6h0M1583.2 931.6h0M1601.9 877.6h0M1568.3 856.7h0M1573.1 920.2h0M1584.7 921.9h0M1610 893.9h0M1602.8 884h0M1599.7 912h0M1579.6 947.8h0M1592.6 917.5h0M1588.3 941.1h0M1586.6 924.6h0M1596.3 886h0M1602.9 908h0M1587.2 945.3h0M1611.7 915.5h0M1594.8 894.6h0M1582.6 923.9h0M1579.2 923.9h0M1594.8 946.8h0M1573.5 897.1h0M1574.7 912.1h0M1583.7 938.8h0M1600.5 916.7h0M1612 906.1h0M1630 902.3h0M1590.6 905.7h0M1599.4 871.1h0M1580.3 866h0M1573.2 910.8h0M1572.2 971.6h0M1594.6 917.2h0M1566.7 960.2h0M1587.8 918.8h0M1582.2 969.9h0M1617.1 925.8h0M1615.9 911.3h0M1605.2 918.7h0M1621.4 902.8h0M1609.2 944.4h0M1595.7 892.7h0M1593.4 907.8h0M1596.5 907h0M1575.4 968.5h0M1586.9 912.4h0M1591.7 931.3h0M1595.5 917.6h0M1587.7 877.1h0M1612.7 938.4h0M1581.4 922.9h0M1580.1 937.9h0M1586.6 917.9h0M1586.3 926.7h0M1598.4 936.9h0M1592.7 882.5h0M1580.2 834.6h0M1604.8 908.8h0M1592.2 898.8h0M1577 885.3h0M1594.9 953.5h0M1590.7 926h0M1593.2 905.7h0M1597.7 924.9h0M1596 871.8h0M1610.6 921.7h0M1591.9 914.2h0M1583.4 906.7h0M1600.3 921.4h0M1588.1 906.5h0M1598.4 902.3h0M1580.9 886.2h0M1595 888.2h0M1605.2 926.8h0M1585.2 910.2h0M1593.6 944.7h0M1582.3 931.9h0M1590.8 913.6h0M1581.9 950.6h0M1611.1 917.8h0M1599.4 887.3h0M1595 937.4h0M1583.3 920h0M1623.7 912.7h0M1587.8 882.8h0M1587.8 922.7h0M1577.9 873.2h0M1598.6 894.4h0M1590.1 905.4h0M1579.9 944.1h0M1636.1 918.6h0M1584.4 938.2h0M1598.2 938.8h0M1587.3 883h0M1637.4 872.8h0M1601 907.2h0M1591.7 906.5h0M1593.6 898.1h0M1590.2 904.8h0M1589.1 922.2h0M1587.4 867.3h0M1615.1 914.6h0M1571.8 923.2h0M1589.5 925.7h0M1571.8 936h0M1590 946.9h0M1579.9 929.3h0M1577.9 969.7h0M1596.9 939.2h0M1578.2 899.9h0M1579 970.3h0M1623.8 867.7h0M1613.8 880.2h0M1587.9 865.7h0M1577.1 870.8h0M1590.8 936h0M1600.3 881.8h0M1591.2 803.7h0M1650 860.2h0" stroke="#c41c14" opacity="0.6"/>
<path d="M1610.1 874.3h0M1601.6 917.8h0M1585.3 896.9h0M1598.2 910.8h0M1587.2 908.6h0M1584.8 892.6h0M1571.9 931h0M1588.6 911.6h0M1591.1 939.6h0M1598.2 903.1h0M1594.6 931.2h0M1584.7 928.6h0M1627.6 861.8h0M1579.2 935h0M1606.4 902.2h0M1595.8 949.3h0M1607.3 910.9h0M1585 930.2h0M1598 887.8h0M1581.4 932.1h0M1588.1 919h0M1578.8 957.9h0M1598.5 951.8h0M1574.9 915h0M1593.4 923.8h0M1580.9 934.8h0M1592.9 969h0M1583.2 942.5h0M1583.7 922.4h0M1594.3 941.7h0M1588.6 913.4h0M1597.8 926.7h0M1586.8 928.1h0M1576.1 940.5h0M1607 947.6h0M1585 875.3h0M1595 934.5h0M1595.7 880.7h0M1591.3 923.7h0M1586.9 953.1h0M1589.8 903.4h0M1593 879.5h0M1576.3 925.7h0M1597.1 890h0M1586.4 934.5h0M1576.1 924.4h0M1609 931.3h0M1608.5 905.3h0M1572.9 884.8h0M1604.7 866.3h0M1600.1 905.9h0M1596.9 935.4h0M1587 915.2h0M1627.4 892.4h0M1597.1 950.7h0M1575.1 931.7h0M1586.9 973.4h0M1599.5 959.7h0M1605.9 846.5h0M1606.4 907.6h0M1574.2 910.9h0M1590.8 926.5h0M1582.4 889.6h0M1582.8 951.6h0M1587.4 879.9h0M1591.2 920.5h0M1603.1 855.2h0M1581 930.3h0M1583.8 896.8h0M1605.1 908.5h0M1575.5 947h0M1572.8 943.8h0M1599.6 971.5h0M1577 942.8h0M1579.7 951h0M1584.7 933.9h0M1574.4 949.7h0M1586.4 967.3h0M1592.6 959.6h0M1594 919.8h0M1582.3 867.7h0M1591.1 923.6h0M1586.1 936.7h0M1593.2 913.9h0M1590.2 918.5h0M1576.8 925.9h0M1600.3 924h0M1605 945.2h0M1618.7 852.2h0M1582.4 927.8h0M1595.4 948.9h0M1587.2 944.9h0M1594 926.5h0M1599.6 936.4h0M1592.3 931h0M1590.4 912.5h0M1587.9 917.8h0M1624.8 857h0M1592.8 892.4h0M1592.4 916.1h0M1576.9 921.5h0M1601.8 926.5h0M1592.7 910.2h0M1597.5 922h0M1594.1 867.5h0M1585.4 930.6h0M1581 924.5h0M1589.5 935.3h0M1591.2 879.5h0M1587.9 917h0M1571.6 928.2h0M1613.6 889.4h0M1602.6 932.4h0M1583.9 907.5h0M1590.9 869.3h0M1629 874.7h0M1592.2 851.9h0M1619.6 822h0M1598.9 933.5h0M1578.6 918.1h0M1608.7 934.1h0M1593.8 940.7h0M1565 948.6h0M1581 936.5h0M1586.5 903.2h0M1596.7 891.2h0M1594.9 896.9h0M1608.8 940.8h0M1588 910.9h0M1582.2 892.5h0M1576.5 941.7h0M1600.2 946.6h0M1580.9 968.7h0M1590.4 934.5h0M1578 967.3h0M1600.8 896.1h0M1593.3 890.9h0M1569.8 876.5h0M1587.7 925.2h0M1605.6 915.3h0M1582.4 930.5h0M1601.2 932.6h0M1586.8 910.2h0M1589.1 943.1h0M1597.8 895.9h0M1578.9 890.3h0M1584.9 952.6h0M1611.1 909.5h0M1573.8 921.9h0M1624.3 905.1h0M1589.6 898h0M1569.4 925.4h0M1579.7 967.1h0M1571.2 848.3h0M1592.5 940.1h0M1579.5 906.8h0M1576.2 955.1h0M1567.1 908.8h0M1596.7 916.8h0M1588.2 909.2h0M1596.1 961.2h0M1588.7 886.2h0M1583 926.8h0M1577.7 939.7h0M1618.1 879.2h0M1603 929.9h0M1621.5 902.5h0M1593.9 954h0M1589.3 957.7h0M1582.7 916.7h0M1582.7 942.8h0M1596.3 912.9h0M1581.2 898.9h0M1588.5 863.7h0M1584.7 891.8h0M1600.4 925.9h0M1588.7 911.3h0M1592.1 870.5h0M1587.6 881.2h0M1602.6 920.7h0M1582.6 962.3h0M1590.2 938.4h0M1595.6 892.4h0M1581.9 933.6h0M1571.4 950.9h0M1596.2 893.8h0M1598.6 931.7h0M1600.5 932h0M1597.8 912h0M1564.2 966.9h0M1590.7 914.3h0M1587.7 930.9h0M1585.6 907.2h0M1566.3 942.9h0M1564.1 948.3h0M1601.5 916.3h0M1582 942.9h0M1606.2 944.7h0M1590.3 925.4h0M1592.6 944.9h0M1594.2 912.8h0M1598 927.5h0M1585.9 890.6h0M1582.1 904.6h0M1583.5 928.8h0M1605.6 945.2h0M1574.9 921.4h0M1591.6 913.3h0M1580.8 903h0M1588.4 919.3h0M1566.8 944.2h0M1615.3 939.5h0M1586.8 912.4h0M1576.1 906h0M1589.2 926.9h0M1618 869.8h0M1595.6 938.1h0M1588 925.8h0M1579.3 912.1h0M1596.6 913.8h0M1573.1 853.7h0M1579.3 864.9h0M1598.9 955.1h0M1592.6 901.8h0M1598.3 928.8h0M1601.3 927.7h0M1583.6 942.5h0M1587.7 937h0M1606.5 850h0M1584.1 907.4h0M1573.9 971.4h0M1600.2 933h0M1597.5 876.6h0M1604.1 903.9h0M1584.2 926.6h0M1577.2 955.2h0M1607.2 924h0M1594.2 936.3h0M1573.2 936.3h0M1588.8 928.4h0M1583.2 920.4h0M1589.7 927.2h0M1592 916.3h0M1602.4 905.7h0M1593.4 935.8h0M1595.5 913.3h0M1622.4 879.8h0M1623.3 906.6h0M1584.1 935.4h0M1591.9 932.1h0M1604.2 939.5h0M1592.7 956.2h0M1588.3 944.1h0M1592.7 903.8h0M1592.7 942.7h0M1594 968.8h0M1602.1 923.1h0M1586 947.3h0M1580.4 946.1h0M1569.3 951.3h0M1599.4 937.5h0M1577.6 880.2h0M1587.8 924h0M1593 906.5h0M1595.4 896.3h0M1582.9 921.6h0M1597.8 935.9h0M1581.5 900.3h0M1593.6 927.9h0M1584.4 916.1h0M1602 918.5h0M1571.8 941.4h0M1616.8 862.4h0M1580.9 877.2h0M1632 889.1h0M1595.9 897.1h0M1581.4 859.2h0M1591 924.6h0M1600.5 930.5h0M1564.3 899.8h0M1601.5 945.6h0M1595.2 921.4h0M1598.4 956.3h0M1615.1 942.7h0M1592.8 958h0M1567.8 883.5h0M1603.6 916.7h0M1591.1 873.1h0M1579.3 904.2h0M1586.6 951.3h0M1609 867.1h0M1601.5 936.3h0M1590.7 941.3h0M1585.3 909.5h0M1579 899.7h0M1614.2 900.6h0M1596.2 940.8h0M1583.7 893h0M1593.7 927.5h0M1583.5 918.8h0M1617.7 923h0M1588 968.7h0M1605.2 897.3h0M1575.4 890.6h0M1638.3 910.4h0M1589.4 913.3h0M1584.4 954.9h0M1609.5 927.9h0M1591.7 888.2h0M1606.7 881.6h0M1591.1 913.6h0M1598.3 950.2h0M1615 893.7h0M1597.6 933.7h0M1591.5 965.3h0M1585.7 969.4h0M1598.1 935.9h0M1587.5 891.8h0M1585.2 947.4h0M1577.2 814.4h0M1598.3 873.3h0M1614.2 878.1h0M1607.4 919h0M1598.9 908.7h0M1604.7 931.8h0M1580.2 934.7h0M1605.4 892.3h0M1577.1 868.1h0M1595.9 970h0M1602.2 888.5h0M1589.1 907.5h0M1584 949.5h0M1600.7 901.1h0M1594.5 921.1h0M1608.7 839.6h0M1573.1 852h0M1590.4 849.5h0M1572.1 913.8h0M1604.1 882.6h0M1616.5 871.5h0M1606.6 934.4h0M1592.7 925.7h0M1595.8 807.4h0" stroke="#c41c14" opacity="0.6"/>
<path d="M1606.7 949.3h0M1609.2 912.9h0M1584.4 962h0M1582.8 913.1h0M1571.7 940.9h0M1605.4 890h0M1624.6 921.3h0M1579.4 956.7h0M1593.7 891h0M1587 853.7h0M1630.4 917.7h0M1608.2 928.3h0M1592.2 926.7h0M1633.2 876.4h0M1559.7 893.4h0M1602.2 935h0M1597.9 906.8h0M1592.4 948.7h0M1604.5 857h0M1580 913.2h0M1574.2 938.3h0M1609 869h0M1589.3 910.2h0M1584.3 947.1h0M1583.8 924.3h0M1596.9 954.6h0M1606.4 945.5h0M1578.8 941.9h0M1589.6 939.1h0M1577.1 883.6h0M1577.3 924.6h0M1591.4 929.5h0M1599.8 956.6h0M1585.8 939.4h0M1584.4 934.2h0M1559.4 933.6h0M1595 913.4h0M1610.4 907.9h0M1579.6 945.1h0M1578.2 914h0M1589.4 934.9h0M1591.8 923.5h0M1589 914.5h0M1596.9 952.2h0M1629.2 860.8h0M1611 939.9h0M1574.6 951.8h0M1581.9 937.5h0M1630 906.3h0M1575 924.4h0M1588.6 929.6h0M1570 958.9h0M1592.6 875.4h0M1596 893.9h0M1596.8 927.8h0M1575.8 897.2h0M1590.6 908.6h0M1595.4 884h0M1583 930.9h0M1601.7 927.1h0M1612 915.7h0M1597.1 959.9h0M1584.1 946.3h0M1588.7 891.8h0M1588.3 936h0M1598.5 932.4h0M1584.1 904.9h0M1576 943h0M1600.7 848.1h0M1619.1 917.4h0M1587.1 962.8h0M1608 948.9h0M1578.5 956.2h0M1584.7 909.9h0M1598 899.4h0M1588.6 860.6h0M1584 891.9h0M1596 931.8h0M1571.4 942.2h0M1608.7 898.8h0M1592.6 947.1h0M1588.1 925.5h0M1582 952.8h0M1578.9 933.6h0M1573.9 954.5h0M1606.9 882.6h0M1592.3 934.5h0M1592.2 939.5h0M1599.5 918.8h0M1587.9 932.8h0M1603.2 936.5h0M1593.9 918.4h0M1623.5 899.1h0M1587.4 906.3h0M1582.8 969h0M1574.7 952.9h0M1588.4 868.4h0M1576.8 951.8h0M1610 894h0M1583.1 958.5h0M1599.4 947h0M1588.8 961.3h0M1585.6 935.6h0M1630.4 878.5h0M1594.7 917.1h0M1620 919.6h0M1619.2 875h0M1590.9 907.8h0M1598.2 935.1h0M1597.1 907.5h0M1595.8 917.2h0M1575.8 930.7h0M1590 930.8h0M1580.3 958.2h0M1599.4 904.1h0M1608.9 947.3h0M1584.6 905.7h0M1598.7 872.9h0M1609.3 902.7h0M1585.5 862.9h0M1611 937.6h0M1608.5 885.3h0M1578.9 890.6h0M1584.9 939.4h0M1620.4 928.5h0M1583.2 918.1h0M1588.5 958.5h0M1568.8 931.7h0M1577.3 916.7h0M1591.8 950.5h0M1602.4 944.4h0M1591.7 889.4h0M1585.2 961.4h0M1578.8 817.3h0M1641.2 848h0M1590.6 912.7h0M1601.9 926.2h0M1623.8 860.7h0M1575.1 926h0M1596.4 884h0M1596.7 931.9h0M1630.6 845.4h0M1615.4 896.3h0M1597.2 879h0M1604 931h0M1589.4 934.9h0M1570.1 932.1h0M1588.5 909.9h0M1624.7 918h0M1582.3 891.8h0M1614.9 925.7h0M1582.5 910.9h0M1593.3 912.3h0M1583.4 912.9h0M1582.9 918.7h0M1589.3 916.6h0M1596.4 912.6h0M1582.6 912.4h0M1598.3 951.5h0M1590.2 868.7h0M1589.2 901.6h0M1588.8 816.9h0M1571.5 944.4h0M1592.8 862.4h0M1586 944.2h0M1596 915.8h0M1616.6 885h0M1595.7 923.1h0M1612.6 821.5h0M1579.2 892.5h0M1597 885.4h0M1570.3 963.9h0M1577.9 963h0M1587.5 873h0M1600.6 871.8h0M1630.6 868h0M1590.7 944.1h0M1614 940.6h0M1612.7 923.1h0M1605.4 942h0M1593.9 903.1h0M1594.3 958h0M1579.7 927h0M1593.3 911.2h0M1580.9 944.8h0M1594.7 928.2h0M1583.3 948.2h0M1594.7 889.6h0M1589.7 927.7h0M1572.5 964.1h0M1596.3 934.5h0M1594.3 910.7h0M1602.1 923.9h0M1571.5 929h0M1584 925.8h0M1614.3 941.5h0M1592.4 931.9h0M1578.7 861.9h0M1591.6 877.6h0M1573.8 919.4h0M1572 901.9h0M1591.9 899.1h0M1581.7 891.8h0M1571.4 922.9h0M1583.7 958h0M1604.4 859.3h0M1595.2 927.2h0M1581.8 907.3h0M1593.2 962h0M1592.8 944.2h0M1586.9 908.6h0M1593.3 943.7h0M1571.9 923.8h0M1587.7 932.4h0M1600.2 946.6h0M1584.2 909.2h0M1581.9 891.2h0M1582.1 872h0M1594 921.9h0M1580.6 948.2h0M1591.1 900.4h0M1591.2 902.6h0M1602.4 847.3h0M1586.7 931.9h0M1602.2 870.3h0M1594.1 899.3h0M1588.1 925.8h0M1595.6 969.1h0M1609.7 821h0M1589.5 958.8h0M1599.8 973.5h0M1583.5 924h0M1585.7 898.6h0M1599.5 899h0M1600.1 907.9h0M1588.3 891h0M1599.1 924h0M1585.6 931.2h0M1606.9 888h0M1593 962.9h0M1594.1 908h0M1580.5 893.9h0M1570.5 907.8h0M1607.3 896h0M1578.8 934.7h0M1600.3 918.7h0M1593.2 949.3h0M1584.9 869.4h0M1571.6 921.8h0M1560.4 880.2h0M1608.3 852.8h0M1582.7 919.4h0M1580.2 932.9h0M1581.5 973h0M1617.4 938.2h0M1583.6 893.5h0M1583.8 947.8h0M1588.2 902.6h0M1589.2 942h0M1594.4 924.3h0M1595.7 955.4h0M1586 915.6h0M1578.7 907.2h0M1588.1 902.2h0M1581.2 943.6h0M1586.9 938.8h0M1595.5 890.2h0M1600.7 951.8h0M1579.7 842.7h0M1605.4 857.7h0M1608.5 889.4h0M1587.2 919.1h0M1589.5 901.6h0M1601.4 919.5h0M1599.9 941.6h0M1565.3 898.5h0M1577.4 915.5h0M1566 955.1h0M1612.6 906.4h0M1589 933.4h0M1585.9 902h0M1609.2 933.3h0M1597.5 946.1h0M1571.8 947.7h0M1598.7 914.9h0M1610.1 920.7h0M1601 939.2h0M1588.3 879.4h0M1633.6 920.5h0M1595 949.9h0M1579.7 923.1h0M1590.1 908.1h0M1595.8 886.9h0M1580 906.8h0M1590.6 930.9h0M1576.9 892.7h0M1585.6 894.8h0M1570.7 898.4h0M1583 953.1h0M1580.4 932h0M1609.5 924.4h0M1589.9 965.5h0M1565.8 911.1h0M1597.8 902.2h0M1595.7 954.4h0M1615.3 861.1h0M1603.7 912.8h0M1590.6 945.9h0M1604.3 959.5h0M1580.8 932.3h0M1576.7 920h0M1601.4 933.8h0M1588.3 944.5h0M1627 915.4h0M1596.1 922.4h0M1584.2 922.5h0M1574.1 908.2h0M1596.7 866.4h0M1600 879.2h0M1620.1 891.5h0M1601.5 887.7h0M1595.4 890.4h0M1620.8 865.5h0M1588.4 930.5h0M1583.7 952.3h0M1593.4 908.4h0M1579.4 940.4h0M1601.3 874.2h0M1582.3 898.8h0M1594 896.5h0M1589.2 950h0M1597.8 948.9h0M1577.5 948.7h0M1603.8 939.3h0M1578.1 856.7h0M1590.3 943.6h0M1578.1 923.1h0M1582.7 859.6h0M1610.8 913.5h0M1578.5 894.9h0M1604.2 895.9h0M1593.2 903h0M1565.4 821h0" stroke="#c41c14" opacity="0.6"/>
<path d="M1600.7 888.7h0M1572 968h0M1589.2 929.9h0M1584 900.3h0M1564.6 901.7h0M1593.7 918.4h0M1601.3 884.9h0M1579.5 961.2h0M1574.3 895.1h0M1584.3 899.8h0M1587 922.2h0M1599.1 859.9h0M1574.4 936.6h0M1596.4 936.7h0M1601.8 912.8h0M1599.2 916.3h0M1559.9 886.5h0M1598.8 961.2h0M1589.8 896.3h0M1586.3 872.9h0M1626.7 897.1h0M1578.1 970h0M1594.1 943h0M1603 886.6h0M1588.9 956.2h0M1588.7 930.8h0M1572.8 894.6h0M1570.6 933.5h0M1586.9 930.4h0M1584.5 902.4h0M1591.2 931.4h0M1594.9 950.6h0M1597.6 875.1h0M1571.6 914.6h0M1596.5 906.5h0M1594 920.8h0M1601.5 933.7h0M1594.7 906.3h0M1596.9 906.7h0M1599.8 934.4h0M1586.1 972.6h0M1583.5 961.3h0M1577.2 905.2h0M1596.5 933.9h0M1593.2 900h0M1586.5 914h0M1597.6 941.6h0M1600.9 887.3h0M1583.7 921.3h0M1578.5 870.5h0M1584.4 918.6h0M1591.5 933.7h0M1591.2 911.1h0M1586.1 945.9h0M1591.3 954.5h0M1578 966.3h0M1589.7 897.3h0M1577.5 969.3h0M1569.9 973h0M1585.5 909h0M1581.3 941.2h0M1601.1 963h0M1612.3 944h0M1596.5 938.7h0M1586.8 941.2h0M1591 922.8h0M1594.5 918.3h0M1600.1 938.4h0M1587.2 879.3h0M1590.4 931.7h0M1587.6 896.6h0M1567.7 952.1h0M1581.5 939.1h0M1613.3 937.4h0M1615.3 884h0M1558.3 929.1h0M1594.1 916.6h0M1582.8 930.6h0M1581.8 882.5h0M1603 956.9h0M1589.5 891.5h0M1617.7 909.6h0M1581.8 948.9h0M1590.6 914h0M1586.8 952.4h0M1591.7 897.3h0M1577.6 945.7h0M1596.2 916.3h0M1576.1 881.8h0M1576.3 925.1h0M1594.7 947.9h0M1585 947.5h0M1594.3 892.5h0M1572.5 961.4h0M1590.2 937.8h0M1588.3 883.5h0M1593.2 911.1h0M1600.5 893.1h0M1617 923.2h0M1578.7 915.7h0M1613.5 913.6h0M1619.9 939.6h0M1574.4 872.5h0M1599.1 903h0M1581.2 947.7h0M1588.4 966.9h0M1598.1 950.7h0M1588.4 954.1h0M1575.4 929.4h0M1614.5 825h0M1600.3 923.5h0M1597.1 919.7h0M1597 917.9h0M1594.3 900.9h0M1580.2 969.9h0M1611.8 945.5h0M1590.1 954.9h0M1585 916.4h0M1595.9 923.1h0M1606.5 933.4h0M1596.7 938.4h0M1598.7 922.3h0M1596.9 877.9h0M1583.8 936.5h0M1573.6 935h0M1604.8 917.2h0M1596.5 911h0M1577.6 886.9h0M1588.6 899.5h0M1583.8 962.9h0M1603.8 956.1h0M1586.7 939.5h0M1583 889h0M1583.5 881.3h0M1598.8 893.7h0M1582.5 954.1h0M1608.8 928.6h0M1581.3 941.7h0M1599.3 916.2h0M1598.9 837.2h0M1575.9 889.2h0M1590.7 898.4h0M1608.7 897.9h0M1578.6 907.3h0M1598.9 931.4h0M1591.1 900.1h0M1598.8 882.7h0M1602.5 911.9h0M1616.5 875.4h0M1608.8 912.1h0M1593.1 946.3h0M1621.1 925.7h0M1583.5 946.5h0M1603.7 864.6h0M1603.3 909.9h0M1590.7 943.1h0M1564.7 945.9h0M1579.3 901h0M1588.4 932.2h0M1597.3 921.3h0M1595.2 909h0M1594.7 936.6h0M1596.5 830.1h0M1592.5 909.6h0M1621.9 920.7h0M1581.1 927.4h0M1589.9 935.2h0M1577.1 907.3h0M1565.1 881.9h0M1588.9 914.1h0M1594.5 902.4h0M1585.9 962.7h0M1576.9 930.4h0M1605.3 915.8h0M1597.4 926.1h0M1572.6 887.3h0M1573.3 912.9h0M1589.6 933.2h0M1597.2 914h0M1626 839.3h0M1613.1 925.9h0M1580.9 958.8h0M1599 853.8h0M1583.8 933.4h0M1628.6 900.8h0M1582.9 935.4h0M1594.1 913.5h0M1658.6 864.4h0M1582.1 915.1h0M1599.5 954h0M1588.4 917.7h0M1598.3 940.3h0M1600.2 895h0M1589.8 947.2h0M1588.6 933.5h0M1565.4 916h0M1585.1 932.2h0M1587.5 911.9h0M1609.1 895h0M1578.8 900.2h0M1602.6 851.8h0M1580 930.6h0M1591.6 855.5h0M1600.7 925.2h0M1574.5 886.5h0M1577.2 939.3h0M1589.6 944.3h0M1586.6 904.4h0M1581.7 855.4h0M1590.2 904.8h0M1576.1 965.6h0M1583 933.6h0M1596.4 935.1h0M1593.4 892.6h0M1585.1 960.6h0M1588.6 953.5h0M1576.3 890h0M1592.2 858.1h0M1627.6 875.5h0M1591.2 921.7h0M1593 948.5h0M1573.1 930.4h0M1578.3 928.9h0M1599.8 954h0M1599.3 929.6h0M1585.7 931.3h0M1577.7 949.6h0M1623.1 952.2h0M1576.7 887.8h0M1563.6 949.4h0M1620.6 859h0M1590.5 946.7h0M1582.7 904.5h0M1581.7 913.9h0M1602 922.9h0M1587.3 965.5h0M1595.4 891.7h0M1595.7 938.4h0M1614.9 901.3h0M1576.9 936.3h0M1610.3 848.5h0M1594.1 905.5h0M1584 912.7h0M1621.4 828.3h0M1581.9 924.6h0M1584.9 939.9h0M1620.5 872.8h0M1599.6 883.1h0M1653.6 871.2h0M1571.5 953.1h0M1585.5 931.8h0M1576 878.6h0M1603.3 921.5h0M1622.8 870.1h0M1589.3 936.9h0M1570.5 967.4h0M1573.8 928.6h0M1591 922.2h0M1590.2 949h0M1601.7 923.7h0M1589.8 913.6h0M1600.6 912.7h0M1598 960.6h0M1627.6 877.4h0M1609 927h0M1581.3 894.4h0M1574 897.8h0M1632 836.6h0M1585.8 946.8h0M1581.5 927.8h0M1608.1 918.8h0M1592.8 912.1h0M1587.8 903.5h0M1581.6 927.2h0M1590.7 927.6h0M1588.9 951.8h0M1608.3 890.4h0M1570.9 905h0M1609.7 935.2h0M1572.9 934.9h0M1591.8 916.7h0M1582.5 967.2h0M1620.5 944.4h0M1589.6 886.7h0M1599.8 919.2h0M1567.1 914.9h0M1592 896.7h0M1571.7 936h0M1583.7 943.9h0M1590.9 901.2h0M1598.2 895.9h0M1604.9 932.8h0M1574 938.3h0M1597.6 865.6h0M1608.1 908.7h0M1591.7 913.9h0M1584.1 971.1h0M1590.1 927h0M1578.3 897.5h0M1598.9 898.1h0M1582.2 880.7h0M1629.2 905.6h0M1589.2 929.3h0M1607.6 931.4h0M1615.8 944.4h0M1582.4 943.4h0M1570.4 918.2h0M1596 902.7h0M1580.9 917.9h0M1579.5 912.4h0M1577.7 902.5h0M1585.5 912.1h0M1581.3 939.5h0M1597.1 928.3h0M1600.8 929.2h0M1582.6 910.3h0M1599 862.9h0M1584.8 947.2h0M1593.5 931.9h0M1589.9 918.3h0M1587 916.8h0M1565.5 930.7h0M1601.8 914.2h0M1600.4 881.9h0M1585.7 857.9h0M1604.5 927h0M1583.5 918.8h0M1589.8 960.2h0M1602.4 947.1h0M1601.1 936.3h0M1606.4 882.2h0M1591.8 924.9h0M1573.4 955.8h0M1605.4 916h0M1597.8 949.4h0M1602.8 934h0M1600.4 898.6h0M1601.4 894.4h0M1605.4 827.8h0M1580.2 877.1h0M1607.5 870.8h0M1629.8 786.5h0M1546.1 926.6h0" stroke="#c41c14" opacity="0.6"/>
<path d="M1602.3 868.5h0M1595.9 925.7h0M1580.5 956h0M1594.1 923.3h0M1581.7 885.7h0M1565.4 957.1h0M1577.9 908.2h0M1592.9 908.8h0M1581.3 934.8h0M1599.3 936h0M1612.2 898.2h0M1585.1 924.4h0M1593.6 927.3h0M1596.6 947.3h0M1570 949.5h0M1591.7 915.1h0M1591.8 928.6h0M1607.9 953.2h0M1589.5 920.5h0M1614.5 930.3h0M1596.2 888h0M1600.4 940.3h0M1600.3 949.6h0M1585.8 972.5h0M1586.7 897.8h0M1609.5 942.9h0M1584.2 940.8h0M1607.1 909.3h0M1595.2 908h0M1606.6 867.1h0M1591.2 917.3h0M1588.6 957.3h0M1582.6 972.2h0M1595.2 899.9h0M1595.2 833.6h0M1598.7 885.8h0M1588.6 925h0M1594.3 919h0M1625.2 894.9h0M1587.5 840.6h0M1591.4 948.9h0M1620.6 898.3h0M1600.8 919.6h0M1599.8 869.1h0M1579.1 949.6h0M1583.2 905.6h0M1597.8 949.8h0M1592.4 906.4h0M1621.9 927.5h0M1587.8 909.3h0M1597.7 885.1h0M1598.7 905.2h0M1581.5 887.5h0M1585.7 929.9h0M1594.8 862.8h0M1586.2 923.6h0M1616.4 852.2h0M1593.4 902.3h0M1586.7 885.2h0M1578.6 949h0M1586.1 894.8h0M1588 926.3h0M1597.6 901.5h0M1604.1 855.5h0M1580 889.5h0M1570.4 883.6h0M1586.5 920.1h0M1597.6 889.2h0M1591.2 921.4h0M1567 888.6h0M1603.6 904.5h0M1585 923.6h0M1602 935h0M1577.3 948.8h0M1615.8 899.3h0M1588.4 919.1h0M1596.3 944.1h0M1619.6 880h0M1591.1 909.9h0M1594.1 922.6h0M1571.5 884.8h0M1600.1 910.2h0M1566.9 961.3h0M1587.5 896.2h0M1603.2 871h0M1580.3 910.3h0M1568.3 940.8h0M1587.6 970.7h0M1593 904.7h0M1575.8 922h0M1612.5 907.5h0M1564.2 917.7h0M1570.6 928.2h0M1592.3 983h0M1583.1 870.7h0M1583.7 906.3h0M1605.9 898.6h0M1591.2 937.8h0M1600.6 893.4h0M1585.1 935.1h0M1574.9 954.3h0M1578.8 963.4h0M1605.3 924h0M1577 893h0M1570.2 959.4h0M1584.7 940.5h0M1598.5 900.1h0M1594.9 949.8h0M1596.1 899.2h0M1610.6 969.6h0M1586.5 942h0M1583.4 904.6h0M1592 922.9h0M1604.8 870.5h0M1605.7 912.1h0M1593.4 968.8h0M1572.3 915.7h0M1587.4 903.4h0M1591.7 927h0M1584.4 942.1h0M1583.5 959.6h0M1591.6 949.7h0M1601.6 936.8h0M1603.8 952.8h0M1600.2 911h0M1583.6 912.7h0M1594.8 874.5h0M1605.2 860.4h0M1587 951.9h0M1591.2 929.6h0M1579.4 822.6h0M1587.4 894.7h0M1569.8 898h0M1607.7 866.1h0M1575.1 857.5h0M1591.5 922.8h0M1600.7 933h0M1612.5 869.4h0M1592 911.9h0M1592 902.1h0M1583.3 903.1h0M1597.6 885.9h0M1580.6 880h0M1622.9 838.4h0M1582.8 935.1h0M1570 928.1h0M1602 896.5h0M1593.7 909.3h0M1628.4 888.1h0M1606.7 952.7h0M1584.8 923.5h0M1582.9 949.1h0M1596.4 908.4h0M1603.7 956.4h0M1599.7 935.9h0M1585.1 939.6h0M1580.4 913.9h0M1591.7 920.1h0M1606.6 861.1h0M1609.8 948.4h0M1588.3 941.3h0M1591.3 935.8h0M1582.9 971.1h0M1581.6 872.6h0M1583.6 942.9h0M1585.4 895.6h0M1577.9 946.7h0M1581.7 948.2h0M1593 940.8h0M1603.8 926.2h0M1594.3 825.9h0M1602.7 853.6h0M1641.6 895.5h0M1574 919.6h0M1613.2 857.5h0M1599.7 962h0M1655.9 877.3h0M1601.9 951.3h0M1575 874.5h0M1593.3 892.8h0M1580.3 970.3h0M1585.5 916.6h0M1586.1 890.2h0M1602.9 897.2h0M1606.1 928.7h0M1592.5 910.8h0M1594.7 885.4h0M1577.5 935.8h0M1588.3 921.5h0M1598.2 939.4h0M1612.8 905.6h0M1588 912h0M1595.9 936.7h0M1589.1 896.4h0M1583.2 925.2h0M1606.1 901.1h0M1606.2 919.3h0M1597.4 837.7h0M1575.2 905.6h0M1565.4 901.7h0M1591.2 920.9h0M1587.6 897.2h0M1584.7 918h0M1598.2 912.7h0M1594.2 904.8h0M1594.3 932.8h0M1593.6 910.9h0M1585.7 943h0M1579.6 948h0M1615.1 916.5h0M1588.1 925.1h0M1597.2 889.7h0M1590.6 958h0M1584.3 923.1h0M1597.8 947.6h0M1595.9 898.2h0M1613.4 946.6h0M1589.5 953.9h0M1571.9 922.8h0M1601 903.6h0M1604.1 913h0M1604.3 934.8h0M1583.3 931.4h0M1580.7 862.3h0M1583.2 912.5h0M1585.7 929.4h0M1574.1 941.6h0M1587.4 875.9h0M1577.4 944.6h0M1577.7 910h0M1607.1 893.1h0M1582.5 962.8h0M1590.7 897.2h0M1592.5 968.2h0M1590.4 925.6h0M1597.8 905.1h0M1583.2 950.9h0M1595.8 916h0M1596 859.8h0M1581 895.6h0M1592.5 915.5h0M1581.4 942.4h0M1600.8 900.1h0M1635.7 893.7h0M1584.4 904.9h0M1581.9 914.5h0M1603.2 903.7h0M1584.3 953.3h0M1579.7 934.2h0M1591.5 905.4h0M1599.1 896.8h0M1576 837.3h0M1576 887.7h0M1588.3 888.1h0M1590.8 928.1h0M1607.3 896.7h0M1590.2 910h0M1596.9 943.6h0M1611.7 945.3h0M1595.2 926.9h0M1570.3 977.8h0M1597.3 850.6h0M1584.4 947.8h0M1583.1 877.7h0M1590.6 897h0M1596.7 943.5h0M1582.2 916.1h0M1578.7 942.9h0M1619.3 904h0M1585.7 923h0M1589.5 881.3h0M1611 899.8h0M1589.5 955.2h0M1600.4 912.1h0M1602.2 913.3h0M1573.1 960.4h0M1585.9 919.6h0M1590.9 901.7h0M1594.1 909.8h0M1581.7 956.5h0M1640.1 837.5h0M1588.1 881.2h0M1593.1 957.7h0M1596.7 932.1h0M1635.6 860.7h0M1593 948.6h0M1584.4 937.3h0M1567.1 899.5h0M1603.7 912.3h0M1590.7 957.9h0M1597.9 907.6h0M1585.7 956.2h0M1598.2 933.5h0M1586.8 902h0M1593.4 933.8h0M1605.4 904.2h0M1615.6 901.2h0M1606.4 944.5h0M1578.3 930.2h0M1591.8 887h0M1580 824.9h0M1588 916h0M1600.5 896.2h0M1611.5 935.6h0M1576.2 921.6h0M1592 945.8h0M1581.8 924.7h0M1591.8 952.7h0M1604 883.2h0M1585.3 880.7h0M1590.3 890.5h0M1591.8 905.9h0M1595.3 891.2h0M1563.9 909.7h0M1581.7 918h0M1614.1 917h0M1589.5 897.7h0M1563.7 950h0M1584.4 886.1h0M1573.5 918.2h0M1591.8 851.1h0M1591.9 922.3h0M1618.6 889.8h0M1606.8 915.6h0M1610.2 885.2h0M1611.9 869.3h0M1581.1 927.8h0M1629.5 853.8h0M1616.4 897.7h0M1597.4 931.4h0M1582.1 942.2h0M1579 939.1h0M1605.9 945.9h0M1587.8 845.4h0M1586.6 963.4h0M1587.2 947.7h0M1612.5 860.5h0M1608.9 914.2h0M1610.8 913.7h0M1592.7 951.3h0M1621.4 892.3h0M1663.8 800.1h0M1551.6 871.1h0" stroke="#c41c14" opacity="0.6"/>
<path d="M1608.3 937.1h0M1631.2 970.7h0M1603.7 963.8h0M1589.3 974.6h0M1635.7 948.2h0M1624 994.5h0M1595.1 983.7h0M1594.9 972h0M1590.9 985.2h0M1614.8 948.2h0M1598 944.2h0M1615.3 985.8h0M1612.7 953.3h0M1588.8 962.3h0M1636.3 949.5h0M1624.8 954.3h0M1622.7 942.5h0M1623.4 959h0M1584 955.9h0M1584.4 986.2h0M1581.5 967.2h0M1589.7 953.5h0M1616.1 976.1h0M1602.2 952.3h0M1595.5 958.8h0M1587.1 968.5h0M1597.2 963.3h0M1641.6 946.4h0M1575 979.6h0M1593.1 965.9h0M1574.6 983.4h0M1604.8 991.2h0M1592.7 950.2h0M1576.6 971.7h0M1588.7 979h0M1647.2 944.7h0M1577.1 969h0M1593.7 964.5h0M1604.3 961.1h0M1607.9 974.3h0M1581.6 978h0M1662.8 955.1h0M1575.6 973.7h0M1620.2 950.9h0M1616.7 925.4h0M1598.6 969.3h0M1619.2 962.4h0M1625.1 934.2h0M1588.8 953.4h0M1651.2 984h0M1586.1 963.9h0M1584 962.7h0M1644.5 954.9h0M1652 918.8h0M1597.9 964h0M1637.9 957.8h0M1641.5 974.3h0M1601.8 959.2h0M1642.6 1017.6h0" stroke="#2c2cf0" opacity="0.5"/>
</g>
<path d="M1533 752.7V1064H1679.7" fill="none" stroke="#111" stroke-width="2.1"/>
<text x="1526.3" y="801.8" font-size="30" fill="#1a1a1a" text-anchor="end">10</text>
<text x="1526.3" y="892.9" font-size="30" fill="#1a1a1a" text-anchor="end">5</text>
<text x="1526.3" y="986.5" font-size="30" fill="#1a1a1a" text-anchor="end">0</text>
<text x="1526.3" y="1078" font-size="30" fill="#1a1a1a" text-anchor="end">-5</text>
<path d="M1533 788.9h4M1533 881.1h4M1533 973h4M1569.1 1064v-4M1661 1064v-4" stroke="#111" stroke-width="1.7"/>
<text x="1569.1" y="1104" font-size="31.2" fill="#1a1a1a" text-anchor="middle">0</text>
<text x="1661" y="1104" font-size="31.2" fill="#1a1a1a" text-anchor="middle">5</text>
<text transform="translate(1466 908) rotate(-90)" font-size="34.3" text-anchor="middle" fill="#1a1a1a">OR ΔF/F<tspan font-size="27.5" dy="17">0</tspan><tspan dy="-17"> [%]</tspan></text>
<text x="1606" y="1143" font-size="34.3" text-anchor="middle" fill="#1a1a1a">SR ΔF/F<tspan font-size="27.5" dy="17">0</tspan><tspan dy="-17"> [%]</tspan></text>
<text x="1540" y="779" font-size="26.2" fill="#c41c14">ORR</text>
<text x="1540" y="805" font-size="26.2" fill="#2a1aff">PR</text>
<text x="1735.2" y="726" font-size="44" fill="#000">I</text>
<path d="M1811.5 1047.4 L1820.9 1029.5 L1830.2 1021.2 L1839.6 1038.7 L1849 1015 L1858.3 989.2 L1867.7 999.6 L1877 987.9 L1886.4 963.8 L1895.8 990 L1905.1 978.8 L1914.5 988.7 L1923.9 992.9 L1933.2 1001.2 L1942.6 1029.5 L1951.9 1037.8 L1961.3 1049.5 L1970.7 1060.7 L1980 1059.1 L1989.4 1057.4" fill="none" stroke="#2a12f5" stroke-width="3.5" stroke-linejoin="round"/>
<path d="M1811.5 1062 L1820.9 1063.6 L1830.2 1059.1 L1839.6 1062.8 L1849 1061.1 L1858.3 1058.6 L1867.7 1056.6 L1877 1054.5 L1886.4 1046.2 L1895.8 1035.8 L1905.1 1028.3 L1914.5 1006.6 L1923.9 958.8 L1933.2 896.4 L1942.6 846.4 L1951.9 868.5 L1961.3 929.7 L1970.7 967.1 L1980 1010.8 L1989.4 1028.3" fill="none" stroke="#c41c14" stroke-width="3.5" stroke-linejoin="round"/>
<path d="M1806.9 752.8V1064.5H1994.2" fill="none" stroke="#111" stroke-width="2.1"/>
<text x="1800.5" y="764" font-size="31.2" fill="#1a1a1a" text-anchor="end">25</text>
<text x="1800.5" y="826.7" font-size="31.2" fill="#1a1a1a" text-anchor="end">20</text>
<text x="1800.5" y="889.4" font-size="31.2" fill="#1a1a1a" text-anchor="end">15</text>
<text x="1800.5" y="952.1" font-size="31.2" fill="#1a1a1a" text-anchor="end">10</text>
<text x="1800.5" y="1014.8" font-size="31.2" fill="#1a1a1a" text-anchor="end">5</text>
<text x="1800.5" y="1077.5" font-size="31.2" fill="#1a1a1a" text-anchor="end">0</text>
<text x="1805.4" y="1103.4" font-size="31.2" fill="#1a1a1a" text-anchor="middle">-1</text>
<text x="1900.6" y="1103.4" font-size="31.2" fill="#1a1a1a" text-anchor="middle">0</text>
<text x="1994.2" y="1103.4" font-size="31.2" fill="#1a1a1a" text-anchor="middle">1</text>
<path d="M1806.9 752.8h4M1806.9 815.1h4M1806.9 877.5h4M1806.9 939.8h4M1806.9 1002.2h4M1806.9 1064.5h4M1806.9 1064.5v-4M1900.6 1064.5v-4M1994.2 1064.5v-4" stroke="#111" stroke-width="1.7"/>
<text x="1900" y="1144.5" font-size="34.3" fill="#1a1a1a" text-anchor="middle">OR Index</text>
<text transform="translate(1754 908) rotate(-90)" font-size="34.3" text-anchor="middle" fill="#1a1a1a">%</text>
<text x="1815" y="779" font-size="26.2" fill="#c41c14">ORR</text>
<text x="1815" y="805" font-size="26.2" fill="#2a1aff">PR</text>
</svg>
</body></html>
